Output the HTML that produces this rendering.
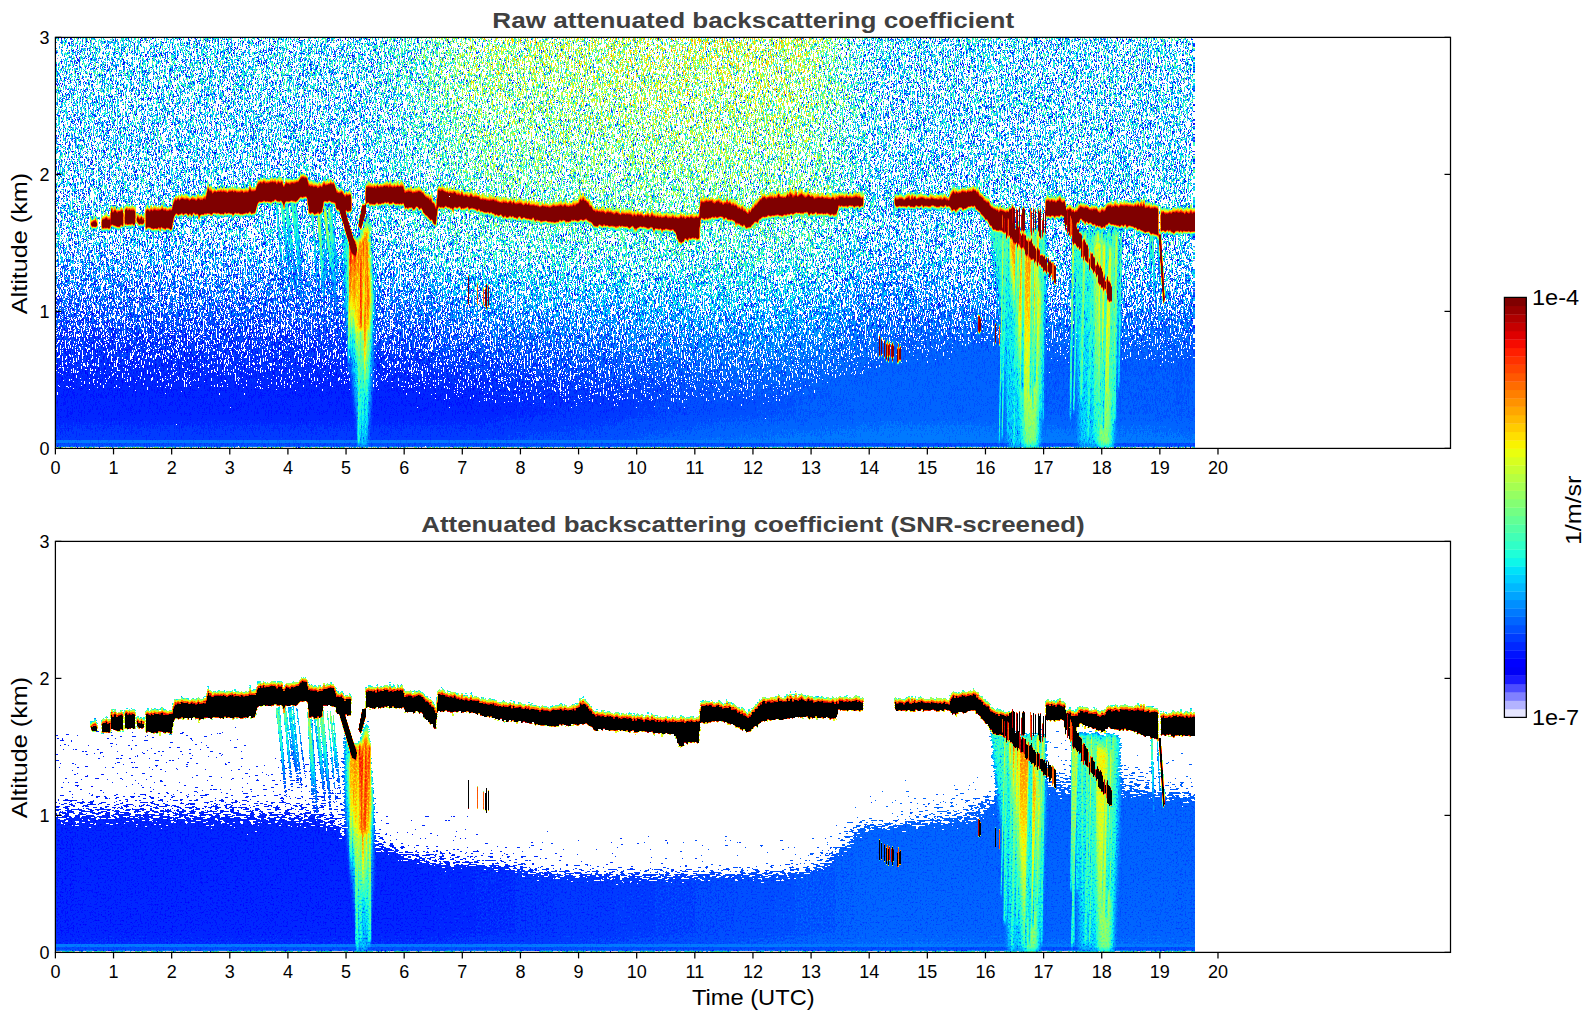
<!DOCTYPE html><html><head><meta charset="utf-8"><style>html,body{margin:0;padding:0;background:#fff;width:1595px;height:1020px;overflow:hidden}svg{display:block}text{font-family:"Liberation Sans",sans-serif}</style></head><body>
<svg width="1595" height="1020" viewBox="0 0 1595 1020">
<rect width="1595" height="1020" fill="#fff"/>
<defs><filter id="hbl" x="-5%" y="-5%" width="110%" height="110%" color-interpolation-filters="sRGB"><feGaussianBlur stdDeviation="9 0"/></filter><filter id="vbl" x="-20%" y="-20%" width="140%" height="140%" color-interpolation-filters="sRGB"><feGaussianBlur stdDeviation="0.5 2.5"/></filter><filter id="ebl" x="-20%" y="-20%" width="140%" height="140%" color-interpolation-filters="sRGB"><feGaussianBlur stdDeviation="2.2 3"/></filter><filter id="bbl2" x="-5%" y="-20%" width="110%" height="140%" color-interpolation-filters="sRGB"><feGaussianBlur stdDeviation="0.3 0.4"/></filter><filter id="bbl" x="-5%" y="-20%" width="110%" height="140%" color-interpolation-filters="sRGB"><feGaussianBlur stdDeviation="0.6 1.2"/></filter><linearGradient id="st0" gradientUnits="userSpaceOnUse" x1="0" y1="37.4" x2="0" y2="448.4"><stop offset="-0.000" stop-color="#3cd47d"/><stop offset="0.100" stop-color="#3bd47d"/><stop offset="0.200" stop-color="#39d47d"/><stop offset="0.300" stop-color="#38d47d"/><stop offset="0.400" stop-color="#37d47d"/><stop offset="0.467" stop-color="#36d47d"/><stop offset="0.533" stop-color="#32ae79"/><stop offset="0.600" stop-color="#2e7f74"/><stop offset="0.667" stop-color="#2b556e"/><stop offset="0.733" stop-color="#273266"/><stop offset="0.783" stop-color="#261d5f"/><stop offset="0.817" stop-color="#251257"/><stop offset="0.850" stop-color="#240b49"/><stop offset="0.883" stop-color="#240900"/><stop offset="0.917" stop-color="#240900"/><stop offset="0.950" stop-color="#270900"/><stop offset="0.980" stop-color="#290900"/><stop offset="0.990" stop-color="#290900"/><stop offset="1.000" stop-color="#290900"/></linearGradient><linearGradient id="st1" gradientUnits="userSpaceOnUse" x1="0" y1="37.4" x2="0" y2="448.4"><stop offset="-0.000" stop-color="#3cd47d"/><stop offset="0.100" stop-color="#3bd47d"/><stop offset="0.200" stop-color="#39d47d"/><stop offset="0.300" stop-color="#38d47d"/><stop offset="0.400" stop-color="#37d47d"/><stop offset="0.467" stop-color="#36d47d"/><stop offset="0.533" stop-color="#32ae79"/><stop offset="0.600" stop-color="#2e7f74"/><stop offset="0.667" stop-color="#2b556e"/><stop offset="0.733" stop-color="#273266"/><stop offset="0.783" stop-color="#261d5f"/><stop offset="0.817" stop-color="#251257"/><stop offset="0.850" stop-color="#240b49"/><stop offset="0.883" stop-color="#240900"/><stop offset="0.917" stop-color="#240900"/><stop offset="0.950" stop-color="#270900"/><stop offset="0.980" stop-color="#290900"/><stop offset="0.990" stop-color="#290900"/><stop offset="1.000" stop-color="#290900"/></linearGradient><linearGradient id="st2" gradientUnits="userSpaceOnUse" x1="0" y1="37.4" x2="0" y2="448.4"><stop offset="-0.000" stop-color="#3cd47d"/><stop offset="0.100" stop-color="#3bd47d"/><stop offset="0.200" stop-color="#39d47d"/><stop offset="0.300" stop-color="#38d47d"/><stop offset="0.400" stop-color="#37d47d"/><stop offset="0.467" stop-color="#36d47d"/><stop offset="0.533" stop-color="#32ae79"/><stop offset="0.600" stop-color="#2e7f74"/><stop offset="0.667" stop-color="#2b556e"/><stop offset="0.733" stop-color="#273266"/><stop offset="0.783" stop-color="#261d5f"/><stop offset="0.817" stop-color="#251257"/><stop offset="0.850" stop-color="#240b49"/><stop offset="0.883" stop-color="#240900"/><stop offset="0.917" stop-color="#240900"/><stop offset="0.950" stop-color="#270900"/><stop offset="0.980" stop-color="#290900"/><stop offset="0.990" stop-color="#290900"/><stop offset="1.000" stop-color="#290900"/></linearGradient><linearGradient id="st3" gradientUnits="userSpaceOnUse" x1="0" y1="37.4" x2="0" y2="448.4"><stop offset="-0.000" stop-color="#3cd47d"/><stop offset="0.100" stop-color="#3bd47d"/><stop offset="0.200" stop-color="#39d47d"/><stop offset="0.300" stop-color="#38d47d"/><stop offset="0.400" stop-color="#37d47d"/><stop offset="0.467" stop-color="#36d47d"/><stop offset="0.533" stop-color="#32ae79"/><stop offset="0.600" stop-color="#2e7f74"/><stop offset="0.667" stop-color="#2b556e"/><stop offset="0.733" stop-color="#273266"/><stop offset="0.783" stop-color="#261d5f"/><stop offset="0.817" stop-color="#251257"/><stop offset="0.850" stop-color="#240b49"/><stop offset="0.883" stop-color="#240900"/><stop offset="0.917" stop-color="#240900"/><stop offset="0.950" stop-color="#270900"/><stop offset="0.980" stop-color="#290900"/><stop offset="0.990" stop-color="#290900"/><stop offset="1.000" stop-color="#290900"/></linearGradient><linearGradient id="st4" gradientUnits="userSpaceOnUse" x1="0" y1="37.4" x2="0" y2="448.4"><stop offset="-0.000" stop-color="#3cd47d"/><stop offset="0.100" stop-color="#3bd47d"/><stop offset="0.200" stop-color="#39d47d"/><stop offset="0.300" stop-color="#38d47d"/><stop offset="0.400" stop-color="#37d47d"/><stop offset="0.467" stop-color="#36d47d"/><stop offset="0.533" stop-color="#32ae79"/><stop offset="0.600" stop-color="#2e7f74"/><stop offset="0.667" stop-color="#2b556e"/><stop offset="0.733" stop-color="#273266"/><stop offset="0.783" stop-color="#261d5f"/><stop offset="0.817" stop-color="#251257"/><stop offset="0.850" stop-color="#240b49"/><stop offset="0.883" stop-color="#240900"/><stop offset="0.917" stop-color="#240900"/><stop offset="0.950" stop-color="#270900"/><stop offset="0.980" stop-color="#290900"/><stop offset="0.990" stop-color="#290900"/><stop offset="1.000" stop-color="#290900"/></linearGradient><linearGradient id="st5" gradientUnits="userSpaceOnUse" x1="0" y1="37.4" x2="0" y2="448.4"><stop offset="-0.000" stop-color="#3cd47d"/><stop offset="0.100" stop-color="#3bd47d"/><stop offset="0.200" stop-color="#39d47d"/><stop offset="0.300" stop-color="#38d47d"/><stop offset="0.400" stop-color="#37d47d"/><stop offset="0.467" stop-color="#36d47d"/><stop offset="0.533" stop-color="#32ae79"/><stop offset="0.600" stop-color="#2e7f74"/><stop offset="0.667" stop-color="#2b556e"/><stop offset="0.733" stop-color="#273266"/><stop offset="0.783" stop-color="#261d5f"/><stop offset="0.817" stop-color="#251257"/><stop offset="0.850" stop-color="#240b49"/><stop offset="0.883" stop-color="#240900"/><stop offset="0.917" stop-color="#240900"/><stop offset="0.950" stop-color="#270900"/><stop offset="0.980" stop-color="#290900"/><stop offset="0.990" stop-color="#290900"/><stop offset="1.000" stop-color="#290900"/></linearGradient><linearGradient id="st6" gradientUnits="userSpaceOnUse" x1="0" y1="37.4" x2="0" y2="448.4"><stop offset="-0.000" stop-color="#3cd47d"/><stop offset="0.100" stop-color="#3bd47d"/><stop offset="0.200" stop-color="#39d47d"/><stop offset="0.300" stop-color="#38d47d"/><stop offset="0.400" stop-color="#37d47d"/><stop offset="0.467" stop-color="#36d47d"/><stop offset="0.533" stop-color="#32ae79"/><stop offset="0.600" stop-color="#2e7f74"/><stop offset="0.667" stop-color="#2b556e"/><stop offset="0.733" stop-color="#273266"/><stop offset="0.783" stop-color="#261d5f"/><stop offset="0.817" stop-color="#251257"/><stop offset="0.850" stop-color="#240b49"/><stop offset="0.883" stop-color="#240900"/><stop offset="0.917" stop-color="#240900"/><stop offset="0.950" stop-color="#270900"/><stop offset="0.980" stop-color="#290900"/><stop offset="0.990" stop-color="#290900"/><stop offset="1.000" stop-color="#290900"/></linearGradient><linearGradient id="st7" gradientUnits="userSpaceOnUse" x1="0" y1="37.4" x2="0" y2="448.4"><stop offset="-0.000" stop-color="#3cd47d"/><stop offset="0.100" stop-color="#3bd47d"/><stop offset="0.200" stop-color="#39d47d"/><stop offset="0.300" stop-color="#38d47d"/><stop offset="0.400" stop-color="#37d47d"/><stop offset="0.467" stop-color="#36d47d"/><stop offset="0.533" stop-color="#32ae79"/><stop offset="0.600" stop-color="#2e7f74"/><stop offset="0.667" stop-color="#2b556e"/><stop offset="0.733" stop-color="#273266"/><stop offset="0.783" stop-color="#261d5f"/><stop offset="0.817" stop-color="#251257"/><stop offset="0.850" stop-color="#240b49"/><stop offset="0.883" stop-color="#240900"/><stop offset="0.917" stop-color="#240900"/><stop offset="0.950" stop-color="#270900"/><stop offset="0.980" stop-color="#290900"/><stop offset="0.990" stop-color="#290900"/><stop offset="1.000" stop-color="#290900"/></linearGradient><linearGradient id="st8" gradientUnits="userSpaceOnUse" x1="0" y1="37.4" x2="0" y2="448.4"><stop offset="-0.000" stop-color="#3cd47d"/><stop offset="0.100" stop-color="#3bd47d"/><stop offset="0.200" stop-color="#39d47d"/><stop offset="0.300" stop-color="#38d47d"/><stop offset="0.400" stop-color="#37d47d"/><stop offset="0.467" stop-color="#36d47d"/><stop offset="0.533" stop-color="#32ae79"/><stop offset="0.600" stop-color="#2e7f74"/><stop offset="0.667" stop-color="#2b556e"/><stop offset="0.733" stop-color="#273266"/><stop offset="0.783" stop-color="#261d5f"/><stop offset="0.817" stop-color="#251257"/><stop offset="0.850" stop-color="#240b49"/><stop offset="0.883" stop-color="#240900"/><stop offset="0.917" stop-color="#240900"/><stop offset="0.950" stop-color="#270900"/><stop offset="0.980" stop-color="#290900"/><stop offset="0.990" stop-color="#290900"/><stop offset="1.000" stop-color="#290900"/></linearGradient><linearGradient id="st9" gradientUnits="userSpaceOnUse" x1="0" y1="37.4" x2="0" y2="448.4"><stop offset="-0.000" stop-color="#3cd47d"/><stop offset="0.100" stop-color="#3bd47d"/><stop offset="0.200" stop-color="#39d47d"/><stop offset="0.300" stop-color="#38d47d"/><stop offset="0.400" stop-color="#37d47d"/><stop offset="0.467" stop-color="#36d47d"/><stop offset="0.533" stop-color="#32ae79"/><stop offset="0.600" stop-color="#2e7f74"/><stop offset="0.667" stop-color="#2b556e"/><stop offset="0.733" stop-color="#273266"/><stop offset="0.783" stop-color="#261d5f"/><stop offset="0.817" stop-color="#251257"/><stop offset="0.850" stop-color="#240b49"/><stop offset="0.883" stop-color="#240900"/><stop offset="0.917" stop-color="#240900"/><stop offset="0.950" stop-color="#270900"/><stop offset="0.980" stop-color="#290900"/><stop offset="0.990" stop-color="#290900"/><stop offset="1.000" stop-color="#290900"/></linearGradient><linearGradient id="st10" gradientUnits="userSpaceOnUse" x1="0" y1="37.4" x2="0" y2="448.4"><stop offset="-0.000" stop-color="#3cd47d"/><stop offset="0.100" stop-color="#3bd47d"/><stop offset="0.200" stop-color="#39d47d"/><stop offset="0.300" stop-color="#38d47d"/><stop offset="0.400" stop-color="#37d47d"/><stop offset="0.467" stop-color="#36d47d"/><stop offset="0.533" stop-color="#32ae79"/><stop offset="0.600" stop-color="#2e7f74"/><stop offset="0.667" stop-color="#2b556e"/><stop offset="0.733" stop-color="#273266"/><stop offset="0.783" stop-color="#261d5f"/><stop offset="0.817" stop-color="#251257"/><stop offset="0.850" stop-color="#240b49"/><stop offset="0.883" stop-color="#240900"/><stop offset="0.917" stop-color="#240900"/><stop offset="0.950" stop-color="#270900"/><stop offset="0.980" stop-color="#290900"/><stop offset="0.990" stop-color="#290900"/><stop offset="1.000" stop-color="#290900"/></linearGradient><linearGradient id="st11" gradientUnits="userSpaceOnUse" x1="0" y1="37.4" x2="0" y2="448.4"><stop offset="-0.000" stop-color="#3cd47d"/><stop offset="0.100" stop-color="#3bd47d"/><stop offset="0.200" stop-color="#39d47d"/><stop offset="0.300" stop-color="#38d47d"/><stop offset="0.400" stop-color="#37d47d"/><stop offset="0.467" stop-color="#36d47d"/><stop offset="0.533" stop-color="#32ae79"/><stop offset="0.600" stop-color="#2e7f74"/><stop offset="0.667" stop-color="#2b556e"/><stop offset="0.733" stop-color="#273266"/><stop offset="0.783" stop-color="#261d5f"/><stop offset="0.817" stop-color="#251257"/><stop offset="0.850" stop-color="#240b49"/><stop offset="0.883" stop-color="#240900"/><stop offset="0.917" stop-color="#240900"/><stop offset="0.950" stop-color="#270900"/><stop offset="0.980" stop-color="#290900"/><stop offset="0.990" stop-color="#290900"/><stop offset="1.000" stop-color="#290900"/></linearGradient><linearGradient id="st12" gradientUnits="userSpaceOnUse" x1="0" y1="37.4" x2="0" y2="448.4"><stop offset="-0.000" stop-color="#3cd47d"/><stop offset="0.100" stop-color="#3bd47d"/><stop offset="0.200" stop-color="#39d47d"/><stop offset="0.300" stop-color="#38d47d"/><stop offset="0.400" stop-color="#37d47d"/><stop offset="0.467" stop-color="#36d47d"/><stop offset="0.533" stop-color="#32ae79"/><stop offset="0.600" stop-color="#2e7f74"/><stop offset="0.667" stop-color="#2b566e"/><stop offset="0.733" stop-color="#283366"/><stop offset="0.783" stop-color="#261e5f"/><stop offset="0.817" stop-color="#251358"/><stop offset="0.850" stop-color="#240b4a"/><stop offset="0.883" stop-color="#240900"/><stop offset="0.917" stop-color="#240900"/><stop offset="0.950" stop-color="#270900"/><stop offset="0.980" stop-color="#290900"/><stop offset="0.990" stop-color="#290900"/><stop offset="1.000" stop-color="#290900"/></linearGradient><linearGradient id="st13" gradientUnits="userSpaceOnUse" x1="0" y1="37.4" x2="0" y2="448.4"><stop offset="-0.000" stop-color="#3cd47d"/><stop offset="0.100" stop-color="#3bd47d"/><stop offset="0.200" stop-color="#39d47d"/><stop offset="0.300" stop-color="#38d47d"/><stop offset="0.400" stop-color="#37d47d"/><stop offset="0.467" stop-color="#36d47d"/><stop offset="0.533" stop-color="#32ae79"/><stop offset="0.600" stop-color="#2e7f74"/><stop offset="0.667" stop-color="#2b566e"/><stop offset="0.733" stop-color="#283367"/><stop offset="0.783" stop-color="#261e5f"/><stop offset="0.817" stop-color="#251358"/><stop offset="0.850" stop-color="#240b4c"/><stop offset="0.883" stop-color="#240900"/><stop offset="0.917" stop-color="#240900"/><stop offset="0.950" stop-color="#270900"/><stop offset="0.980" stop-color="#290900"/><stop offset="0.990" stop-color="#290900"/><stop offset="1.000" stop-color="#290900"/></linearGradient><linearGradient id="st14" gradientUnits="userSpaceOnUse" x1="0" y1="37.4" x2="0" y2="448.4"><stop offset="-0.000" stop-color="#3cd47d"/><stop offset="0.100" stop-color="#3bd47d"/><stop offset="0.200" stop-color="#39d47d"/><stop offset="0.300" stop-color="#38d47d"/><stop offset="0.400" stop-color="#37d47d"/><stop offset="0.467" stop-color="#36d47d"/><stop offset="0.533" stop-color="#32ae79"/><stop offset="0.600" stop-color="#2e8074"/><stop offset="0.667" stop-color="#2b576e"/><stop offset="0.733" stop-color="#283467"/><stop offset="0.783" stop-color="#261f60"/><stop offset="0.817" stop-color="#251459"/><stop offset="0.850" stop-color="#240c4d"/><stop offset="0.883" stop-color="#240900"/><stop offset="0.917" stop-color="#240900"/><stop offset="0.950" stop-color="#270900"/><stop offset="0.980" stop-color="#290900"/><stop offset="0.990" stop-color="#290900"/><stop offset="1.000" stop-color="#290900"/></linearGradient><linearGradient id="st15" gradientUnits="userSpaceOnUse" x1="0" y1="37.4" x2="0" y2="448.4"><stop offset="-0.000" stop-color="#3ed47d"/><stop offset="0.100" stop-color="#3dd47d"/><stop offset="0.200" stop-color="#3cd47d"/><stop offset="0.300" stop-color="#3ad47d"/><stop offset="0.400" stop-color="#38d47d"/><stop offset="0.467" stop-color="#37d47d"/><stop offset="0.533" stop-color="#34b179"/><stop offset="0.600" stop-color="#2f8274"/><stop offset="0.667" stop-color="#2b596e"/><stop offset="0.733" stop-color="#283567"/><stop offset="0.783" stop-color="#262060"/><stop offset="0.817" stop-color="#25145a"/><stop offset="0.850" stop-color="#240c4e"/><stop offset="0.883" stop-color="#240900"/><stop offset="0.917" stop-color="#240900"/><stop offset="0.950" stop-color="#270900"/><stop offset="0.980" stop-color="#290900"/><stop offset="0.990" stop-color="#290900"/><stop offset="1.000" stop-color="#290900"/></linearGradient><linearGradient id="st16" gradientUnits="userSpaceOnUse" x1="0" y1="37.4" x2="0" y2="448.4"><stop offset="-0.000" stop-color="#44d47d"/><stop offset="0.100" stop-color="#42d47d"/><stop offset="0.200" stop-color="#40d47d"/><stop offset="0.300" stop-color="#3ed47d"/><stop offset="0.400" stop-color="#3bd47d"/><stop offset="0.467" stop-color="#3ad47d"/><stop offset="0.533" stop-color="#36b479"/><stop offset="0.600" stop-color="#318574"/><stop offset="0.667" stop-color="#2d5b6f"/><stop offset="0.733" stop-color="#293768"/><stop offset="0.783" stop-color="#272161"/><stop offset="0.817" stop-color="#25165a"/><stop offset="0.850" stop-color="#240d50"/><stop offset="0.883" stop-color="#240900"/><stop offset="0.917" stop-color="#240900"/><stop offset="0.950" stop-color="#270900"/><stop offset="0.980" stop-color="#290900"/><stop offset="0.990" stop-color="#290900"/><stop offset="1.000" stop-color="#290900"/></linearGradient><linearGradient id="st17" gradientUnits="userSpaceOnUse" x1="0" y1="37.4" x2="0" y2="448.4"><stop offset="-0.000" stop-color="#4ad47d"/><stop offset="0.100" stop-color="#48d47d"/><stop offset="0.200" stop-color="#46d47d"/><stop offset="0.300" stop-color="#43d47d"/><stop offset="0.400" stop-color="#3fd47d"/><stop offset="0.467" stop-color="#3dd47d"/><stop offset="0.533" stop-color="#38b77a"/><stop offset="0.600" stop-color="#338775"/><stop offset="0.667" stop-color="#2e5d6f"/><stop offset="0.733" stop-color="#2a3968"/><stop offset="0.783" stop-color="#272361"/><stop offset="0.817" stop-color="#26175b"/><stop offset="0.850" stop-color="#240e52"/><stop offset="0.883" stop-color="#240900"/><stop offset="0.917" stop-color="#240900"/><stop offset="0.950" stop-color="#270900"/><stop offset="0.980" stop-color="#290900"/><stop offset="0.990" stop-color="#290900"/><stop offset="1.000" stop-color="#290900"/></linearGradient><linearGradient id="st18" gradientUnits="userSpaceOnUse" x1="0" y1="37.4" x2="0" y2="448.4"><stop offset="-0.000" stop-color="#52d47d"/><stop offset="0.100" stop-color="#50d47d"/><stop offset="0.200" stop-color="#4cd47d"/><stop offset="0.300" stop-color="#49d47d"/><stop offset="0.400" stop-color="#44d47d"/><stop offset="0.467" stop-color="#40d47d"/><stop offset="0.533" stop-color="#3bba7a"/><stop offset="0.600" stop-color="#358a75"/><stop offset="0.667" stop-color="#30606f"/><stop offset="0.733" stop-color="#2b3b69"/><stop offset="0.783" stop-color="#282562"/><stop offset="0.817" stop-color="#26185c"/><stop offset="0.850" stop-color="#250f54"/><stop offset="0.883" stop-color="#240935"/><stop offset="0.917" stop-color="#240900"/><stop offset="0.950" stop-color="#270900"/><stop offset="0.980" stop-color="#290900"/><stop offset="0.990" stop-color="#290900"/><stop offset="1.000" stop-color="#290900"/></linearGradient><linearGradient id="st19" gradientUnits="userSpaceOnUse" x1="0" y1="37.4" x2="0" y2="448.4"><stop offset="-0.000" stop-color="#5ad47d"/><stop offset="0.100" stop-color="#57d47d"/><stop offset="0.200" stop-color="#53d47d"/><stop offset="0.300" stop-color="#4ed47d"/><stop offset="0.400" stop-color="#48d47d"/><stop offset="0.467" stop-color="#44d47d"/><stop offset="0.533" stop-color="#3ebd7a"/><stop offset="0.600" stop-color="#388d75"/><stop offset="0.667" stop-color="#316270"/><stop offset="0.733" stop-color="#2c3d69"/><stop offset="0.783" stop-color="#292663"/><stop offset="0.817" stop-color="#271a5d"/><stop offset="0.850" stop-color="#251055"/><stop offset="0.883" stop-color="#240a41"/><stop offset="0.917" stop-color="#240900"/><stop offset="0.950" stop-color="#270900"/><stop offset="0.980" stop-color="#290900"/><stop offset="0.990" stop-color="#290900"/><stop offset="1.000" stop-color="#290900"/></linearGradient><linearGradient id="st20" gradientUnits="userSpaceOnUse" x1="0" y1="37.4" x2="0" y2="448.4"><stop offset="-0.000" stop-color="#61d47d"/><stop offset="0.100" stop-color="#5dd47d"/><stop offset="0.200" stop-color="#59d47d"/><stop offset="0.300" stop-color="#53d47d"/><stop offset="0.400" stop-color="#4cd47d"/><stop offset="0.467" stop-color="#47d47d"/><stop offset="0.533" stop-color="#41c07b"/><stop offset="0.600" stop-color="#3a8f76"/><stop offset="0.667" stop-color="#336470"/><stop offset="0.733" stop-color="#2d3f6a"/><stop offset="0.783" stop-color="#2a2863"/><stop offset="0.817" stop-color="#271b5e"/><stop offset="0.850" stop-color="#251156"/><stop offset="0.883" stop-color="#240a46"/><stop offset="0.917" stop-color="#240900"/><stop offset="0.950" stop-color="#270900"/><stop offset="0.980" stop-color="#290900"/><stop offset="0.990" stop-color="#2a0900"/><stop offset="1.000" stop-color="#2a0900"/></linearGradient><linearGradient id="st21" gradientUnits="userSpaceOnUse" x1="0" y1="37.4" x2="0" y2="448.4"><stop offset="-0.000" stop-color="#65d47d"/><stop offset="0.100" stop-color="#62d47d"/><stop offset="0.200" stop-color="#5dd47d"/><stop offset="0.300" stop-color="#57d47d"/><stop offset="0.400" stop-color="#4fd47d"/><stop offset="0.467" stop-color="#49d47d"/><stop offset="0.533" stop-color="#43c27b"/><stop offset="0.600" stop-color="#3b9276"/><stop offset="0.667" stop-color="#346770"/><stop offset="0.733" stop-color="#2f416a"/><stop offset="0.783" stop-color="#2b2a64"/><stop offset="0.817" stop-color="#281d5f"/><stop offset="0.850" stop-color="#261257"/><stop offset="0.883" stop-color="#250b49"/><stop offset="0.917" stop-color="#250900"/><stop offset="0.950" stop-color="#270900"/><stop offset="0.980" stop-color="#2a0900"/><stop offset="0.990" stop-color="#2a0900"/><stop offset="1.000" stop-color="#2a0900"/></linearGradient><linearGradient id="st22" gradientUnits="userSpaceOnUse" x1="0" y1="37.4" x2="0" y2="448.4"><stop offset="-0.000" stop-color="#68d47d"/><stop offset="0.100" stop-color="#64d47d"/><stop offset="0.200" stop-color="#5fd47d"/><stop offset="0.300" stop-color="#58d47d"/><stop offset="0.400" stop-color="#50d47d"/><stop offset="0.467" stop-color="#4ad47d"/><stop offset="0.533" stop-color="#44c57b"/><stop offset="0.600" stop-color="#3c9576"/><stop offset="0.667" stop-color="#356971"/><stop offset="0.733" stop-color="#30436a"/><stop offset="0.783" stop-color="#2b2b64"/><stop offset="0.817" stop-color="#291e5f"/><stop offset="0.850" stop-color="#271358"/><stop offset="0.883" stop-color="#250b4c"/><stop offset="0.917" stop-color="#250900"/><stop offset="0.950" stop-color="#280900"/><stop offset="0.980" stop-color="#2a0900"/><stop offset="0.990" stop-color="#2b0900"/><stop offset="1.000" stop-color="#2b0900"/></linearGradient><linearGradient id="st23" gradientUnits="userSpaceOnUse" x1="0" y1="37.4" x2="0" y2="448.4"><stop offset="-0.000" stop-color="#68d47d"/><stop offset="0.100" stop-color="#64d47d"/><stop offset="0.200" stop-color="#5fd47d"/><stop offset="0.300" stop-color="#58d47d"/><stop offset="0.400" stop-color="#50d47d"/><stop offset="0.467" stop-color="#4ad47d"/><stop offset="0.533" stop-color="#44c87b"/><stop offset="0.600" stop-color="#3d9676"/><stop offset="0.667" stop-color="#366b71"/><stop offset="0.733" stop-color="#30456b"/><stop offset="0.783" stop-color="#2c2c65"/><stop offset="0.817" stop-color="#2a1f60"/><stop offset="0.850" stop-color="#271459"/><stop offset="0.883" stop-color="#260c4d"/><stop offset="0.917" stop-color="#260900"/><stop offset="0.950" stop-color="#290900"/><stop offset="0.980" stop-color="#2b0900"/><stop offset="0.990" stop-color="#2b0900"/><stop offset="1.000" stop-color="#2b0900"/></linearGradient><linearGradient id="st24" gradientUnits="userSpaceOnUse" x1="0" y1="37.4" x2="0" y2="448.4"><stop offset="-0.000" stop-color="#68d47d"/><stop offset="0.100" stop-color="#65d47d"/><stop offset="0.200" stop-color="#5fd47d"/><stop offset="0.300" stop-color="#59d47d"/><stop offset="0.400" stop-color="#50d47d"/><stop offset="0.467" stop-color="#4ad47d"/><stop offset="0.533" stop-color="#44c87b"/><stop offset="0.600" stop-color="#3d9676"/><stop offset="0.667" stop-color="#366b71"/><stop offset="0.733" stop-color="#31456b"/><stop offset="0.783" stop-color="#2d2c65"/><stop offset="0.817" stop-color="#2a1f60"/><stop offset="0.850" stop-color="#281459"/><stop offset="0.883" stop-color="#270c4d"/><stop offset="0.917" stop-color="#260900"/><stop offset="0.950" stop-color="#290900"/><stop offset="0.980" stop-color="#2c0900"/><stop offset="0.990" stop-color="#2c0900"/><stop offset="1.000" stop-color="#2c0900"/></linearGradient><linearGradient id="st25" gradientUnits="userSpaceOnUse" x1="0" y1="37.4" x2="0" y2="448.4"><stop offset="-0.000" stop-color="#69d47d"/><stop offset="0.100" stop-color="#65d47d"/><stop offset="0.200" stop-color="#60d47d"/><stop offset="0.300" stop-color="#59d47d"/><stop offset="0.400" stop-color="#51d47d"/><stop offset="0.467" stop-color="#4bd47d"/><stop offset="0.533" stop-color="#45c87b"/><stop offset="0.600" stop-color="#3d9676"/><stop offset="0.667" stop-color="#376b71"/><stop offset="0.733" stop-color="#31456b"/><stop offset="0.783" stop-color="#2d2c65"/><stop offset="0.817" stop-color="#2b1f60"/><stop offset="0.850" stop-color="#281459"/><stop offset="0.883" stop-color="#270c4d"/><stop offset="0.917" stop-color="#270900"/><stop offset="0.950" stop-color="#2a0900"/><stop offset="0.980" stop-color="#2c0900"/><stop offset="0.990" stop-color="#2d0900"/><stop offset="1.000" stop-color="#2d0900"/></linearGradient><linearGradient id="st26" gradientUnits="userSpaceOnUse" x1="0" y1="37.4" x2="0" y2="448.4"><stop offset="-0.000" stop-color="#6ad47d"/><stop offset="0.100" stop-color="#66d47d"/><stop offset="0.200" stop-color="#61d47d"/><stop offset="0.300" stop-color="#5ad47d"/><stop offset="0.400" stop-color="#52d47d"/><stop offset="0.467" stop-color="#4bd47d"/><stop offset="0.533" stop-color="#45c87b"/><stop offset="0.600" stop-color="#3e9676"/><stop offset="0.667" stop-color="#376b71"/><stop offset="0.733" stop-color="#32456b"/><stop offset="0.783" stop-color="#2e2c65"/><stop offset="0.817" stop-color="#2b1f60"/><stop offset="0.850" stop-color="#291459"/><stop offset="0.883" stop-color="#280c4d"/><stop offset="0.917" stop-color="#280900"/><stop offset="0.950" stop-color="#2a0900"/><stop offset="0.980" stop-color="#2d0900"/><stop offset="0.990" stop-color="#2d0900"/><stop offset="1.000" stop-color="#2d0900"/></linearGradient><linearGradient id="st27" gradientUnits="userSpaceOnUse" x1="0" y1="37.4" x2="0" y2="448.4"><stop offset="-0.000" stop-color="#6cd47d"/><stop offset="0.100" stop-color="#68d47d"/><stop offset="0.200" stop-color="#62d47d"/><stop offset="0.300" stop-color="#5bd47d"/><stop offset="0.400" stop-color="#52d47d"/><stop offset="0.467" stop-color="#4cd47d"/><stop offset="0.533" stop-color="#45c87b"/><stop offset="0.600" stop-color="#3e9676"/><stop offset="0.667" stop-color="#386b71"/><stop offset="0.733" stop-color="#32456b"/><stop offset="0.783" stop-color="#2e2c65"/><stop offset="0.817" stop-color="#2c1f60"/><stop offset="0.850" stop-color="#2a1459"/><stop offset="0.883" stop-color="#280c4d"/><stop offset="0.917" stop-color="#280900"/><stop offset="0.950" stop-color="#2b0900"/><stop offset="0.980" stop-color="#2d0900"/><stop offset="0.990" stop-color="#2e0900"/><stop offset="1.000" stop-color="#2e0900"/></linearGradient><linearGradient id="st28" gradientUnits="userSpaceOnUse" x1="0" y1="37.4" x2="0" y2="448.4"><stop offset="-0.000" stop-color="#6dd47d"/><stop offset="0.100" stop-color="#69d47d"/><stop offset="0.200" stop-color="#63d47d"/><stop offset="0.300" stop-color="#5cd47d"/><stop offset="0.400" stop-color="#53d47d"/><stop offset="0.467" stop-color="#4cd47d"/><stop offset="0.533" stop-color="#46c87b"/><stop offset="0.600" stop-color="#3f9676"/><stop offset="0.667" stop-color="#396b71"/><stop offset="0.733" stop-color="#33456b"/><stop offset="0.783" stop-color="#2f2c65"/><stop offset="0.817" stop-color="#2d1f60"/><stop offset="0.850" stop-color="#2a1459"/><stop offset="0.883" stop-color="#290c4d"/><stop offset="0.917" stop-color="#290900"/><stop offset="0.950" stop-color="#2c0900"/><stop offset="0.980" stop-color="#2e0900"/><stop offset="0.990" stop-color="#2f0900"/><stop offset="1.000" stop-color="#2f0900"/></linearGradient><linearGradient id="st29" gradientUnits="userSpaceOnUse" x1="0" y1="37.4" x2="0" y2="448.4"><stop offset="-0.000" stop-color="#6ed47d"/><stop offset="0.100" stop-color="#6ad47d"/><stop offset="0.200" stop-color="#64d47d"/><stop offset="0.300" stop-color="#5dd47d"/><stop offset="0.400" stop-color="#54d47d"/><stop offset="0.467" stop-color="#4dd47d"/><stop offset="0.533" stop-color="#46c87b"/><stop offset="0.600" stop-color="#409676"/><stop offset="0.667" stop-color="#396b71"/><stop offset="0.733" stop-color="#34456b"/><stop offset="0.783" stop-color="#302c65"/><stop offset="0.817" stop-color="#2d1f60"/><stop offset="0.850" stop-color="#2b1459"/><stop offset="0.883" stop-color="#2a0c4d"/><stop offset="0.917" stop-color="#2a0900"/><stop offset="0.950" stop-color="#2d0900"/><stop offset="0.980" stop-color="#2f0900"/><stop offset="0.990" stop-color="#2f0900"/><stop offset="1.000" stop-color="#2f0900"/></linearGradient><linearGradient id="st30" gradientUnits="userSpaceOnUse" x1="0" y1="37.4" x2="0" y2="448.4"><stop offset="-0.000" stop-color="#6fd47d"/><stop offset="0.100" stop-color="#6bd47d"/><stop offset="0.200" stop-color="#65d47d"/><stop offset="0.300" stop-color="#5ed47d"/><stop offset="0.400" stop-color="#54d47d"/><stop offset="0.467" stop-color="#4dd47d"/><stop offset="0.533" stop-color="#47c87b"/><stop offset="0.600" stop-color="#409676"/><stop offset="0.667" stop-color="#3a6b71"/><stop offset="0.733" stop-color="#34456b"/><stop offset="0.783" stop-color="#312c65"/><stop offset="0.817" stop-color="#2e1f60"/><stop offset="0.850" stop-color="#2c1459"/><stop offset="0.883" stop-color="#2b0c4d"/><stop offset="0.917" stop-color="#2b0900"/><stop offset="0.950" stop-color="#2d0900"/><stop offset="0.980" stop-color="#300900"/><stop offset="0.990" stop-color="#300900"/><stop offset="1.000" stop-color="#300900"/></linearGradient><linearGradient id="st31" gradientUnits="userSpaceOnUse" x1="0" y1="37.4" x2="0" y2="448.4"><stop offset="-0.000" stop-color="#6fd47d"/><stop offset="0.100" stop-color="#6bd47d"/><stop offset="0.200" stop-color="#65d47d"/><stop offset="0.300" stop-color="#5ed47d"/><stop offset="0.400" stop-color="#55d47d"/><stop offset="0.467" stop-color="#4dd47d"/><stop offset="0.533" stop-color="#47c87b"/><stop offset="0.600" stop-color="#419676"/><stop offset="0.667" stop-color="#3a6b71"/><stop offset="0.733" stop-color="#35456b"/><stop offset="0.783" stop-color="#312c65"/><stop offset="0.817" stop-color="#2f1f60"/><stop offset="0.850" stop-color="#2d1459"/><stop offset="0.883" stop-color="#2c0c4d"/><stop offset="0.917" stop-color="#2b0900"/><stop offset="0.950" stop-color="#2e0900"/><stop offset="0.980" stop-color="#310900"/><stop offset="0.990" stop-color="#310900"/><stop offset="1.000" stop-color="#310900"/></linearGradient><linearGradient id="st32" gradientUnits="userSpaceOnUse" x1="0" y1="37.4" x2="0" y2="448.4"><stop offset="-0.000" stop-color="#70d47d"/><stop offset="0.100" stop-color="#6bd47d"/><stop offset="0.200" stop-color="#65d47d"/><stop offset="0.300" stop-color="#5ed47d"/><stop offset="0.400" stop-color="#55d47d"/><stop offset="0.467" stop-color="#4dd47d"/><stop offset="0.533" stop-color="#47c77b"/><stop offset="0.600" stop-color="#419676"/><stop offset="0.667" stop-color="#3b6a71"/><stop offset="0.733" stop-color="#36446b"/><stop offset="0.783" stop-color="#322c65"/><stop offset="0.817" stop-color="#301e5f"/><stop offset="0.850" stop-color="#2e1359"/><stop offset="0.883" stop-color="#2c0b4c"/><stop offset="0.917" stop-color="#2c0900"/><stop offset="0.950" stop-color="#2f0900"/><stop offset="0.980" stop-color="#320900"/><stop offset="0.990" stop-color="#320900"/><stop offset="1.000" stop-color="#320900"/></linearGradient><linearGradient id="st33" gradientUnits="userSpaceOnUse" x1="0" y1="37.4" x2="0" y2="448.4"><stop offset="-0.000" stop-color="#70d47d"/><stop offset="0.100" stop-color="#6bd47d"/><stop offset="0.200" stop-color="#65d47d"/><stop offset="0.300" stop-color="#5ed47d"/><stop offset="0.400" stop-color="#55d47d"/><stop offset="0.467" stop-color="#4dd47d"/><stop offset="0.533" stop-color="#47c77b"/><stop offset="0.600" stop-color="#419676"/><stop offset="0.667" stop-color="#3b6971"/><stop offset="0.733" stop-color="#36436a"/><stop offset="0.783" stop-color="#332b64"/><stop offset="0.817" stop-color="#301e5f"/><stop offset="0.850" stop-color="#2e1358"/><stop offset="0.883" stop-color="#2d0b4a"/><stop offset="0.917" stop-color="#2d0900"/><stop offset="0.950" stop-color="#300900"/><stop offset="0.980" stop-color="#320900"/><stop offset="0.990" stop-color="#330900"/><stop offset="1.000" stop-color="#330900"/></linearGradient><linearGradient id="st34" gradientUnits="userSpaceOnUse" x1="0" y1="37.4" x2="0" y2="448.4"><stop offset="-0.000" stop-color="#70d47d"/><stop offset="0.100" stop-color="#6bd47d"/><stop offset="0.200" stop-color="#65d47d"/><stop offset="0.300" stop-color="#5ed47d"/><stop offset="0.400" stop-color="#55d47d"/><stop offset="0.467" stop-color="#4dd47d"/><stop offset="0.533" stop-color="#47c77b"/><stop offset="0.600" stop-color="#419576"/><stop offset="0.667" stop-color="#3b6971"/><stop offset="0.733" stop-color="#36426a"/><stop offset="0.783" stop-color="#332a64"/><stop offset="0.817" stop-color="#311d5f"/><stop offset="0.850" stop-color="#2f1257"/><stop offset="0.883" stop-color="#2d0a48"/><stop offset="0.917" stop-color="#2d0900"/><stop offset="0.950" stop-color="#300900"/><stop offset="0.980" stop-color="#330900"/><stop offset="0.990" stop-color="#330900"/><stop offset="1.000" stop-color="#330900"/></linearGradient><linearGradient id="st35" gradientUnits="userSpaceOnUse" x1="0" y1="37.4" x2="0" y2="448.4"><stop offset="-0.000" stop-color="#70d47d"/><stop offset="0.100" stop-color="#6bd47d"/><stop offset="0.200" stop-color="#65d47d"/><stop offset="0.300" stop-color="#5ed47d"/><stop offset="0.400" stop-color="#55d47d"/><stop offset="0.467" stop-color="#4dd47d"/><stop offset="0.533" stop-color="#47c67b"/><stop offset="0.600" stop-color="#419476"/><stop offset="0.667" stop-color="#3b6771"/><stop offset="0.733" stop-color="#37416a"/><stop offset="0.783" stop-color="#332964"/><stop offset="0.817" stop-color="#311c5e"/><stop offset="0.850" stop-color="#2f1156"/><stop offset="0.883" stop-color="#2e0a45"/><stop offset="0.917" stop-color="#2e0900"/><stop offset="0.950" stop-color="#310900"/><stop offset="0.980" stop-color="#330900"/><stop offset="0.990" stop-color="#330900"/><stop offset="1.000" stop-color="#330900"/></linearGradient><linearGradient id="st36" gradientUnits="userSpaceOnUse" x1="0" y1="37.4" x2="0" y2="448.4"><stop offset="-0.000" stop-color="#70d47d"/><stop offset="0.100" stop-color="#6bd47d"/><stop offset="0.200" stop-color="#65d47d"/><stop offset="0.300" stop-color="#5ed47d"/><stop offset="0.400" stop-color="#55d47d"/><stop offset="0.467" stop-color="#4dd47d"/><stop offset="0.533" stop-color="#47c37b"/><stop offset="0.600" stop-color="#419176"/><stop offset="0.667" stop-color="#3c6570"/><stop offset="0.733" stop-color="#373f69"/><stop offset="0.783" stop-color="#332763"/><stop offset="0.817" stop-color="#311a5d"/><stop offset="0.850" stop-color="#2f1055"/><stop offset="0.883" stop-color="#2e0a3e"/><stop offset="0.917" stop-color="#2e0900"/><stop offset="0.950" stop-color="#310900"/><stop offset="0.980" stop-color="#340900"/><stop offset="0.990" stop-color="#340900"/><stop offset="1.000" stop-color="#340900"/></linearGradient><linearGradient id="st37" gradientUnits="userSpaceOnUse" x1="0" y1="37.4" x2="0" y2="448.4"><stop offset="-0.000" stop-color="#6cd47d"/><stop offset="0.100" stop-color="#68d47d"/><stop offset="0.200" stop-color="#62d47d"/><stop offset="0.300" stop-color="#5bd47d"/><stop offset="0.400" stop-color="#52d47d"/><stop offset="0.467" stop-color="#4cd47d"/><stop offset="0.533" stop-color="#46c17b"/><stop offset="0.600" stop-color="#408e75"/><stop offset="0.667" stop-color="#3b606f"/><stop offset="0.733" stop-color="#363a68"/><stop offset="0.783" stop-color="#332261"/><stop offset="0.817" stop-color="#31165b"/><stop offset="0.850" stop-color="#2f0d50"/><stop offset="0.883" stop-color="#2f0900"/><stop offset="0.917" stop-color="#2f0900"/><stop offset="0.950" stop-color="#310900"/><stop offset="0.980" stop-color="#340900"/><stop offset="0.990" stop-color="#340900"/><stop offset="1.000" stop-color="#340900"/></linearGradient><linearGradient id="st38" gradientUnits="userSpaceOnUse" x1="0" y1="37.4" x2="0" y2="448.4"><stop offset="-0.000" stop-color="#60d47d"/><stop offset="0.100" stop-color="#5dd47d"/><stop offset="0.200" stop-color="#58d47d"/><stop offset="0.300" stop-color="#53d47d"/><stop offset="0.400" stop-color="#4cd47d"/><stop offset="0.467" stop-color="#47d47d"/><stop offset="0.533" stop-color="#42be7a"/><stop offset="0.600" stop-color="#3d8975"/><stop offset="0.667" stop-color="#395b6f"/><stop offset="0.733" stop-color="#353567"/><stop offset="0.783" stop-color="#331e5f"/><stop offset="0.817" stop-color="#311257"/><stop offset="0.850" stop-color="#300a47"/><stop offset="0.883" stop-color="#2f0900"/><stop offset="0.917" stop-color="#2f0900"/><stop offset="0.950" stop-color="#320900"/><stop offset="0.980" stop-color="#340900"/><stop offset="0.990" stop-color="#350900"/><stop offset="1.000" stop-color="#350900"/></linearGradient><linearGradient id="st39" gradientUnits="userSpaceOnUse" x1="0" y1="37.4" x2="0" y2="448.4"><stop offset="-0.000" stop-color="#52d47d"/><stop offset="0.100" stop-color="#4fd47d"/><stop offset="0.200" stop-color="#4cd47d"/><stop offset="0.300" stop-color="#48d47d"/><stop offset="0.400" stop-color="#44d47d"/><stop offset="0.467" stop-color="#40d47d"/><stop offset="0.533" stop-color="#3dba7a"/><stop offset="0.600" stop-color="#398574"/><stop offset="0.667" stop-color="#36566e"/><stop offset="0.733" stop-color="#332f66"/><stop offset="0.783" stop-color="#32195d"/><stop offset="0.817" stop-color="#310e53"/><stop offset="0.850" stop-color="#300900"/><stop offset="0.883" stop-color="#2f0900"/><stop offset="0.917" stop-color="#2f0900"/><stop offset="0.950" stop-color="#320900"/><stop offset="0.980" stop-color="#350900"/><stop offset="0.990" stop-color="#350900"/><stop offset="1.000" stop-color="#350900"/></linearGradient><linearGradient id="st40" gradientUnits="userSpaceOnUse" x1="0" y1="37.4" x2="0" y2="448.4"><stop offset="-0.000" stop-color="#44d47d"/><stop offset="0.100" stop-color="#43d47d"/><stop offset="0.200" stop-color="#41d47d"/><stop offset="0.300" stop-color="#3ed47d"/><stop offset="0.400" stop-color="#3cd47d"/><stop offset="0.467" stop-color="#3ad47d"/><stop offset="0.533" stop-color="#38b77a"/><stop offset="0.600" stop-color="#367f74"/><stop offset="0.667" stop-color="#33506d"/><stop offset="0.733" stop-color="#322964"/><stop offset="0.783" stop-color="#311459"/><stop offset="0.817" stop-color="#300b49"/><stop offset="0.850" stop-color="#300900"/><stop offset="0.883" stop-color="#300900"/><stop offset="0.917" stop-color="#300900"/><stop offset="0.950" stop-color="#330900"/><stop offset="0.980" stop-color="#350900"/><stop offset="0.990" stop-color="#350900"/><stop offset="1.000" stop-color="#350900"/></linearGradient><linearGradient id="st41" gradientUnits="userSpaceOnUse" x1="0" y1="37.4" x2="0" y2="448.4"><stop offset="-0.000" stop-color="#3cd47d"/><stop offset="0.100" stop-color="#3bd47d"/><stop offset="0.200" stop-color="#3ad47d"/><stop offset="0.300" stop-color="#39d47d"/><stop offset="0.400" stop-color="#37d47d"/><stop offset="0.467" stop-color="#37d47d"/><stop offset="0.533" stop-color="#35bb7a"/><stop offset="0.600" stop-color="#337f74"/><stop offset="0.667" stop-color="#324c6c"/><stop offset="0.733" stop-color="#312462"/><stop offset="0.783" stop-color="#300f54"/><stop offset="0.817" stop-color="#300900"/><stop offset="0.850" stop-color="#300900"/><stop offset="0.883" stop-color="#300900"/><stop offset="0.917" stop-color="#300900"/><stop offset="0.950" stop-color="#330900"/><stop offset="0.980" stop-color="#350900"/><stop offset="0.990" stop-color="#350900"/><stop offset="1.000" stop-color="#350900"/></linearGradient><linearGradient id="st42" gradientUnits="userSpaceOnUse" x1="0" y1="37.4" x2="0" y2="448.4"><stop offset="-0.000" stop-color="#3cd47d"/><stop offset="0.100" stop-color="#3bd47d"/><stop offset="0.200" stop-color="#39d47d"/><stop offset="0.300" stop-color="#38d47d"/><stop offset="0.400" stop-color="#37d47d"/><stop offset="0.467" stop-color="#36d47d"/><stop offset="0.533" stop-color="#35c27b"/><stop offset="0.600" stop-color="#338174"/><stop offset="0.667" stop-color="#324a6c"/><stop offset="0.733" stop-color="#302060"/><stop offset="0.783" stop-color="#300c4d"/><stop offset="0.817" stop-color="#300900"/><stop offset="0.850" stop-color="#300900"/><stop offset="0.883" stop-color="#300900"/><stop offset="0.917" stop-color="#300900"/><stop offset="0.950" stop-color="#330900"/><stop offset="0.980" stop-color="#350900"/><stop offset="0.990" stop-color="#350900"/><stop offset="1.000" stop-color="#350900"/></linearGradient><linearGradient id="st43" gradientUnits="userSpaceOnUse" x1="0" y1="37.4" x2="0" y2="448.4"><stop offset="-0.000" stop-color="#3cd47d"/><stop offset="0.100" stop-color="#3bd47d"/><stop offset="0.200" stop-color="#39d47d"/><stop offset="0.300" stop-color="#38d47d"/><stop offset="0.400" stop-color="#37d47d"/><stop offset="0.467" stop-color="#36d47d"/><stop offset="0.533" stop-color="#35ca7c"/><stop offset="0.600" stop-color="#338574"/><stop offset="0.667" stop-color="#324a6c"/><stop offset="0.733" stop-color="#301e5f"/><stop offset="0.783" stop-color="#300b48"/><stop offset="0.817" stop-color="#300900"/><stop offset="0.850" stop-color="#300900"/><stop offset="0.883" stop-color="#300900"/><stop offset="0.917" stop-color="#300900"/><stop offset="0.950" stop-color="#330900"/><stop offset="0.980" stop-color="#350900"/><stop offset="0.990" stop-color="#350900"/><stop offset="1.000" stop-color="#350900"/></linearGradient><linearGradient id="st44" gradientUnits="userSpaceOnUse" x1="0" y1="37.4" x2="0" y2="448.4"><stop offset="-0.000" stop-color="#3cd47d"/><stop offset="0.100" stop-color="#3bd47d"/><stop offset="0.200" stop-color="#3ad47d"/><stop offset="0.300" stop-color="#38d47d"/><stop offset="0.400" stop-color="#37d47d"/><stop offset="0.467" stop-color="#37d47d"/><stop offset="0.533" stop-color="#36d47c"/><stop offset="0.600" stop-color="#348975"/><stop offset="0.667" stop-color="#324b6c"/><stop offset="0.733" stop-color="#301d5f"/><stop offset="0.783" stop-color="#300a3f"/><stop offset="0.817" stop-color="#300900"/><stop offset="0.850" stop-color="#300900"/><stop offset="0.883" stop-color="#300900"/><stop offset="0.917" stop-color="#300900"/><stop offset="0.950" stop-color="#330900"/><stop offset="0.980" stop-color="#350900"/><stop offset="0.990" stop-color="#350900"/><stop offset="1.000" stop-color="#350900"/></linearGradient><linearGradient id="st45" gradientUnits="userSpaceOnUse" x1="0" y1="37.4" x2="0" y2="448.4"><stop offset="-0.000" stop-color="#3cd47d"/><stop offset="0.100" stop-color="#3bd47d"/><stop offset="0.200" stop-color="#3ad47d"/><stop offset="0.300" stop-color="#38d47d"/><stop offset="0.400" stop-color="#37d47d"/><stop offset="0.467" stop-color="#37d47d"/><stop offset="0.533" stop-color="#36d47d"/><stop offset="0.600" stop-color="#348f76"/><stop offset="0.667" stop-color="#324d6c"/><stop offset="0.733" stop-color="#301c5f"/><stop offset="0.783" stop-color="#300900"/><stop offset="0.817" stop-color="#300900"/><stop offset="0.850" stop-color="#300900"/><stop offset="0.883" stop-color="#300900"/><stop offset="0.917" stop-color="#300900"/><stop offset="0.950" stop-color="#330900"/><stop offset="0.980" stop-color="#350900"/><stop offset="0.990" stop-color="#350900"/><stop offset="1.000" stop-color="#350900"/></linearGradient><linearGradient id="st46" gradientUnits="userSpaceOnUse" x1="0" y1="37.4" x2="0" y2="448.4"><stop offset="-0.000" stop-color="#3cd47d"/><stop offset="0.100" stop-color="#3bd47d"/><stop offset="0.200" stop-color="#3ad47d"/><stop offset="0.300" stop-color="#39d47d"/><stop offset="0.400" stop-color="#37d47d"/><stop offset="0.467" stop-color="#37d47d"/><stop offset="0.533" stop-color="#36d47d"/><stop offset="0.600" stop-color="#349776"/><stop offset="0.667" stop-color="#32516d"/><stop offset="0.733" stop-color="#301d5f"/><stop offset="0.783" stop-color="#300900"/><stop offset="0.817" stop-color="#300900"/><stop offset="0.850" stop-color="#300900"/><stop offset="0.883" stop-color="#300900"/><stop offset="0.917" stop-color="#300900"/><stop offset="0.950" stop-color="#330900"/><stop offset="0.980" stop-color="#350900"/><stop offset="0.990" stop-color="#350900"/><stop offset="1.000" stop-color="#350900"/></linearGradient><linearGradient id="st47" gradientUnits="userSpaceOnUse" x1="0" y1="37.4" x2="0" y2="448.4"><stop offset="-0.000" stop-color="#3cd47d"/><stop offset="0.100" stop-color="#3bd47d"/><stop offset="0.200" stop-color="#3ad47d"/><stop offset="0.300" stop-color="#39d47d"/><stop offset="0.400" stop-color="#37d47d"/><stop offset="0.467" stop-color="#37d47d"/><stop offset="0.533" stop-color="#36d47d"/><stop offset="0.600" stop-color="#349776"/><stop offset="0.667" stop-color="#32516d"/><stop offset="0.733" stop-color="#301d5f"/><stop offset="0.783" stop-color="#300900"/><stop offset="0.817" stop-color="#300900"/><stop offset="0.850" stop-color="#300900"/><stop offset="0.883" stop-color="#300900"/><stop offset="0.917" stop-color="#300900"/><stop offset="0.950" stop-color="#320900"/><stop offset="0.980" stop-color="#350900"/><stop offset="0.990" stop-color="#350900"/><stop offset="1.000" stop-color="#350900"/></linearGradient><linearGradient id="st48" gradientUnits="userSpaceOnUse" x1="0" y1="37.4" x2="0" y2="448.4"><stop offset="-0.000" stop-color="#3cd47d"/><stop offset="0.100" stop-color="#3bd47d"/><stop offset="0.200" stop-color="#3ad47d"/><stop offset="0.300" stop-color="#39d47d"/><stop offset="0.400" stop-color="#37d47d"/><stop offset="0.467" stop-color="#37d47d"/><stop offset="0.533" stop-color="#36d47d"/><stop offset="0.600" stop-color="#349777"/><stop offset="0.667" stop-color="#32526d"/><stop offset="0.733" stop-color="#301e5f"/><stop offset="0.783" stop-color="#300937"/><stop offset="0.817" stop-color="#300900"/><stop offset="0.850" stop-color="#300900"/><stop offset="0.883" stop-color="#300900"/><stop offset="0.917" stop-color="#300900"/><stop offset="0.950" stop-color="#320900"/><stop offset="0.980" stop-color="#350900"/><stop offset="0.990" stop-color="#350900"/><stop offset="1.000" stop-color="#350900"/></linearGradient><linearGradient id="st49" gradientUnits="userSpaceOnUse" x1="0" y1="37.4" x2="0" y2="448.4"><stop offset="-0.000" stop-color="#3cd47d"/><stop offset="0.100" stop-color="#3bd47d"/><stop offset="0.200" stop-color="#3ad47d"/><stop offset="0.300" stop-color="#39d47d"/><stop offset="0.400" stop-color="#37d47d"/><stop offset="0.467" stop-color="#37d47d"/><stop offset="0.533" stop-color="#36d47d"/><stop offset="0.600" stop-color="#349877"/><stop offset="0.667" stop-color="#32536d"/><stop offset="0.733" stop-color="#301f60"/><stop offset="0.783" stop-color="#2f0a41"/><stop offset="0.817" stop-color="#2f0900"/><stop offset="0.850" stop-color="#2f0900"/><stop offset="0.883" stop-color="#2f0900"/><stop offset="0.917" stop-color="#2f0900"/><stop offset="0.950" stop-color="#320900"/><stop offset="0.980" stop-color="#350900"/><stop offset="0.990" stop-color="#350900"/><stop offset="1.000" stop-color="#350900"/></linearGradient><linearGradient id="st50" gradientUnits="userSpaceOnUse" x1="0" y1="37.4" x2="0" y2="448.4"><stop offset="-0.000" stop-color="#3cd47d"/><stop offset="0.100" stop-color="#3bd47d"/><stop offset="0.200" stop-color="#3ad47d"/><stop offset="0.300" stop-color="#39d47d"/><stop offset="0.400" stop-color="#37d47d"/><stop offset="0.467" stop-color="#37d47d"/><stop offset="0.533" stop-color="#36d47d"/><stop offset="0.600" stop-color="#349877"/><stop offset="0.667" stop-color="#32546d"/><stop offset="0.733" stop-color="#302060"/><stop offset="0.783" stop-color="#2f0a45"/><stop offset="0.817" stop-color="#2f0900"/><stop offset="0.850" stop-color="#2f0900"/><stop offset="0.883" stop-color="#2f0900"/><stop offset="0.917" stop-color="#2f0900"/><stop offset="0.950" stop-color="#320900"/><stop offset="0.980" stop-color="#350900"/><stop offset="0.990" stop-color="#350900"/><stop offset="1.000" stop-color="#350900"/></linearGradient><linearGradient id="st51" gradientUnits="userSpaceOnUse" x1="0" y1="37.4" x2="0" y2="448.4"><stop offset="-0.000" stop-color="#3cd47d"/><stop offset="0.100" stop-color="#3bd47d"/><stop offset="0.200" stop-color="#3ad47d"/><stop offset="0.300" stop-color="#39d47d"/><stop offset="0.400" stop-color="#37d47d"/><stop offset="0.467" stop-color="#37d47d"/><stop offset="0.533" stop-color="#36d47d"/><stop offset="0.600" stop-color="#349977"/><stop offset="0.667" stop-color="#32556e"/><stop offset="0.733" stop-color="#302161"/><stop offset="0.783" stop-color="#2f0b49"/><stop offset="0.817" stop-color="#2f0900"/><stop offset="0.850" stop-color="#2f0900"/><stop offset="0.883" stop-color="#2f0900"/><stop offset="0.917" stop-color="#2f0900"/><stop offset="0.950" stop-color="#320900"/><stop offset="0.980" stop-color="#350900"/><stop offset="0.990" stop-color="#350900"/><stop offset="1.000" stop-color="#350900"/></linearGradient><linearGradient id="st52" gradientUnits="userSpaceOnUse" x1="0" y1="37.4" x2="0" y2="448.4"><stop offset="-0.000" stop-color="#3cd47d"/><stop offset="0.100" stop-color="#3bd47d"/><stop offset="0.200" stop-color="#3ad47d"/><stop offset="0.300" stop-color="#39d47d"/><stop offset="0.400" stop-color="#37d47d"/><stop offset="0.467" stop-color="#37d47d"/><stop offset="0.533" stop-color="#36d47d"/><stop offset="0.600" stop-color="#349977"/><stop offset="0.667" stop-color="#32566e"/><stop offset="0.733" stop-color="#302261"/><stop offset="0.783" stop-color="#2f0b4b"/><stop offset="0.817" stop-color="#2f0900"/><stop offset="0.850" stop-color="#2f0900"/><stop offset="0.883" stop-color="#2f0900"/><stop offset="0.917" stop-color="#2f0900"/><stop offset="0.950" stop-color="#320900"/><stop offset="0.980" stop-color="#340900"/><stop offset="0.990" stop-color="#350900"/><stop offset="1.000" stop-color="#350900"/></linearGradient><linearGradient id="st53" gradientUnits="userSpaceOnUse" x1="0" y1="37.4" x2="0" y2="448.4"><stop offset="-0.000" stop-color="#3cd47d"/><stop offset="0.100" stop-color="#3bd47d"/><stop offset="0.200" stop-color="#3ad47d"/><stop offset="0.300" stop-color="#39d47d"/><stop offset="0.400" stop-color="#37d47d"/><stop offset="0.467" stop-color="#37d47d"/><stop offset="0.533" stop-color="#36d47d"/><stop offset="0.600" stop-color="#349a77"/><stop offset="0.667" stop-color="#32566e"/><stop offset="0.733" stop-color="#302361"/><stop offset="0.783" stop-color="#2f0b4c"/><stop offset="0.817" stop-color="#2f0900"/><stop offset="0.850" stop-color="#2f0900"/><stop offset="0.883" stop-color="#2f0900"/><stop offset="0.917" stop-color="#2f0900"/><stop offset="0.950" stop-color="#320900"/><stop offset="0.980" stop-color="#340900"/><stop offset="0.990" stop-color="#350900"/><stop offset="1.000" stop-color="#350900"/></linearGradient><linearGradient id="st54" gradientUnits="userSpaceOnUse" x1="0" y1="37.4" x2="0" y2="448.4"><stop offset="-0.000" stop-color="#3cd47d"/><stop offset="0.100" stop-color="#3bd47d"/><stop offset="0.200" stop-color="#3ad47d"/><stop offset="0.300" stop-color="#39d47d"/><stop offset="0.400" stop-color="#37d47d"/><stop offset="0.467" stop-color="#37d47d"/><stop offset="0.533" stop-color="#36d47d"/><stop offset="0.600" stop-color="#349a77"/><stop offset="0.667" stop-color="#32576e"/><stop offset="0.733" stop-color="#302462"/><stop offset="0.783" stop-color="#2f0c4d"/><stop offset="0.817" stop-color="#2f0900"/><stop offset="0.850" stop-color="#2f0900"/><stop offset="0.883" stop-color="#2f0900"/><stop offset="0.917" stop-color="#2f0900"/><stop offset="0.950" stop-color="#320900"/><stop offset="0.980" stop-color="#340900"/><stop offset="0.990" stop-color="#350900"/><stop offset="1.000" stop-color="#350900"/></linearGradient><linearGradient id="st55" gradientUnits="userSpaceOnUse" x1="0" y1="37.4" x2="0" y2="448.4"><stop offset="-0.000" stop-color="#3cd47d"/><stop offset="0.100" stop-color="#3bd47d"/><stop offset="0.200" stop-color="#3ad47d"/><stop offset="0.300" stop-color="#39d47d"/><stop offset="0.400" stop-color="#37d47d"/><stop offset="0.467" stop-color="#37d47d"/><stop offset="0.533" stop-color="#36d47d"/><stop offset="0.600" stop-color="#349a77"/><stop offset="0.667" stop-color="#31576e"/><stop offset="0.733" stop-color="#302462"/><stop offset="0.783" stop-color="#2f0c4e"/><stop offset="0.817" stop-color="#2f0900"/><stop offset="0.850" stop-color="#2f0900"/><stop offset="0.883" stop-color="#2f0900"/><stop offset="0.917" stop-color="#2f0900"/><stop offset="0.950" stop-color="#320900"/><stop offset="0.980" stop-color="#340900"/><stop offset="0.990" stop-color="#340900"/><stop offset="1.000" stop-color="#340900"/></linearGradient><linearGradient id="st56" gradientUnits="userSpaceOnUse" x1="0" y1="37.4" x2="0" y2="448.4"><stop offset="-0.000" stop-color="#3cd47d"/><stop offset="0.100" stop-color="#3bd47d"/><stop offset="0.200" stop-color="#3ad47d"/><stop offset="0.300" stop-color="#39d47d"/><stop offset="0.400" stop-color="#37d47d"/><stop offset="0.467" stop-color="#37d47d"/><stop offset="0.533" stop-color="#36d47d"/><stop offset="0.600" stop-color="#349a77"/><stop offset="0.667" stop-color="#31586e"/><stop offset="0.733" stop-color="#302562"/><stop offset="0.783" stop-color="#2f0c4f"/><stop offset="0.817" stop-color="#2f0900"/><stop offset="0.850" stop-color="#2f0900"/><stop offset="0.883" stop-color="#2f0900"/><stop offset="0.917" stop-color="#2f0900"/><stop offset="0.950" stop-color="#310900"/><stop offset="0.980" stop-color="#340900"/><stop offset="0.990" stop-color="#340900"/><stop offset="1.000" stop-color="#340900"/></linearGradient><filter id="pipeT" filterUnits="userSpaceOnUse" x="55.4" y="37.4" width="1139.1999999999998" height="411.0" color-interpolation-filters="sRGB"><feTurbulence type="fractalNoise" baseFrequency="1.37 1.13" numOctaves="1" seed="7" result="nzr"/><feColorMatrix in="nzr" type="matrix" values="1 0 0 0 0 0 1 0 0 0 0 0 1 0 0 0 0 0 0 1" result="nzr2"/><feConvolveMatrix in="nzr2" order="1 3" kernelMatrix="1 1 1" divisor="3" preserveAlpha="true" edgeMode="duplicate" result="nzr3"/><feComponentTransfer in="nzr3" result="nz"><feFuncR type="linear" slope="2.286" intercept="-0.643"/><feFuncG type="linear" slope="2.286" intercept="-0.643"/></feComponentTransfer><feColorMatrix in="nz" type="matrix" values="1 0 0 0 0 1 0 0 0 0 1 0 0 0 0 0 0 0 0 1" result="n0"/><feComponentTransfer in="n0" result="n1"><feFuncR type="table" tableValues="0.000 0.000 0.000 0.000 0.000 0.000 0.000 0.000 0.000 0.000 0.048 0.119 0.185 0.245 0.300 0.350 0.395 0.435 0.471 0.504 0.533 0.559 0.582 0.603 0.622 0.639 0.655 0.669 0.682 0.695 0.706 0.717 0.727 0.736 0.745 0.753 0.761 0.768 0.776 0.782 0.789"/><feFuncG type="table" tableValues="0.000 0.000 0.000 0.000 0.000 0.000 0.000 0.000 0.000 0.000 0.048 0.119 0.185 0.245 0.300 0.350 0.395 0.435 0.471 0.504 0.533 0.559 0.582 0.603 0.622 0.639 0.655 0.669 0.682 0.695 0.706 0.717 0.727 0.736 0.745 0.753 0.761 0.768 0.776 0.782 0.789"/><feFuncB type="table" tableValues="0.000 0.000 0.000 0.000 0.000 0.000 0.000 0.000 0.000 0.000 0.048 0.119 0.185 0.245 0.300 0.350 0.395 0.435 0.471 0.504 0.533 0.559 0.582 0.603 0.622 0.639 0.655 0.669 0.682 0.695 0.706 0.717 0.727 0.736 0.745 0.753 0.761 0.768 0.776 0.782 0.789"/></feComponentTransfer><feColorMatrix in="nz" type="matrix" values="0 -1 0 0 1 0 -1 0 0 1 0 -1 0 0 1 0 0 0 0 1" result="m2"/><feColorMatrix in="SourceGraphic" type="matrix" values="0 1 0 0 0 0 1 0 0 0 0 1 0 0 0 0 0 0 0 1" result="A"/><feColorMatrix in="SourceGraphic" type="matrix" values="0.5 -0.25 0 0 0.5 0.5 -0.25 0 0 0.5 0.5 -0.25 0 0 0.5 0 0 0 0 1" result="Q"/><feColorMatrix in="SourceGraphic" type="matrix" values="0 0 1 0 0 0 0 1 0 0 0 0 1 0 0 0 0 0 0 1" result="P"/><feComposite in="n1" in2="A" operator="arithmetic" k1="1" k2="0" k3="0" k4="0" result="nA"/><feComposite in="nA" in2="Q" operator="arithmetic" k1="0" k2="1" k3="2" k4="-1" result="val"/><feComposite in="P" in2="m2" operator="arithmetic" k1="0" k2="1" k3="1" k4="-0.5" result="d"/><feComponentTransfer in="d" result="keep"><feFuncR type="discrete" tableValues="1 0"/><feFuncG type="discrete" tableValues="1 0"/><feFuncB type="discrete" tableValues="1 0"/></feComponentTransfer><feComposite in="val" in2="keep" operator="arithmetic" k1="1" k2="0" k3="0" k4="0" result="v2"/><feComponentTransfer in="v2"><feFuncR type="discrete" tableValues="1 0.902 0.702 0.502 0.302 0.102 0 0 0 0 0 0 0 0 0 0 0 0 0 0.056 0.1218 0.1876 0.2535 0.3193 0.3851 0.451 0.5168 0.5826 0.6485 0.7143 0.7801 0.846 0.9118 0.9776 1 1 1 1 1 1 1 1 1 1 1 0.9638 0.8711 0.7783 0.6855 0.5928 0.5 0.502 0.502 0.502 0.502 0.502 0.502 0.502 0.502 0.502 0.502 0.502 0.502 0.502"/><feFuncG type="discrete" tableValues="1 0.902 0.702 0.502 0.302 0.102 0 0 0.0714 0.1531 0.2347 0.3163 0.398 0.4796 0.5612 0.6429 0.7245 0.8061 0.8878 0.9694 1 1 1 1 1 1 1 1 1 1 1 1 1 0.9516 0.876 0.8005 0.7249 0.6493 0.5737 0.4981 0.4225 0.3469 0.2714 0.1958 0.1202 0.0446 0 0 0 0 0 0 0 0 0 0 0 0 0 0 0 0 0 0"/><feFuncB type="discrete" tableValues="1 1 1 1 1 1 0.9638 1 1 1 1 1 1 1 1 1 1 1 0.9776 0.9118 0.846 0.7801 0.7143 0.6485 0.5826 0.5168 0.451 0.3851 0.3193 0.2535 0.1876 0.1218 0.056 0 0 0 0 0 0 0 0 0 0 0 0 0 0 0 0 0 0 0 0 0 0 0 0 0 0 0 0 0 0 0"/><feFuncA type="linear" slope="0" intercept="1"/></feComponentTransfer></filter><linearGradient id="vg0" gradientUnits="userSpaceOnUse" x1="0" y1="210" x2="0" y2="447"><stop offset="0.000" stop-color="#563500" stop-opacity="1"/><stop offset="0.506" stop-color="#4a3500" stop-opacity="1"/><stop offset="1.000" stop-color="#422800" stop-opacity="1"/></linearGradient><linearGradient id="vg1" gradientUnits="userSpaceOnUse" x1="0" y1="220" x2="0" y2="400"><stop offset="0.000" stop-color="#b52000" stop-opacity="1"/><stop offset="0.556" stop-color="#a92000" stop-opacity="1"/><stop offset="1.000" stop-color="#762000" stop-opacity="0.6"/></linearGradient><linearGradient id="vg2" gradientUnits="userSpaceOnUse" x1="0" y1="226" x2="0" y2="447"><stop offset="0.000" stop-color="#563500" stop-opacity="1"/><stop offset="0.471" stop-color="#4a3500" stop-opacity="1"/><stop offset="1.000" stop-color="#422800" stop-opacity="1"/></linearGradient><linearGradient id="vg3" gradientUnits="userSpaceOnUse" x1="0" y1="238" x2="0" y2="447"><stop offset="0.000" stop-color="#9d2000" stop-opacity="1"/><stop offset="0.392" stop-color="#892000" stop-opacity="1"/><stop offset="1.000" stop-color="#662000" stop-opacity="1"/></linearGradient><linearGradient id="vg4" gradientUnits="userSpaceOnUse" x1="0" y1="228" x2="0" y2="447"><stop offset="0.000" stop-color="#563500" stop-opacity="1"/><stop offset="0.466" stop-color="#4a3500" stop-opacity="1"/><stop offset="1.000" stop-color="#422800" stop-opacity="1"/></linearGradient><linearGradient id="vg5" gradientUnits="userSpaceOnUse" x1="0" y1="238" x2="0" y2="447"><stop offset="0.000" stop-color="#852000" stop-opacity="1"/><stop offset="0.440" stop-color="#7e2000" stop-opacity="1"/><stop offset="1.000" stop-color="#662000" stop-opacity="1"/></linearGradient><linearGradient id="vg6" x1="0" y1="0" x2="0" y2="1"><stop offset="0" stop-color="#4c2800"/><stop offset="0.5" stop-color="#412800" stop-opacity="0.8"/><stop offset="1" stop-color="#362800" stop-opacity="0"/></linearGradient><linearGradient id="vg7" x1="0" y1="0" x2="0" y2="1"><stop offset="0" stop-color="#642800"/><stop offset="0.5" stop-color="#492800" stop-opacity="0.8"/><stop offset="1" stop-color="#2e2800" stop-opacity="0"/></linearGradient><linearGradient id="vg8" x1="0" y1="0" x2="0" y2="1"><stop offset="0" stop-color="#592800"/><stop offset="0.5" stop-color="#442800" stop-opacity="0.8"/><stop offset="1" stop-color="#2f2800" stop-opacity="0"/></linearGradient><linearGradient id="vg9" x1="0" y1="0" x2="0" y2="1"><stop offset="0" stop-color="#6d2800"/><stop offset="0.5" stop-color="#502800" stop-opacity="0.8"/><stop offset="1" stop-color="#322800" stop-opacity="0"/></linearGradient><linearGradient id="vg10" x1="0" y1="0" x2="0" y2="1"><stop offset="0" stop-color="#6c2800"/><stop offset="0.5" stop-color="#512800" stop-opacity="0.8"/><stop offset="1" stop-color="#352800" stop-opacity="0"/></linearGradient><linearGradient id="vg11" x1="0" y1="0" x2="0" y2="1"><stop offset="0" stop-color="#522800"/><stop offset="0.5" stop-color="#432800" stop-opacity="0.8"/><stop offset="1" stop-color="#332800" stop-opacity="0"/></linearGradient><linearGradient id="vg12" x1="0" y1="0" x2="0" y2="1"><stop offset="0" stop-color="#5c2800"/><stop offset="0.5" stop-color="#4b2800" stop-opacity="0.8"/><stop offset="1" stop-color="#3a2800" stop-opacity="0"/></linearGradient><linearGradient id="vg13" x1="0" y1="0" x2="0" y2="1"><stop offset="0" stop-color="#5e2800"/><stop offset="0.5" stop-color="#442800" stop-opacity="0.8"/><stop offset="1" stop-color="#2a2800" stop-opacity="0"/></linearGradient><linearGradient id="vg14" x1="0" y1="0" x2="0" y2="1"><stop offset="0" stop-color="#582800"/><stop offset="0.5" stop-color="#442800" stop-opacity="0.8"/><stop offset="1" stop-color="#2f2800" stop-opacity="0"/></linearGradient><linearGradient id="vg15" x1="0" y1="0" x2="0" y2="1"><stop offset="0" stop-color="#772800"/><stop offset="0.5" stop-color="#582800" stop-opacity="0.8"/><stop offset="1" stop-color="#3a2800" stop-opacity="0"/></linearGradient><linearGradient id="vg16" x1="0" y1="0" x2="0" y2="1"><stop offset="0" stop-color="#542800"/><stop offset="0.5" stop-color="#442800" stop-opacity="0.8"/><stop offset="1" stop-color="#332800" stop-opacity="0"/></linearGradient><linearGradient id="vg17" x1="0" y1="0" x2="0" y2="1"><stop offset="0" stop-color="#632800"/><stop offset="0.5" stop-color="#4d2800" stop-opacity="0.8"/><stop offset="1" stop-color="#372800" stop-opacity="0"/></linearGradient><linearGradient id="vg18" x1="0" y1="0" x2="0" y2="1"><stop offset="0" stop-color="#852800"/><stop offset="0.5" stop-color="#5a2800" stop-opacity="0.8"/><stop offset="1" stop-color="#2e2800" stop-opacity="0"/></linearGradient><linearGradient id="vg19" x1="0" y1="0" x2="0" y2="1"><stop offset="0" stop-color="#642800"/><stop offset="0.5" stop-color="#4a2800" stop-opacity="0.8"/><stop offset="1" stop-color="#2f2800" stop-opacity="0"/></linearGradient><linearGradient id="vg20" x1="0" y1="0" x2="0" y2="1"><stop offset="0" stop-color="#4e2800"/><stop offset="0.5" stop-color="#402800" stop-opacity="0.8"/><stop offset="1" stop-color="#332800" stop-opacity="0"/></linearGradient><linearGradient id="vg21" x1="0" y1="0" x2="0" y2="1"><stop offset="0" stop-color="#852800"/><stop offset="0.5" stop-color="#5d2800" stop-opacity="0.8"/><stop offset="1" stop-color="#352800" stop-opacity="0"/></linearGradient><linearGradient id="vg22" x1="0" y1="0" x2="0" y2="1"><stop offset="0" stop-color="#7e2800"/><stop offset="0.5" stop-color="#582800" stop-opacity="0.8"/><stop offset="1" stop-color="#332800" stop-opacity="0"/></linearGradient><linearGradient id="vg23" x1="0" y1="0" x2="0" y2="1"><stop offset="0" stop-color="#6d2800"/><stop offset="0.5" stop-color="#4c2800" stop-opacity="0.8"/><stop offset="1" stop-color="#2c2800" stop-opacity="0"/></linearGradient><linearGradient id="vg24" x1="0" y1="0" x2="0" y2="1"><stop offset="0" stop-color="#4e2800"/><stop offset="0.5" stop-color="#402800" stop-opacity="0.8"/><stop offset="1" stop-color="#322800" stop-opacity="0"/></linearGradient><linearGradient id="vg25" x1="0" y1="0" x2="0" y2="1"><stop offset="0" stop-color="#682800"/><stop offset="0.5" stop-color="#5a2800" stop-opacity="1"/><stop offset="1" stop-color="#4c2800" stop-opacity="1"/></linearGradient><linearGradient id="vg26" x1="0" y1="0" x2="0" y2="1"><stop offset="0" stop-color="#6d2800"/><stop offset="0.5" stop-color="#582800" stop-opacity="1"/><stop offset="1" stop-color="#442800" stop-opacity="1"/></linearGradient><linearGradient id="vg27" x1="0" y1="0" x2="0" y2="1"><stop offset="0" stop-color="#572800"/><stop offset="0.5" stop-color="#512800" stop-opacity="1"/><stop offset="1" stop-color="#4b2800" stop-opacity="1"/></linearGradient><linearGradient id="vg28" x1="0" y1="0" x2="0" y2="1"><stop offset="0" stop-color="#6e2800"/><stop offset="0.5" stop-color="#5c2800" stop-opacity="1"/><stop offset="1" stop-color="#4a2800" stop-opacity="1"/></linearGradient><linearGradient id="vg29" x1="0" y1="0" x2="0" y2="1"><stop offset="0" stop-color="#752800"/><stop offset="0.5" stop-color="#642800" stop-opacity="1"/><stop offset="1" stop-color="#532800" stop-opacity="1"/></linearGradient><linearGradient id="vg30" x1="0" y1="0" x2="0" y2="1"><stop offset="0" stop-color="#5f2800"/><stop offset="0.5" stop-color="#582800" stop-opacity="1"/><stop offset="1" stop-color="#522800" stop-opacity="1"/></linearGradient><linearGradient id="vg31" x1="0" y1="0" x2="0" y2="1"><stop offset="0" stop-color="#692800"/><stop offset="0.5" stop-color="#572800" stop-opacity="1"/><stop offset="1" stop-color="#452800" stop-opacity="1"/></linearGradient><linearGradient id="vg32" x1="0" y1="0" x2="0" y2="1"><stop offset="0" stop-color="#8e2800"/><stop offset="0.5" stop-color="#812800" stop-opacity="0.8"/><stop offset="1" stop-color="#742800" stop-opacity="0"/></linearGradient><linearGradient id="vg33" x1="0" y1="0" x2="0" y2="1"><stop offset="0" stop-color="#a82800"/><stop offset="0.5" stop-color="#892800" stop-opacity="0.8"/><stop offset="1" stop-color="#6a2800" stop-opacity="0"/></linearGradient><linearGradient id="vg34" x1="0" y1="0" x2="0" y2="1"><stop offset="0" stop-color="#972800"/><stop offset="0.5" stop-color="#862800" stop-opacity="0.8"/><stop offset="1" stop-color="#762800" stop-opacity="0"/></linearGradient><linearGradient id="vg35" x1="0" y1="0" x2="0" y2="1"><stop offset="0" stop-color="#9a2800"/><stop offset="0.5" stop-color="#832800" stop-opacity="0.8"/><stop offset="1" stop-color="#6c2800" stop-opacity="0"/></linearGradient><linearGradient id="vg36" x1="0" y1="0" x2="0" y2="1"><stop offset="0" stop-color="#ae2800"/><stop offset="0.5" stop-color="#962800" stop-opacity="0.8"/><stop offset="1" stop-color="#7e2800" stop-opacity="0"/></linearGradient><linearGradient id="vg37" x1="0" y1="0" x2="0" y2="1"><stop offset="0" stop-color="#a32800"/><stop offset="0.5" stop-color="#8a2800" stop-opacity="0.8"/><stop offset="1" stop-color="#702800" stop-opacity="0"/></linearGradient><linearGradient id="vg38" x1="0" y1="0" x2="0" y2="1"><stop offset="0" stop-color="#992800"/><stop offset="0.5" stop-color="#802800" stop-opacity="0.8"/><stop offset="1" stop-color="#662800" stop-opacity="0"/></linearGradient><linearGradient id="vg39" x1="0" y1="0" x2="0" y2="1"><stop offset="0" stop-color="#962800"/><stop offset="0.5" stop-color="#822800" stop-opacity="0.8"/><stop offset="1" stop-color="#6e2800" stop-opacity="0"/></linearGradient><linearGradient id="vg40" x1="0" y1="0" x2="0" y2="1"><stop offset="0" stop-color="#bc2800"/><stop offset="0.5" stop-color="#942800" stop-opacity="0.8"/><stop offset="1" stop-color="#6c2800" stop-opacity="0"/></linearGradient><linearGradient id="vg41" x1="0" y1="0" x2="0" y2="1"><stop offset="0" stop-color="#b62800"/><stop offset="0.5" stop-color="#922800" stop-opacity="0.8"/><stop offset="1" stop-color="#6d2800" stop-opacity="0"/></linearGradient><linearGradient id="vg42" x1="0" y1="0" x2="0" y2="1"><stop offset="0" stop-color="#922800"/><stop offset="0.5" stop-color="#7f2800" stop-opacity="0.8"/><stop offset="1" stop-color="#6c2800" stop-opacity="0"/></linearGradient><linearGradient id="vg43" x1="0" y1="0" x2="0" y2="1"><stop offset="0" stop-color="#9f2800"/><stop offset="0.5" stop-color="#872800" stop-opacity="0.8"/><stop offset="1" stop-color="#6e2800" stop-opacity="0"/></linearGradient><linearGradient id="vg44" x1="0" y1="0" x2="0" y2="1"><stop offset="0" stop-color="#5f2800"/><stop offset="0.5" stop-color="#532800" stop-opacity="1"/><stop offset="1" stop-color="#472800" stop-opacity="1"/></linearGradient><linearGradient id="vg45" x1="0" y1="0" x2="0" y2="1"><stop offset="0" stop-color="#582800"/><stop offset="0.5" stop-color="#512800" stop-opacity="1"/><stop offset="1" stop-color="#4a2800" stop-opacity="1"/></linearGradient><linearGradient id="vg46" x1="0" y1="0" x2="0" y2="1"><stop offset="0" stop-color="#4f2800"/><stop offset="0.5" stop-color="#4a2800" stop-opacity="1"/><stop offset="1" stop-color="#462800" stop-opacity="1"/></linearGradient><linearGradient id="vg47" x1="0" y1="0" x2="0" y2="1"><stop offset="0" stop-color="#5e2800"/><stop offset="0.5" stop-color="#562800" stop-opacity="1"/><stop offset="1" stop-color="#4e2800" stop-opacity="1"/></linearGradient><linearGradient id="vg48" x1="0" y1="0" x2="0" y2="1"><stop offset="0" stop-color="#672800"/><stop offset="0.5" stop-color="#5d2800" stop-opacity="1"/><stop offset="1" stop-color="#532800" stop-opacity="1"/></linearGradient><linearGradient id="vg49" x1="0" y1="0" x2="0" y2="1"><stop offset="0" stop-color="#662800"/><stop offset="0.5" stop-color="#5b2800" stop-opacity="1"/><stop offset="1" stop-color="#512800" stop-opacity="1"/></linearGradient><linearGradient id="vg50" x1="0" y1="0" x2="0" y2="1"><stop offset="0" stop-color="#652800"/><stop offset="0.5" stop-color="#5d2800" stop-opacity="1"/><stop offset="1" stop-color="#552800" stop-opacity="1"/></linearGradient><linearGradient id="vg51" x1="0" y1="0" x2="0" y2="1"><stop offset="0" stop-color="#812800"/><stop offset="0.5" stop-color="#672800" stop-opacity="1"/><stop offset="1" stop-color="#4d2800" stop-opacity="1"/></linearGradient><linearGradient id="vg52" x1="0" y1="0" x2="0" y2="1"><stop offset="0" stop-color="#572800"/><stop offset="0.5" stop-color="#512800" stop-opacity="1"/><stop offset="1" stop-color="#4c2800" stop-opacity="1"/></linearGradient><linearGradient id="vg53" x1="0" y1="0" x2="0" y2="1"><stop offset="0" stop-color="#6e2800"/><stop offset="0.5" stop-color="#572800" stop-opacity="1"/><stop offset="1" stop-color="#402800" stop-opacity="1"/></linearGradient><linearGradient id="vg54" x1="0" y1="0" x2="0" y2="1"><stop offset="0" stop-color="#8d2800"/><stop offset="0.5" stop-color="#6a2800" stop-opacity="1"/><stop offset="1" stop-color="#472800" stop-opacity="1"/></linearGradient><linearGradient id="vg55" x1="0" y1="0" x2="0" y2="1"><stop offset="0" stop-color="#662800"/><stop offset="0.5" stop-color="#5a2800" stop-opacity="1"/><stop offset="1" stop-color="#4f2800" stop-opacity="1"/></linearGradient><linearGradient id="vg56" x1="0" y1="0" x2="0" y2="1"><stop offset="0" stop-color="#5d2800"/><stop offset="0.5" stop-color="#592800" stop-opacity="1"/><stop offset="1" stop-color="#552800" stop-opacity="1"/></linearGradient><linearGradient id="vg57" x1="0" y1="0" x2="0" y2="1"><stop offset="0" stop-color="#822800"/><stop offset="0.5" stop-color="#672800" stop-opacity="1"/><stop offset="1" stop-color="#4d2800" stop-opacity="1"/></linearGradient><linearGradient id="vg58" x1="0" y1="0" x2="0" y2="1"><stop offset="0" stop-color="#5b2800"/><stop offset="0.5" stop-color="#502800" stop-opacity="1"/><stop offset="1" stop-color="#452800" stop-opacity="1"/></linearGradient><linearGradient id="vg59" x1="0" y1="0" x2="0" y2="1"><stop offset="0" stop-color="#7d2800"/><stop offset="0.5" stop-color="#612800" stop-opacity="1"/><stop offset="1" stop-color="#462800" stop-opacity="1"/></linearGradient><linearGradient id="vg60" x1="0" y1="0" x2="0" y2="1"><stop offset="0" stop-color="#692800"/><stop offset="0.5" stop-color="#5d2800" stop-opacity="1"/><stop offset="1" stop-color="#512800" stop-opacity="1"/></linearGradient><linearGradient id="vg61" x1="0" y1="0" x2="0" y2="1"><stop offset="0" stop-color="#6e2800"/><stop offset="0.5" stop-color="#5c2800" stop-opacity="1"/><stop offset="1" stop-color="#492800" stop-opacity="1"/></linearGradient><linearGradient id="vg62" x1="0" y1="0" x2="0" y2="1"><stop offset="0" stop-color="#752800"/><stop offset="0.5" stop-color="#672800" stop-opacity="1"/><stop offset="1" stop-color="#592800" stop-opacity="1"/></linearGradient><linearGradient id="vg63" x1="0" y1="0" x2="0" y2="1"><stop offset="0" stop-color="#6e2800"/><stop offset="0.5" stop-color="#602800" stop-opacity="1"/><stop offset="1" stop-color="#522800" stop-opacity="1"/></linearGradient><linearGradient id="vg64" x1="0" y1="0" x2="0" y2="1"><stop offset="0" stop-color="#522800"/><stop offset="0.5" stop-color="#4c2800" stop-opacity="1"/><stop offset="1" stop-color="#462800" stop-opacity="1"/></linearGradient><linearGradient id="vg65" x1="0" y1="0" x2="0" y2="1"><stop offset="0" stop-color="#5f2800"/><stop offset="0.5" stop-color="#552800" stop-opacity="1"/><stop offset="1" stop-color="#4a2800" stop-opacity="1"/></linearGradient><linearGradient id="vg66" x1="0" y1="0" x2="0" y2="1"><stop offset="0" stop-color="#7a2800"/><stop offset="0.5" stop-color="#652800" stop-opacity="1"/><stop offset="1" stop-color="#512800" stop-opacity="1"/></linearGradient><linearGradient id="vg67" x1="0" y1="0" x2="0" y2="1"><stop offset="0" stop-color="#6b2800"/><stop offset="0.5" stop-color="#5c2800" stop-opacity="1"/><stop offset="1" stop-color="#4d2800" stop-opacity="1"/></linearGradient><linearGradient id="vg68" x1="0" y1="0" x2="0" y2="1"><stop offset="0" stop-color="#5b2800"/><stop offset="0.5" stop-color="#572800" stop-opacity="1"/><stop offset="1" stop-color="#522800" stop-opacity="1"/></linearGradient><linearGradient id="vg69" x1="0" y1="0" x2="0" y2="1"><stop offset="0" stop-color="#7b2800"/><stop offset="0.5" stop-color="#662800" stop-opacity="1"/><stop offset="1" stop-color="#512800" stop-opacity="1"/></linearGradient><linearGradient id="vg70" x1="0" y1="0" x2="0" y2="1"><stop offset="0" stop-color="#792800"/><stop offset="0.5" stop-color="#612800" stop-opacity="1"/><stop offset="1" stop-color="#492800" stop-opacity="1"/></linearGradient><linearGradient id="vg71" x1="0" y1="0" x2="0" y2="1"><stop offset="0" stop-color="#822800"/><stop offset="0.5" stop-color="#6a2800" stop-opacity="1"/><stop offset="1" stop-color="#522800" stop-opacity="1"/></linearGradient><linearGradient id="vg72" x1="0" y1="0" x2="0" y2="1"><stop offset="0" stop-color="#572800"/><stop offset="0.5" stop-color="#572800" stop-opacity="1"/><stop offset="1" stop-color="#572800" stop-opacity="1"/></linearGradient><linearGradient id="vg73" x1="0" y1="0" x2="0" y2="1"><stop offset="0" stop-color="#5f2800"/><stop offset="0.5" stop-color="#5b2800" stop-opacity="1"/><stop offset="1" stop-color="#572800" stop-opacity="1"/></linearGradient><linearGradient id="vg74" x1="0" y1="0" x2="0" y2="1"><stop offset="0" stop-color="#5a2800"/><stop offset="0.5" stop-color="#562800" stop-opacity="1"/><stop offset="1" stop-color="#512800" stop-opacity="1"/></linearGradient><linearGradient id="vg75" x1="0" y1="0" x2="0" y2="1"><stop offset="0" stop-color="#7c2800"/><stop offset="0.5" stop-color="#662800" stop-opacity="1"/><stop offset="1" stop-color="#4f2800" stop-opacity="1"/></linearGradient><linearGradient id="vg76" x1="0" y1="0" x2="0" y2="1"><stop offset="0" stop-color="#4f2800"/><stop offset="0.5" stop-color="#412800" stop-opacity="0.8"/><stop offset="1" stop-color="#332800" stop-opacity="0"/></linearGradient><linearGradient id="vg77" x1="0" y1="0" x2="0" y2="1"><stop offset="0" stop-color="#6a2800"/><stop offset="0.5" stop-color="#4e2800" stop-opacity="0.8"/><stop offset="1" stop-color="#332800" stop-opacity="0"/></linearGradient><linearGradient id="vg78" x1="0" y1="0" x2="0" y2="1"><stop offset="0" stop-color="#572800"/><stop offset="0.5" stop-color="#432800" stop-opacity="0.8"/><stop offset="1" stop-color="#2f2800" stop-opacity="0"/></linearGradient><linearGradient id="sb0" gradientUnits="userSpaceOnUse" x1="0" y1="541.4" x2="0" y2="952.4"><stop offset="0.000" stop-color="#240bff"/><stop offset="0.100" stop-color="#240bff"/><stop offset="0.200" stop-color="#240bff"/><stop offset="0.300" stop-color="#240bff"/><stop offset="0.400" stop-color="#240bff"/><stop offset="0.467" stop-color="#240bb9"/><stop offset="0.533" stop-color="#240bb9"/><stop offset="0.600" stop-color="#240bb9"/><stop offset="0.667" stop-color="#240b76"/><stop offset="0.733" stop-color="#240b00"/><stop offset="0.783" stop-color="#240b00"/><stop offset="0.817" stop-color="#240b00"/><stop offset="0.850" stop-color="#240b00"/><stop offset="0.883" stop-color="#240b00"/><stop offset="0.917" stop-color="#240b00"/><stop offset="0.950" stop-color="#240b00"/><stop offset="0.980" stop-color="#260b00"/><stop offset="0.990" stop-color="#270b00"/><stop offset="1.000" stop-color="#280b00"/></linearGradient><linearGradient id="sb1" gradientUnits="userSpaceOnUse" x1="0" y1="541.4" x2="0" y2="952.4"><stop offset="0.000" stop-color="#240bff"/><stop offset="0.100" stop-color="#240bff"/><stop offset="0.200" stop-color="#240bff"/><stop offset="0.300" stop-color="#240bff"/><stop offset="0.400" stop-color="#240bff"/><stop offset="0.467" stop-color="#240bb9"/><stop offset="0.533" stop-color="#240bb9"/><stop offset="0.600" stop-color="#240bb9"/><stop offset="0.667" stop-color="#240b76"/><stop offset="0.733" stop-color="#240b00"/><stop offset="0.783" stop-color="#240b00"/><stop offset="0.817" stop-color="#240b00"/><stop offset="0.850" stop-color="#240b00"/><stop offset="0.883" stop-color="#240b00"/><stop offset="0.917" stop-color="#240b00"/><stop offset="0.950" stop-color="#240b00"/><stop offset="0.980" stop-color="#260b00"/><stop offset="0.990" stop-color="#270b00"/><stop offset="1.000" stop-color="#280b00"/></linearGradient><linearGradient id="sb2" gradientUnits="userSpaceOnUse" x1="0" y1="541.4" x2="0" y2="952.4"><stop offset="0.000" stop-color="#240bff"/><stop offset="0.100" stop-color="#240bff"/><stop offset="0.200" stop-color="#240bff"/><stop offset="0.300" stop-color="#240bff"/><stop offset="0.400" stop-color="#240bff"/><stop offset="0.467" stop-color="#240bb9"/><stop offset="0.533" stop-color="#240bb9"/><stop offset="0.600" stop-color="#240bb9"/><stop offset="0.667" stop-color="#240b77"/><stop offset="0.733" stop-color="#240b00"/><stop offset="0.783" stop-color="#240b00"/><stop offset="0.817" stop-color="#240b00"/><stop offset="0.850" stop-color="#240b00"/><stop offset="0.883" stop-color="#240b00"/><stop offset="0.917" stop-color="#240b00"/><stop offset="0.950" stop-color="#240b00"/><stop offset="0.980" stop-color="#260b00"/><stop offset="0.990" stop-color="#270b00"/><stop offset="1.000" stop-color="#280b00"/></linearGradient><linearGradient id="sb3" gradientUnits="userSpaceOnUse" x1="0" y1="541.4" x2="0" y2="952.4"><stop offset="0.000" stop-color="#240bff"/><stop offset="0.100" stop-color="#240bff"/><stop offset="0.200" stop-color="#240bff"/><stop offset="0.300" stop-color="#240bff"/><stop offset="0.400" stop-color="#240bff"/><stop offset="0.467" stop-color="#240bb9"/><stop offset="0.533" stop-color="#240bb9"/><stop offset="0.600" stop-color="#240bb9"/><stop offset="0.667" stop-color="#240b77"/><stop offset="0.733" stop-color="#240b00"/><stop offset="0.783" stop-color="#240b00"/><stop offset="0.817" stop-color="#240b00"/><stop offset="0.850" stop-color="#240b00"/><stop offset="0.883" stop-color="#240b00"/><stop offset="0.917" stop-color="#240b00"/><stop offset="0.950" stop-color="#240b00"/><stop offset="0.980" stop-color="#260b00"/><stop offset="0.990" stop-color="#270b00"/><stop offset="1.000" stop-color="#280b00"/></linearGradient><linearGradient id="sb4" gradientUnits="userSpaceOnUse" x1="0" y1="541.4" x2="0" y2="952.4"><stop offset="0.000" stop-color="#240bff"/><stop offset="0.100" stop-color="#240bff"/><stop offset="0.200" stop-color="#240bff"/><stop offset="0.300" stop-color="#240bff"/><stop offset="0.400" stop-color="#240bff"/><stop offset="0.467" stop-color="#240bb9"/><stop offset="0.533" stop-color="#240bb9"/><stop offset="0.600" stop-color="#240bb9"/><stop offset="0.667" stop-color="#240b77"/><stop offset="0.733" stop-color="#240b00"/><stop offset="0.783" stop-color="#240b00"/><stop offset="0.817" stop-color="#240b00"/><stop offset="0.850" stop-color="#240b00"/><stop offset="0.883" stop-color="#240b00"/><stop offset="0.917" stop-color="#240b00"/><stop offset="0.950" stop-color="#240b00"/><stop offset="0.980" stop-color="#260b00"/><stop offset="0.990" stop-color="#270b00"/><stop offset="1.000" stop-color="#280b00"/></linearGradient><linearGradient id="sb5" gradientUnits="userSpaceOnUse" x1="0" y1="541.4" x2="0" y2="952.4"><stop offset="0.000" stop-color="#240bff"/><stop offset="0.100" stop-color="#240bff"/><stop offset="0.200" stop-color="#240bff"/><stop offset="0.300" stop-color="#240bff"/><stop offset="0.400" stop-color="#240bff"/><stop offset="0.467" stop-color="#240bb9"/><stop offset="0.533" stop-color="#240bb9"/><stop offset="0.600" stop-color="#240bb9"/><stop offset="0.667" stop-color="#240b78"/><stop offset="0.733" stop-color="#240b00"/><stop offset="0.783" stop-color="#240b00"/><stop offset="0.817" stop-color="#240b00"/><stop offset="0.850" stop-color="#240b00"/><stop offset="0.883" stop-color="#240b00"/><stop offset="0.917" stop-color="#240b00"/><stop offset="0.950" stop-color="#240b00"/><stop offset="0.980" stop-color="#260b00"/><stop offset="0.990" stop-color="#270b00"/><stop offset="1.000" stop-color="#280b00"/></linearGradient><linearGradient id="sb6" gradientUnits="userSpaceOnUse" x1="0" y1="541.4" x2="0" y2="952.4"><stop offset="0.000" stop-color="#240bff"/><stop offset="0.100" stop-color="#240bff"/><stop offset="0.200" stop-color="#240bff"/><stop offset="0.300" stop-color="#240bff"/><stop offset="0.400" stop-color="#240bff"/><stop offset="0.467" stop-color="#240bb9"/><stop offset="0.533" stop-color="#240bb9"/><stop offset="0.600" stop-color="#240bb9"/><stop offset="0.667" stop-color="#240b78"/><stop offset="0.733" stop-color="#240b00"/><stop offset="0.783" stop-color="#240b00"/><stop offset="0.817" stop-color="#240b00"/><stop offset="0.850" stop-color="#240b00"/><stop offset="0.883" stop-color="#240b00"/><stop offset="0.917" stop-color="#240b00"/><stop offset="0.950" stop-color="#240b00"/><stop offset="0.980" stop-color="#260b00"/><stop offset="0.990" stop-color="#270b00"/><stop offset="1.000" stop-color="#280b00"/></linearGradient><linearGradient id="sb7" gradientUnits="userSpaceOnUse" x1="0" y1="541.4" x2="0" y2="952.4"><stop offset="0.000" stop-color="#240bff"/><stop offset="0.100" stop-color="#240bff"/><stop offset="0.200" stop-color="#240bff"/><stop offset="0.300" stop-color="#240bff"/><stop offset="0.400" stop-color="#240bff"/><stop offset="0.467" stop-color="#240bb9"/><stop offset="0.533" stop-color="#240bb9"/><stop offset="0.600" stop-color="#240bb9"/><stop offset="0.667" stop-color="#240b79"/><stop offset="0.733" stop-color="#240b00"/><stop offset="0.783" stop-color="#240b00"/><stop offset="0.817" stop-color="#240b00"/><stop offset="0.850" stop-color="#240b00"/><stop offset="0.883" stop-color="#240b00"/><stop offset="0.917" stop-color="#240b00"/><stop offset="0.950" stop-color="#240b00"/><stop offset="0.980" stop-color="#260b00"/><stop offset="0.990" stop-color="#270b00"/><stop offset="1.000" stop-color="#280b00"/></linearGradient><linearGradient id="sb8" gradientUnits="userSpaceOnUse" x1="0" y1="541.4" x2="0" y2="952.4"><stop offset="0.000" stop-color="#240bff"/><stop offset="0.100" stop-color="#240bff"/><stop offset="0.200" stop-color="#240bff"/><stop offset="0.300" stop-color="#240bff"/><stop offset="0.400" stop-color="#240bff"/><stop offset="0.467" stop-color="#240bb9"/><stop offset="0.533" stop-color="#240bb9"/><stop offset="0.600" stop-color="#240bb9"/><stop offset="0.667" stop-color="#240b79"/><stop offset="0.733" stop-color="#240b00"/><stop offset="0.783" stop-color="#240b00"/><stop offset="0.817" stop-color="#240b00"/><stop offset="0.850" stop-color="#240b00"/><stop offset="0.883" stop-color="#240b00"/><stop offset="0.917" stop-color="#240b00"/><stop offset="0.950" stop-color="#240b00"/><stop offset="0.980" stop-color="#260b00"/><stop offset="0.990" stop-color="#270b00"/><stop offset="1.000" stop-color="#280b00"/></linearGradient><linearGradient id="sb9" gradientUnits="userSpaceOnUse" x1="0" y1="541.4" x2="0" y2="952.4"><stop offset="0.000" stop-color="#240bff"/><stop offset="0.100" stop-color="#240bff"/><stop offset="0.200" stop-color="#240bff"/><stop offset="0.300" stop-color="#240bff"/><stop offset="0.400" stop-color="#240bff"/><stop offset="0.467" stop-color="#240bb9"/><stop offset="0.533" stop-color="#240bb9"/><stop offset="0.600" stop-color="#240bb9"/><stop offset="0.667" stop-color="#240b7a"/><stop offset="0.733" stop-color="#240b00"/><stop offset="0.783" stop-color="#240b00"/><stop offset="0.817" stop-color="#240b00"/><stop offset="0.850" stop-color="#240b00"/><stop offset="0.883" stop-color="#240b00"/><stop offset="0.917" stop-color="#240b00"/><stop offset="0.950" stop-color="#240b00"/><stop offset="0.980" stop-color="#260b00"/><stop offset="0.990" stop-color="#270b00"/><stop offset="1.000" stop-color="#280b00"/></linearGradient><linearGradient id="sb10" gradientUnits="userSpaceOnUse" x1="0" y1="541.4" x2="0" y2="952.4"><stop offset="0.000" stop-color="#240bff"/><stop offset="0.100" stop-color="#240bff"/><stop offset="0.200" stop-color="#240bff"/><stop offset="0.300" stop-color="#240bff"/><stop offset="0.400" stop-color="#240bff"/><stop offset="0.467" stop-color="#240bff"/><stop offset="0.533" stop-color="#240bb9"/><stop offset="0.600" stop-color="#240bb9"/><stop offset="0.667" stop-color="#240b7c"/><stop offset="0.733" stop-color="#240b00"/><stop offset="0.783" stop-color="#240b00"/><stop offset="0.817" stop-color="#240b00"/><stop offset="0.850" stop-color="#240b00"/><stop offset="0.883" stop-color="#240b00"/><stop offset="0.917" stop-color="#240b00"/><stop offset="0.950" stop-color="#240b00"/><stop offset="0.980" stop-color="#260b00"/><stop offset="0.990" stop-color="#270b00"/><stop offset="1.000" stop-color="#280b00"/></linearGradient><linearGradient id="sb11" gradientUnits="userSpaceOnUse" x1="0" y1="541.4" x2="0" y2="952.4"><stop offset="0.000" stop-color="#240bff"/><stop offset="0.100" stop-color="#240bff"/><stop offset="0.200" stop-color="#240bff"/><stop offset="0.300" stop-color="#240bff"/><stop offset="0.400" stop-color="#240bff"/><stop offset="0.467" stop-color="#240bff"/><stop offset="0.533" stop-color="#240bb9"/><stop offset="0.600" stop-color="#240bb9"/><stop offset="0.667" stop-color="#240b81"/><stop offset="0.733" stop-color="#240b00"/><stop offset="0.783" stop-color="#240b00"/><stop offset="0.817" stop-color="#240b00"/><stop offset="0.850" stop-color="#240b00"/><stop offset="0.883" stop-color="#240b00"/><stop offset="0.917" stop-color="#240b00"/><stop offset="0.950" stop-color="#240b00"/><stop offset="0.980" stop-color="#260b00"/><stop offset="0.990" stop-color="#270b00"/><stop offset="1.000" stop-color="#280b00"/></linearGradient><linearGradient id="sb12" gradientUnits="userSpaceOnUse" x1="0" y1="541.4" x2="0" y2="952.4"><stop offset="0.000" stop-color="#240bff"/><stop offset="0.100" stop-color="#240bff"/><stop offset="0.200" stop-color="#240bff"/><stop offset="0.300" stop-color="#240bff"/><stop offset="0.400" stop-color="#240bff"/><stop offset="0.467" stop-color="#240bff"/><stop offset="0.533" stop-color="#240bb9"/><stop offset="0.600" stop-color="#240bb9"/><stop offset="0.667" stop-color="#240b86"/><stop offset="0.733" stop-color="#240b00"/><stop offset="0.783" stop-color="#240b00"/><stop offset="0.817" stop-color="#240b00"/><stop offset="0.850" stop-color="#240b00"/><stop offset="0.883" stop-color="#240b00"/><stop offset="0.917" stop-color="#240b00"/><stop offset="0.950" stop-color="#240b00"/><stop offset="0.980" stop-color="#260b00"/><stop offset="0.990" stop-color="#270b00"/><stop offset="1.000" stop-color="#280b00"/></linearGradient><linearGradient id="sb13" gradientUnits="userSpaceOnUse" x1="0" y1="541.4" x2="0" y2="952.4"><stop offset="0.000" stop-color="#240bff"/><stop offset="0.100" stop-color="#240bff"/><stop offset="0.200" stop-color="#240bff"/><stop offset="0.300" stop-color="#240bff"/><stop offset="0.400" stop-color="#240bff"/><stop offset="0.467" stop-color="#240bff"/><stop offset="0.533" stop-color="#240bb9"/><stop offset="0.600" stop-color="#240bb9"/><stop offset="0.667" stop-color="#240b8c"/><stop offset="0.733" stop-color="#240b00"/><stop offset="0.783" stop-color="#240b00"/><stop offset="0.817" stop-color="#240b00"/><stop offset="0.850" stop-color="#240b00"/><stop offset="0.883" stop-color="#240b00"/><stop offset="0.917" stop-color="#240b00"/><stop offset="0.950" stop-color="#240b00"/><stop offset="0.980" stop-color="#260b00"/><stop offset="0.990" stop-color="#270b00"/><stop offset="1.000" stop-color="#280b00"/></linearGradient><linearGradient id="sb14" gradientUnits="userSpaceOnUse" x1="0" y1="541.4" x2="0" y2="952.4"><stop offset="0.000" stop-color="#240bff"/><stop offset="0.100" stop-color="#240bff"/><stop offset="0.200" stop-color="#240bff"/><stop offset="0.300" stop-color="#240bff"/><stop offset="0.400" stop-color="#240bff"/><stop offset="0.467" stop-color="#240bff"/><stop offset="0.533" stop-color="#240bb9"/><stop offset="0.600" stop-color="#240bb9"/><stop offset="0.667" stop-color="#240ba8"/><stop offset="0.733" stop-color="#240b5c"/><stop offset="0.783" stop-color="#240b00"/><stop offset="0.817" stop-color="#240b00"/><stop offset="0.850" stop-color="#240b00"/><stop offset="0.883" stop-color="#240b00"/><stop offset="0.917" stop-color="#240b00"/><stop offset="0.950" stop-color="#240b00"/><stop offset="0.980" stop-color="#260b00"/><stop offset="0.990" stop-color="#270b00"/><stop offset="1.000" stop-color="#280b00"/></linearGradient><linearGradient id="sb15" gradientUnits="userSpaceOnUse" x1="0" y1="541.4" x2="0" y2="952.4"><stop offset="0.000" stop-color="#240bff"/><stop offset="0.100" stop-color="#240bff"/><stop offset="0.200" stop-color="#240bff"/><stop offset="0.300" stop-color="#240bff"/><stop offset="0.400" stop-color="#240bff"/><stop offset="0.467" stop-color="#240bff"/><stop offset="0.533" stop-color="#240bff"/><stop offset="0.600" stop-color="#240bc2"/><stop offset="0.667" stop-color="#240bc2"/><stop offset="0.733" stop-color="#240b80"/><stop offset="0.783" stop-color="#240b00"/><stop offset="0.817" stop-color="#240b00"/><stop offset="0.850" stop-color="#240b00"/><stop offset="0.883" stop-color="#240b00"/><stop offset="0.917" stop-color="#240b00"/><stop offset="0.950" stop-color="#240b00"/><stop offset="0.980" stop-color="#260b00"/><stop offset="0.990" stop-color="#270b00"/><stop offset="1.000" stop-color="#280b00"/></linearGradient><linearGradient id="sb16" gradientUnits="userSpaceOnUse" x1="0" y1="541.4" x2="0" y2="952.4"><stop offset="0.000" stop-color="#240bff"/><stop offset="0.100" stop-color="#240bff"/><stop offset="0.200" stop-color="#240bff"/><stop offset="0.300" stop-color="#240bff"/><stop offset="0.400" stop-color="#240bff"/><stop offset="0.467" stop-color="#240bff"/><stop offset="0.533" stop-color="#240bff"/><stop offset="0.600" stop-color="#240bff"/><stop offset="0.667" stop-color="#240bc2"/><stop offset="0.733" stop-color="#240b93"/><stop offset="0.783" stop-color="#240b00"/><stop offset="0.817" stop-color="#240b00"/><stop offset="0.850" stop-color="#240b00"/><stop offset="0.883" stop-color="#240b00"/><stop offset="0.917" stop-color="#240b00"/><stop offset="0.950" stop-color="#240b00"/><stop offset="0.980" stop-color="#260b00"/><stop offset="0.990" stop-color="#270b00"/><stop offset="1.000" stop-color="#280b00"/></linearGradient><linearGradient id="sb17" gradientUnits="userSpaceOnUse" x1="0" y1="541.4" x2="0" y2="952.4"><stop offset="0.000" stop-color="#240bff"/><stop offset="0.100" stop-color="#240bff"/><stop offset="0.200" stop-color="#240bff"/><stop offset="0.300" stop-color="#240bff"/><stop offset="0.400" stop-color="#240bff"/><stop offset="0.467" stop-color="#240bff"/><stop offset="0.533" stop-color="#240bff"/><stop offset="0.600" stop-color="#240bff"/><stop offset="0.667" stop-color="#240bc2"/><stop offset="0.733" stop-color="#240bc6"/><stop offset="0.783" stop-color="#240b59"/><stop offset="0.817" stop-color="#240b00"/><stop offset="0.850" stop-color="#240b00"/><stop offset="0.883" stop-color="#240b00"/><stop offset="0.917" stop-color="#240b00"/><stop offset="0.950" stop-color="#240b00"/><stop offset="0.980" stop-color="#260b00"/><stop offset="0.990" stop-color="#270b00"/><stop offset="1.000" stop-color="#280b00"/></linearGradient><linearGradient id="sb18" gradientUnits="userSpaceOnUse" x1="0" y1="541.4" x2="0" y2="952.4"><stop offset="0.000" stop-color="#240bff"/><stop offset="0.100" stop-color="#240bff"/><stop offset="0.200" stop-color="#240bff"/><stop offset="0.300" stop-color="#240bff"/><stop offset="0.400" stop-color="#240bff"/><stop offset="0.467" stop-color="#240bff"/><stop offset="0.533" stop-color="#240bff"/><stop offset="0.600" stop-color="#240bff"/><stop offset="0.667" stop-color="#240bc2"/><stop offset="0.733" stop-color="#240bc2"/><stop offset="0.783" stop-color="#240b6d"/><stop offset="0.817" stop-color="#240b00"/><stop offset="0.850" stop-color="#240b00"/><stop offset="0.883" stop-color="#240b00"/><stop offset="0.917" stop-color="#240b00"/><stop offset="0.950" stop-color="#240b00"/><stop offset="0.980" stop-color="#270b00"/><stop offset="0.990" stop-color="#280b00"/><stop offset="1.000" stop-color="#280b00"/></linearGradient><linearGradient id="sb19" gradientUnits="userSpaceOnUse" x1="0" y1="541.4" x2="0" y2="952.4"><stop offset="0.000" stop-color="#250bff"/><stop offset="0.100" stop-color="#250bff"/><stop offset="0.200" stop-color="#250bff"/><stop offset="0.300" stop-color="#250bff"/><stop offset="0.400" stop-color="#250bff"/><stop offset="0.467" stop-color="#250bff"/><stop offset="0.533" stop-color="#250bff"/><stop offset="0.600" stop-color="#250bff"/><stop offset="0.667" stop-color="#250bc2"/><stop offset="0.733" stop-color="#250bc2"/><stop offset="0.783" stop-color="#250b7c"/><stop offset="0.817" stop-color="#250b00"/><stop offset="0.850" stop-color="#250b00"/><stop offset="0.883" stop-color="#250b00"/><stop offset="0.917" stop-color="#250b00"/><stop offset="0.950" stop-color="#250b00"/><stop offset="0.980" stop-color="#270b00"/><stop offset="0.990" stop-color="#280b00"/><stop offset="1.000" stop-color="#290b00"/></linearGradient><linearGradient id="sb20" gradientUnits="userSpaceOnUse" x1="0" y1="541.4" x2="0" y2="952.4"><stop offset="0.000" stop-color="#250bff"/><stop offset="0.100" stop-color="#250bff"/><stop offset="0.200" stop-color="#250bff"/><stop offset="0.300" stop-color="#250bff"/><stop offset="0.400" stop-color="#250bff"/><stop offset="0.467" stop-color="#250bff"/><stop offset="0.533" stop-color="#250bff"/><stop offset="0.600" stop-color="#250bff"/><stop offset="0.667" stop-color="#250bc2"/><stop offset="0.733" stop-color="#250bc2"/><stop offset="0.783" stop-color="#250b85"/><stop offset="0.817" stop-color="#250b00"/><stop offset="0.850" stop-color="#250b00"/><stop offset="0.883" stop-color="#250b00"/><stop offset="0.917" stop-color="#250b00"/><stop offset="0.950" stop-color="#250b00"/><stop offset="0.980" stop-color="#280b00"/><stop offset="0.990" stop-color="#280b00"/><stop offset="1.000" stop-color="#290b00"/></linearGradient><linearGradient id="sb21" gradientUnits="userSpaceOnUse" x1="0" y1="541.4" x2="0" y2="952.4"><stop offset="0.000" stop-color="#260bff"/><stop offset="0.100" stop-color="#260bff"/><stop offset="0.200" stop-color="#260bff"/><stop offset="0.300" stop-color="#260bff"/><stop offset="0.400" stop-color="#260bff"/><stop offset="0.467" stop-color="#260bff"/><stop offset="0.533" stop-color="#260bff"/><stop offset="0.600" stop-color="#260bff"/><stop offset="0.667" stop-color="#260bff"/><stop offset="0.733" stop-color="#260bc2"/><stop offset="0.783" stop-color="#260b8f"/><stop offset="0.817" stop-color="#260b00"/><stop offset="0.850" stop-color="#260b00"/><stop offset="0.883" stop-color="#260b00"/><stop offset="0.917" stop-color="#260b00"/><stop offset="0.950" stop-color="#260b00"/><stop offset="0.980" stop-color="#280b00"/><stop offset="0.990" stop-color="#290b00"/><stop offset="1.000" stop-color="#2a0b00"/></linearGradient><linearGradient id="sb22" gradientUnits="userSpaceOnUse" x1="0" y1="541.4" x2="0" y2="952.4"><stop offset="0.000" stop-color="#260bff"/><stop offset="0.100" stop-color="#260bff"/><stop offset="0.200" stop-color="#260bff"/><stop offset="0.300" stop-color="#260bff"/><stop offset="0.400" stop-color="#260bff"/><stop offset="0.467" stop-color="#260bff"/><stop offset="0.533" stop-color="#260bff"/><stop offset="0.600" stop-color="#260bff"/><stop offset="0.667" stop-color="#260bff"/><stop offset="0.733" stop-color="#260bc2"/><stop offset="0.783" stop-color="#260b9b"/><stop offset="0.817" stop-color="#260b00"/><stop offset="0.850" stop-color="#260b00"/><stop offset="0.883" stop-color="#260b00"/><stop offset="0.917" stop-color="#260b00"/><stop offset="0.950" stop-color="#260b00"/><stop offset="0.980" stop-color="#290b00"/><stop offset="0.990" stop-color="#290b00"/><stop offset="1.000" stop-color="#2a0b00"/></linearGradient><linearGradient id="sb23" gradientUnits="userSpaceOnUse" x1="0" y1="541.4" x2="0" y2="952.4"><stop offset="0.000" stop-color="#270bff"/><stop offset="0.100" stop-color="#270bff"/><stop offset="0.200" stop-color="#270bff"/><stop offset="0.300" stop-color="#270bff"/><stop offset="0.400" stop-color="#270bff"/><stop offset="0.467" stop-color="#270bff"/><stop offset="0.533" stop-color="#270bff"/><stop offset="0.600" stop-color="#270bff"/><stop offset="0.667" stop-color="#270bff"/><stop offset="0.733" stop-color="#270bc2"/><stop offset="0.783" stop-color="#270baa"/><stop offset="0.817" stop-color="#270b59"/><stop offset="0.850" stop-color="#270b00"/><stop offset="0.883" stop-color="#270b00"/><stop offset="0.917" stop-color="#270b00"/><stop offset="0.950" stop-color="#270b00"/><stop offset="0.980" stop-color="#290b00"/><stop offset="0.990" stop-color="#2a0b00"/><stop offset="1.000" stop-color="#2b0b00"/></linearGradient><linearGradient id="sb24" gradientUnits="userSpaceOnUse" x1="0" y1="541.4" x2="0" y2="952.4"><stop offset="0.000" stop-color="#270bff"/><stop offset="0.100" stop-color="#270bff"/><stop offset="0.200" stop-color="#270bff"/><stop offset="0.300" stop-color="#270bff"/><stop offset="0.400" stop-color="#270bff"/><stop offset="0.467" stop-color="#270bff"/><stop offset="0.533" stop-color="#270bff"/><stop offset="0.600" stop-color="#270bff"/><stop offset="0.667" stop-color="#270bff"/><stop offset="0.733" stop-color="#270bc2"/><stop offset="0.783" stop-color="#270bb4"/><stop offset="0.817" stop-color="#270b5e"/><stop offset="0.850" stop-color="#270b00"/><stop offset="0.883" stop-color="#270b00"/><stop offset="0.917" stop-color="#270b00"/><stop offset="0.950" stop-color="#270b00"/><stop offset="0.980" stop-color="#290b00"/><stop offset="0.990" stop-color="#2a0b00"/><stop offset="1.000" stop-color="#2b0b00"/></linearGradient><linearGradient id="sb25" gradientUnits="userSpaceOnUse" x1="0" y1="541.4" x2="0" y2="952.4"><stop offset="0.000" stop-color="#280bff"/><stop offset="0.100" stop-color="#280bff"/><stop offset="0.200" stop-color="#280bff"/><stop offset="0.300" stop-color="#280bff"/><stop offset="0.400" stop-color="#280bff"/><stop offset="0.467" stop-color="#280bff"/><stop offset="0.533" stop-color="#280bff"/><stop offset="0.600" stop-color="#280bff"/><stop offset="0.667" stop-color="#280bff"/><stop offset="0.733" stop-color="#280bc2"/><stop offset="0.783" stop-color="#280bc2"/><stop offset="0.817" stop-color="#280b63"/><stop offset="0.850" stop-color="#280b00"/><stop offset="0.883" stop-color="#280b00"/><stop offset="0.917" stop-color="#280b00"/><stop offset="0.950" stop-color="#280b00"/><stop offset="0.980" stop-color="#2a0b00"/><stop offset="0.990" stop-color="#2b0b00"/><stop offset="1.000" stop-color="#2c0b00"/></linearGradient><linearGradient id="sb26" gradientUnits="userSpaceOnUse" x1="0" y1="541.4" x2="0" y2="952.4"><stop offset="0.000" stop-color="#280bff"/><stop offset="0.100" stop-color="#280bff"/><stop offset="0.200" stop-color="#280bff"/><stop offset="0.300" stop-color="#280bff"/><stop offset="0.400" stop-color="#280bff"/><stop offset="0.467" stop-color="#280bff"/><stop offset="0.533" stop-color="#280bff"/><stop offset="0.600" stop-color="#280bff"/><stop offset="0.667" stop-color="#280bff"/><stop offset="0.733" stop-color="#280bc2"/><stop offset="0.783" stop-color="#280bc2"/><stop offset="0.817" stop-color="#280b67"/><stop offset="0.850" stop-color="#280b00"/><stop offset="0.883" stop-color="#280b00"/><stop offset="0.917" stop-color="#280b00"/><stop offset="0.950" stop-color="#280b00"/><stop offset="0.980" stop-color="#2a0b00"/><stop offset="0.990" stop-color="#2b0b00"/><stop offset="1.000" stop-color="#2c0b00"/></linearGradient><linearGradient id="sb27" gradientUnits="userSpaceOnUse" x1="0" y1="541.4" x2="0" y2="952.4"><stop offset="0.000" stop-color="#280bff"/><stop offset="0.100" stop-color="#280bff"/><stop offset="0.200" stop-color="#280bff"/><stop offset="0.300" stop-color="#280bff"/><stop offset="0.400" stop-color="#280bff"/><stop offset="0.467" stop-color="#280bff"/><stop offset="0.533" stop-color="#280bff"/><stop offset="0.600" stop-color="#280bff"/><stop offset="0.667" stop-color="#280bff"/><stop offset="0.733" stop-color="#280bc2"/><stop offset="0.783" stop-color="#280bc2"/><stop offset="0.817" stop-color="#280b6b"/><stop offset="0.850" stop-color="#280b00"/><stop offset="0.883" stop-color="#280b00"/><stop offset="0.917" stop-color="#280b00"/><stop offset="0.950" stop-color="#280b00"/><stop offset="0.980" stop-color="#2b0b00"/><stop offset="0.990" stop-color="#2c0b00"/><stop offset="1.000" stop-color="#2c0b00"/></linearGradient><linearGradient id="sb28" gradientUnits="userSpaceOnUse" x1="0" y1="541.4" x2="0" y2="952.4"><stop offset="0.000" stop-color="#290bff"/><stop offset="0.100" stop-color="#290bff"/><stop offset="0.200" stop-color="#290bff"/><stop offset="0.300" stop-color="#290bff"/><stop offset="0.400" stop-color="#290bff"/><stop offset="0.467" stop-color="#290bff"/><stop offset="0.533" stop-color="#290bff"/><stop offset="0.600" stop-color="#290bff"/><stop offset="0.667" stop-color="#290bff"/><stop offset="0.733" stop-color="#290bc2"/><stop offset="0.783" stop-color="#290bc2"/><stop offset="0.817" stop-color="#290b6e"/><stop offset="0.850" stop-color="#290b00"/><stop offset="0.883" stop-color="#290b00"/><stop offset="0.917" stop-color="#290b00"/><stop offset="0.950" stop-color="#290b00"/><stop offset="0.980" stop-color="#2b0b00"/><stop offset="0.990" stop-color="#2c0b00"/><stop offset="1.000" stop-color="#2d0b00"/></linearGradient><linearGradient id="sb29" gradientUnits="userSpaceOnUse" x1="0" y1="541.4" x2="0" y2="952.4"><stop offset="0.000" stop-color="#290bff"/><stop offset="0.100" stop-color="#290bff"/><stop offset="0.200" stop-color="#290bff"/><stop offset="0.300" stop-color="#290bff"/><stop offset="0.400" stop-color="#290bff"/><stop offset="0.467" stop-color="#290bff"/><stop offset="0.533" stop-color="#290bff"/><stop offset="0.600" stop-color="#290bff"/><stop offset="0.667" stop-color="#290bff"/><stop offset="0.733" stop-color="#290bc2"/><stop offset="0.783" stop-color="#290bc2"/><stop offset="0.817" stop-color="#290b72"/><stop offset="0.850" stop-color="#290b00"/><stop offset="0.883" stop-color="#290b00"/><stop offset="0.917" stop-color="#290b00"/><stop offset="0.950" stop-color="#290b00"/><stop offset="0.980" stop-color="#2c0b00"/><stop offset="0.990" stop-color="#2d0b00"/><stop offset="1.000" stop-color="#2d0b00"/></linearGradient><linearGradient id="sb30" gradientUnits="userSpaceOnUse" x1="0" y1="541.4" x2="0" y2="952.4"><stop offset="0.000" stop-color="#2a0bff"/><stop offset="0.100" stop-color="#2a0bff"/><stop offset="0.200" stop-color="#2a0bff"/><stop offset="0.300" stop-color="#2a0bff"/><stop offset="0.400" stop-color="#2a0bff"/><stop offset="0.467" stop-color="#2a0bff"/><stop offset="0.533" stop-color="#2a0bff"/><stop offset="0.600" stop-color="#2a0bff"/><stop offset="0.667" stop-color="#2a0bff"/><stop offset="0.733" stop-color="#2a0bc2"/><stop offset="0.783" stop-color="#2a0bc2"/><stop offset="0.817" stop-color="#2a0b72"/><stop offset="0.850" stop-color="#2a0b00"/><stop offset="0.883" stop-color="#2a0b00"/><stop offset="0.917" stop-color="#2a0b00"/><stop offset="0.950" stop-color="#2a0b00"/><stop offset="0.980" stop-color="#2c0b00"/><stop offset="0.990" stop-color="#2d0b00"/><stop offset="1.000" stop-color="#2e0b00"/></linearGradient><linearGradient id="sb31" gradientUnits="userSpaceOnUse" x1="0" y1="541.4" x2="0" y2="952.4"><stop offset="0.000" stop-color="#2a0bff"/><stop offset="0.100" stop-color="#2a0bff"/><stop offset="0.200" stop-color="#2a0bff"/><stop offset="0.300" stop-color="#2a0bff"/><stop offset="0.400" stop-color="#2a0bff"/><stop offset="0.467" stop-color="#2a0bff"/><stop offset="0.533" stop-color="#2a0bff"/><stop offset="0.600" stop-color="#2a0bff"/><stop offset="0.667" stop-color="#2a0bff"/><stop offset="0.733" stop-color="#2a0bc2"/><stop offset="0.783" stop-color="#2a0bc2"/><stop offset="0.817" stop-color="#2a0b6f"/><stop offset="0.850" stop-color="#2a0b00"/><stop offset="0.883" stop-color="#2a0b00"/><stop offset="0.917" stop-color="#2a0b00"/><stop offset="0.950" stop-color="#2a0b00"/><stop offset="0.980" stop-color="#2d0b00"/><stop offset="0.990" stop-color="#2d0b00"/><stop offset="1.000" stop-color="#2e0b00"/></linearGradient><linearGradient id="sb32" gradientUnits="userSpaceOnUse" x1="0" y1="541.4" x2="0" y2="952.4"><stop offset="0.000" stop-color="#2b0bff"/><stop offset="0.100" stop-color="#2b0bff"/><stop offset="0.200" stop-color="#2b0bff"/><stop offset="0.300" stop-color="#2b0bff"/><stop offset="0.400" stop-color="#2b0bff"/><stop offset="0.467" stop-color="#2b0bff"/><stop offset="0.533" stop-color="#2b0bff"/><stop offset="0.600" stop-color="#2b0bff"/><stop offset="0.667" stop-color="#2b0bff"/><stop offset="0.733" stop-color="#2b0bc2"/><stop offset="0.783" stop-color="#2b0bc2"/><stop offset="0.817" stop-color="#2b0b6c"/><stop offset="0.850" stop-color="#2b0b00"/><stop offset="0.883" stop-color="#2b0b00"/><stop offset="0.917" stop-color="#2b0b00"/><stop offset="0.950" stop-color="#2b0b00"/><stop offset="0.980" stop-color="#2d0b00"/><stop offset="0.990" stop-color="#2e0b00"/><stop offset="1.000" stop-color="#2f0b00"/></linearGradient><linearGradient id="sb33" gradientUnits="userSpaceOnUse" x1="0" y1="541.4" x2="0" y2="952.4"><stop offset="0.000" stop-color="#2b0bff"/><stop offset="0.100" stop-color="#2b0bff"/><stop offset="0.200" stop-color="#2b0bff"/><stop offset="0.300" stop-color="#2b0bff"/><stop offset="0.400" stop-color="#2b0bff"/><stop offset="0.467" stop-color="#2b0bff"/><stop offset="0.533" stop-color="#2b0bff"/><stop offset="0.600" stop-color="#2b0bff"/><stop offset="0.667" stop-color="#2b0bff"/><stop offset="0.733" stop-color="#2b0bc2"/><stop offset="0.783" stop-color="#2b0bc2"/><stop offset="0.817" stop-color="#2b0b6a"/><stop offset="0.850" stop-color="#2b0b00"/><stop offset="0.883" stop-color="#2b0b00"/><stop offset="0.917" stop-color="#2b0b00"/><stop offset="0.950" stop-color="#2b0b00"/><stop offset="0.980" stop-color="#2e0b00"/><stop offset="0.990" stop-color="#2e0b00"/><stop offset="1.000" stop-color="#2f0b00"/></linearGradient><linearGradient id="sb34" gradientUnits="userSpaceOnUse" x1="0" y1="541.4" x2="0" y2="952.4"><stop offset="0.000" stop-color="#2c0bff"/><stop offset="0.100" stop-color="#2c0bff"/><stop offset="0.200" stop-color="#2c0bff"/><stop offset="0.300" stop-color="#2c0bff"/><stop offset="0.400" stop-color="#2c0bff"/><stop offset="0.467" stop-color="#2c0bff"/><stop offset="0.533" stop-color="#2c0bff"/><stop offset="0.600" stop-color="#2c0bff"/><stop offset="0.667" stop-color="#2c0bff"/><stop offset="0.733" stop-color="#2c0bc2"/><stop offset="0.783" stop-color="#2c0bc2"/><stop offset="0.817" stop-color="#2c0b67"/><stop offset="0.850" stop-color="#2c0b00"/><stop offset="0.883" stop-color="#2c0b00"/><stop offset="0.917" stop-color="#2c0b00"/><stop offset="0.950" stop-color="#2c0b00"/><stop offset="0.980" stop-color="#2e0b00"/><stop offset="0.990" stop-color="#2f0b00"/><stop offset="1.000" stop-color="#300b00"/></linearGradient><linearGradient id="sb35" gradientUnits="userSpaceOnUse" x1="0" y1="541.4" x2="0" y2="952.4"><stop offset="0.000" stop-color="#2c0bff"/><stop offset="0.100" stop-color="#2c0bff"/><stop offset="0.200" stop-color="#2c0bff"/><stop offset="0.300" stop-color="#2c0bff"/><stop offset="0.400" stop-color="#2c0bff"/><stop offset="0.467" stop-color="#2c0bff"/><stop offset="0.533" stop-color="#2c0bff"/><stop offset="0.600" stop-color="#2c0bff"/><stop offset="0.667" stop-color="#2c0bff"/><stop offset="0.733" stop-color="#2c0bc2"/><stop offset="0.783" stop-color="#2c0bc2"/><stop offset="0.817" stop-color="#2c0b63"/><stop offset="0.850" stop-color="#2c0b00"/><stop offset="0.883" stop-color="#2c0b00"/><stop offset="0.917" stop-color="#2c0b00"/><stop offset="0.950" stop-color="#2c0b00"/><stop offset="0.980" stop-color="#2f0b00"/><stop offset="0.990" stop-color="#2f0b00"/><stop offset="1.000" stop-color="#300b00"/></linearGradient><linearGradient id="sb36" gradientUnits="userSpaceOnUse" x1="0" y1="541.4" x2="0" y2="952.4"><stop offset="0.000" stop-color="#2d0bff"/><stop offset="0.100" stop-color="#2d0bff"/><stop offset="0.200" stop-color="#2d0bff"/><stop offset="0.300" stop-color="#2d0bff"/><stop offset="0.400" stop-color="#2d0bff"/><stop offset="0.467" stop-color="#2d0bff"/><stop offset="0.533" stop-color="#2d0bff"/><stop offset="0.600" stop-color="#2d0bff"/><stop offset="0.667" stop-color="#2d0bff"/><stop offset="0.733" stop-color="#2d0bc2"/><stop offset="0.783" stop-color="#2d0bb8"/><stop offset="0.817" stop-color="#2d0b60"/><stop offset="0.850" stop-color="#2d0b00"/><stop offset="0.883" stop-color="#2d0b00"/><stop offset="0.917" stop-color="#2d0b00"/><stop offset="0.950" stop-color="#2d0b00"/><stop offset="0.980" stop-color="#2f0b00"/><stop offset="0.990" stop-color="#300b00"/><stop offset="1.000" stop-color="#310b00"/></linearGradient><linearGradient id="sb37" gradientUnits="userSpaceOnUse" x1="0" y1="541.4" x2="0" y2="952.4"><stop offset="0.000" stop-color="#2e0bff"/><stop offset="0.100" stop-color="#2e0bff"/><stop offset="0.200" stop-color="#2e0bff"/><stop offset="0.300" stop-color="#2e0bff"/><stop offset="0.400" stop-color="#2e0bff"/><stop offset="0.467" stop-color="#2e0bff"/><stop offset="0.533" stop-color="#2e0bff"/><stop offset="0.600" stop-color="#2e0bff"/><stop offset="0.667" stop-color="#2e0bff"/><stop offset="0.733" stop-color="#2e0bc2"/><stop offset="0.783" stop-color="#2e0bae"/><stop offset="0.817" stop-color="#2e0b5b"/><stop offset="0.850" stop-color="#2e0b00"/><stop offset="0.883" stop-color="#2e0b00"/><stop offset="0.917" stop-color="#2e0b00"/><stop offset="0.950" stop-color="#2e0b00"/><stop offset="0.980" stop-color="#300b00"/><stop offset="0.990" stop-color="#310b00"/><stop offset="1.000" stop-color="#320b00"/></linearGradient><linearGradient id="sb38" gradientUnits="userSpaceOnUse" x1="0" y1="541.4" x2="0" y2="952.4"><stop offset="0.000" stop-color="#2e0bff"/><stop offset="0.100" stop-color="#2e0bff"/><stop offset="0.200" stop-color="#2e0bff"/><stop offset="0.300" stop-color="#2e0bff"/><stop offset="0.400" stop-color="#2e0bff"/><stop offset="0.467" stop-color="#2e0bff"/><stop offset="0.533" stop-color="#2e0bff"/><stop offset="0.600" stop-color="#2e0bff"/><stop offset="0.667" stop-color="#2e0bff"/><stop offset="0.733" stop-color="#2e0bc2"/><stop offset="0.783" stop-color="#2e0b94"/><stop offset="0.817" stop-color="#2e0b00"/><stop offset="0.850" stop-color="#2e0b00"/><stop offset="0.883" stop-color="#2e0b00"/><stop offset="0.917" stop-color="#2e0b00"/><stop offset="0.950" stop-color="#2e0b00"/><stop offset="0.980" stop-color="#310b00"/><stop offset="0.990" stop-color="#310b00"/><stop offset="1.000" stop-color="#320b00"/></linearGradient><linearGradient id="sb39" gradientUnits="userSpaceOnUse" x1="0" y1="541.4" x2="0" y2="952.4"><stop offset="0.000" stop-color="#2f0bff"/><stop offset="0.100" stop-color="#2f0bff"/><stop offset="0.200" stop-color="#2f0bff"/><stop offset="0.300" stop-color="#2f0bff"/><stop offset="0.400" stop-color="#2f0bff"/><stop offset="0.467" stop-color="#2f0bff"/><stop offset="0.533" stop-color="#2f0bff"/><stop offset="0.600" stop-color="#2f0bff"/><stop offset="0.667" stop-color="#2f0bc2"/><stop offset="0.733" stop-color="#2f0ba3"/><stop offset="0.783" stop-color="#2f0b00"/><stop offset="0.817" stop-color="#2f0b00"/><stop offset="0.850" stop-color="#2f0b00"/><stop offset="0.883" stop-color="#2f0b00"/><stop offset="0.917" stop-color="#2f0b00"/><stop offset="0.950" stop-color="#2f0b00"/><stop offset="0.980" stop-color="#310b00"/><stop offset="0.990" stop-color="#320b00"/><stop offset="1.000" stop-color="#330b00"/></linearGradient><linearGradient id="sb40" gradientUnits="userSpaceOnUse" x1="0" y1="541.4" x2="0" y2="952.4"><stop offset="0.000" stop-color="#300bff"/><stop offset="0.100" stop-color="#300bff"/><stop offset="0.200" stop-color="#300bff"/><stop offset="0.300" stop-color="#300bff"/><stop offset="0.400" stop-color="#300bff"/><stop offset="0.467" stop-color="#300bff"/><stop offset="0.533" stop-color="#300bff"/><stop offset="0.600" stop-color="#300bc2"/><stop offset="0.667" stop-color="#300bc2"/><stop offset="0.733" stop-color="#300b00"/><stop offset="0.783" stop-color="#300b00"/><stop offset="0.817" stop-color="#300b00"/><stop offset="0.850" stop-color="#300b00"/><stop offset="0.883" stop-color="#300b00"/><stop offset="0.917" stop-color="#300b00"/><stop offset="0.950" stop-color="#300b00"/><stop offset="0.980" stop-color="#320b00"/><stop offset="0.990" stop-color="#330b00"/><stop offset="1.000" stop-color="#340b00"/></linearGradient><linearGradient id="sb41" gradientUnits="userSpaceOnUse" x1="0" y1="541.4" x2="0" y2="952.4"><stop offset="0.000" stop-color="#300bff"/><stop offset="0.100" stop-color="#300bff"/><stop offset="0.200" stop-color="#300bff"/><stop offset="0.300" stop-color="#300bff"/><stop offset="0.400" stop-color="#300bff"/><stop offset="0.467" stop-color="#300bff"/><stop offset="0.533" stop-color="#300bff"/><stop offset="0.600" stop-color="#300bc2"/><stop offset="0.667" stop-color="#300bc2"/><stop offset="0.733" stop-color="#300b00"/><stop offset="0.783" stop-color="#300b00"/><stop offset="0.817" stop-color="#300b00"/><stop offset="0.850" stop-color="#300b00"/><stop offset="0.883" stop-color="#300b00"/><stop offset="0.917" stop-color="#300b00"/><stop offset="0.950" stop-color="#300b00"/><stop offset="0.980" stop-color="#320b00"/><stop offset="0.990" stop-color="#330b00"/><stop offset="1.000" stop-color="#340b00"/></linearGradient><linearGradient id="sb42" gradientUnits="userSpaceOnUse" x1="0" y1="541.4" x2="0" y2="952.4"><stop offset="0.000" stop-color="#300bff"/><stop offset="0.100" stop-color="#300bff"/><stop offset="0.200" stop-color="#300bff"/><stop offset="0.300" stop-color="#300bff"/><stop offset="0.400" stop-color="#300bff"/><stop offset="0.467" stop-color="#300bff"/><stop offset="0.533" stop-color="#300bff"/><stop offset="0.600" stop-color="#300bc2"/><stop offset="0.667" stop-color="#300bae"/><stop offset="0.733" stop-color="#300b00"/><stop offset="0.783" stop-color="#300b00"/><stop offset="0.817" stop-color="#300b00"/><stop offset="0.850" stop-color="#300b00"/><stop offset="0.883" stop-color="#300b00"/><stop offset="0.917" stop-color="#300b00"/><stop offset="0.950" stop-color="#300b00"/><stop offset="0.980" stop-color="#320b00"/><stop offset="0.990" stop-color="#330b00"/><stop offset="1.000" stop-color="#340b00"/></linearGradient><linearGradient id="sb43" gradientUnits="userSpaceOnUse" x1="0" y1="541.4" x2="0" y2="952.4"><stop offset="0.000" stop-color="#300bff"/><stop offset="0.100" stop-color="#300bff"/><stop offset="0.200" stop-color="#300bff"/><stop offset="0.300" stop-color="#300bff"/><stop offset="0.400" stop-color="#300bff"/><stop offset="0.467" stop-color="#300bff"/><stop offset="0.533" stop-color="#300bff"/><stop offset="0.600" stop-color="#300bc2"/><stop offset="0.667" stop-color="#300b9b"/><stop offset="0.733" stop-color="#300b00"/><stop offset="0.783" stop-color="#300b00"/><stop offset="0.817" stop-color="#300b00"/><stop offset="0.850" stop-color="#300b00"/><stop offset="0.883" stop-color="#300b00"/><stop offset="0.917" stop-color="#300b00"/><stop offset="0.950" stop-color="#300b00"/><stop offset="0.980" stop-color="#320b00"/><stop offset="0.990" stop-color="#330b00"/><stop offset="1.000" stop-color="#340b00"/></linearGradient><linearGradient id="sb44" gradientUnits="userSpaceOnUse" x1="0" y1="541.4" x2="0" y2="952.4"><stop offset="0.000" stop-color="#300bff"/><stop offset="0.100" stop-color="#300bff"/><stop offset="0.200" stop-color="#300bff"/><stop offset="0.300" stop-color="#300bff"/><stop offset="0.400" stop-color="#300bff"/><stop offset="0.467" stop-color="#300bff"/><stop offset="0.533" stop-color="#300bff"/><stop offset="0.600" stop-color="#300bc2"/><stop offset="0.667" stop-color="#300b90"/><stop offset="0.733" stop-color="#300b00"/><stop offset="0.783" stop-color="#300b00"/><stop offset="0.817" stop-color="#300b00"/><stop offset="0.850" stop-color="#300b00"/><stop offset="0.883" stop-color="#300b00"/><stop offset="0.917" stop-color="#300b00"/><stop offset="0.950" stop-color="#300b00"/><stop offset="0.980" stop-color="#320b00"/><stop offset="0.990" stop-color="#330b00"/><stop offset="1.000" stop-color="#340b00"/></linearGradient><linearGradient id="sb45" gradientUnits="userSpaceOnUse" x1="0" y1="541.4" x2="0" y2="952.4"><stop offset="0.000" stop-color="#300bff"/><stop offset="0.100" stop-color="#300bff"/><stop offset="0.200" stop-color="#300bff"/><stop offset="0.300" stop-color="#300bff"/><stop offset="0.400" stop-color="#300bff"/><stop offset="0.467" stop-color="#300bff"/><stop offset="0.533" stop-color="#300bff"/><stop offset="0.600" stop-color="#300bc2"/><stop offset="0.667" stop-color="#300b83"/><stop offset="0.733" stop-color="#300b00"/><stop offset="0.783" stop-color="#300b00"/><stop offset="0.817" stop-color="#300b00"/><stop offset="0.850" stop-color="#300b00"/><stop offset="0.883" stop-color="#300b00"/><stop offset="0.917" stop-color="#300b00"/><stop offset="0.950" stop-color="#300b00"/><stop offset="0.980" stop-color="#320b00"/><stop offset="0.990" stop-color="#330b00"/><stop offset="1.000" stop-color="#340b00"/></linearGradient><linearGradient id="sb46" gradientUnits="userSpaceOnUse" x1="0" y1="541.4" x2="0" y2="952.4"><stop offset="0.000" stop-color="#300bff"/><stop offset="0.100" stop-color="#300bff"/><stop offset="0.200" stop-color="#300bff"/><stop offset="0.300" stop-color="#300bff"/><stop offset="0.400" stop-color="#300bff"/><stop offset="0.467" stop-color="#300bff"/><stop offset="0.533" stop-color="#300bc2"/><stop offset="0.600" stop-color="#300bc2"/><stop offset="0.667" stop-color="#300b59"/><stop offset="0.733" stop-color="#300b00"/><stop offset="0.783" stop-color="#300b00"/><stop offset="0.817" stop-color="#300b00"/><stop offset="0.850" stop-color="#300b00"/><stop offset="0.883" stop-color="#300b00"/><stop offset="0.917" stop-color="#300b00"/><stop offset="0.950" stop-color="#300b00"/><stop offset="0.980" stop-color="#320b00"/><stop offset="0.990" stop-color="#330b00"/><stop offset="1.000" stop-color="#340b00"/></linearGradient><linearGradient id="sb47" gradientUnits="userSpaceOnUse" x1="0" y1="541.4" x2="0" y2="952.4"><stop offset="0.000" stop-color="#300bff"/><stop offset="0.100" stop-color="#300bff"/><stop offset="0.200" stop-color="#300bff"/><stop offset="0.300" stop-color="#300bff"/><stop offset="0.400" stop-color="#300bff"/><stop offset="0.467" stop-color="#300bff"/><stop offset="0.533" stop-color="#300bc2"/><stop offset="0.600" stop-color="#300ba4"/><stop offset="0.667" stop-color="#300b00"/><stop offset="0.733" stop-color="#300b00"/><stop offset="0.783" stop-color="#300b00"/><stop offset="0.817" stop-color="#300b00"/><stop offset="0.850" stop-color="#300b00"/><stop offset="0.883" stop-color="#300b00"/><stop offset="0.917" stop-color="#300b00"/><stop offset="0.950" stop-color="#300b00"/><stop offset="0.980" stop-color="#320b00"/><stop offset="0.990" stop-color="#330b00"/><stop offset="1.000" stop-color="#340b00"/></linearGradient><linearGradient id="sb48" gradientUnits="userSpaceOnUse" x1="0" y1="541.4" x2="0" y2="952.4"><stop offset="0.000" stop-color="#300bff"/><stop offset="0.100" stop-color="#300bff"/><stop offset="0.200" stop-color="#300bff"/><stop offset="0.300" stop-color="#300bff"/><stop offset="0.400" stop-color="#300bff"/><stop offset="0.467" stop-color="#300bff"/><stop offset="0.533" stop-color="#300bc2"/><stop offset="0.600" stop-color="#300b82"/><stop offset="0.667" stop-color="#300b00"/><stop offset="0.733" stop-color="#300b00"/><stop offset="0.783" stop-color="#300b00"/><stop offset="0.817" stop-color="#300b00"/><stop offset="0.850" stop-color="#300b00"/><stop offset="0.883" stop-color="#300b00"/><stop offset="0.917" stop-color="#300b00"/><stop offset="0.950" stop-color="#300b00"/><stop offset="0.980" stop-color="#320b00"/><stop offset="0.990" stop-color="#330b00"/><stop offset="1.000" stop-color="#340b00"/></linearGradient><linearGradient id="sb49" gradientUnits="userSpaceOnUse" x1="0" y1="541.4" x2="0" y2="952.4"><stop offset="0.000" stop-color="#300bff"/><stop offset="0.100" stop-color="#300bff"/><stop offset="0.200" stop-color="#300bff"/><stop offset="0.300" stop-color="#300bff"/><stop offset="0.400" stop-color="#300bff"/><stop offset="0.467" stop-color="#300bc2"/><stop offset="0.533" stop-color="#300bc2"/><stop offset="0.600" stop-color="#300b69"/><stop offset="0.667" stop-color="#300b00"/><stop offset="0.733" stop-color="#300b00"/><stop offset="0.783" stop-color="#300b00"/><stop offset="0.817" stop-color="#300b00"/><stop offset="0.850" stop-color="#300b00"/><stop offset="0.883" stop-color="#300b00"/><stop offset="0.917" stop-color="#300b00"/><stop offset="0.950" stop-color="#300b00"/><stop offset="0.980" stop-color="#320b00"/><stop offset="0.990" stop-color="#330b00"/><stop offset="1.000" stop-color="#340b00"/></linearGradient><linearGradient id="sb50" gradientUnits="userSpaceOnUse" x1="0" y1="541.4" x2="0" y2="952.4"><stop offset="0.000" stop-color="#300bff"/><stop offset="0.100" stop-color="#300bff"/><stop offset="0.200" stop-color="#300bff"/><stop offset="0.300" stop-color="#300bff"/><stop offset="0.400" stop-color="#300bff"/><stop offset="0.467" stop-color="#300bc2"/><stop offset="0.533" stop-color="#300bc2"/><stop offset="0.600" stop-color="#300b6f"/><stop offset="0.667" stop-color="#300b00"/><stop offset="0.733" stop-color="#300b00"/><stop offset="0.783" stop-color="#300b00"/><stop offset="0.817" stop-color="#300b00"/><stop offset="0.850" stop-color="#300b00"/><stop offset="0.883" stop-color="#300b00"/><stop offset="0.917" stop-color="#300b00"/><stop offset="0.950" stop-color="#300b00"/><stop offset="0.980" stop-color="#320b00"/><stop offset="0.990" stop-color="#330b00"/><stop offset="1.000" stop-color="#340b00"/></linearGradient><linearGradient id="sb51" gradientUnits="userSpaceOnUse" x1="0" y1="541.4" x2="0" y2="952.4"><stop offset="0.000" stop-color="#300bff"/><stop offset="0.100" stop-color="#300bff"/><stop offset="0.200" stop-color="#300bff"/><stop offset="0.300" stop-color="#300bff"/><stop offset="0.400" stop-color="#300bff"/><stop offset="0.467" stop-color="#300bc2"/><stop offset="0.533" stop-color="#300bc2"/><stop offset="0.600" stop-color="#300b75"/><stop offset="0.667" stop-color="#300b00"/><stop offset="0.733" stop-color="#300b00"/><stop offset="0.783" stop-color="#300b00"/><stop offset="0.817" stop-color="#300b00"/><stop offset="0.850" stop-color="#300b00"/><stop offset="0.883" stop-color="#300b00"/><stop offset="0.917" stop-color="#300b00"/><stop offset="0.950" stop-color="#300b00"/><stop offset="0.980" stop-color="#320b00"/><stop offset="0.990" stop-color="#330b00"/><stop offset="1.000" stop-color="#340b00"/></linearGradient><linearGradient id="sb52" gradientUnits="userSpaceOnUse" x1="0" y1="541.4" x2="0" y2="952.4"><stop offset="0.000" stop-color="#300bff"/><stop offset="0.100" stop-color="#300bff"/><stop offset="0.200" stop-color="#300bff"/><stop offset="0.300" stop-color="#300bff"/><stop offset="0.400" stop-color="#300bff"/><stop offset="0.467" stop-color="#300bc2"/><stop offset="0.533" stop-color="#300bc2"/><stop offset="0.600" stop-color="#300b7a"/><stop offset="0.667" stop-color="#300b00"/><stop offset="0.733" stop-color="#300b00"/><stop offset="0.783" stop-color="#300b00"/><stop offset="0.817" stop-color="#300b00"/><stop offset="0.850" stop-color="#300b00"/><stop offset="0.883" stop-color="#300b00"/><stop offset="0.917" stop-color="#300b00"/><stop offset="0.950" stop-color="#300b00"/><stop offset="0.980" stop-color="#320b00"/><stop offset="0.990" stop-color="#330b00"/><stop offset="1.000" stop-color="#340b00"/></linearGradient><linearGradient id="sb53" gradientUnits="userSpaceOnUse" x1="0" y1="541.4" x2="0" y2="952.4"><stop offset="0.000" stop-color="#300bff"/><stop offset="0.100" stop-color="#300bff"/><stop offset="0.200" stop-color="#300bff"/><stop offset="0.300" stop-color="#300bff"/><stop offset="0.400" stop-color="#300bff"/><stop offset="0.467" stop-color="#300bff"/><stop offset="0.533" stop-color="#300bc2"/><stop offset="0.600" stop-color="#300b7e"/><stop offset="0.667" stop-color="#300b00"/><stop offset="0.733" stop-color="#300b00"/><stop offset="0.783" stop-color="#300b00"/><stop offset="0.817" stop-color="#300b00"/><stop offset="0.850" stop-color="#300b00"/><stop offset="0.883" stop-color="#300b00"/><stop offset="0.917" stop-color="#300b00"/><stop offset="0.950" stop-color="#300b00"/><stop offset="0.980" stop-color="#320b00"/><stop offset="0.990" stop-color="#330b00"/><stop offset="1.000" stop-color="#340b00"/></linearGradient><linearGradient id="sb54" gradientUnits="userSpaceOnUse" x1="0" y1="541.4" x2="0" y2="952.4"><stop offset="0.000" stop-color="#300bff"/><stop offset="0.100" stop-color="#300bff"/><stop offset="0.200" stop-color="#300bff"/><stop offset="0.300" stop-color="#300bff"/><stop offset="0.400" stop-color="#300bff"/><stop offset="0.467" stop-color="#300bff"/><stop offset="0.533" stop-color="#300bc2"/><stop offset="0.600" stop-color="#300b88"/><stop offset="0.667" stop-color="#300b00"/><stop offset="0.733" stop-color="#300b00"/><stop offset="0.783" stop-color="#300b00"/><stop offset="0.817" stop-color="#300b00"/><stop offset="0.850" stop-color="#300b00"/><stop offset="0.883" stop-color="#300b00"/><stop offset="0.917" stop-color="#300b00"/><stop offset="0.950" stop-color="#300b00"/><stop offset="0.980" stop-color="#320b00"/><stop offset="0.990" stop-color="#330b00"/><stop offset="1.000" stop-color="#340b00"/></linearGradient><linearGradient id="sb55" gradientUnits="userSpaceOnUse" x1="0" y1="541.4" x2="0" y2="952.4"><stop offset="0.000" stop-color="#300bff"/><stop offset="0.100" stop-color="#300bff"/><stop offset="0.200" stop-color="#300bff"/><stop offset="0.300" stop-color="#300bff"/><stop offset="0.400" stop-color="#300bff"/><stop offset="0.467" stop-color="#300bff"/><stop offset="0.533" stop-color="#300bc2"/><stop offset="0.600" stop-color="#300b96"/><stop offset="0.667" stop-color="#300b00"/><stop offset="0.733" stop-color="#300b00"/><stop offset="0.783" stop-color="#300b00"/><stop offset="0.817" stop-color="#300b00"/><stop offset="0.850" stop-color="#300b00"/><stop offset="0.883" stop-color="#300b00"/><stop offset="0.917" stop-color="#300b00"/><stop offset="0.950" stop-color="#300b00"/><stop offset="0.980" stop-color="#320b00"/><stop offset="0.990" stop-color="#330b00"/><stop offset="1.000" stop-color="#340b00"/></linearGradient><linearGradient id="sb56" gradientUnits="userSpaceOnUse" x1="0" y1="541.4" x2="0" y2="952.4"><stop offset="0.000" stop-color="#300bff"/><stop offset="0.100" stop-color="#300bff"/><stop offset="0.200" stop-color="#300bff"/><stop offset="0.300" stop-color="#300bff"/><stop offset="0.400" stop-color="#300bff"/><stop offset="0.467" stop-color="#300bff"/><stop offset="0.533" stop-color="#300bc2"/><stop offset="0.600" stop-color="#300bab"/><stop offset="0.667" stop-color="#300b00"/><stop offset="0.733" stop-color="#300b00"/><stop offset="0.783" stop-color="#300b00"/><stop offset="0.817" stop-color="#300b00"/><stop offset="0.850" stop-color="#300b00"/><stop offset="0.883" stop-color="#300b00"/><stop offset="0.917" stop-color="#300b00"/><stop offset="0.950" stop-color="#300b00"/><stop offset="0.980" stop-color="#320b00"/><stop offset="0.990" stop-color="#330b00"/><stop offset="1.000" stop-color="#340b00"/></linearGradient><filter id="pipeB" filterUnits="userSpaceOnUse" x="55.4" y="541.4" width="1139.1999999999998" height="411.0" color-interpolation-filters="sRGB"><feTurbulence type="fractalNoise" baseFrequency="0.6 0.5" numOctaves="2" seed="11" result="nz"/><feTurbulence type="fractalNoise" baseFrequency="0.2 0.55" numOctaves="2" seed="4" result="nz2"/><feColorMatrix in="nz" type="matrix" values="1 0 0 0 0 1 0 0 0 0 1 0 0 0 0 0 0 0 0 1" result="n0"/><feComponentTransfer in="n0" result="n1"><feFuncR type="table" tableValues="0.000 0.000 0.000 0.000 0.000 0.000 0.000 0.000 0.000 0.000 0.048 0.119 0.185 0.245 0.300 0.350 0.395 0.435 0.471 0.504 0.533 0.559 0.582 0.603 0.622 0.639 0.655 0.669 0.682 0.695 0.706 0.717 0.727 0.736 0.745 0.753 0.761 0.768 0.776 0.782 0.789"/><feFuncG type="table" tableValues="0.000 0.000 0.000 0.000 0.000 0.000 0.000 0.000 0.000 0.000 0.048 0.119 0.185 0.245 0.300 0.350 0.395 0.435 0.471 0.504 0.533 0.559 0.582 0.603 0.622 0.639 0.655 0.669 0.682 0.695 0.706 0.717 0.727 0.736 0.745 0.753 0.761 0.768 0.776 0.782 0.789"/><feFuncB type="table" tableValues="0.000 0.000 0.000 0.000 0.000 0.000 0.000 0.000 0.000 0.000 0.048 0.119 0.185 0.245 0.300 0.350 0.395 0.435 0.471 0.504 0.533 0.559 0.582 0.603 0.622 0.639 0.655 0.669 0.682 0.695 0.706 0.717 0.727 0.736 0.745 0.753 0.761 0.768 0.776 0.782 0.789"/></feComponentTransfer><feColorMatrix in="nz2" type="matrix" values="0 -1 0 0 1 0 -1 0 0 1 0 -1 0 0 1 0 0 0 0 1" result="m2"/><feColorMatrix in="SourceGraphic" type="matrix" values="0 1 0 0 0 0 1 0 0 0 0 1 0 0 0 0 0 0 0 1" result="A"/><feColorMatrix in="SourceGraphic" type="matrix" values="0.5 -0.25 0 0 0.5 0.5 -0.25 0 0 0.5 0.5 -0.25 0 0 0.5 0 0 0 0 1" result="Q"/><feColorMatrix in="SourceGraphic" type="matrix" values="0 0 1 0 0 0 0 1 0 0 0 0 1 0 0 0 0 0 0 1" result="P"/><feComposite in="n1" in2="A" operator="arithmetic" k1="1" k2="0" k3="0" k4="0" result="nA"/><feComposite in="nA" in2="Q" operator="arithmetic" k1="0" k2="1" k3="2" k4="-1" result="val"/><feComposite in="P" in2="m2" operator="arithmetic" k1="0" k2="1" k3="1" k4="-0.5" result="d"/><feComponentTransfer in="d" result="keep"><feFuncR type="discrete" tableValues="1 0"/><feFuncG type="discrete" tableValues="1 0"/><feFuncB type="discrete" tableValues="1 0"/></feComponentTransfer><feComposite in="val" in2="keep" operator="arithmetic" k1="1" k2="0" k3="0" k4="0" result="v2"/><feComponentTransfer in="v2"><feFuncR type="discrete" tableValues="1 0.902 0.702 0.502 0.302 0.102 0 0 0 0 0 0 0 0 0 0 0 0 0 0.056 0.1218 0.1876 0.2535 0.3193 0.3851 0.451 0.5168 0.5826 0.6485 0.7143 0.7801 0.846 0.9118 0.9776 1 1 1 1 1 1 1 1 1 1 1 0.9638 0.8711 0.7783 0.6855 0.5928 0.5 0 0 0 0 0 0 0 0 0 0 0 0 0"/><feFuncG type="discrete" tableValues="1 0.902 0.702 0.502 0.302 0.102 0 0 0.0714 0.1531 0.2347 0.3163 0.398 0.4796 0.5612 0.6429 0.7245 0.8061 0.8878 0.9694 1 1 1 1 1 1 1 1 1 1 1 1 1 0.9516 0.876 0.8005 0.7249 0.6493 0.5737 0.4981 0.4225 0.3469 0.2714 0.1958 0.1202 0.0446 0 0 0 0 0 0 0 0 0 0 0 0 0 0 0 0 0 0"/><feFuncB type="discrete" tableValues="1 1 1 1 1 1 0.9638 1 1 1 1 1 1 1 1 1 1 1 0.9776 0.9118 0.846 0.7801 0.7143 0.6485 0.5826 0.5168 0.451 0.3851 0.3193 0.2535 0.1876 0.1218 0.056 0 0 0 0 0 0 0 0 0 0 0 0 0 0 0 0 0 0 0 0 0 0 0 0 0 0 0 0 0 0 0"/><feFuncA type="linear" slope="0" intercept="1"/></feComponentTransfer></filter><linearGradient id="vg79" gradientUnits="userSpaceOnUse" x1="0" y1="714.0" x2="0" y2="951.0"><stop offset="0.000" stop-color="#563500" stop-opacity="1"/><stop offset="0.506" stop-color="#4a3500" stop-opacity="1"/><stop offset="1.000" stop-color="#422800" stop-opacity="1"/></linearGradient><linearGradient id="vg80" gradientUnits="userSpaceOnUse" x1="0" y1="724.0" x2="0" y2="904.0"><stop offset="0.000" stop-color="#b52000" stop-opacity="1"/><stop offset="0.556" stop-color="#a92000" stop-opacity="1"/><stop offset="1.000" stop-color="#762000" stop-opacity="0.6"/></linearGradient><linearGradient id="vg81" gradientUnits="userSpaceOnUse" x1="0" y1="730.0" x2="0" y2="951.0"><stop offset="0.000" stop-color="#563500" stop-opacity="1"/><stop offset="0.471" stop-color="#4a3500" stop-opacity="1"/><stop offset="1.000" stop-color="#422800" stop-opacity="1"/></linearGradient><linearGradient id="vg82" gradientUnits="userSpaceOnUse" x1="0" y1="742.0" x2="0" y2="951.0"><stop offset="0.000" stop-color="#9d2000" stop-opacity="1"/><stop offset="0.392" stop-color="#892000" stop-opacity="1"/><stop offset="1.000" stop-color="#662000" stop-opacity="1"/></linearGradient><linearGradient id="vg83" gradientUnits="userSpaceOnUse" x1="0" y1="732.0" x2="0" y2="951.0"><stop offset="0.000" stop-color="#563500" stop-opacity="1"/><stop offset="0.466" stop-color="#4a3500" stop-opacity="1"/><stop offset="1.000" stop-color="#422800" stop-opacity="1"/></linearGradient><linearGradient id="vg84" gradientUnits="userSpaceOnUse" x1="0" y1="742.0" x2="0" y2="951.0"><stop offset="0.000" stop-color="#852000" stop-opacity="1"/><stop offset="0.440" stop-color="#7e2000" stop-opacity="1"/><stop offset="1.000" stop-color="#662000" stop-opacity="1"/></linearGradient><linearGradient id="vg85" x1="0" y1="0" x2="0" y2="1"><stop offset="0" stop-color="#532800"/><stop offset="0.5" stop-color="#462800" stop-opacity="0.8"/><stop offset="1" stop-color="#382800" stop-opacity="0"/></linearGradient><linearGradient id="vg86" x1="0" y1="0" x2="0" y2="1"><stop offset="0" stop-color="#5e2800"/><stop offset="0.5" stop-color="#4a2800" stop-opacity="0.8"/><stop offset="1" stop-color="#362800" stop-opacity="0"/></linearGradient><linearGradient id="vg87" x1="0" y1="0" x2="0" y2="1"><stop offset="0" stop-color="#542800"/><stop offset="0.5" stop-color="#422800" stop-opacity="0.8"/><stop offset="1" stop-color="#2f2800" stop-opacity="0"/></linearGradient><linearGradient id="vg88" x1="0" y1="0" x2="0" y2="1"><stop offset="0" stop-color="#692800"/><stop offset="0.5" stop-color="#4f2800" stop-opacity="0.8"/><stop offset="1" stop-color="#342800" stop-opacity="0"/></linearGradient><linearGradient id="vg89" x1="0" y1="0" x2="0" y2="1"><stop offset="0" stop-color="#592800"/><stop offset="0.5" stop-color="#472800" stop-opacity="0.8"/><stop offset="1" stop-color="#362800" stop-opacity="0"/></linearGradient><linearGradient id="vg90" x1="0" y1="0" x2="0" y2="1"><stop offset="0" stop-color="#6a2800"/><stop offset="0.5" stop-color="#512800" stop-opacity="0.8"/><stop offset="1" stop-color="#392800" stop-opacity="0"/></linearGradient><linearGradient id="vg91" x1="0" y1="0" x2="0" y2="1"><stop offset="0" stop-color="#6a2800"/><stop offset="0.5" stop-color="#532800" stop-opacity="0.8"/><stop offset="1" stop-color="#3d2800" stop-opacity="0"/></linearGradient><linearGradient id="vg92" x1="0" y1="0" x2="0" y2="1"><stop offset="0" stop-color="#4e2800"/><stop offset="0.5" stop-color="#422800" stop-opacity="0.8"/><stop offset="1" stop-color="#372800" stop-opacity="0"/></linearGradient><linearGradient id="vg93" x1="0" y1="0" x2="0" y2="1"><stop offset="0" stop-color="#6d2800"/><stop offset="0.5" stop-color="#4e2800" stop-opacity="0.8"/><stop offset="1" stop-color="#2f2800" stop-opacity="0"/></linearGradient><linearGradient id="vg94" x1="0" y1="0" x2="0" y2="1"><stop offset="0" stop-color="#732800"/><stop offset="0.5" stop-color="#552800" stop-opacity="0.8"/><stop offset="1" stop-color="#372800" stop-opacity="0"/></linearGradient><linearGradient id="vg95" x1="0" y1="0" x2="0" y2="1"><stop offset="0" stop-color="#542800"/><stop offset="0.5" stop-color="#452800" stop-opacity="0.8"/><stop offset="1" stop-color="#372800" stop-opacity="0"/></linearGradient><linearGradient id="vg96" x1="0" y1="0" x2="0" y2="1"><stop offset="0" stop-color="#762800"/><stop offset="0.5" stop-color="#542800" stop-opacity="0.8"/><stop offset="1" stop-color="#322800" stop-opacity="0"/></linearGradient><linearGradient id="vg97" x1="0" y1="0" x2="0" y2="1"><stop offset="0" stop-color="#762800"/><stop offset="0.5" stop-color="#532800" stop-opacity="0.8"/><stop offset="1" stop-color="#302800" stop-opacity="0"/></linearGradient><linearGradient id="vg98" x1="0" y1="0" x2="0" y2="1"><stop offset="0" stop-color="#7e2800"/><stop offset="0.5" stop-color="#5b2800" stop-opacity="0.8"/><stop offset="1" stop-color="#372800" stop-opacity="0"/></linearGradient><linearGradient id="vg99" x1="0" y1="0" x2="0" y2="1"><stop offset="0" stop-color="#782800"/><stop offset="0.5" stop-color="#572800" stop-opacity="0.8"/><stop offset="1" stop-color="#352800" stop-opacity="0"/></linearGradient><linearGradient id="vg100" x1="0" y1="0" x2="0" y2="1"><stop offset="0" stop-color="#512800"/><stop offset="0.5" stop-color="#3e2800" stop-opacity="0.8"/><stop offset="1" stop-color="#2a2800" stop-opacity="0"/></linearGradient><linearGradient id="vg101" x1="0" y1="0" x2="0" y2="1"><stop offset="0" stop-color="#712800"/><stop offset="0.5" stop-color="#4b2800" stop-opacity="0.8"/><stop offset="1" stop-color="#262800" stop-opacity="0"/></linearGradient><linearGradient id="vg102" x1="0" y1="0" x2="0" y2="1"><stop offset="0" stop-color="#782800"/><stop offset="0.5" stop-color="#592800" stop-opacity="0.8"/><stop offset="1" stop-color="#392800" stop-opacity="0"/></linearGradient><linearGradient id="vg103" x1="0" y1="0" x2="0" y2="1"><stop offset="0" stop-color="#782800"/><stop offset="0.5" stop-color="#572800" stop-opacity="0.8"/><stop offset="1" stop-color="#362800" stop-opacity="0"/></linearGradient><linearGradient id="vg104" x1="0" y1="0" x2="0" y2="1"><stop offset="0" stop-color="#662800"/><stop offset="0.5" stop-color="#5a2800" stop-opacity="1"/><stop offset="1" stop-color="#4e2800" stop-opacity="1"/></linearGradient><linearGradient id="vg105" x1="0" y1="0" x2="0" y2="1"><stop offset="0" stop-color="#5e2800"/><stop offset="0.5" stop-color="#562800" stop-opacity="1"/><stop offset="1" stop-color="#4e2800" stop-opacity="1"/></linearGradient><linearGradient id="vg106" x1="0" y1="0" x2="0" y2="1"><stop offset="0" stop-color="#752800"/><stop offset="0.5" stop-color="#5b2800" stop-opacity="1"/><stop offset="1" stop-color="#402800" stop-opacity="1"/></linearGradient><linearGradient id="vg107" x1="0" y1="0" x2="0" y2="1"><stop offset="0" stop-color="#792800"/><stop offset="0.5" stop-color="#632800" stop-opacity="1"/><stop offset="1" stop-color="#4c2800" stop-opacity="1"/></linearGradient><linearGradient id="vg108" x1="0" y1="0" x2="0" y2="1"><stop offset="0" stop-color="#752800"/><stop offset="0.5" stop-color="#622800" stop-opacity="1"/><stop offset="1" stop-color="#4f2800" stop-opacity="1"/></linearGradient><linearGradient id="vg109" x1="0" y1="0" x2="0" y2="1"><stop offset="0" stop-color="#722800"/><stop offset="0.5" stop-color="#592800" stop-opacity="1"/><stop offset="1" stop-color="#402800" stop-opacity="1"/></linearGradient><linearGradient id="vg110" x1="0" y1="0" x2="0" y2="1"><stop offset="0" stop-color="#702800"/><stop offset="0.5" stop-color="#5f2800" stop-opacity="1"/><stop offset="1" stop-color="#4e2800" stop-opacity="1"/></linearGradient><linearGradient id="vg111" x1="0" y1="0" x2="0" y2="1"><stop offset="0" stop-color="#922800"/><stop offset="0.5" stop-color="#852800" stop-opacity="0.8"/><stop offset="1" stop-color="#792800" stop-opacity="0"/></linearGradient><linearGradient id="vg112" x1="0" y1="0" x2="0" y2="1"><stop offset="0" stop-color="#962800"/><stop offset="0.5" stop-color="#812800" stop-opacity="0.8"/><stop offset="1" stop-color="#6c2800" stop-opacity="0"/></linearGradient><linearGradient id="vg113" x1="0" y1="0" x2="0" y2="1"><stop offset="0" stop-color="#a82800"/><stop offset="0.5" stop-color="#8d2800" stop-opacity="0.8"/><stop offset="1" stop-color="#722800" stop-opacity="0"/></linearGradient><linearGradient id="vg114" x1="0" y1="0" x2="0" y2="1"><stop offset="0" stop-color="#9f2800"/><stop offset="0.5" stop-color="#882800" stop-opacity="0.8"/><stop offset="1" stop-color="#702800" stop-opacity="0"/></linearGradient><linearGradient id="vg115" x1="0" y1="0" x2="0" y2="1"><stop offset="0" stop-color="#922800"/><stop offset="0.5" stop-color="#832800" stop-opacity="0.8"/><stop offset="1" stop-color="#732800" stop-opacity="0"/></linearGradient><linearGradient id="vg116" x1="0" y1="0" x2="0" y2="1"><stop offset="0" stop-color="#b02800"/><stop offset="0.5" stop-color="#8c2800" stop-opacity="0.8"/><stop offset="1" stop-color="#692800" stop-opacity="0"/></linearGradient><linearGradient id="vg117" x1="0" y1="0" x2="0" y2="1"><stop offset="0" stop-color="#b12800"/><stop offset="0.5" stop-color="#8e2800" stop-opacity="0.8"/><stop offset="1" stop-color="#6b2800" stop-opacity="0"/></linearGradient><linearGradient id="vg118" x1="0" y1="0" x2="0" y2="1"><stop offset="0" stop-color="#9f2800"/><stop offset="0.5" stop-color="#872800" stop-opacity="0.8"/><stop offset="1" stop-color="#702800" stop-opacity="0"/></linearGradient><linearGradient id="vg119" x1="0" y1="0" x2="0" y2="1"><stop offset="0" stop-color="#af2800"/><stop offset="0.5" stop-color="#8f2800" stop-opacity="0.8"/><stop offset="1" stop-color="#6e2800" stop-opacity="0"/></linearGradient><linearGradient id="vg120" x1="0" y1="0" x2="0" y2="1"><stop offset="0" stop-color="#bc2800"/><stop offset="0.5" stop-color="#932800" stop-opacity="0.8"/><stop offset="1" stop-color="#692800" stop-opacity="0"/></linearGradient><linearGradient id="vg121" x1="0" y1="0" x2="0" y2="1"><stop offset="0" stop-color="#982800"/><stop offset="0.5" stop-color="#822800" stop-opacity="0.8"/><stop offset="1" stop-color="#6d2800" stop-opacity="0"/></linearGradient><linearGradient id="vg122" x1="0" y1="0" x2="0" y2="1"><stop offset="0" stop-color="#942800"/><stop offset="0.5" stop-color="#7e2800" stop-opacity="0.8"/><stop offset="1" stop-color="#682800" stop-opacity="0"/></linearGradient><linearGradient id="vg123" x1="0" y1="0" x2="0" y2="1"><stop offset="0" stop-color="#572800"/><stop offset="0.5" stop-color="#512800" stop-opacity="1"/><stop offset="1" stop-color="#4b2800" stop-opacity="1"/></linearGradient><linearGradient id="vg124" x1="0" y1="0" x2="0" y2="1"><stop offset="0" stop-color="#642800"/><stop offset="0.5" stop-color="#542800" stop-opacity="1"/><stop offset="1" stop-color="#452800" stop-opacity="1"/></linearGradient><linearGradient id="vg125" x1="0" y1="0" x2="0" y2="1"><stop offset="0" stop-color="#6c2800"/><stop offset="0.5" stop-color="#5a2800" stop-opacity="1"/><stop offset="1" stop-color="#482800" stop-opacity="1"/></linearGradient><linearGradient id="vg126" x1="0" y1="0" x2="0" y2="1"><stop offset="0" stop-color="#512800"/><stop offset="0.5" stop-color="#4d2800" stop-opacity="1"/><stop offset="1" stop-color="#492800" stop-opacity="1"/></linearGradient><linearGradient id="vg127" x1="0" y1="0" x2="0" y2="1"><stop offset="0" stop-color="#522800"/><stop offset="0.5" stop-color="#4e2800" stop-opacity="1"/><stop offset="1" stop-color="#492800" stop-opacity="1"/></linearGradient><linearGradient id="vg128" x1="0" y1="0" x2="0" y2="1"><stop offset="0" stop-color="#522800"/><stop offset="0.5" stop-color="#512800" stop-opacity="1"/><stop offset="1" stop-color="#4f2800" stop-opacity="1"/></linearGradient><linearGradient id="vg129" x1="0" y1="0" x2="0" y2="1"><stop offset="0" stop-color="#752800"/><stop offset="0.5" stop-color="#5a2800" stop-opacity="1"/><stop offset="1" stop-color="#3f2800" stop-opacity="1"/></linearGradient><linearGradient id="vg130" x1="0" y1="0" x2="0" y2="1"><stop offset="0" stop-color="#812800"/><stop offset="0.5" stop-color="#6a2800" stop-opacity="1"/><stop offset="1" stop-color="#532800" stop-opacity="1"/></linearGradient><linearGradient id="vg131" x1="0" y1="0" x2="0" y2="1"><stop offset="0" stop-color="#4f2800"/><stop offset="0.5" stop-color="#4e2800" stop-opacity="1"/><stop offset="1" stop-color="#4e2800" stop-opacity="1"/></linearGradient><linearGradient id="vg132" x1="0" y1="0" x2="0" y2="1"><stop offset="0" stop-color="#6f2800"/><stop offset="0.5" stop-color="#592800" stop-opacity="1"/><stop offset="1" stop-color="#432800" stop-opacity="1"/></linearGradient><linearGradient id="vg133" x1="0" y1="0" x2="0" y2="1"><stop offset="0" stop-color="#752800"/><stop offset="0.5" stop-color="#622800" stop-opacity="1"/><stop offset="1" stop-color="#4e2800" stop-opacity="1"/></linearGradient><linearGradient id="vg134" x1="0" y1="0" x2="0" y2="1"><stop offset="0" stop-color="#872800"/><stop offset="0.5" stop-color="#6a2800" stop-opacity="1"/><stop offset="1" stop-color="#4d2800" stop-opacity="1"/></linearGradient><linearGradient id="vg135" x1="0" y1="0" x2="0" y2="1"><stop offset="0" stop-color="#662800"/><stop offset="0.5" stop-color="#592800" stop-opacity="1"/><stop offset="1" stop-color="#4b2800" stop-opacity="1"/></linearGradient><linearGradient id="vg136" x1="0" y1="0" x2="0" y2="1"><stop offset="0" stop-color="#7e2800"/><stop offset="0.5" stop-color="#652800" stop-opacity="1"/><stop offset="1" stop-color="#4c2800" stop-opacity="1"/></linearGradient><linearGradient id="vg137" x1="0" y1="0" x2="0" y2="1"><stop offset="0" stop-color="#7e2800"/><stop offset="0.5" stop-color="#652800" stop-opacity="1"/><stop offset="1" stop-color="#4c2800" stop-opacity="1"/></linearGradient><linearGradient id="vg138" x1="0" y1="0" x2="0" y2="1"><stop offset="0" stop-color="#5f2800"/><stop offset="0.5" stop-color="#592800" stop-opacity="1"/><stop offset="1" stop-color="#532800" stop-opacity="1"/></linearGradient><linearGradient id="vg139" x1="0" y1="0" x2="0" y2="1"><stop offset="0" stop-color="#812800"/><stop offset="0.5" stop-color="#642800" stop-opacity="1"/><stop offset="1" stop-color="#482800" stop-opacity="1"/></linearGradient><linearGradient id="vg140" x1="0" y1="0" x2="0" y2="1"><stop offset="0" stop-color="#542800"/><stop offset="0.5" stop-color="#582800" stop-opacity="1"/><stop offset="1" stop-color="#5b2800" stop-opacity="1"/></linearGradient><linearGradient id="vg141" x1="0" y1="0" x2="0" y2="1"><stop offset="0" stop-color="#712800"/><stop offset="0.5" stop-color="#5c2800" stop-opacity="1"/><stop offset="1" stop-color="#472800" stop-opacity="1"/></linearGradient><linearGradient id="vg142" x1="0" y1="0" x2="0" y2="1"><stop offset="0" stop-color="#7d2800"/><stop offset="0.5" stop-color="#682800" stop-opacity="1"/><stop offset="1" stop-color="#532800" stop-opacity="1"/></linearGradient><linearGradient id="vg143" x1="0" y1="0" x2="0" y2="1"><stop offset="0" stop-color="#792800"/><stop offset="0.5" stop-color="#682800" stop-opacity="1"/><stop offset="1" stop-color="#572800" stop-opacity="1"/></linearGradient><linearGradient id="vg144" x1="0" y1="0" x2="0" y2="1"><stop offset="0" stop-color="#772800"/><stop offset="0.5" stop-color="#672800" stop-opacity="1"/><stop offset="1" stop-color="#562800" stop-opacity="1"/></linearGradient><linearGradient id="vg145" x1="0" y1="0" x2="0" y2="1"><stop offset="0" stop-color="#612800"/><stop offset="0.5" stop-color="#5a2800" stop-opacity="1"/><stop offset="1" stop-color="#532800" stop-opacity="1"/></linearGradient><linearGradient id="vg146" x1="0" y1="0" x2="0" y2="1"><stop offset="0" stop-color="#642800"/><stop offset="0.5" stop-color="#562800" stop-opacity="1"/><stop offset="1" stop-color="#482800" stop-opacity="1"/></linearGradient><linearGradient id="vg147" x1="0" y1="0" x2="0" y2="1"><stop offset="0" stop-color="#802800"/><stop offset="0.5" stop-color="#682800" stop-opacity="1"/><stop offset="1" stop-color="#512800" stop-opacity="1"/></linearGradient><linearGradient id="vg148" x1="0" y1="0" x2="0" y2="1"><stop offset="0" stop-color="#5f2800"/><stop offset="0.5" stop-color="#542800" stop-opacity="1"/><stop offset="1" stop-color="#482800" stop-opacity="1"/></linearGradient><linearGradient id="vg149" x1="0" y1="0" x2="0" y2="1"><stop offset="0" stop-color="#5f2800"/><stop offset="0.5" stop-color="#572800" stop-opacity="1"/><stop offset="1" stop-color="#502800" stop-opacity="1"/></linearGradient><linearGradient id="vg150" x1="0" y1="0" x2="0" y2="1"><stop offset="0" stop-color="#7b2800"/><stop offset="0.5" stop-color="#642800" stop-opacity="1"/><stop offset="1" stop-color="#4e2800" stop-opacity="1"/></linearGradient><linearGradient id="vg151" x1="0" y1="0" x2="0" y2="1"><stop offset="0" stop-color="#502800"/><stop offset="0.5" stop-color="#4d2800" stop-opacity="1"/><stop offset="1" stop-color="#4b2800" stop-opacity="1"/></linearGradient><linearGradient id="vg152" x1="0" y1="0" x2="0" y2="1"><stop offset="0" stop-color="#5c2800"/><stop offset="0.5" stop-color="#532800" stop-opacity="1"/><stop offset="1" stop-color="#4a2800" stop-opacity="1"/></linearGradient><linearGradient id="vg153" x1="0" y1="0" x2="0" y2="1"><stop offset="0" stop-color="#712800"/><stop offset="0.5" stop-color="#5e2800" stop-opacity="1"/><stop offset="1" stop-color="#4c2800" stop-opacity="1"/></linearGradient><linearGradient id="vg154" x1="0" y1="0" x2="0" y2="1"><stop offset="0" stop-color="#6a2800"/><stop offset="0.5" stop-color="#592800" stop-opacity="1"/><stop offset="1" stop-color="#482800" stop-opacity="1"/></linearGradient><linearGradient id="vg155" x1="0" y1="0" x2="0" y2="1"><stop offset="0" stop-color="#502800"/><stop offset="0.5" stop-color="#442800" stop-opacity="0.8"/><stop offset="1" stop-color="#382800" stop-opacity="0"/></linearGradient><linearGradient id="vg156" x1="0" y1="0" x2="0" y2="1"><stop offset="0" stop-color="#622800"/><stop offset="0.5" stop-color="#4f2800" stop-opacity="0.8"/><stop offset="1" stop-color="#3d2800" stop-opacity="0"/></linearGradient><linearGradient id="vg157" x1="0" y1="0" x2="0" y2="1"><stop offset="0" stop-color="#6a2800"/><stop offset="0.5" stop-color="#4b2800" stop-opacity="0.8"/><stop offset="1" stop-color="#2c2800" stop-opacity="0"/></linearGradient></defs><g filter="url(#pipeT)"><g filter="url(#hbl)"><rect x="54.9" y="37.4" width="21.0" height="411.0" fill="url(#st0)"/><rect x="74.9" y="37.4" width="21.0" height="411.0" fill="url(#st1)"/><rect x="94.9" y="37.4" width="21.0" height="411.0" fill="url(#st2)"/><rect x="114.9" y="37.4" width="21.0" height="411.0" fill="url(#st3)"/><rect x="134.9" y="37.4" width="21.0" height="411.0" fill="url(#st4)"/><rect x="154.9" y="37.4" width="21.0" height="411.0" fill="url(#st5)"/><rect x="174.9" y="37.4" width="21.0" height="411.0" fill="url(#st6)"/><rect x="194.9" y="37.4" width="21.0" height="411.0" fill="url(#st7)"/><rect x="214.9" y="37.4" width="21.0" height="411.0" fill="url(#st8)"/><rect x="234.9" y="37.4" width="21.0" height="411.0" fill="url(#st9)"/><rect x="254.9" y="37.4" width="21.0" height="411.0" fill="url(#st10)"/><rect x="274.9" y="37.4" width="21.0" height="411.0" fill="url(#st11)"/><rect x="294.9" y="37.4" width="21.0" height="411.0" fill="url(#st12)"/><rect x="314.9" y="37.4" width="21.0" height="411.0" fill="url(#st13)"/><rect x="334.9" y="37.4" width="21.0" height="411.0" fill="url(#st14)"/><rect x="354.9" y="37.4" width="21.0" height="411.0" fill="url(#st15)"/><rect x="374.9" y="37.4" width="21.0" height="411.0" fill="url(#st16)"/><rect x="394.9" y="37.4" width="21.0" height="411.0" fill="url(#st17)"/><rect x="414.9" y="37.4" width="21.0" height="411.0" fill="url(#st18)"/><rect x="434.9" y="37.4" width="21.0" height="411.0" fill="url(#st19)"/><rect x="454.9" y="37.4" width="21.0" height="411.0" fill="url(#st20)"/><rect x="474.9" y="37.4" width="21.0" height="411.0" fill="url(#st21)"/><rect x="494.9" y="37.4" width="21.0" height="411.0" fill="url(#st22)"/><rect x="514.9" y="37.4" width="21.0" height="411.0" fill="url(#st23)"/><rect x="534.9" y="37.4" width="21.0" height="411.0" fill="url(#st24)"/><rect x="554.9" y="37.4" width="21.0" height="411.0" fill="url(#st25)"/><rect x="574.9" y="37.4" width="21.0" height="411.0" fill="url(#st26)"/><rect x="594.9" y="37.4" width="21.0" height="411.0" fill="url(#st27)"/><rect x="614.9" y="37.4" width="21.0" height="411.0" fill="url(#st28)"/><rect x="634.9" y="37.4" width="21.0" height="411.0" fill="url(#st29)"/><rect x="654.9" y="37.4" width="21.0" height="411.0" fill="url(#st30)"/><rect x="674.9" y="37.4" width="21.0" height="411.0" fill="url(#st31)"/><rect x="694.9" y="37.4" width="21.0" height="411.0" fill="url(#st32)"/><rect x="714.9" y="37.4" width="21.0" height="411.0" fill="url(#st33)"/><rect x="734.9" y="37.4" width="21.0" height="411.0" fill="url(#st34)"/><rect x="754.9" y="37.4" width="21.0" height="411.0" fill="url(#st35)"/><rect x="774.9" y="37.4" width="21.0" height="411.0" fill="url(#st36)"/><rect x="794.9" y="37.4" width="21.0" height="411.0" fill="url(#st37)"/><rect x="814.9" y="37.4" width="21.0" height="411.0" fill="url(#st38)"/><rect x="834.9" y="37.4" width="21.0" height="411.0" fill="url(#st39)"/><rect x="854.9" y="37.4" width="21.0" height="411.0" fill="url(#st40)"/><rect x="874.9" y="37.4" width="21.0" height="411.0" fill="url(#st41)"/><rect x="894.9" y="37.4" width="21.0" height="411.0" fill="url(#st42)"/><rect x="914.9" y="37.4" width="21.0" height="411.0" fill="url(#st43)"/><rect x="934.9" y="37.4" width="21.0" height="411.0" fill="url(#st44)"/><rect x="954.9" y="37.4" width="21.0" height="411.0" fill="url(#st45)"/><rect x="974.9" y="37.4" width="21.0" height="411.0" fill="url(#st46)"/><rect x="994.9" y="37.4" width="21.0" height="411.0" fill="url(#st47)"/><rect x="1014.9" y="37.4" width="21.0" height="411.0" fill="url(#st48)"/><rect x="1034.9" y="37.4" width="21.0" height="411.0" fill="url(#st49)"/><rect x="1054.9" y="37.4" width="21.0" height="411.0" fill="url(#st50)"/><rect x="1074.9" y="37.4" width="21.0" height="411.0" fill="url(#st51)"/><rect x="1094.9" y="37.4" width="21.0" height="411.0" fill="url(#st52)"/><rect x="1114.9" y="37.4" width="21.0" height="411.0" fill="url(#st53)"/><rect x="1134.9" y="37.4" width="21.0" height="411.0" fill="url(#st54)"/><rect x="1154.9" y="37.4" width="21.0" height="411.0" fill="url(#st55)"/><rect x="1174.9" y="37.4" width="20.2" height="411.0" fill="url(#st56)"/></g><rect x="55.4" y="440.0" width="1139.2" height="3.0" fill="#350800"/><rect x="55.4" y="443.0" width="1139.2" height="3.8" fill="#2c0800"/><rect x="55.4" y="446.8" width="1139.2" height="1.6" fill="#529f78"/><g filter="url(#ebl)"><polygon points="344,226 356,246 368,212 374,300 372,380 367,447 360,447 353,380 345,300" fill="url(#vg0)"/><polygon points="350,256 357,256 368,220 371,300 368,360 364,400 358,350 351,290" fill="url(#vg1)"/><polygon points="990,226 1046,232 1044,330 1040,447 1008,447 1003,330" fill="url(#vg2)"/><polygon points="1008,238 1032,240 1041,300 1037,447 1024,447 1018,330" fill="url(#vg3)"/><polygon points="1072,230 1120,232 1118,330 1114,447 1079,447 1076,330" fill="url(#vg4)"/><polygon points="1094,238 1113,250 1111,447 1098,447" fill="url(#vg5)"/></g><g filter="url(#vbl)"><polygon points="294.4,203 296.2,203 303.2,277.3 301.4,277.3" fill="url(#vg6)"/><polygon points="285.3,203 286.3,203 294.2,313.0 293.1,313.0" fill="url(#vg7)"/><polygon points="285.2,203 287.7,203 299.1,305.2 296.6,305.2" fill="url(#vg8)"/><polygon points="291.3,203 293.2,203 301.5,276.6 299.6,276.6" fill="url(#vg9)"/><polygon points="291.6,203 293.0,203 303.2,307.8 301.9,307.8" fill="url(#vg10)"/><polygon points="292.1,203 293.9,203 302.9,284.8 301.1,284.8" fill="url(#vg11)"/><polygon points="294.7,203 296.0,203 302.9,297.9 301.7,297.9" fill="url(#vg12)"/><polygon points="280.5,203 282.8,203 292.2,288.4 289.9,288.4" fill="url(#vg13)"/><polygon points="275.8,203 276.9,203 285.5,305.2 284.4,305.2" fill="url(#vg14)"/><polygon points="317.4,207 319.3,207 327.1,297.8 325.2,297.8" fill="url(#vg15)"/><polygon points="325.1,207 326.5,207 336.7,315.8 335.4,315.8" fill="url(#vg16)"/><polygon points="323.4,207 325.7,207 334.6,295.7 332.3,295.7" fill="url(#vg17)"/><polygon points="316.9,207 318.9,207 326.6,329.3 324.6,329.3" fill="url(#vg18)"/><polygon points="328.0,207 330.1,207 338.6,325.1 336.4,325.1" fill="url(#vg19)"/><polygon points="319.7,207 321.2,207 331.1,305.1 329.6,305.1" fill="url(#vg20)"/><polygon points="323.2,207 325.7,207 336.7,301.7 334.2,301.7" fill="url(#vg21)"/><polygon points="328.6,207 330.2,207 339.6,290.3 338.0,290.3" fill="url(#vg22)"/><polygon points="310.9,207 312.3,207 320.8,309.1 319.4,309.1" fill="url(#vg23)"/><polygon points="329.6,207 331.3,207 340.9,289.6 339.1,289.6" fill="url(#vg24)"/><polygon points="358.9,330 361.3,330 359.8,438.2 357.4,438.2" fill="url(#vg25)"/><polygon points="366.7,330 369.0,330 367.2,436.8 364.9,436.8" fill="url(#vg26)"/><polygon points="361.5,330 363.6,330 364.2,430.1 362.1,430.1" fill="url(#vg27)"/><polygon points="357.7,330 358.7,330 359.4,433.7 358.4,433.7" fill="url(#vg28)"/><polygon points="359.4,330 361.1,330 359.7,441.6 358.0,441.6" fill="url(#vg29)"/><polygon points="359.9,330 361.4,330 359.2,444.0 357.7,444.0" fill="url(#vg30)"/><polygon points="361.6,330 363.5,330 360.8,435.4 358.9,435.4" fill="url(#vg31)"/><polygon points="350.0,240 351.7,240 349.3,380.0 347.6,380.0" fill="url(#vg32)"/><polygon points="358.7,240 360.9,240 357.5,361.5 355.3,361.5" fill="url(#vg33)"/><polygon points="361.4,240 363.2,240 364.2,370.3 362.3,370.3" fill="url(#vg34)"/><polygon points="364.2,240 365.7,240 362.8,356.6 361.4,356.6" fill="url(#vg35)"/><polygon points="349.1,240 351.5,240 352.3,339.8 349.9,339.8" fill="url(#vg36)"/><polygon points="352.9,240 354.8,240 351.9,362.9 350.1,362.9" fill="url(#vg37)"/><polygon points="359.1,240 360.4,240 359.2,374.0 357.9,374.0" fill="url(#vg38)"/><polygon points="355.2,240 357.7,240 357.9,351.9 355.4,351.9" fill="url(#vg39)"/><polygon points="350.4,240 352.0,240 348.5,366.1 346.9,366.1" fill="url(#vg40)"/><polygon points="353.6,240 356.1,240 356.7,336.1 354.2,336.1" fill="url(#vg41)"/><polygon points="364.6,240 366.6,240 363.3,360.4 361.3,360.4" fill="url(#vg42)"/><polygon points="365.6,240 367.3,240 367.3,386.8 365.6,386.8" fill="url(#vg43)"/><polygon points="1020.2,232 1021.8,232 1015.2,385.9 1013.6,385.9" fill="url(#vg44)"/><polygon points="1004.8,232 1006.5,232 1002.7,383.6 1001.0,383.6" fill="url(#vg45)"/><polygon points="1007.9,232 1009.6,232 1008.6,434.1 1006.9,434.1" fill="url(#vg46)"/><polygon points="1042.3,232 1043.7,232 1041.7,413.2 1040.3,413.2" fill="url(#vg47)"/><polygon points="1042.9,232 1044.8,232 1041.2,394.0 1039.4,394.0" fill="url(#vg48)"/><polygon points="1032.9,232 1034.4,232 1033.4,409.6 1031.9,409.6" fill="url(#vg49)"/><polygon points="1036.0,232 1037.8,232 1035.6,386.4 1033.9,386.4" fill="url(#vg50)"/><polygon points="1023.6,232 1025.6,232 1023.6,418.9 1021.7,418.9" fill="url(#vg51)"/><polygon points="1015.7,232 1017.5,232 1014.7,444.4 1012.9,444.4" fill="url(#vg52)"/><polygon points="1022.1,232 1024.5,232 1023.4,390.5 1021.0,390.5" fill="url(#vg53)"/><polygon points="1037.0,232 1039.3,232 1035.8,382.9 1033.5,382.9" fill="url(#vg54)"/><polygon points="1031.2,232 1033.2,232 1031.5,394.4 1029.4,394.4" fill="url(#vg55)"/><polygon points="1005.4,232 1006.7,232 1002.8,436.5 1001.5,436.5" fill="url(#vg56)"/><polygon points="1002.7,232 1003.8,232 999.8,442.6 998.7,442.6" fill="url(#vg57)"/><polygon points="1042.3,232 1043.8,232 1043.9,420.0 1042.5,420.0" fill="url(#vg58)"/><polygon points="1017.8,232 1019.7,232 1015.6,400.3 1013.7,400.3" fill="url(#vg59)"/><polygon points="1100.6,232 1102.9,232 1101.5,425.3 1099.2,425.3" fill="url(#vg60)"/><polygon points="1084.2,232 1086.0,232 1081.1,386.4 1079.3,386.4" fill="url(#vg61)"/><polygon points="1083.7,232 1085.7,232 1082.2,397.9 1080.2,397.9" fill="url(#vg62)"/><polygon points="1116.1,232 1117.6,232 1115.6,419.9 1114.1,419.9" fill="url(#vg63)"/><polygon points="1105.7,232 1107.6,232 1104.2,429.9 1102.3,429.9" fill="url(#vg64)"/><polygon points="1120.7,232 1122.1,232 1119.4,386.7 1118.0,386.7" fill="url(#vg65)"/><polygon points="1073.3,232 1074.7,232 1071.0,392.0 1069.6,392.0" fill="url(#vg66)"/><polygon points="1117.2,232 1118.3,232 1114.3,404.7 1113.2,404.7" fill="url(#vg67)"/><polygon points="1107.3,232 1109.8,232 1102.7,412.5 1100.3,412.5" fill="url(#vg68)"/><polygon points="1115.5,232 1116.9,232 1113.9,424.9 1112.6,424.9" fill="url(#vg69)"/><polygon points="1072.2,232 1073.9,232 1071.3,417.8 1069.6,417.8" fill="url(#vg70)"/><polygon points="1096.9,232 1099.0,232 1098.5,419.9 1096.4,419.9" fill="url(#vg71)"/><polygon points="1077.5,232 1079.0,232 1074.4,411.4 1072.9,411.4" fill="url(#vg72)"/><polygon points="1111.9,232 1114.4,232 1111.3,387.9 1108.8,387.9" fill="url(#vg73)"/><polygon points="1092.1,232 1094.3,232 1089.0,436.5 1086.8,436.5" fill="url(#vg74)"/><polygon points="1096.7,232 1099.2,232 1095.9,437.3 1093.4,437.3" fill="url(#vg75)"/><polygon points="1157.0,234 1158.7,234 1161.4,297.2 1159.7,297.2" fill="url(#vg76)"/><polygon points="1151.0,234 1152.9,234 1157.0,311.3 1155.1,311.3" fill="url(#vg77)"/><polygon points="1149.2,234 1151.0,234 1151.4,298.6 1149.7,298.6" fill="url(#vg78)"/></g><g filter="url(#bbl)"><path d="M90.5 224.0V224.0h1V225.1h1V222.2h1V224.0h1V221.6h1V223.7h1V224.7h1V229.2h-1V229.1h-1V230.3h-1V229.1h-1V229.6h-1V229.7h-1V227.9h-1Z" fill="#4a1b00"/><path d="M101.5 221.9V221.9h1V221.0h1V220.9h1V220.7h1V219.3h1V219.8h1V221.7h1V221.2h1V220.9h1V230.9h-1V231.6h-1V231.0h-1V230.6h-1V231.5h-1V230.5h-1V231.5h-1V230.8h-1V231.7h-1Z" fill="#4a1b00"/><path d="M110.5 212.7V212.7h1V210.0h1V214.7h1V212.3h1V212.2h1V212.2h1V215.1h1V213.3h1V213.5h1V212.9h1V212.7h1V211.9h1V213.6h1V229.6h-1V228.3h-1V227.8h-1V229.8h-1V229.6h-1V229.8h-1V229.6h-1V228.9h-1V228.7h-1V228.1h-1V227.9h-1V227.1h-1V228.9h-1Z" fill="#4a1b00"/><path d="M124.5 211.6V211.6h1V211.2h1V210.2h1V212.6h1V211.3h1V211.5h1V212.5h1V211.2h1V212.1h1V212.0h1V212.7h1V227.0h-1V228.1h-1V227.4h-1V226.2h-1V227.8h-1V227.0h-1V227.3h-1V227.1h-1V227.9h-1V226.5h-1V228.0h-1Z" fill="#4a1b00"/><path d="M136.5 218.9V218.9h1V218.5h1V220.8h1V221.2h1V218.9h1V219.0h1V222.0h1V219.6h1V225.9h-1V226.7h-1V227.2h-1V226.8h-1V226.7h-1V227.8h-1V225.7h-1V224.6h-1Z" fill="#4a1b00"/><path d="M145.5 212.0V212.0h1V211.8h1V211.5h1V212.6h1V213.3h1V211.6h1V211.7h1V213.1h1V210.9h1V211.6h1V211.8h1V212.2h1V211.9h1V211.4h1V212.3h1V211.1h1V210.7h1V210.5h1V212.7h1V210.7h1V212.5h1V212.6h1V212.7h1V212.0h1V211.7h1V212.2h1V211.6h1V206.6h1V204.2h1V200.3h1V202.4h1V201.4h1V200.6h1V201.4h1V202.0h1V199.9h1V200.3h1V200.2h1V201.1h1V201.3h1V201.0h1V200.4h1V200.6h1V201.9h1V201.9h1V201.1h1V200.0h1V201.5h1V201.2h1V201.2h1V202.4h1V201.7h1V200.2h1V200.2h1V202.1h1V201.2h1V201.7h1V200.9h1V198.8h1V201.3h1V198.5h1V193.8h1V189.3h1V191.0h1V193.2h1V191.4h1V194.4h1V195.1h1V193.8h1V193.2h1V193.6h1V193.6h1V193.2h1V193.6h1V193.6h1V192.6h1V194.0h1V193.3h1V192.8h1V194.0h1V193.2h1V195.0h1V194.0h1V193.6h1V193.0h1V193.2h1V192.2h1V193.0h1V194.2h1V191.9h1V193.7h1V194.2h1V193.8h1V193.6h1V194.4h1V192.9h1V192.8h1V193.6h1V194.5h1V193.9h1V193.4h1V193.8h1V193.9h1V192.6h1V188.5h1V192.7h1V192.4h1V193.1h1V192.6h1V192.9h1V190.9h1V187.6h1V184.5h1V185.9h1V184.1h1V184.1h1V185.4h1V183.5h1V183.0h1V185.3h1V184.5h1V184.7h1V184.7h1V184.8h1V183.7h1V184.0h1V183.1h1V184.1h1V184.1h1V183.5h1V184.4h1V186.2h1V182.8h1V184.4h1V184.4h1V184.5h1V183.0h1V187.1h1V189.1h1V186.5h1V184.3h1V184.8h1V185.4h1V185.3h1V186.4h1V184.3h1V185.1h1V184.3h1V185.2h1V184.7h1V184.1h1V183.6h1V184.0h1V182.3h1V180.8h1V180.2h1V178.7h1V179.2h1V179.6h1V179.5h1V179.7h1V180.2h1V184.3h1V188.0h1V187.0h1V188.3h1V187.2h1V188.4h1V188.8h1V187.5h1V188.4h1V188.2h1V190.0h1V188.9h1V187.0h1V188.8h1V188.8h1V187.3h1V183.3h1V186.9h1V187.0h1V186.8h1V185.7h1V186.2h1V185.2h1V185.2h1V186.0h1V185.6h1V186.1h1V188.4h1V191.3h1V194.7h1V193.8h1V195.0h1V194.7h1V194.2h1V193.3h1V195.9h1V196.8h1V199.0h1V196.9h1V196.9h1V197.3h1V196.9h1V196.6h1V197.2h1V213.6h-1V213.9h-1V213.8h-1V214.4h-1V214.3h-1V212.7h-1V213.9h-1V213.1h-1V212.4h-1V212.6h-1V214.8h-1V212.8h-1V212.4h-1V212.4h-1V212.2h-1V210.6h-1V205.3h-1V205.9h-1V204.6h-1V205.6h-1V204.3h-1V204.2h-1V203.3h-1V204.8h-1V204.7h-1V204.0h-1V204.1h-1V203.9h-1V209.5h-1V214.8h-1V215.3h-1V216.5h-1V216.9h-1V214.7h-1V217.0h-1V216.1h-1V217.4h-1V217.0h-1V215.7h-1V215.0h-1V216.9h-1V215.6h-1V216.0h-1V207.8h-1V200.7h-1V199.8h-1V199.4h-1V200.0h-1V199.9h-1V200.8h-1V199.7h-1V200.5h-1V201.5h-1V202.9h-1V203.8h-1V204.7h-1V204.4h-1V203.7h-1V204.4h-1V203.2h-1V203.7h-1V204.4h-1V204.5h-1V204.1h-1V204.2h-1V204.0h-1V205.9h-1V211.1h-1V206.9h-1V204.4h-1V203.5h-1V203.7h-1V204.9h-1V203.6h-1V204.3h-1V202.7h-1V202.4h-1V203.9h-1V203.9h-1V203.9h-1V205.6h-1V204.3h-1V204.7h-1V204.3h-1V203.9h-1V204.9h-1V204.2h-1V203.1h-1V204.8h-1V204.1h-1V205.2h-1V204.1h-1V204.9h-1V205.8h-1V208.6h-1V212.8h-1V216.0h-1V215.7h-1V216.3h-1V216.5h-1V217.0h-1V214.1h-1V215.5h-1V216.3h-1V216.4h-1V215.7h-1V216.8h-1V215.9h-1V217.4h-1V216.6h-1V217.1h-1V216.6h-1V216.4h-1V215.7h-1V216.9h-1V215.6h-1V215.8h-1V217.0h-1V218.9h-1V216.4h-1V216.5h-1V216.3h-1V215.7h-1V216.0h-1V216.4h-1V216.5h-1V214.9h-1V217.2h-1V217.3h-1V216.4h-1V217.0h-1V217.0h-1V216.3h-1V215.6h-1V216.9h-1V215.7h-1V216.3h-1V215.5h-1V215.9h-1V218.0h-1V217.1h-1V216.9h-1V216.3h-1V216.4h-1V215.9h-1V217.7h-1V215.9h-1V217.7h-1V217.4h-1V217.1h-1V217.8h-1V218.4h-1V221.6h-1V216.8h-1V217.1h-1V216.7h-1V218.0h-1V215.1h-1V216.4h-1V218.3h-1V218.7h-1V216.1h-1V217.7h-1V218.6h-1V216.5h-1V216.3h-1V216.1h-1V217.1h-1V218.1h-1V215.6h-1V217.0h-1V217.0h-1V217.8h-1V217.9h-1V216.6h-1V216.5h-1V218.0h-1V220.1h-1V225.3h-1V231.8h-1V232.5h-1V232.4h-1V230.9h-1V231.3h-1V230.4h-1V231.3h-1V232.6h-1V230.9h-1V231.8h-1V230.3h-1V229.9h-1V234.2h-1V229.7h-1V231.7h-1V231.4h-1V231.8h-1V231.0h-1V232.1h-1V231.5h-1V231.5h-1V231.1h-1V230.3h-1V230.1h-1V230.0h-1V230.9h-1V232.0h-1Z" fill="#4a1b00"/><path d="M365.5 188.7V188.7h1V189.5h1V188.0h1V188.7h1V188.7h1V188.9h1V188.7h1V189.4h1V189.1h1V188.0h1V190.5h1V187.4h1V187.5h1V189.4h1V188.7h1V188.3h1V188.7h1V189.1h1V186.9h1V188.0h1V187.7h1V187.8h1V187.9h1V189.4h1V185.6h1V189.0h1V188.1h1V189.4h1V187.3h1V188.9h1V189.1h1V188.1h1V187.7h1V188.9h1V188.0h1V187.8h1V188.5h1V187.6h1V190.9h1V195.1h1V193.2h1V194.2h1V192.7h1V193.6h1V193.3h1V193.4h1V194.1h1V195.2h1V193.4h1V194.6h1V193.8h1V194.1h1V193.1h1V193.0h1V193.4h1V193.6h1V195.0h1V194.9h1V196.5h1V197.4h1V199.5h1V198.9h1V199.9h1V200.4h1V202.5h1V200.1h1V204.4h1V205.1h1V205.6h1V208.2h1V211.1h1V200.4h1V191.8h1V192.0h1V192.3h1V192.8h1V190.8h1V192.5h1V193.1h1V193.0h1V194.2h1V193.2h1V194.4h1V195.3h1V193.9h1V194.4h1V194.4h1V195.4h1V193.3h1V194.1h1V195.2h1V196.4h1V196.4h1V195.5h1V197.6h1V196.7h1V193.6h1V197.4h1V198.3h1V197.4h1V196.4h1V197.4h1V198.2h1V199.1h1V197.7h1V195.5h1V197.9h1V199.1h1V198.1h1V199.0h1V198.3h1V198.9h1V198.6h1V198.4h1V201.1h1V201.3h1V200.9h1V200.4h1V202.0h1V200.7h1V201.5h1V202.2h1V201.6h1V202.8h1V201.7h1V201.8h1V202.2h1V201.3h1V201.6h1V203.2h1V201.4h1V203.8h1V203.3h1V204.2h1V204.0h1V204.0h1V205.1h1V203.7h1V203.8h1V204.9h1V203.6h1V205.1h1V204.9h1V204.0h1V203.5h1V203.0h1V206.2h1V203.6h1V204.0h1V205.7h1V205.5h1V205.4h1V205.4h1V205.1h1V204.8h1V205.1h1V206.3h1V206.7h1V206.9h1V206.1h1V204.4h1V206.7h1V206.3h1V204.4h1V207.7h1V206.9h1V206.8h1V207.1h1V207.1h1V207.4h1V207.4h1V207.4h1V207.9h1V207.9h1V209.6h1V207.9h1V207.5h1V207.5h1V208.4h1V208.3h1V208.5h1V208.3h1V208.4h1V209.1h1V209.6h1V208.7h1V208.3h1V207.4h1V207.4h1V208.3h1V208.1h1V208.1h1V207.3h1V208.0h1V206.5h1V207.1h1V207.4h1V208.5h1V207.5h1V205.9h1V208.1h1V207.7h1V208.5h1V208.0h1V207.9h1V207.5h1V208.2h1V207.0h1V206.3h1V208.2h1V206.3h1V205.8h1V205.4h1V204.8h1V200.8h1V201.4h1V202.4h1V199.1h1V201.9h1V202.2h1V202.8h1V204.4h1V204.1h1V206.8h1V208.4h1V207.5h1V209.2h1V211.8h1V212.3h1V212.8h1V214.3h1V211.9h1V213.2h1V213.6h1V213.3h1V214.3h1V212.4h1V213.9h1V213.3h1V215.0h1V215.0h1V213.7h1V213.5h1V214.4h1V213.9h1V214.2h1V215.1h1V214.5h1V216.4h1V215.1h1V214.7h1V214.3h1V214.9h1V216.3h1V216.0h1V216.8h1V214.7h1V216.3h1V215.3h1V215.9h1V216.2h1V214.9h1V216.5h1V215.5h1V216.3h1V216.1h1V217.0h1V218.7h1V215.7h1V216.7h1V218.4h1V216.1h1V216.8h1V216.9h1V217.3h1V215.8h1V217.5h1V217.8h1V219.4h1V217.4h1V217.0h1V217.7h1V215.5h1V218.0h1V219.0h1V217.8h1V214.8h1V217.8h1V218.2h1V217.1h1V219.4h1V217.9h1V218.0h1V219.7h1V218.5h1V218.2h1V219.9h1V218.8h1V219.5h1V218.3h1V217.5h1V219.1h1V220.2h1V218.7h1V219.4h1V219.8h1V219.5h1V217.6h1V220.0h1V219.6h1V219.0h1V220.3h1V220.1h1V219.7h1V220.0h1V217.3h1V219.6h1V219.5h1V217.8h1V221.1h1V219.7h1V219.1h1V219.1h1V219.6h1V219.4h1V218.1h1V219.1h1V219.8h1V219.9h1V220.1h1V218.6h1V218.9h1V219.7h1V218.9h1V209.1h1V203.1h1V204.2h1V203.8h1V204.2h1V203.8h1V203.1h1V202.8h1V203.8h1V203.3h1V202.6h1V203.3h1V201.7h1V204.8h1V204.4h1V204.9h1V203.5h1V203.6h1V203.0h1V203.1h1V205.1h1V204.3h1V204.7h1V206.4h1V206.1h1V204.0h1V205.7h1V201.0h1V206.1h1V204.0h1V205.0h1V205.2h1V207.7h1V204.9h1V207.4h1V207.5h1V207.0h1V208.3h1V210.5h1V209.4h1V209.8h1V211.9h1V208.8h1V211.4h1V213.3h1V211.5h1V213.8h1V214.7h1V215.7h1V211.8h1V214.4h1V213.1h1V210.0h1V210.3h1V209.7h1V207.3h1V207.1h1V206.4h1V203.7h1V203.7h1V200.9h1V202.3h1V200.0h1V199.3h1V198.9h1V199.0h1V201.2h1V199.4h1V199.6h1V199.6h1V198.6h1V200.4h1V197.7h1V200.3h1V198.9h1V199.5h1V199.6h1V199.9h1V196.4h1V196.0h1V199.0h1V198.8h1V198.6h1V199.7h1V199.1h1V199.6h1V199.2h1V196.8h1V196.2h1V199.1h1V194.1h1V196.7h1V196.1h1V199.5h1V197.1h1V197.9h1V193.2h1V197.9h1V198.8h1V196.4h1V197.6h1V195.2h1V196.3h1V197.2h1V198.0h1V199.1h1V199.2h1V198.2h1V196.9h1V196.7h1V198.4h1V198.5h1V197.7h1V198.6h1V200.4h1V200.1h1V200.0h1V199.5h1V198.8h1V199.2h1V199.4h1V199.6h1V199.1h1V198.8h1V200.5h1V199.3h1V200.4h1V199.6h1V200.4h1V200.4h1V200.6h1V200.7h1V199.4h1V199.2h1V200.3h1V201.8h1V199.8h1V199.2h1V201.4h1V197.7h1V198.5h1V198.7h1V198.4h1V198.5h1V199.9h1V199.2h1V199.2h1V197.6h1V199.7h1V199.1h1V199.1h1V199.7h1V199.3h1V199.0h1V199.3h1V198.4h1V198.3h1V197.9h1V199.8h1V198.5h1V199.1h1V199.9h1V200.5h1V198.7h1V208.9h-1V208.6h-1V208.6h-1V210.4h-1V209.4h-1V208.5h-1V208.9h-1V208.9h-1V209.5h-1V210.7h-1V208.7h-1V208.8h-1V208.7h-1V208.4h-1V208.5h-1V209.6h-1V209.7h-1V208.5h-1V209.7h-1V208.6h-1V209.7h-1V208.5h-1V208.8h-1V209.9h-1V207.7h-1V212.5h-1V215.3h-1V218.8h-1V216.4h-1V219.5h-1V216.9h-1V216.9h-1V217.6h-1V218.1h-1V216.6h-1V217.0h-1V215.4h-1V217.1h-1V216.5h-1V216.8h-1V217.3h-1V215.7h-1V216.9h-1V216.1h-1V217.0h-1V216.3h-1V218.0h-1V214.4h-1V216.2h-1V216.1h-1V217.3h-1V216.8h-1V215.6h-1V217.2h-1V218.9h-1V216.5h-1V214.8h-1V215.3h-1V215.3h-1V215.3h-1V217.0h-1V215.5h-1V216.6h-1V215.7h-1V215.5h-1V216.3h-1V215.3h-1V215.1h-1V216.2h-1V216.2h-1V217.7h-1V216.6h-1V216.2h-1V216.9h-1V217.7h-1V216.6h-1V217.1h-1V218.8h-1V217.1h-1V217.7h-1V218.4h-1V219.3h-1V218.3h-1V218.1h-1V218.5h-1V217.3h-1V217.9h-1V217.8h-1V218.3h-1V218.8h-1V218.3h-1V218.1h-1V219.4h-1V218.7h-1V218.6h-1V217.8h-1V220.1h-1V219.3h-1V220.3h-1V219.6h-1V219.7h-1V220.0h-1V221.4h-1V221.7h-1V222.3h-1V226.0h-1V225.2h-1V224.4h-1V224.7h-1V225.7h-1V227.3h-1V227.5h-1V229.8h-1V229.9h-1V229.9h-1V230.1h-1V230.7h-1V230.9h-1V229.3h-1V227.2h-1V229.0h-1V229.1h-1V227.8h-1V228.0h-1V225.6h-1V228.0h-1V225.3h-1V228.6h-1V224.7h-1V223.5h-1V223.5h-1V222.3h-1V222.6h-1V223.1h-1V221.9h-1V223.1h-1V221.4h-1V220.1h-1V220.9h-1V222.4h-1V220.0h-1V219.7h-1V219.5h-1V219.1h-1V220.0h-1V219.9h-1V221.1h-1V219.8h-1V219.8h-1V221.3h-1V219.7h-1V220.0h-1V221.0h-1V220.9h-1V220.8h-1V221.8h-1V221.9h-1V220.5h-1V222.7h-1V221.8h-1V221.8h-1V220.7h-1V221.1h-1V229.2h-1V241.8h-1V241.4h-1V242.8h-1V240.6h-1V240.6h-1V241.6h-1V240.1h-1V241.5h-1V241.0h-1V242.1h-1V240.2h-1V244.0h-1V242.4h-1V241.9h-1V241.0h-1V244.2h-1V244.5h-1V245.0h-1V246.6h-1V244.2h-1V245.4h-1V241.9h-1V241.1h-1V236.6h-1V234.2h-1V234.2h-1V232.1h-1V232.4h-1V233.5h-1V232.4h-1V232.9h-1V232.1h-1V231.9h-1V231.5h-1V232.2h-1V232.9h-1V232.3h-1V235.1h-1V231.2h-1V231.8h-1V232.5h-1V231.6h-1V231.8h-1V231.2h-1V231.6h-1V233.9h-1V231.6h-1V230.0h-1V230.3h-1V230.1h-1V231.7h-1V230.9h-1V231.5h-1V230.0h-1V230.5h-1V229.5h-1V229.9h-1V230.0h-1V229.4h-1V229.3h-1V230.1h-1V230.9h-1V230.6h-1V233.8h-1V230.8h-1V232.7h-1V228.7h-1V229.3h-1V229.8h-1V231.1h-1V230.8h-1V230.4h-1V228.6h-1V230.2h-1V229.2h-1V229.5h-1V229.1h-1V228.5h-1V230.0h-1V229.1h-1V228.3h-1V230.7h-1V228.7h-1V231.5h-1V228.9h-1V229.7h-1V228.8h-1V229.0h-1V228.7h-1V229.1h-1V229.5h-1V228.5h-1V228.1h-1V228.8h-1V228.6h-1V227.0h-1V229.5h-1V228.7h-1V228.5h-1V227.8h-1V227.2h-1V229.6h-1V229.1h-1V229.3h-1V229.0h-1V228.7h-1V227.7h-1V225.8h-1V224.9h-1V224.7h-1V224.4h-1V223.4h-1V222.6h-1V221.8h-1V222.5h-1V222.6h-1V223.7h-1V222.6h-1V222.1h-1V222.7h-1V224.0h-1V223.6h-1V224.1h-1V222.9h-1V223.5h-1V222.4h-1V224.3h-1V222.2h-1V224.1h-1V224.4h-1V224.3h-1V225.1h-1V223.9h-1V225.6h-1V223.3h-1V223.1h-1V222.8h-1V223.9h-1V224.0h-1V222.8h-1V224.3h-1V225.2h-1V224.3h-1V225.5h-1V224.9h-1V225.6h-1V224.4h-1V225.2h-1V224.8h-1V224.8h-1V224.6h-1V224.5h-1V224.2h-1V223.3h-1V223.9h-1V223.6h-1V224.4h-1V223.7h-1V225.1h-1V223.5h-1V223.2h-1V223.4h-1V222.5h-1V223.4h-1V224.1h-1V222.0h-1V220.1h-1V223.0h-1V222.0h-1V222.4h-1V221.6h-1V221.5h-1V222.0h-1V221.0h-1V221.1h-1V220.0h-1V220.9h-1V221.2h-1V221.7h-1V219.3h-1V219.3h-1V220.4h-1V222.3h-1V220.4h-1V220.4h-1V220.8h-1V218.8h-1V219.6h-1V220.1h-1V218.5h-1V219.7h-1V220.1h-1V220.5h-1V220.1h-1V218.3h-1V220.6h-1V219.7h-1V219.2h-1V217.0h-1V218.2h-1V218.1h-1V219.3h-1V217.3h-1V217.5h-1V218.7h-1V216.3h-1V216.4h-1V216.3h-1V214.8h-1V216.0h-1V215.9h-1V214.4h-1V215.8h-1V215.3h-1V215.1h-1V215.1h-1V214.3h-1V214.1h-1V213.7h-1V214.4h-1V211.5h-1V213.7h-1V213.2h-1V212.1h-1V211.8h-1V211.7h-1V211.1h-1V210.6h-1V211.5h-1V211.2h-1V212.6h-1V209.9h-1V209.6h-1V211.2h-1V210.3h-1V212.3h-1V210.6h-1V211.7h-1V211.6h-1V209.1h-1V209.8h-1V210.2h-1V211.4h-1V210.2h-1V209.9h-1V210.2h-1V215.5h-1V210.7h-1V211.6h-1V210.7h-1V210.0h-1V210.2h-1V210.0h-1V208.8h-1V209.2h-1V210.4h-1V210.6h-1V209.8h-1V210.5h-1V210.3h-1V209.4h-1V210.6h-1V217.7h-1V226.9h-1V227.1h-1V226.9h-1V225.6h-1V222.1h-1V222.6h-1V222.9h-1V220.8h-1V220.3h-1V218.2h-1V218.5h-1V217.2h-1V215.9h-1V215.1h-1V212.0h-1V210.7h-1V212.1h-1V212.0h-1V210.3h-1V209.2h-1V209.6h-1V212.0h-1V211.6h-1V212.7h-1V210.3h-1V210.2h-1V210.4h-1V210.3h-1V212.0h-1V210.7h-1V210.2h-1V211.8h-1V207.8h-1V205.6h-1V207.1h-1V206.8h-1V206.5h-1V207.8h-1V206.1h-1V206.9h-1V206.6h-1V206.8h-1V206.3h-1V204.7h-1V206.4h-1V206.1h-1V206.8h-1V206.8h-1V204.4h-1V206.1h-1V205.2h-1V205.0h-1V206.2h-1V206.3h-1V205.6h-1V206.9h-1V206.6h-1V206.8h-1V207.4h-1V205.2h-1V206.4h-1V207.3h-1V207.6h-1V206.8h-1V207.6h-1V206.2h-1V208.5h-1V205.8h-1V205.1h-1V206.3h-1V206.3h-1Z" fill="#4a1b00"/><path d="M894.5 199.9V199.9h1V200.2h1V201.4h1V201.2h1V200.0h1V200.6h1V200.1h1V200.9h1V200.3h1V202.2h1V200.9h1V200.3h1V199.6h1V199.4h1V197.4h1V201.2h1V201.8h1V197.3h1V201.1h1V199.5h1V198.1h1V201.0h1V200.7h1V200.3h1V200.1h1V200.2h1V198.9h1V199.3h1V199.6h1V200.6h1V200.5h1V201.1h1V200.6h1V200.5h1V200.7h1V201.3h1V200.2h1V199.8h1V200.5h1V200.4h1V201.1h1V200.8h1V200.7h1V201.4h1V200.8h1V201.0h1V200.2h1V201.8h1V201.1h1V199.8h1V199.8h1V202.0h1V200.7h1V201.9h1V202.5h1V198.7h1V196.8h1V195.2h1V193.8h1V193.0h1V195.9h1V193.7h1V194.1h1V195.4h1V194.2h1V194.8h1V194.2h1V192.9h1V193.2h1V193.9h1V192.9h1V194.4h1V193.9h1V192.2h1V193.8h1V193.0h1V193.0h1V193.6h1V191.4h1V192.0h1V192.8h1V192.3h1V195.5h1V192.8h1V197.3h1V198.0h1V197.9h1V199.4h1V199.7h1V202.8h1V202.2h1V203.6h1V204.4h1V204.1h1V204.6h1V207.3h1V209.2h1V209.6h1V209.9h1V211.0h1V210.7h1V212.3h1V212.1h1V212.2h1V213.9h1V212.1h1V212.0h1V212.8h1V212.8h1V212.9h1V214.1h1V214.3h1V212.7h1V213.7h1V214.1h1V235.3h-1V234.9h-1V233.7h-1V233.6h-1V236.1h-1V235.0h-1V235.2h-1V233.1h-1V233.9h-1V232.8h-1V233.4h-1V233.5h-1V233.3h-1V233.4h-1V231.9h-1V232.8h-1V232.1h-1V230.2h-1V228.0h-1V229.0h-1V226.1h-1V224.3h-1V222.1h-1V222.8h-1V221.7h-1V219.7h-1V218.8h-1V217.4h-1V217.0h-1V214.6h-1V213.9h-1V213.3h-1V212.0h-1V212.1h-1V208.9h-1V208.6h-1V209.9h-1V208.6h-1V208.9h-1V209.8h-1V209.2h-1V209.6h-1V210.5h-1V211.4h-1V211.4h-1V211.8h-1V213.3h-1V210.6h-1V210.2h-1V210.4h-1V210.2h-1V212.9h-1V211.7h-1V215.4h-1V213.3h-1V211.9h-1V212.9h-1V213.9h-1V211.1h-1V209.8h-1V209.0h-1V208.6h-1V210.2h-1V208.3h-1V207.8h-1V210.5h-1V209.1h-1V209.4h-1V208.5h-1V208.9h-1V210.4h-1V209.4h-1V210.1h-1V209.6h-1V208.7h-1V209.5h-1V207.9h-1V208.4h-1V208.8h-1V210.1h-1V209.0h-1V210.0h-1V208.7h-1V209.2h-1V208.8h-1V209.8h-1V210.1h-1V207.4h-1V208.9h-1V209.1h-1V209.4h-1V209.3h-1V208.7h-1V208.0h-1V210.2h-1V209.8h-1V210.3h-1V209.2h-1V210.1h-1V209.4h-1V208.2h-1V208.7h-1V209.5h-1V209.9h-1V208.6h-1V209.6h-1V208.8h-1V209.2h-1V209.4h-1V208.7h-1V208.7h-1V209.6h-1V209.3h-1V209.7h-1V207.7h-1Z" fill="#4a1b00"/><path d="M1045.5 202.7V202.7h1V202.5h1V202.5h1V201.7h1V204.1h1V202.0h1V201.9h1V203.5h1V202.9h1V203.0h1V204.6h1V202.6h1V202.2h1V202.6h1V198.9h1V203.6h1V203.8h1V204.4h1V203.1h1V203.9h1V220.4h-1V218.9h-1V219.0h-1V218.3h-1V217.4h-1V218.8h-1V219.9h-1V218.5h-1V219.3h-1V218.1h-1V220.6h-1V219.4h-1V218.5h-1V218.5h-1V218.9h-1V220.6h-1V218.3h-1V219.3h-1V218.8h-1V218.4h-1Z" fill="#4a1b00"/><path d="M1066.5 211.2V211.2h1V211.0h1V211.5h1V210.1h1V211.0h1V214.1h1V211.5h1V213.9h1V213.8h1V212.2h1V213.5h1V210.3h1V210.7h1V207.9h1V208.9h1V209.1h1V209.3h1V210.2h1V209.7h1V208.6h1V210.0h1V208.7h1V211.4h1V211.3h1V211.6h1V211.1h1V212.1h1V210.3h1V212.0h1V210.2h1V211.4h1V213.8h1V213.7h1V214.7h1V213.4h1V211.0h1V212.7h1V213.2h1V212.3h1V210.0h1V208.8h1V207.2h1V207.7h1V207.8h1V207.1h1V209.3h1V207.4h1V208.7h1V206.1h1V207.9h1V207.4h1V208.4h1V209.5h1V206.9h1V207.0h1V207.4h1V207.2h1V207.5h1V207.5h1V207.0h1V207.5h1V207.3h1V208.6h1V207.0h1V208.2h1V208.1h1V207.8h1V208.7h1V206.3h1V208.3h1V207.4h1V206.2h1V207.8h1V208.5h1V203.8h1V208.6h1V207.6h1V204.3h1V209.8h1V209.6h1V209.2h1V209.1h1V208.1h1V210.4h1V209.9h1V209.6h1V210.3h1V209.4h1V209.3h1V210.0h1V210.1h1V210.8h1V239.6h-1V237.4h-1V237.6h-1V236.9h-1V237.2h-1V236.1h-1V236.8h-1V237.3h-1V235.8h-1V234.1h-1V234.7h-1V234.5h-1V235.2h-1V235.3h-1V234.6h-1V233.9h-1V233.1h-1V233.1h-1V232.2h-1V231.6h-1V232.7h-1V232.5h-1V230.0h-1V230.8h-1V230.6h-1V229.1h-1V229.4h-1V229.0h-1V228.6h-1V228.5h-1V228.9h-1V230.9h-1V228.6h-1V226.9h-1V229.8h-1V228.9h-1V227.8h-1V228.5h-1V229.5h-1V229.3h-1V228.0h-1V229.0h-1V227.7h-1V228.0h-1V227.7h-1V227.3h-1V227.4h-1V227.3h-1V226.7h-1V225.4h-1V226.9h-1V228.3h-1V227.3h-1V231.4h-1V229.2h-1V230.2h-1V230.4h-1V231.0h-1V228.5h-1V229.3h-1V228.9h-1V228.1h-1V230.0h-1V226.6h-1V227.2h-1V228.3h-1V226.6h-1V225.8h-1V225.1h-1V226.2h-1V226.1h-1V224.1h-1V224.8h-1V227.5h-1V223.2h-1V224.7h-1V222.2h-1V221.5h-1V221.9h-1V225.8h-1V225.1h-1V225.5h-1V229.1h-1V227.9h-1V227.6h-1V227.1h-1V225.2h-1V226.5h-1V226.6h-1V225.3h-1V226.2h-1V223.9h-1Z" fill="#4a1b00"/><path d="M1160.5 214.0V214.0h1V215.3h1V213.7h1V213.4h1V215.9h1V214.2h1V215.8h1V215.3h1V214.8h1V213.9h1V215.4h1V214.9h1V212.9h1V213.9h1V214.2h1V213.6h1V213.0h1V214.9h1V213.8h1V214.2h1V211.8h1V214.4h1V214.0h1V214.8h1V215.5h1V213.5h1V214.1h1V214.4h1V215.4h1V214.4h1V212.2h1V215.2h1V214.4h1V213.6h1V214.7h1V234.1h-1V234.2h-1V234.5h-1V234.2h-1V234.8h-1V235.0h-1V233.8h-1V234.3h-1V234.5h-1V234.3h-1V234.4h-1V233.8h-1V234.5h-1V235.8h-1V233.3h-1V234.6h-1V234.9h-1V233.4h-1V234.2h-1V233.7h-1V234.9h-1V236.5h-1V235.8h-1V234.7h-1V234.9h-1V232.7h-1V234.9h-1V233.3h-1V233.0h-1V234.5h-1V234.5h-1V233.8h-1V232.9h-1V233.7h-1V234.3h-1Z" fill="#4a1b00"/><path d="M90.5 217.1V217.1h1V220.4h1V217.6h1V219.2h1V215.4h1V217.0h1V219.8h1V225.0h-1V224.9h-1V226.1h-1V224.9h-1V225.4h-1V225.5h-1V223.7h-1Z" fill="#8d2800"/><path d="M101.5 215.9V215.9h1V215.5h1V214.7h1V216.1h1V212.4h1V214.1h1V216.1h1V215.5h1V215.7h1V226.7h-1V227.4h-1V226.8h-1V226.4h-1V227.3h-1V226.3h-1V227.3h-1V226.6h-1V227.5h-1Z" fill="#8d2800"/><path d="M110.5 206.1V206.1h1V205.4h1V209.9h1V205.5h1V205.7h1V207.0h1V209.7h1V208.7h1V208.6h1V208.3h1V206.8h1V205.9h1V208.8h1V225.4h-1V224.1h-1V223.6h-1V225.6h-1V225.4h-1V225.6h-1V225.4h-1V224.7h-1V224.5h-1V223.9h-1V223.7h-1V222.9h-1V224.7h-1Z" fill="#8d2800"/><path d="M124.5 206.3V206.3h1V206.4h1V204.2h1V207.3h1V205.4h1V206.4h1V207.0h1V204.5h1V206.1h1V206.3h1V206.4h1V222.8h-1V223.9h-1V223.2h-1V222.0h-1V223.6h-1V222.8h-1V223.1h-1V222.9h-1V223.7h-1V222.3h-1V223.8h-1Z" fill="#8d2800"/><path d="M136.5 213.5V213.5h1V212.5h1V214.2h1V215.3h1V214.1h1V214.4h1V217.4h1V213.2h1V221.7h-1V222.5h-1V223.0h-1V222.6h-1V222.5h-1V223.6h-1V221.5h-1V220.4h-1Z" fill="#8d2800"/><path d="M145.5 207.4V207.4h1V206.6h1V204.5h1V207.8h1V207.2h1V204.8h1V204.9h1V206.9h1V205.3h1V205.3h1V205.1h1V206.8h1V206.0h1V205.6h1V207.8h1V204.5h1V204.1h1V203.8h1V207.8h1V205.6h1V206.7h1V207.4h1V207.8h1V207.4h1V206.7h1V207.2h1V205.9h1V199.9h1V199.6h1V195.7h1V195.5h1V196.9h1V195.6h1V195.0h1V196.0h1V194.4h1V193.4h1V195.4h1V195.2h1V194.7h1V194.3h1V195.7h1V194.6h1V196.8h1V196.5h1V196.3h1V195.2h1V194.5h1V195.9h1V195.5h1V196.2h1V194.9h1V193.6h1V194.2h1V195.2h1V196.0h1V195.2h1V196.2h1V192.4h1V194.9h1V192.3h1V187.7h1V182.4h1V186.0h1V187.4h1V186.1h1V188.7h1V188.7h1V187.3h1V187.6h1V188.9h1V188.6h1V187.2h1V187.4h1V187.1h1V187.2h1V188.0h1V188.1h1V186.4h1V189.2h1V187.7h1V188.3h1V187.8h1V187.9h1V187.2h1V188.5h1V187.5h1V186.3h1V189.1h1V185.9h1V188.7h1V187.3h1V187.9h1V188.4h1V188.3h1V187.5h1V187.8h1V188.8h1V189.2h1V187.0h1V187.7h1V188.3h1V188.3h1V187.9h1V181.8h1V186.6h1V187.0h1V187.6h1V185.9h1V186.9h1V185.6h1V182.8h1V177.6h1V180.0h1V177.9h1V178.6h1V180.0h1V178.4h1V177.3h1V178.7h1V179.9h1V178.8h1V178.8h1V179.9h1V179.1h1V178.1h1V177.5h1V177.7h1V178.2h1V178.1h1V178.3h1V180.1h1V177.6h1V179.3h1V177.7h1V178.6h1V177.7h1V180.4h1V183.7h1V181.6h1V179.3h1V179.6h1V179.0h1V180.1h1V179.6h1V179.5h1V179.6h1V178.0h1V178.3h1V178.2h1V178.7h1V178.3h1V179.4h1V177.4h1V176.0h1V174.1h1V174.0h1V174.6h1V173.2h1V174.9h1V173.7h1V175.6h1V178.7h1V181.0h1V181.8h1V181.3h1V181.2h1V182.0h1V183.6h1V181.6h1V183.0h1V183.3h1V183.3h1V181.9h1V181.5h1V183.6h1V182.5h1V182.6h1V178.4h1V182.3h1V180.9h1V180.0h1V179.8h1V181.6h1V179.4h1V178.7h1V181.1h1V180.2h1V180.5h1V183.0h1V184.4h1V188.4h1V187.8h1V190.3h1V189.5h1V188.8h1V187.5h1V190.1h1V191.1h1V192.8h1V191.3h1V191.4h1V192.5h1V190.1h1V190.6h1V192.5h1V209.4h-1V209.7h-1V209.6h-1V210.2h-1V210.1h-1V208.5h-1V209.7h-1V208.9h-1V208.2h-1V208.4h-1V210.6h-1V208.6h-1V208.2h-1V208.2h-1V208.0h-1V206.4h-1V201.1h-1V201.7h-1V200.4h-1V201.4h-1V200.1h-1V200.0h-1V199.1h-1V200.6h-1V200.5h-1V199.8h-1V199.9h-1V199.7h-1V205.3h-1V210.6h-1V211.1h-1V212.3h-1V212.7h-1V210.5h-1V212.8h-1V211.9h-1V213.2h-1V212.8h-1V211.5h-1V210.8h-1V212.7h-1V211.4h-1V211.8h-1V203.6h-1V196.5h-1V195.6h-1V195.2h-1V195.8h-1V195.7h-1V196.6h-1V195.5h-1V196.3h-1V197.3h-1V198.7h-1V199.6h-1V200.5h-1V200.2h-1V199.5h-1V200.2h-1V199.0h-1V199.5h-1V200.2h-1V200.3h-1V199.9h-1V200.0h-1V199.8h-1V201.7h-1V206.9h-1V202.7h-1V200.2h-1V199.3h-1V199.5h-1V200.7h-1V199.4h-1V200.1h-1V198.5h-1V198.2h-1V199.7h-1V199.7h-1V199.7h-1V201.4h-1V200.1h-1V200.5h-1V200.1h-1V199.7h-1V200.7h-1V200.0h-1V198.9h-1V200.6h-1V199.9h-1V201.0h-1V199.9h-1V200.7h-1V201.6h-1V204.4h-1V208.6h-1V211.8h-1V211.5h-1V212.1h-1V212.3h-1V212.8h-1V209.9h-1V211.3h-1V212.1h-1V212.2h-1V211.5h-1V212.6h-1V211.7h-1V213.2h-1V212.4h-1V212.9h-1V212.4h-1V212.2h-1V211.5h-1V212.7h-1V211.4h-1V211.6h-1V212.8h-1V214.7h-1V212.2h-1V212.3h-1V212.1h-1V211.5h-1V211.8h-1V212.2h-1V212.3h-1V210.7h-1V213.0h-1V213.1h-1V212.2h-1V212.8h-1V212.8h-1V212.1h-1V211.4h-1V212.7h-1V211.5h-1V212.1h-1V211.3h-1V211.7h-1V213.8h-1V212.9h-1V212.7h-1V212.1h-1V212.2h-1V211.7h-1V213.5h-1V211.7h-1V213.5h-1V213.2h-1V212.9h-1V213.6h-1V214.2h-1V217.4h-1V212.6h-1V212.9h-1V212.5h-1V213.8h-1V210.9h-1V212.2h-1V214.1h-1V214.5h-1V211.9h-1V213.5h-1V214.4h-1V212.3h-1V212.1h-1V211.9h-1V212.9h-1V213.9h-1V211.4h-1V212.8h-1V212.8h-1V213.6h-1V213.7h-1V212.4h-1V212.3h-1V213.8h-1V215.9h-1V221.1h-1V227.6h-1V228.3h-1V228.2h-1V226.7h-1V227.1h-1V226.2h-1V227.1h-1V228.4h-1V226.7h-1V227.6h-1V226.1h-1V225.7h-1V230.0h-1V225.5h-1V227.5h-1V227.2h-1V227.6h-1V226.8h-1V227.9h-1V227.3h-1V227.3h-1V226.9h-1V226.1h-1V225.9h-1V225.8h-1V226.7h-1V227.8h-1Z" fill="#8d2800"/><path d="M365.5 182.9V182.9h1V184.8h1V181.3h1V183.3h1V181.9h1V183.8h1V182.8h1V183.4h1V183.6h1V182.4h1V185.1h1V181.1h1V182.6h1V184.3h1V183.1h1V183.1h1V183.6h1V184.0h1V182.4h1V181.9h1V181.5h1V182.0h1V181.7h1V183.2h1V178.8h1V184.2h1V182.3h1V184.5h1V180.9h1V183.1h1V184.5h1V181.4h1V180.8h1V184.2h1V183.4h1V181.1h1V181.8h1V182.1h1V185.6h1V188.3h1V186.9h1V187.6h1V187.8h1V188.1h1V187.1h1V186.4h1V187.7h1V190.2h1V186.4h1V187.8h1V188.1h1V188.9h1V187.3h1V186.2h1V187.5h1V189.1h1V188.9h1V190.0h1V190.4h1V192.7h1V193.5h1V192.3h1V194.4h1V194.6h1V196.0h1V193.8h1V197.5h1V198.3h1V200.9h1V202.0h1V204.4h1V193.7h1V187.1h1V186.1h1V185.4h1V187.1h1V184.0h1V185.6h1V186.7h1V187.2h1V189.5h1V186.3h1V187.5h1V190.1h1V187.1h1V188.0h1V188.9h1V188.9h1V188.2h1V188.9h1V189.4h1V191.2h1V189.7h1V189.6h1V191.7h1V190.5h1V188.8h1V190.9h1V192.6h1V192.3h1V189.9h1V192.6h1V192.1h1V194.4h1V192.2h1V189.1h1V191.9h1V193.9h1V193.0h1V192.0h1V192.8h1V193.8h1V193.7h1V193.4h1V195.8h1V195.6h1V194.1h1V193.5h1V195.7h1V195.6h1V194.8h1V197.1h1V195.5h1V195.8h1V194.8h1V195.2h1V196.4h1V196.6h1V194.8h1V197.2h1V196.5h1V197.1h1V198.8h1V198.4h1V199.5h1V198.8h1V198.4h1V197.2h1V197.5h1V198.9h1V198.7h1V198.5h1V200.0h1V199.3h1V198.8h1V196.9h1V201.1h1V198.9h1V197.9h1V200.6h1V200.7h1V200.5h1V200.7h1V199.0h1V198.4h1V198.5h1V200.2h1V200.8h1V201.2h1V201.1h1V199.8h1V202.0h1V201.5h1V198.1h1V202.1h1V200.4h1V199.8h1V202.4h1V200.2h1V202.7h1V201.9h1V201.6h1V202.9h1V201.0h1V204.3h1V203.4h1V200.7h1V201.9h1V203.0h1V203.3h1V202.0h1V203.6h1V203.7h1V204.5h1V204.4h1V202.5h1V203.8h1V201.8h1V202.8h1V202.3h1V202.4h1V202.1h1V202.0h1V202.3h1V200.4h1V200.3h1V200.5h1V202.5h1V202.6h1V200.3h1V202.1h1V202.1h1V203.7h1V201.6h1V202.7h1V201.4h1V201.9h1V200.6h1V200.5h1V201.7h1V199.6h1V201.0h1V199.6h1V198.1h1V194.1h1V194.8h1V196.7h1V193.1h1V195.6h1V195.3h1V197.6h1V198.2h1V199.3h1V200.1h1V202.3h1V202.2h1V204.3h1V206.6h1V207.6h1V207.8h1V208.5h1V205.7h1V207.7h1V208.6h1V208.0h1V208.9h1V206.6h1V207.0h1V206.7h1V209.4h1V208.8h1V208.3h1V208.1h1V208.0h1V208.5h1V209.0h1V209.9h1V209.2h1V210.2h1V208.3h1V208.7h1V209.3h1V208.2h1V209.6h1V211.0h1V212.1h1V209.9h1V209.9h1V209.3h1V210.8h1V209.5h1V209.9h1V211.5h1V208.9h1V210.9h1V209.4h1V210.7h1V212.7h1V209.2h1V211.2h1V212.6h1V210.3h1V209.9h1V212.2h1V212.0h1V211.2h1V210.8h1V211.2h1V214.5h1V212.6h1V211.3h1V211.6h1V208.7h1V213.3h1V212.8h1V212.5h1V208.0h1V212.1h1V211.7h1V211.4h1V214.5h1V211.7h1V212.2h1V214.3h1V212.9h1V213.3h1V213.8h1V213.4h1V214.0h1V213.1h1V212.0h1V212.9h1V215.0h1V213.5h1V214.8h1V214.2h1V213.5h1V211.2h1V213.9h1V212.8h1V213.4h1V215.1h1V214.1h1V214.5h1V213.2h1V211.0h1V212.7h1V214.4h1V212.8h1V215.0h1V214.1h1V214.0h1V214.1h1V214.4h1V214.0h1V212.3h1V213.1h1V212.9h1V214.2h1V215.0h1V214.1h1V213.3h1V213.3h1V212.9h1V204.4h1V197.0h1V199.0h1V197.0h1V197.9h1V197.4h1V196.9h1V198.2h1V197.3h1V198.5h1V198.0h1V198.7h1V196.5h1V197.9h1V198.9h1V199.5h1V198.2h1V199.0h1V197.3h1V196.2h1V198.6h1V197.4h1V199.9h1V201.2h1V200.3h1V199.5h1V201.0h1V195.4h1V200.6h1V199.3h1V198.9h1V198.7h1V202.6h1V198.4h1V200.5h1V201.0h1V202.2h1V203.3h1V204.1h1V203.0h1V205.1h1V206.7h1V203.6h1V204.7h1V206.4h1V206.4h1V208.4h1V209.9h1V211.2h1V204.9h1V208.4h1V208.2h1V204.2h1V205.0h1V202.7h1V201.1h1V201.4h1V200.7h1V199.1h1V198.9h1V195.4h1V197.5h1V193.8h1V193.1h1V193.9h1V193.5h1V194.8h1V194.9h1V194.6h1V195.0h1V193.0h1V193.7h1V192.5h1V193.9h1V193.2h1V193.6h1V193.1h1V193.4h1V191.3h1V190.1h1V192.8h1V193.9h1V193.0h1V195.1h1V193.5h1V193.1h1V194.4h1V190.5h1V191.3h1V193.5h1V187.8h1V191.3h1V190.3h1V193.7h1V190.5h1V191.9h1V188.3h1V192.9h1V193.7h1V189.9h1V191.4h1V188.5h1V190.1h1V191.4h1V192.3h1V192.1h1V193.4h1V192.3h1V190.5h1V191.9h1V193.2h1V192.0h1V192.7h1V193.6h1V195.3h1V193.2h1V193.0h1V194.7h1V193.3h1V193.8h1V194.1h1V194.5h1V193.1h1V192.5h1V195.7h1V194.8h1V195.5h1V193.7h1V194.1h1V193.7h1V194.9h1V196.1h1V193.5h1V192.5h1V194.6h1V194.8h1V193.1h1V194.1h1V194.6h1V192.9h1V192.2h1V193.7h1V193.7h1V193.4h1V193.9h1V192.3h1V194.1h1V191.2h1V194.2h1V194.3h1V192.6h1V194.3h1V194.6h1V193.3h1V193.3h1V192.0h1V191.7h1V192.5h1V193.0h1V192.1h1V193.8h1V195.2h1V194.4h1V193.6h1V204.7h-1V204.4h-1V204.4h-1V206.2h-1V205.2h-1V204.3h-1V204.7h-1V204.7h-1V205.3h-1V206.5h-1V204.5h-1V204.6h-1V204.5h-1V204.2h-1V204.3h-1V205.4h-1V205.5h-1V204.3h-1V205.5h-1V204.4h-1V205.5h-1V204.3h-1V204.6h-1V205.7h-1V203.5h-1V208.3h-1V211.1h-1V214.6h-1V212.2h-1V215.3h-1V212.7h-1V212.7h-1V213.4h-1V213.9h-1V212.4h-1V212.8h-1V211.2h-1V212.9h-1V212.3h-1V212.6h-1V213.1h-1V211.5h-1V212.7h-1V211.9h-1V212.8h-1V212.1h-1V213.8h-1V210.2h-1V212.0h-1V211.9h-1V213.1h-1V212.6h-1V211.4h-1V213.0h-1V214.7h-1V212.3h-1V210.6h-1V211.1h-1V211.1h-1V211.1h-1V212.8h-1V211.3h-1V212.4h-1V211.5h-1V211.3h-1V212.1h-1V211.1h-1V210.9h-1V212.0h-1V212.0h-1V213.5h-1V212.4h-1V212.0h-1V212.7h-1V213.5h-1V212.4h-1V212.9h-1V214.6h-1V212.9h-1V213.5h-1V214.2h-1V215.1h-1V214.1h-1V213.9h-1V214.3h-1V213.1h-1V213.7h-1V213.6h-1V214.1h-1V214.6h-1V214.1h-1V213.9h-1V215.2h-1V214.5h-1V214.4h-1V213.6h-1V215.9h-1V215.1h-1V216.1h-1V215.4h-1V215.5h-1V215.8h-1V217.2h-1V217.5h-1V218.1h-1V221.8h-1V221.0h-1V220.2h-1V220.5h-1V221.5h-1V223.1h-1V223.3h-1V225.6h-1V225.7h-1V225.7h-1V225.9h-1V226.5h-1V226.7h-1V225.1h-1V223.0h-1V224.8h-1V224.9h-1V223.6h-1V223.8h-1V221.4h-1V223.8h-1V221.1h-1V224.4h-1V220.5h-1V219.3h-1V219.3h-1V218.1h-1V218.4h-1V218.9h-1V217.7h-1V218.9h-1V217.2h-1V215.9h-1V216.7h-1V218.2h-1V215.8h-1V215.5h-1V215.3h-1V214.9h-1V215.8h-1V215.7h-1V216.9h-1V215.6h-1V215.6h-1V217.1h-1V215.5h-1V215.8h-1V216.8h-1V216.7h-1V216.6h-1V217.6h-1V217.7h-1V216.3h-1V218.5h-1V217.6h-1V217.6h-1V216.5h-1V216.9h-1V225.0h-1V237.6h-1V237.2h-1V238.6h-1V236.4h-1V236.4h-1V237.4h-1V235.9h-1V237.3h-1V236.8h-1V237.9h-1V236.0h-1V239.8h-1V238.2h-1V237.7h-1V236.8h-1V240.0h-1V240.3h-1V240.8h-1V242.4h-1V240.0h-1V241.2h-1V237.7h-1V236.9h-1V232.4h-1V230.0h-1V230.0h-1V227.9h-1V228.2h-1V229.3h-1V228.2h-1V228.7h-1V227.9h-1V227.7h-1V227.3h-1V228.0h-1V228.7h-1V228.1h-1V230.9h-1V227.0h-1V227.6h-1V228.3h-1V227.4h-1V227.6h-1V227.0h-1V227.4h-1V229.7h-1V227.4h-1V225.8h-1V226.1h-1V225.9h-1V227.5h-1V226.7h-1V227.3h-1V225.8h-1V226.3h-1V225.3h-1V225.7h-1V225.8h-1V225.2h-1V225.1h-1V225.9h-1V226.7h-1V226.4h-1V229.6h-1V226.6h-1V228.5h-1V224.5h-1V225.1h-1V225.6h-1V226.9h-1V226.6h-1V226.2h-1V224.4h-1V226.0h-1V225.0h-1V225.3h-1V224.9h-1V224.3h-1V225.8h-1V224.9h-1V224.1h-1V226.5h-1V224.5h-1V227.3h-1V224.7h-1V225.5h-1V224.6h-1V224.8h-1V224.5h-1V224.9h-1V225.3h-1V224.3h-1V223.9h-1V224.6h-1V224.4h-1V222.8h-1V225.3h-1V224.5h-1V224.3h-1V223.6h-1V223.0h-1V225.4h-1V224.9h-1V225.1h-1V224.8h-1V224.5h-1V223.5h-1V221.6h-1V220.7h-1V220.5h-1V220.2h-1V219.2h-1V218.4h-1V217.6h-1V218.3h-1V218.4h-1V219.5h-1V218.4h-1V217.9h-1V218.5h-1V219.8h-1V219.4h-1V219.9h-1V218.7h-1V219.3h-1V218.2h-1V220.1h-1V218.0h-1V219.9h-1V220.2h-1V220.1h-1V220.9h-1V219.7h-1V221.4h-1V219.1h-1V218.9h-1V218.6h-1V219.7h-1V219.8h-1V218.6h-1V220.1h-1V221.0h-1V220.1h-1V221.3h-1V220.7h-1V221.4h-1V220.2h-1V221.0h-1V220.6h-1V220.6h-1V220.4h-1V220.3h-1V220.0h-1V219.1h-1V219.7h-1V219.4h-1V220.2h-1V219.5h-1V220.9h-1V219.3h-1V219.0h-1V219.2h-1V218.3h-1V219.2h-1V219.9h-1V217.8h-1V215.9h-1V218.8h-1V217.8h-1V218.2h-1V217.4h-1V217.3h-1V217.8h-1V216.8h-1V216.9h-1V215.8h-1V216.7h-1V217.0h-1V217.5h-1V215.1h-1V215.1h-1V216.2h-1V218.1h-1V216.2h-1V216.2h-1V216.6h-1V214.6h-1V215.4h-1V215.9h-1V214.3h-1V215.5h-1V215.9h-1V216.3h-1V215.9h-1V214.1h-1V216.4h-1V215.5h-1V215.0h-1V212.8h-1V214.0h-1V213.9h-1V215.1h-1V213.1h-1V213.3h-1V214.5h-1V212.1h-1V212.2h-1V212.1h-1V210.6h-1V211.8h-1V211.7h-1V210.2h-1V211.6h-1V211.1h-1V210.9h-1V210.9h-1V210.1h-1V209.9h-1V209.5h-1V210.2h-1V207.3h-1V209.5h-1V209.0h-1V207.9h-1V207.6h-1V207.5h-1V206.9h-1V206.4h-1V207.3h-1V207.0h-1V208.4h-1V205.7h-1V205.4h-1V207.0h-1V206.1h-1V208.1h-1V206.4h-1V207.5h-1V207.4h-1V204.9h-1V205.6h-1V206.0h-1V207.2h-1V206.0h-1V205.7h-1V206.0h-1V211.3h-1V206.5h-1V207.4h-1V206.5h-1V205.8h-1V206.0h-1V205.8h-1V204.6h-1V205.0h-1V206.2h-1V206.4h-1V205.6h-1V206.3h-1V206.1h-1V205.2h-1V206.4h-1V213.5h-1V222.7h-1V222.9h-1V222.7h-1V221.4h-1V217.9h-1V218.4h-1V218.7h-1V216.6h-1V216.1h-1V214.0h-1V214.3h-1V213.0h-1V211.7h-1V210.9h-1V207.8h-1V206.5h-1V207.9h-1V207.8h-1V206.1h-1V205.0h-1V205.4h-1V207.8h-1V207.4h-1V208.5h-1V206.1h-1V206.0h-1V206.2h-1V206.1h-1V207.8h-1V206.5h-1V206.0h-1V207.6h-1V203.6h-1V201.4h-1V202.9h-1V202.6h-1V202.3h-1V203.6h-1V201.9h-1V202.7h-1V202.4h-1V202.6h-1V202.1h-1V200.5h-1V202.2h-1V201.9h-1V202.6h-1V202.6h-1V200.2h-1V201.9h-1V201.0h-1V200.8h-1V202.0h-1V202.1h-1V201.4h-1V202.7h-1V202.4h-1V202.6h-1V203.2h-1V201.0h-1V202.2h-1V203.1h-1V203.4h-1V202.6h-1V203.4h-1V202.0h-1V204.3h-1V201.6h-1V200.9h-1V202.1h-1V202.1h-1Z" fill="#8d2800"/><path d="M894.5 193.9V193.9h1V193.6h1V196.0h1V195.7h1V193.3h1V194.8h1V194.8h1V196.0h1V194.3h1V197.3h1V195.8h1V194.6h1V194.3h1V193.5h1V192.7h1V194.2h1V195.5h1V192.0h1V194.3h1V194.7h1V192.3h1V195.5h1V196.2h1V194.1h1V194.3h1V194.1h1V192.2h1V194.5h1V194.7h1V194.2h1V195.8h1V195.5h1V196.0h1V195.9h1V196.1h1V194.3h1V193.6h1V193.3h1V195.0h1V194.0h1V196.6h1V194.2h1V194.1h1V194.8h1V194.8h1V195.1h1V193.7h1V194.9h1V195.6h1V194.6h1V194.2h1V195.2h1V196.1h1V196.6h1V196.4h1V191.9h1V190.4h1V188.7h1V188.0h1V186.1h1V189.5h1V187.7h1V189.5h1V190.1h1V188.4h1V189.4h1V189.4h1V188.1h1V186.5h1V188.3h1V187.9h1V189.0h1V188.9h1V186.7h1V187.8h1V186.8h1V186.7h1V188.0h1V185.5h1V185.1h1V186.8h1V187.7h1V190.0h1V187.1h1V190.5h1V192.6h1V193.3h1V193.2h1V192.9h1V196.1h1V195.8h1V198.5h1V197.7h1V198.1h1V198.7h1V200.9h1V204.0h1V204.3h1V203.4h1V205.7h1V205.4h1V207.3h1V205.3h1V205.6h1V207.3h1V205.4h1V207.1h1V207.2h1V208.2h1V206.0h1V209.2h1V209.2h1V207.2h1V208.6h1V207.3h1V231.1h-1V230.7h-1V229.5h-1V229.4h-1V231.9h-1V230.8h-1V231.0h-1V228.9h-1V229.7h-1V228.6h-1V229.2h-1V229.3h-1V229.1h-1V229.2h-1V227.7h-1V228.6h-1V227.9h-1V226.0h-1V223.8h-1V224.8h-1V221.9h-1V220.1h-1V217.9h-1V218.6h-1V217.5h-1V215.5h-1V214.6h-1V213.2h-1V212.8h-1V210.4h-1V209.7h-1V209.1h-1V207.8h-1V207.9h-1V204.7h-1V204.4h-1V205.7h-1V204.4h-1V204.7h-1V205.6h-1V205.0h-1V205.4h-1V206.3h-1V207.2h-1V207.2h-1V207.6h-1V209.1h-1V206.4h-1V206.0h-1V206.2h-1V206.0h-1V208.7h-1V207.5h-1V211.2h-1V209.1h-1V207.7h-1V208.7h-1V209.7h-1V206.9h-1V205.6h-1V204.8h-1V204.4h-1V206.0h-1V204.1h-1V203.6h-1V206.3h-1V204.9h-1V205.2h-1V204.3h-1V204.7h-1V206.2h-1V205.2h-1V205.9h-1V205.4h-1V204.5h-1V205.3h-1V203.7h-1V204.2h-1V204.6h-1V205.9h-1V204.8h-1V205.8h-1V204.5h-1V205.0h-1V204.6h-1V205.6h-1V205.9h-1V203.2h-1V204.7h-1V204.9h-1V205.2h-1V205.1h-1V204.5h-1V203.8h-1V206.0h-1V205.6h-1V206.1h-1V205.0h-1V205.9h-1V205.2h-1V204.0h-1V204.5h-1V205.3h-1V205.7h-1V204.4h-1V205.4h-1V204.6h-1V205.0h-1V205.2h-1V204.5h-1V204.5h-1V205.4h-1V205.1h-1V205.5h-1V203.5h-1Z" fill="#8d2800"/><path d="M1045.5 196.9V196.9h1V196.6h1V195.9h1V196.2h1V198.6h1V197.3h1V195.2h1V197.9h1V196.2h1V197.9h1V199.7h1V196.1h1V196.5h1V196.1h1V194.4h1V198.4h1V197.9h1V198.3h1V197.6h1V199.1h1V216.2h-1V214.7h-1V214.8h-1V214.1h-1V213.2h-1V214.6h-1V215.7h-1V214.3h-1V215.1h-1V213.9h-1V216.4h-1V215.2h-1V214.3h-1V214.3h-1V214.7h-1V216.4h-1V214.1h-1V215.1h-1V214.6h-1V214.2h-1Z" fill="#8d2800"/><path d="M1066.5 206.7V206.7h1V204.4h1V206.0h1V204.0h1V206.1h1V208.2h1V206.3h1V207.7h1V208.8h1V205.9h1V208.2h1V203.6h1V203.8h1V202.6h1V203.6h1V203.5h1V203.4h1V203.9h1V203.7h1V204.0h1V204.3h1V203.4h1V206.4h1V206.6h1V205.6h1V205.5h1V206.6h1V203.9h1V206.0h1V205.5h1V204.6h1V207.7h1V206.9h1V208.3h1V207.3h1V206.5h1V207.3h1V206.3h1V205.7h1V203.6h1V203.8h1V201.7h1V202.1h1V202.6h1V201.0h1V203.3h1V201.8h1V203.8h1V200.8h1V201.2h1V201.9h1V203.8h1V203.5h1V202.0h1V201.1h1V201.5h1V202.4h1V201.6h1V200.7h1V201.2h1V202.0h1V201.3h1V203.4h1V201.1h1V203.1h1V202.2h1V203.0h1V204.2h1V201.5h1V201.8h1V201.3h1V199.4h1V202.0h1V203.0h1V198.5h1V201.6h1V201.0h1V198.4h1V203.9h1V203.2h1V202.5h1V203.9h1V202.4h1V203.5h1V202.9h1V204.3h1V203.4h1V204.7h1V203.3h1V205.0h1V205.4h1V204.6h1V235.4h-1V233.2h-1V233.4h-1V232.7h-1V233.0h-1V231.9h-1V232.6h-1V233.1h-1V231.6h-1V229.9h-1V230.5h-1V230.3h-1V231.0h-1V231.1h-1V230.4h-1V229.7h-1V228.9h-1V228.9h-1V228.0h-1V227.4h-1V228.5h-1V228.3h-1V225.8h-1V226.6h-1V226.4h-1V224.9h-1V225.2h-1V224.8h-1V224.4h-1V224.3h-1V224.7h-1V226.7h-1V224.4h-1V222.7h-1V225.6h-1V224.7h-1V223.6h-1V224.3h-1V225.3h-1V225.1h-1V223.8h-1V224.8h-1V223.5h-1V223.8h-1V223.5h-1V223.1h-1V223.2h-1V223.1h-1V222.5h-1V221.2h-1V222.7h-1V224.1h-1V223.1h-1V227.2h-1V225.0h-1V226.0h-1V226.2h-1V226.8h-1V224.3h-1V225.1h-1V224.7h-1V223.9h-1V225.8h-1V222.4h-1V223.0h-1V224.1h-1V222.4h-1V221.6h-1V220.9h-1V222.0h-1V221.9h-1V219.9h-1V220.6h-1V223.3h-1V219.0h-1V220.5h-1V218.0h-1V217.3h-1V217.7h-1V221.6h-1V220.9h-1V221.3h-1V224.9h-1V223.7h-1V223.4h-1V222.9h-1V221.0h-1V222.3h-1V222.4h-1V221.1h-1V222.0h-1V219.7h-1Z" fill="#8d2800"/><path d="M1160.5 207.7V207.7h1V210.1h1V208.5h1V208.0h1V210.9h1V208.2h1V211.1h1V210.0h1V209.7h1V209.0h1V209.6h1V208.5h1V206.5h1V207.6h1V208.0h1V208.7h1V207.4h1V208.1h1V207.0h1V209.2h1V205.4h1V209.5h1V209.2h1V210.0h1V208.8h1V207.8h1V207.4h1V209.5h1V208.7h1V208.9h1V205.3h1V210.1h1V208.0h1V209.0h1V208.3h1V229.9h-1V230.0h-1V230.3h-1V230.0h-1V230.6h-1V230.8h-1V229.6h-1V230.1h-1V230.3h-1V230.1h-1V230.2h-1V229.6h-1V230.3h-1V231.6h-1V229.1h-1V230.4h-1V230.7h-1V229.2h-1V230.0h-1V229.5h-1V230.7h-1V232.3h-1V231.6h-1V230.5h-1V230.7h-1V228.5h-1V230.7h-1V229.1h-1V228.8h-1V230.3h-1V230.3h-1V229.6h-1V228.7h-1V229.5h-1V230.1h-1Z" fill="#8d2800"/><path d="M90.5 222.0V222.0h1V223.1h1V220.2h1V222.0h1V219.6h1V221.7h1V222.7h1V227.0h-1V226.9h-1V228.1h-1V226.9h-1V227.4h-1V227.5h-1V225.7h-1Z" fill="#d50800"/><path d="M101.5 219.9V219.9h1V219.0h1V218.9h1V218.7h1V217.3h1V217.8h1V219.7h1V219.2h1V218.9h1V228.7h-1V229.4h-1V228.8h-1V228.4h-1V229.3h-1V228.3h-1V229.3h-1V228.6h-1V229.5h-1Z" fill="#d50800"/><path d="M110.5 210.7V210.7h1V208.0h1V212.7h1V210.3h1V210.2h1V210.2h1V213.1h1V211.3h1V211.5h1V210.9h1V210.7h1V209.9h1V211.6h1V227.4h-1V226.1h-1V225.6h-1V227.6h-1V227.4h-1V227.6h-1V227.4h-1V226.7h-1V226.5h-1V225.9h-1V225.7h-1V224.9h-1V226.7h-1Z" fill="#d50800"/><path d="M124.5 209.6V209.6h1V209.2h1V208.2h1V210.6h1V209.3h1V209.5h1V210.5h1V209.2h1V210.1h1V210.0h1V210.7h1V224.8h-1V225.9h-1V225.2h-1V224.0h-1V225.6h-1V224.8h-1V225.1h-1V224.9h-1V225.7h-1V224.3h-1V225.8h-1Z" fill="#d50800"/><path d="M136.5 216.9V216.9h1V216.5h1V218.8h1V219.2h1V216.9h1V217.0h1V220.0h1V217.6h1V223.7h-1V224.5h-1V225.0h-1V224.6h-1V224.5h-1V225.6h-1V223.5h-1V222.4h-1Z" fill="#d50800"/><path d="M145.5 210.0V210.0h1V209.8h1V209.5h1V210.6h1V211.3h1V209.6h1V209.7h1V211.1h1V208.9h1V209.6h1V209.8h1V210.2h1V209.9h1V209.4h1V210.3h1V209.1h1V208.7h1V208.5h1V210.7h1V208.7h1V210.5h1V210.6h1V210.7h1V210.0h1V209.7h1V210.2h1V209.6h1V204.6h1V202.2h1V198.3h1V200.4h1V199.4h1V198.6h1V199.4h1V200.0h1V197.9h1V198.3h1V198.2h1V199.1h1V199.3h1V199.0h1V198.4h1V198.6h1V199.9h1V199.9h1V199.1h1V198.0h1V199.5h1V199.2h1V199.2h1V200.4h1V199.7h1V198.2h1V198.2h1V200.1h1V199.2h1V199.7h1V198.9h1V196.8h1V199.3h1V196.5h1V191.8h1V187.3h1V189.0h1V191.2h1V189.4h1V192.4h1V193.1h1V191.8h1V191.2h1V191.6h1V191.6h1V191.2h1V191.6h1V191.6h1V190.6h1V192.0h1V191.3h1V190.8h1V192.0h1V191.2h1V193.0h1V192.0h1V191.6h1V191.0h1V191.2h1V190.2h1V191.0h1V192.2h1V189.9h1V191.7h1V192.2h1V191.8h1V191.6h1V192.4h1V190.9h1V190.8h1V191.6h1V192.5h1V191.9h1V191.4h1V191.8h1V191.9h1V190.6h1V186.5h1V190.7h1V190.4h1V191.1h1V190.6h1V190.9h1V188.9h1V185.6h1V182.5h1V183.9h1V182.1h1V182.1h1V183.4h1V181.5h1V181.0h1V183.3h1V182.5h1V182.7h1V182.7h1V182.8h1V181.7h1V182.0h1V181.1h1V182.1h1V182.1h1V181.5h1V182.4h1V184.2h1V180.8h1V182.4h1V182.4h1V182.5h1V181.0h1V185.1h1V187.1h1V184.5h1V182.3h1V182.8h1V183.4h1V183.3h1V184.4h1V182.3h1V183.1h1V182.3h1V183.2h1V182.7h1V182.1h1V181.6h1V182.0h1V180.3h1V178.8h1V178.2h1V176.7h1V177.2h1V177.6h1V177.5h1V177.7h1V178.2h1V182.3h1V186.0h1V185.0h1V186.3h1V185.2h1V186.4h1V186.8h1V185.5h1V186.4h1V186.2h1V188.0h1V186.9h1V185.0h1V186.8h1V186.8h1V185.3h1V181.3h1V184.9h1V185.0h1V184.8h1V183.7h1V184.2h1V183.2h1V183.2h1V184.0h1V183.6h1V184.1h1V186.4h1V189.3h1V192.7h1V191.8h1V193.0h1V192.7h1V192.2h1V191.3h1V193.9h1V194.8h1V197.0h1V194.9h1V194.9h1V195.3h1V194.9h1V194.6h1V195.2h1V211.4h-1V211.7h-1V211.6h-1V212.2h-1V212.1h-1V210.5h-1V211.7h-1V210.9h-1V210.2h-1V210.4h-1V212.6h-1V210.6h-1V210.2h-1V210.2h-1V210.0h-1V208.4h-1V203.1h-1V203.7h-1V202.4h-1V203.4h-1V202.1h-1V202.0h-1V201.1h-1V202.6h-1V202.5h-1V201.8h-1V201.9h-1V201.7h-1V207.3h-1V212.6h-1V213.1h-1V214.3h-1V214.7h-1V212.5h-1V214.8h-1V213.9h-1V215.2h-1V214.8h-1V213.5h-1V212.8h-1V214.7h-1V213.4h-1V213.8h-1V205.6h-1V198.5h-1V197.6h-1V197.2h-1V197.8h-1V197.7h-1V198.6h-1V197.5h-1V198.3h-1V199.3h-1V200.7h-1V201.6h-1V202.5h-1V202.2h-1V201.5h-1V202.2h-1V201.0h-1V201.5h-1V202.2h-1V202.3h-1V201.9h-1V202.0h-1V201.8h-1V203.7h-1V208.9h-1V204.7h-1V202.2h-1V201.3h-1V201.5h-1V202.7h-1V201.4h-1V202.1h-1V200.5h-1V200.2h-1V201.7h-1V201.7h-1V201.7h-1V203.4h-1V202.1h-1V202.5h-1V202.1h-1V201.7h-1V202.7h-1V202.0h-1V200.9h-1V202.6h-1V201.9h-1V203.0h-1V201.9h-1V202.7h-1V203.6h-1V206.4h-1V210.6h-1V213.8h-1V213.5h-1V214.1h-1V214.3h-1V214.8h-1V211.9h-1V213.3h-1V214.1h-1V214.2h-1V213.5h-1V214.6h-1V213.7h-1V215.2h-1V214.4h-1V214.9h-1V214.4h-1V214.2h-1V213.5h-1V214.7h-1V213.4h-1V213.6h-1V214.8h-1V216.7h-1V214.2h-1V214.3h-1V214.1h-1V213.5h-1V213.8h-1V214.2h-1V214.3h-1V212.7h-1V215.0h-1V215.1h-1V214.2h-1V214.8h-1V214.8h-1V214.1h-1V213.4h-1V214.7h-1V213.5h-1V214.1h-1V213.3h-1V213.7h-1V215.8h-1V214.9h-1V214.7h-1V214.1h-1V214.2h-1V213.7h-1V215.5h-1V213.7h-1V215.5h-1V215.2h-1V214.9h-1V215.6h-1V216.2h-1V219.4h-1V214.6h-1V214.9h-1V214.5h-1V215.8h-1V212.9h-1V214.2h-1V216.1h-1V216.5h-1V213.9h-1V215.5h-1V216.4h-1V214.3h-1V214.1h-1V213.9h-1V214.9h-1V215.9h-1V213.4h-1V214.8h-1V214.8h-1V215.6h-1V215.7h-1V214.4h-1V214.3h-1V215.8h-1V217.9h-1V223.1h-1V229.6h-1V230.3h-1V230.2h-1V228.7h-1V229.1h-1V228.2h-1V229.1h-1V230.4h-1V228.7h-1V229.6h-1V228.1h-1V227.7h-1V232.0h-1V227.5h-1V229.5h-1V229.2h-1V229.6h-1V228.8h-1V229.9h-1V229.3h-1V229.3h-1V228.9h-1V228.1h-1V227.9h-1V227.8h-1V228.7h-1V229.8h-1Z" fill="#d50800"/><path d="M365.5 186.7V186.7h1V187.5h1V186.0h1V186.7h1V186.7h1V186.9h1V186.7h1V187.4h1V187.1h1V186.0h1V188.5h1V185.4h1V185.5h1V187.4h1V186.7h1V186.3h1V186.7h1V187.1h1V184.9h1V186.0h1V185.7h1V185.8h1V185.9h1V187.4h1V183.6h1V187.0h1V186.1h1V187.4h1V185.3h1V186.9h1V187.1h1V186.1h1V185.7h1V186.9h1V186.0h1V185.8h1V186.5h1V185.6h1V188.9h1V193.1h1V191.2h1V192.2h1V190.7h1V191.6h1V191.3h1V191.4h1V192.1h1V193.2h1V191.4h1V192.6h1V191.8h1V192.1h1V191.1h1V191.0h1V191.4h1V191.6h1V193.0h1V192.9h1V194.5h1V195.4h1V197.5h1V196.9h1V197.9h1V198.4h1V200.5h1V198.1h1V202.4h1V203.1h1V203.6h1V206.2h1V209.1h1V198.4h1V189.8h1V190.0h1V190.3h1V190.8h1V188.8h1V190.5h1V191.1h1V191.0h1V192.2h1V191.2h1V192.4h1V193.3h1V191.9h1V192.4h1V192.4h1V193.4h1V191.3h1V192.1h1V193.2h1V194.4h1V194.4h1V193.5h1V195.6h1V194.7h1V191.6h1V195.4h1V196.3h1V195.4h1V194.4h1V195.4h1V196.2h1V197.1h1V195.7h1V193.5h1V195.9h1V197.1h1V196.1h1V197.0h1V196.3h1V196.9h1V196.6h1V196.4h1V199.1h1V199.3h1V198.9h1V198.4h1V200.0h1V198.7h1V199.5h1V200.2h1V199.6h1V200.8h1V199.7h1V199.8h1V200.2h1V199.3h1V199.6h1V201.2h1V199.4h1V201.8h1V201.3h1V202.2h1V202.0h1V202.0h1V203.1h1V201.7h1V201.8h1V202.9h1V201.6h1V203.1h1V202.9h1V202.0h1V201.5h1V201.0h1V204.2h1V201.6h1V202.0h1V203.7h1V203.5h1V203.4h1V203.4h1V203.1h1V202.8h1V203.1h1V204.3h1V204.7h1V204.9h1V204.1h1V202.4h1V204.7h1V204.3h1V202.4h1V205.7h1V204.9h1V204.8h1V205.1h1V205.1h1V205.4h1V205.4h1V205.4h1V205.9h1V205.9h1V207.6h1V205.9h1V205.5h1V205.5h1V206.4h1V206.3h1V206.5h1V206.3h1V206.4h1V207.1h1V207.6h1V206.7h1V206.3h1V205.4h1V205.4h1V206.3h1V206.1h1V206.1h1V205.3h1V206.0h1V204.5h1V205.1h1V205.4h1V206.5h1V205.5h1V203.9h1V206.1h1V205.7h1V206.5h1V206.0h1V205.9h1V205.5h1V206.2h1V205.0h1V204.3h1V206.2h1V204.3h1V203.8h1V203.4h1V202.8h1V198.8h1V199.4h1V200.4h1V197.1h1V199.9h1V200.2h1V200.8h1V202.4h1V202.1h1V204.8h1V206.4h1V205.5h1V207.2h1V209.8h1V210.3h1V210.8h1V212.3h1V209.9h1V211.2h1V211.6h1V211.3h1V212.3h1V210.4h1V211.9h1V211.3h1V213.0h1V213.0h1V211.7h1V211.5h1V212.4h1V211.9h1V212.2h1V213.1h1V212.5h1V214.4h1V213.1h1V212.7h1V212.3h1V212.9h1V214.3h1V214.0h1V214.8h1V212.7h1V214.3h1V213.3h1V213.9h1V214.2h1V212.9h1V214.5h1V213.5h1V214.3h1V214.1h1V215.0h1V216.7h1V213.7h1V214.7h1V216.4h1V214.1h1V214.8h1V214.9h1V215.3h1V213.8h1V215.5h1V215.8h1V217.4h1V215.4h1V215.0h1V215.7h1V213.5h1V216.0h1V217.0h1V215.8h1V212.8h1V215.8h1V216.2h1V215.1h1V217.4h1V215.9h1V216.0h1V217.7h1V216.5h1V216.2h1V217.9h1V216.8h1V217.5h1V216.3h1V215.5h1V217.1h1V218.2h1V216.7h1V217.4h1V217.8h1V217.5h1V215.6h1V218.0h1V217.6h1V217.0h1V218.3h1V218.1h1V217.7h1V218.0h1V215.3h1V217.6h1V217.5h1V215.8h1V219.1h1V217.7h1V217.1h1V217.1h1V217.6h1V217.4h1V216.1h1V217.1h1V217.8h1V217.9h1V218.1h1V216.6h1V216.9h1V217.7h1V216.9h1V207.1h1V201.1h1V202.2h1V201.8h1V202.2h1V201.8h1V201.1h1V200.8h1V201.8h1V201.3h1V200.6h1V201.3h1V199.7h1V202.8h1V202.4h1V202.9h1V201.5h1V201.6h1V201.0h1V201.1h1V203.1h1V202.3h1V202.7h1V204.4h1V204.1h1V202.0h1V203.7h1V199.0h1V204.1h1V202.0h1V203.0h1V203.2h1V205.7h1V202.9h1V205.4h1V205.5h1V205.0h1V206.3h1V208.5h1V207.4h1V207.8h1V209.9h1V206.8h1V209.4h1V211.3h1V209.5h1V211.8h1V212.7h1V213.7h1V209.8h1V212.4h1V211.1h1V208.0h1V208.3h1V207.7h1V205.3h1V205.1h1V204.4h1V201.7h1V201.7h1V198.9h1V200.3h1V198.0h1V197.3h1V196.9h1V197.0h1V199.2h1V197.4h1V197.6h1V197.6h1V196.6h1V198.4h1V195.7h1V198.3h1V196.9h1V197.5h1V197.6h1V197.9h1V194.4h1V194.0h1V197.0h1V196.8h1V196.6h1V197.7h1V197.1h1V197.6h1V197.2h1V194.8h1V194.2h1V197.1h1V192.1h1V194.7h1V194.1h1V197.5h1V195.1h1V195.9h1V191.2h1V195.9h1V196.8h1V194.4h1V195.6h1V193.2h1V194.3h1V195.2h1V196.0h1V197.1h1V197.2h1V196.2h1V194.9h1V194.7h1V196.4h1V196.5h1V195.7h1V196.6h1V198.4h1V198.1h1V198.0h1V197.5h1V196.8h1V197.2h1V197.4h1V197.6h1V197.1h1V196.8h1V198.5h1V197.3h1V198.4h1V197.6h1V198.4h1V198.4h1V198.6h1V198.7h1V197.4h1V197.2h1V198.3h1V199.8h1V197.8h1V197.2h1V199.4h1V195.7h1V196.5h1V196.7h1V196.4h1V196.5h1V197.9h1V197.2h1V197.2h1V195.6h1V197.7h1V197.1h1V197.1h1V197.7h1V197.3h1V197.0h1V197.3h1V196.4h1V196.3h1V195.9h1V197.8h1V196.5h1V197.1h1V197.9h1V198.5h1V196.7h1V206.7h-1V206.4h-1V206.4h-1V208.2h-1V207.2h-1V206.3h-1V206.7h-1V206.7h-1V207.3h-1V208.5h-1V206.5h-1V206.6h-1V206.5h-1V206.2h-1V206.3h-1V207.4h-1V207.5h-1V206.3h-1V207.5h-1V206.4h-1V207.5h-1V206.3h-1V206.6h-1V207.7h-1V205.5h-1V210.3h-1V213.1h-1V216.6h-1V214.2h-1V217.3h-1V214.7h-1V214.7h-1V215.4h-1V215.9h-1V214.4h-1V214.8h-1V213.2h-1V214.9h-1V214.3h-1V214.6h-1V215.1h-1V213.5h-1V214.7h-1V213.9h-1V214.8h-1V214.1h-1V215.8h-1V212.2h-1V214.0h-1V213.9h-1V215.1h-1V214.6h-1V213.4h-1V215.0h-1V216.7h-1V214.3h-1V212.6h-1V213.1h-1V213.1h-1V213.1h-1V214.8h-1V213.3h-1V214.4h-1V213.5h-1V213.3h-1V214.1h-1V213.1h-1V212.9h-1V214.0h-1V214.0h-1V215.5h-1V214.4h-1V214.0h-1V214.7h-1V215.5h-1V214.4h-1V214.9h-1V216.6h-1V214.9h-1V215.5h-1V216.2h-1V217.1h-1V216.1h-1V215.9h-1V216.3h-1V215.1h-1V215.7h-1V215.6h-1V216.1h-1V216.6h-1V216.1h-1V215.9h-1V217.2h-1V216.5h-1V216.4h-1V215.6h-1V217.9h-1V217.1h-1V218.1h-1V217.4h-1V217.5h-1V217.8h-1V219.2h-1V219.5h-1V220.1h-1V223.8h-1V223.0h-1V222.2h-1V222.5h-1V223.5h-1V225.1h-1V225.3h-1V227.6h-1V227.7h-1V227.7h-1V227.9h-1V228.5h-1V228.7h-1V227.1h-1V225.0h-1V226.8h-1V226.9h-1V225.6h-1V225.8h-1V223.4h-1V225.8h-1V223.1h-1V226.4h-1V222.5h-1V221.3h-1V221.3h-1V220.1h-1V220.4h-1V220.9h-1V219.7h-1V220.9h-1V219.2h-1V217.9h-1V218.7h-1V220.2h-1V217.8h-1V217.5h-1V217.3h-1V216.9h-1V217.8h-1V217.7h-1V218.9h-1V217.6h-1V217.6h-1V219.1h-1V217.5h-1V217.8h-1V218.8h-1V218.7h-1V218.6h-1V219.6h-1V219.7h-1V218.3h-1V220.5h-1V219.6h-1V219.6h-1V218.5h-1V218.9h-1V227.0h-1V239.6h-1V239.2h-1V240.6h-1V238.4h-1V238.4h-1V239.4h-1V237.9h-1V239.3h-1V238.8h-1V239.9h-1V238.0h-1V241.8h-1V240.2h-1V239.7h-1V238.8h-1V242.0h-1V242.3h-1V242.8h-1V244.4h-1V242.0h-1V243.2h-1V239.7h-1V238.9h-1V234.4h-1V232.0h-1V232.0h-1V229.9h-1V230.2h-1V231.3h-1V230.2h-1V230.7h-1V229.9h-1V229.7h-1V229.3h-1V230.0h-1V230.7h-1V230.1h-1V232.9h-1V229.0h-1V229.6h-1V230.3h-1V229.4h-1V229.6h-1V229.0h-1V229.4h-1V231.7h-1V229.4h-1V227.8h-1V228.1h-1V227.9h-1V229.5h-1V228.7h-1V229.3h-1V227.8h-1V228.3h-1V227.3h-1V227.7h-1V227.8h-1V227.2h-1V227.1h-1V227.9h-1V228.7h-1V228.4h-1V231.6h-1V228.6h-1V230.5h-1V226.5h-1V227.1h-1V227.6h-1V228.9h-1V228.6h-1V228.2h-1V226.4h-1V228.0h-1V227.0h-1V227.3h-1V226.9h-1V226.3h-1V227.8h-1V226.9h-1V226.1h-1V228.5h-1V226.5h-1V229.3h-1V226.7h-1V227.5h-1V226.6h-1V226.8h-1V226.5h-1V226.9h-1V227.3h-1V226.3h-1V225.9h-1V226.6h-1V226.4h-1V224.8h-1V227.3h-1V226.5h-1V226.3h-1V225.6h-1V225.0h-1V227.4h-1V226.9h-1V227.1h-1V226.8h-1V226.5h-1V225.5h-1V223.6h-1V222.7h-1V222.5h-1V222.2h-1V221.2h-1V220.4h-1V219.6h-1V220.3h-1V220.4h-1V221.5h-1V220.4h-1V219.9h-1V220.5h-1V221.8h-1V221.4h-1V221.9h-1V220.7h-1V221.3h-1V220.2h-1V222.1h-1V220.0h-1V221.9h-1V222.2h-1V222.1h-1V222.9h-1V221.7h-1V223.4h-1V221.1h-1V220.9h-1V220.6h-1V221.7h-1V221.8h-1V220.6h-1V222.1h-1V223.0h-1V222.1h-1V223.3h-1V222.7h-1V223.4h-1V222.2h-1V223.0h-1V222.6h-1V222.6h-1V222.4h-1V222.3h-1V222.0h-1V221.1h-1V221.7h-1V221.4h-1V222.2h-1V221.5h-1V222.9h-1V221.3h-1V221.0h-1V221.2h-1V220.3h-1V221.2h-1V221.9h-1V219.8h-1V217.9h-1V220.8h-1V219.8h-1V220.2h-1V219.4h-1V219.3h-1V219.8h-1V218.8h-1V218.9h-1V217.8h-1V218.7h-1V219.0h-1V219.5h-1V217.1h-1V217.1h-1V218.2h-1V220.1h-1V218.2h-1V218.2h-1V218.6h-1V216.6h-1V217.4h-1V217.9h-1V216.3h-1V217.5h-1V217.9h-1V218.3h-1V217.9h-1V216.1h-1V218.4h-1V217.5h-1V217.0h-1V214.8h-1V216.0h-1V215.9h-1V217.1h-1V215.1h-1V215.3h-1V216.5h-1V214.1h-1V214.2h-1V214.1h-1V212.6h-1V213.8h-1V213.7h-1V212.2h-1V213.6h-1V213.1h-1V212.9h-1V212.9h-1V212.1h-1V211.9h-1V211.5h-1V212.2h-1V209.3h-1V211.5h-1V211.0h-1V209.9h-1V209.6h-1V209.5h-1V208.9h-1V208.4h-1V209.3h-1V209.0h-1V210.4h-1V207.7h-1V207.4h-1V209.0h-1V208.1h-1V210.1h-1V208.4h-1V209.5h-1V209.4h-1V206.9h-1V207.6h-1V208.0h-1V209.2h-1V208.0h-1V207.7h-1V208.0h-1V213.3h-1V208.5h-1V209.4h-1V208.5h-1V207.8h-1V208.0h-1V207.8h-1V206.6h-1V207.0h-1V208.2h-1V208.4h-1V207.6h-1V208.3h-1V208.1h-1V207.2h-1V208.4h-1V215.5h-1V224.7h-1V224.9h-1V224.7h-1V223.4h-1V219.9h-1V220.4h-1V220.7h-1V218.6h-1V218.1h-1V216.0h-1V216.3h-1V215.0h-1V213.7h-1V212.9h-1V209.8h-1V208.5h-1V209.9h-1V209.8h-1V208.1h-1V207.0h-1V207.4h-1V209.8h-1V209.4h-1V210.5h-1V208.1h-1V208.0h-1V208.2h-1V208.1h-1V209.8h-1V208.5h-1V208.0h-1V209.6h-1V205.6h-1V203.4h-1V204.9h-1V204.6h-1V204.3h-1V205.6h-1V203.9h-1V204.7h-1V204.4h-1V204.6h-1V204.1h-1V202.5h-1V204.2h-1V203.9h-1V204.6h-1V204.6h-1V202.2h-1V203.9h-1V203.0h-1V202.8h-1V204.0h-1V204.1h-1V203.4h-1V204.7h-1V204.4h-1V204.6h-1V205.2h-1V203.0h-1V204.2h-1V205.1h-1V205.4h-1V204.6h-1V205.4h-1V204.0h-1V206.3h-1V203.6h-1V202.9h-1V204.1h-1V204.1h-1Z" fill="#d50800"/><path d="M894.5 197.9V197.9h1V198.2h1V199.4h1V199.2h1V198.0h1V198.6h1V198.1h1V198.9h1V198.3h1V200.2h1V198.9h1V198.3h1V197.6h1V197.4h1V195.4h1V199.2h1V199.8h1V195.3h1V199.1h1V197.5h1V196.1h1V199.0h1V198.7h1V198.3h1V198.1h1V198.2h1V196.9h1V197.3h1V197.6h1V198.6h1V198.5h1V199.1h1V198.6h1V198.5h1V198.7h1V199.3h1V198.2h1V197.8h1V198.5h1V198.4h1V199.1h1V198.8h1V198.7h1V199.4h1V198.8h1V199.0h1V198.2h1V199.8h1V199.1h1V197.8h1V197.8h1V200.0h1V198.7h1V199.9h1V200.5h1V196.7h1V194.8h1V193.2h1V191.8h1V191.0h1V193.9h1V191.7h1V192.1h1V193.4h1V192.2h1V192.8h1V192.2h1V190.9h1V191.2h1V191.9h1V190.9h1V192.4h1V191.9h1V190.2h1V191.8h1V191.0h1V191.0h1V191.6h1V189.4h1V190.0h1V190.8h1V190.3h1V193.5h1V190.8h1V195.3h1V196.0h1V195.9h1V197.4h1V197.7h1V200.8h1V200.2h1V201.6h1V202.4h1V202.1h1V202.6h1V205.3h1V207.2h1V207.6h1V207.9h1V209.0h1V208.7h1V210.3h1V210.1h1V210.2h1V211.9h1V210.1h1V210.0h1V210.8h1V210.8h1V210.9h1V212.1h1V212.3h1V210.7h1V211.7h1V212.1h1V233.1h-1V232.7h-1V231.5h-1V231.4h-1V233.9h-1V232.8h-1V233.0h-1V230.9h-1V231.7h-1V230.6h-1V231.2h-1V231.3h-1V231.1h-1V231.2h-1V229.7h-1V230.6h-1V229.9h-1V228.0h-1V225.8h-1V226.8h-1V223.9h-1V222.1h-1V219.9h-1V220.6h-1V219.5h-1V217.5h-1V216.6h-1V215.2h-1V214.8h-1V212.4h-1V211.7h-1V211.1h-1V209.8h-1V209.9h-1V206.7h-1V206.4h-1V207.7h-1V206.4h-1V206.7h-1V207.6h-1V207.0h-1V207.4h-1V208.3h-1V209.2h-1V209.2h-1V209.6h-1V211.1h-1V208.4h-1V208.0h-1V208.2h-1V208.0h-1V210.7h-1V209.5h-1V213.2h-1V211.1h-1V209.7h-1V210.7h-1V211.7h-1V208.9h-1V207.6h-1V206.8h-1V206.4h-1V208.0h-1V206.1h-1V205.6h-1V208.3h-1V206.9h-1V207.2h-1V206.3h-1V206.7h-1V208.2h-1V207.2h-1V207.9h-1V207.4h-1V206.5h-1V207.3h-1V205.7h-1V206.2h-1V206.6h-1V207.9h-1V206.8h-1V207.8h-1V206.5h-1V207.0h-1V206.6h-1V207.6h-1V207.9h-1V205.2h-1V206.7h-1V206.9h-1V207.2h-1V207.1h-1V206.5h-1V205.8h-1V208.0h-1V207.6h-1V208.1h-1V207.0h-1V207.9h-1V207.2h-1V206.0h-1V206.5h-1V207.3h-1V207.7h-1V206.4h-1V207.4h-1V206.6h-1V207.0h-1V207.2h-1V206.5h-1V206.5h-1V207.4h-1V207.1h-1V207.5h-1V205.5h-1Z" fill="#d50800"/><path d="M1045.5 200.7V200.7h1V200.5h1V200.5h1V199.7h1V202.1h1V200.0h1V199.9h1V201.5h1V200.9h1V201.0h1V202.6h1V200.6h1V200.2h1V200.6h1V196.9h1V201.6h1V201.8h1V202.4h1V201.1h1V201.9h1V218.2h-1V216.7h-1V216.8h-1V216.1h-1V215.2h-1V216.6h-1V217.7h-1V216.3h-1V217.1h-1V215.9h-1V218.4h-1V217.2h-1V216.3h-1V216.3h-1V216.7h-1V218.4h-1V216.1h-1V217.1h-1V216.6h-1V216.2h-1Z" fill="#d50800"/><path d="M1066.5 209.2V209.2h1V209.0h1V209.5h1V208.1h1V209.0h1V212.1h1V209.5h1V211.9h1V211.8h1V210.2h1V211.5h1V208.3h1V208.7h1V205.9h1V206.9h1V207.1h1V207.3h1V208.2h1V207.7h1V206.6h1V208.0h1V206.7h1V209.4h1V209.3h1V209.6h1V209.1h1V210.1h1V208.3h1V210.0h1V208.2h1V209.4h1V211.8h1V211.7h1V212.7h1V211.4h1V209.0h1V210.7h1V211.2h1V210.3h1V208.0h1V206.8h1V205.2h1V205.7h1V205.8h1V205.1h1V207.3h1V205.4h1V206.7h1V204.1h1V205.9h1V205.4h1V206.4h1V207.5h1V204.9h1V205.0h1V205.4h1V205.2h1V205.5h1V205.5h1V205.0h1V205.5h1V205.3h1V206.6h1V205.0h1V206.2h1V206.1h1V205.8h1V206.7h1V204.3h1V206.3h1V205.4h1V204.2h1V205.8h1V206.5h1V201.8h1V206.6h1V205.6h1V202.3h1V207.8h1V207.6h1V207.2h1V207.1h1V206.1h1V208.4h1V207.9h1V207.6h1V208.3h1V207.4h1V207.3h1V208.0h1V208.1h1V208.8h1V237.4h-1V235.2h-1V235.4h-1V234.7h-1V235.0h-1V233.9h-1V234.6h-1V235.1h-1V233.6h-1V231.9h-1V232.5h-1V232.3h-1V233.0h-1V233.1h-1V232.4h-1V231.7h-1V230.9h-1V230.9h-1V230.0h-1V229.4h-1V230.5h-1V230.3h-1V227.8h-1V228.6h-1V228.4h-1V226.9h-1V227.2h-1V226.8h-1V226.4h-1V226.3h-1V226.7h-1V228.7h-1V226.4h-1V224.7h-1V227.6h-1V226.7h-1V225.6h-1V226.3h-1V227.3h-1V227.1h-1V225.8h-1V226.8h-1V225.5h-1V225.8h-1V225.5h-1V225.1h-1V225.2h-1V225.1h-1V224.5h-1V223.2h-1V224.7h-1V226.1h-1V225.1h-1V229.2h-1V227.0h-1V228.0h-1V228.2h-1V228.8h-1V226.3h-1V227.1h-1V226.7h-1V225.9h-1V227.8h-1V224.4h-1V225.0h-1V226.1h-1V224.4h-1V223.6h-1V222.9h-1V224.0h-1V223.9h-1V221.9h-1V222.6h-1V225.3h-1V221.0h-1V222.5h-1V220.0h-1V219.3h-1V219.7h-1V223.6h-1V222.9h-1V223.3h-1V226.9h-1V225.7h-1V225.4h-1V224.9h-1V223.0h-1V224.3h-1V224.4h-1V223.1h-1V224.0h-1V221.7h-1Z" fill="#d50800"/><path d="M1160.5 212.0V212.0h1V213.3h1V211.7h1V211.4h1V213.9h1V212.2h1V213.8h1V213.3h1V212.8h1V211.9h1V213.4h1V212.9h1V210.9h1V211.9h1V212.2h1V211.6h1V211.0h1V212.9h1V211.8h1V212.2h1V209.8h1V212.4h1V212.0h1V212.8h1V213.5h1V211.5h1V212.1h1V212.4h1V213.4h1V212.4h1V210.2h1V213.2h1V212.4h1V211.6h1V212.7h1V231.9h-1V232.0h-1V232.3h-1V232.0h-1V232.6h-1V232.8h-1V231.6h-1V232.1h-1V232.3h-1V232.1h-1V232.2h-1V231.6h-1V232.3h-1V233.6h-1V231.1h-1V232.4h-1V232.7h-1V231.2h-1V232.0h-1V231.5h-1V232.7h-1V234.3h-1V233.6h-1V232.5h-1V232.7h-1V230.5h-1V232.7h-1V231.1h-1V230.8h-1V232.3h-1V232.3h-1V231.6h-1V230.7h-1V231.5h-1V232.1h-1Z" fill="#d50800"/><polygon points="336,200 342,200 357,249 356,256 352,254" fill="#d50800"/><polygon points="358,226 362,205 366,204 366,213 361,230" fill="#d50800"/><polygon points="1158.5,234 1161,234 1165,300 1163,304" fill="#d50800"/><rect x="1009" y="208.5" width="1" height="24.3" fill="#d50d00"/><rect x="1010" y="208.5" width="1" height="23.8" fill="#d50d00"/><rect x="1011" y="207.5" width="1" height="24.9" fill="#d50d00"/><rect x="1012" y="204.8" width="1" height="27.5" fill="#bd0d00"/><rect x="1013" y="206.7" width="1" height="24.0" fill="#d50d00"/><rect x="1014" y="207.8" width="1" height="22.2" fill="#d50d00"/><rect x="1016" y="208.2" width="1" height="22.4" fill="#bd0d00"/><rect x="1017" y="209.2" width="1" height="22.4" fill="#d50d00"/><rect x="1019" y="207.3" width="1" height="21.2" fill="#d50d00"/><rect x="1021" y="213.5" width="1" height="18.3" fill="#bd0d00"/><rect x="1022" y="208.3" width="1" height="22.6" fill="#d50d00"/><rect x="1023" y="206.9" width="1" height="24.9" fill="#d50d00"/><rect x="1024" y="208.1" width="1" height="22.5" fill="#d50d00"/><rect x="1030" y="207.9" width="1" height="25.1" fill="#a50d00"/><rect x="1031" y="210.9" width="1" height="25.3" fill="#bd0d00"/><rect x="1033" y="208.7" width="1" height="23.7" fill="#d50d00"/><rect x="1035" y="210.2" width="1" height="19.9" fill="#d50d00"/><rect x="1038" y="209.3" width="1" height="22.2" fill="#d50d00"/><rect x="1039" y="211.4" width="1" height="25.3" fill="#d50d00"/><rect x="1040" y="209.2" width="1" height="29.4" fill="#d50d00"/><rect x="1042" y="219.3" width="1" height="18.4" fill="#bd0d00"/><rect x="1043" y="211.5" width="1" height="21.9" fill="#d50d00"/><rect x="1045" y="211.4" width="1" height="22.3" fill="#d50d00"/><rect x="468" y="275.9" width="1" height="29.0" fill="#d50d00"/><rect x="477" y="282.4" width="1" height="22.4" fill="#a50d00"/><rect x="483" y="287.5" width="1" height="18.2" fill="#a50d00"/><rect x="485" y="288.5" width="1" height="18.0" fill="#d50d00"/><rect x="486" y="283.8" width="1" height="25.3" fill="#d50d00"/><rect x="488" y="286.4" width="1" height="20.2" fill="#d50d00"/><rect x="978" y="315.0" width="1" height="17.4" fill="#bd0d00"/><rect x="979" y="315.5" width="1" height="17.6" fill="#d50d00"/><rect x="980" y="318.4" width="1" height="13.0" fill="#d50d00"/><rect x="995" y="323.8" width="1" height="19.2" fill="#d50d00"/><rect x="999" y="325.4" width="1" height="19.7" fill="#a50d00"/><rect x="879" y="335.5" width="1" height="20.6" fill="#d50d00"/><rect x="881" y="338.8" width="1" height="16.8" fill="#d50d00"/><rect x="884" y="340.3" width="1" height="17.2" fill="#d50d00"/><rect x="886" y="343.5" width="1" height="16.9" fill="#d50d00"/><rect x="887" y="340.8" width="1" height="16.3" fill="#a50d00"/><rect x="888" y="344.3" width="1" height="17.2" fill="#d50d00"/><rect x="889" y="342.3" width="1" height="14.1" fill="#bd0d00"/><rect x="891" y="344.3" width="1" height="13.7" fill="#bd0d00"/><rect x="892" y="342.6" width="1" height="18.8" fill="#d50d00"/><rect x="893" y="345.1" width="1" height="12.3" fill="#d50d00"/><rect x="897" y="348.2" width="1" height="14.6" fill="#d50d00"/><rect x="898" y="343.2" width="1" height="19.6" fill="#a50d00"/><rect x="899" y="348.0" width="1" height="12.5" fill="#d50d00"/><rect x="900" y="346.3" width="1" height="14.3" fill="#d50d00"/><rect x="1002" y="214.9" width="1" height="13.5" fill="#a50d00"/><rect x="1003" y="215.2" width="1" height="15.4" fill="#d50d00"/><rect x="1004" y="217.2" width="1" height="16.4" fill="#bd0d00"/><rect x="1005" y="217.7" width="1" height="14.2" fill="#d50d00"/><rect x="1006" y="222.3" width="1" height="16.2" fill="#d50d00"/><rect x="1007" y="217.5" width="1" height="18.8" fill="#bd0d00"/><rect x="1008" y="218.7" width="1" height="19.0" fill="#a50d00"/><rect x="1009" y="224.0" width="1" height="12.1" fill="#d50d00"/><rect x="1010" y="221.9" width="1" height="16.6" fill="#d50d00"/><rect x="1011" y="220.3" width="1" height="18.1" fill="#d50d00"/><rect x="1012" y="223.9" width="1" height="15.8" fill="#d50d00"/><rect x="1013" y="226.2" width="1" height="16.1" fill="#d50d00"/><rect x="1014" y="225.5" width="1" height="17.9" fill="#d50d00"/><rect x="1015" y="229.0" width="1" height="14.9" fill="#d50d00"/><rect x="1016" y="227.4" width="1" height="16.2" fill="#d50d00"/><rect x="1017" y="227.2" width="1" height="19.5" fill="#d50d00"/><rect x="1018" y="226.5" width="1" height="17.5" fill="#d50d00"/><rect x="1019" y="227.6" width="1" height="17.8" fill="#bd0d00"/><rect x="1020" y="232.6" width="1" height="15.7" fill="#bd0d00"/><rect x="1021" y="235.1" width="1" height="13.2" fill="#d50d00"/><rect x="1022" y="233.1" width="1" height="14.9" fill="#d50d00"/><rect x="1023" y="233.7" width="1" height="14.7" fill="#bd0d00"/><rect x="1024" y="234.5" width="1" height="15.6" fill="#bd0d00"/><rect x="1025" y="235.0" width="1" height="19.0" fill="#d50d00"/><rect x="1026" y="240.2" width="1" height="15.3" fill="#d50d00"/><rect x="1027" y="241.0" width="1" height="13.4" fill="#d50d00"/><rect x="1028" y="238.0" width="1" height="18.8" fill="#a50d00"/><rect x="1029" y="241.4" width="1" height="15.3" fill="#d50d00"/><rect x="1030" y="240.8" width="1" height="17.4" fill="#d50d00"/><rect x="1031" y="238.7" width="1" height="21.4" fill="#d50d00"/><rect x="1032" y="243.3" width="1" height="16.2" fill="#d50d00"/><rect x="1033" y="245.6" width="1" height="13.7" fill="#d50d00"/><rect x="1034" y="245.8" width="1" height="16.8" fill="#d50d00"/><rect x="1035" y="247.9" width="1" height="13.5" fill="#d50d00"/><rect x="1036" y="249.6" width="1" height="13.4" fill="#a50d00"/><rect x="1037" y="248.0" width="1" height="18.0" fill="#d50d00"/><rect x="1038" y="249.5" width="1" height="12.9" fill="#d50d00"/><rect x="1039" y="249.4" width="1" height="16.0" fill="#bd0d00"/><rect x="1040" y="254.9" width="1" height="10.4" fill="#d50d00"/><rect x="1041" y="254.7" width="1" height="12.7" fill="#d50d00"/><rect x="1042" y="254.9" width="1" height="12.8" fill="#d50d00"/><rect x="1043" y="256.1" width="1" height="15.5" fill="#d50d00"/><rect x="1044" y="255.4" width="1" height="15.4" fill="#d50d00"/><rect x="1045" y="258.7" width="1" height="12.8" fill="#d50d00"/><rect x="1046" y="257.1" width="1" height="16.9" fill="#d50d00"/><rect x="1047" y="264.0" width="1" height="9.0" fill="#a50d00"/><rect x="1048" y="257.5" width="1" height="15.3" fill="#d50d00"/><rect x="1049" y="260.9" width="1" height="17.1" fill="#d50d00"/><rect x="1050" y="260.7" width="1" height="15.8" fill="#d50d00"/><rect x="1051" y="262.5" width="1" height="11.9" fill="#d50d00"/><rect x="1052" y="261.4" width="1" height="20.4" fill="#a50d00"/><rect x="1053" y="262.5" width="1" height="17.3" fill="#a50d00"/><rect x="1054" y="264.7" width="1" height="18.9" fill="#d50d00"/><rect x="1055" y="265.5" width="1" height="18.9" fill="#d50d00"/><rect x="1064" y="207.2" width="1" height="16.3" fill="#d50d00"/><rect x="1065" y="206.1" width="1" height="24.4" fill="#d50d00"/><rect x="1066" y="209.3" width="1" height="16.7" fill="#d50d00"/><rect x="1067" y="210.1" width="1" height="24.1" fill="#bd0d00"/><rect x="1068" y="214.6" width="1" height="17.7" fill="#d50d00"/><rect x="1069" y="223.8" width="1" height="11.7" fill="#d50d00"/><rect x="1070" y="215.6" width="1" height="22.6" fill="#a50d00"/><rect x="1071" y="218.4" width="1" height="18.3" fill="#a50d00"/><rect x="1072" y="221.9" width="1" height="20.7" fill="#bd0d00"/><rect x="1073" y="221.2" width="1" height="23.5" fill="#d50d00"/><rect x="1074" y="221.0" width="1" height="22.6" fill="#d50d00"/><rect x="1075" y="224.6" width="1" height="19.7" fill="#d50d00"/><rect x="1076" y="227.0" width="1" height="19.5" fill="#d50d00"/><rect x="1077" y="228.8" width="1" height="19.1" fill="#d50d00"/><rect x="1078" y="228.6" width="1" height="18.7" fill="#d50d00"/><rect x="1079" y="232.5" width="1" height="17.4" fill="#d50d00"/><rect x="1080" y="233.3" width="1" height="15.5" fill="#d50d00"/><rect x="1081" y="234.5" width="1" height="22.9" fill="#d50d00"/><rect x="1082" y="240.4" width="1" height="17.1" fill="#a50d00"/><rect x="1083" y="239.2" width="1" height="21.6" fill="#bd0d00"/><rect x="1084" y="239.6" width="1" height="17.2" fill="#d50d00"/><rect x="1085" y="241.9" width="1" height="18.9" fill="#d50d00"/><rect x="1086" y="244.2" width="1" height="17.7" fill="#d50d00"/><rect x="1087" y="244.7" width="1" height="18.1" fill="#d50d00"/><rect x="1088" y="247.5" width="1" height="16.1" fill="#a50d00"/><rect x="1089" y="258.3" width="1" height="12.4" fill="#d50d00"/><rect x="1090" y="251.8" width="1" height="16.3" fill="#a50d00"/><rect x="1091" y="253.4" width="1" height="15.5" fill="#d50d00"/><rect x="1092" y="253.2" width="1" height="17.1" fill="#d50d00"/><rect x="1093" y="256.6" width="1" height="16.7" fill="#d50d00"/><rect x="1094" y="257.5" width="1" height="14.1" fill="#d50d00"/><rect x="1095" y="265.3" width="1" height="8.3" fill="#bd0d00"/><rect x="1096" y="265.3" width="1" height="11.4" fill="#d50d00"/><rect x="1097" y="262.2" width="1" height="12.7" fill="#d50d00"/><rect x="1098" y="264.8" width="1" height="18.2" fill="#d50d00"/><rect x="1099" y="267.3" width="1" height="17.2" fill="#d50d00"/><rect x="1100" y="266.1" width="1" height="18.8" fill="#d50d00"/><rect x="1101" y="267.9" width="1" height="19.9" fill="#d50d00"/><rect x="1102" y="271.4" width="1" height="16.3" fill="#d50d00"/><rect x="1103" y="277.8" width="1" height="12.7" fill="#d50d00"/><rect x="1104" y="275.3" width="1" height="14.5" fill="#bd0d00"/><rect x="1105" y="281.1" width="1" height="8.5" fill="#d50d00"/><rect x="1106" y="278.5" width="1" height="15.9" fill="#a50d00"/><rect x="1107" y="276.2" width="1" height="23.2" fill="#d50d00"/><rect x="1108" y="281.0" width="1" height="19.1" fill="#d50d00"/><rect x="1109" y="281.8" width="1" height="20.2" fill="#d50d00"/><rect x="1110" y="283.3" width="1" height="18.1" fill="#d50d00"/><rect x="1111" y="286.2" width="1" height="15.4" fill="#d50d00"/></g></g><g filter="url(#pipeB)"><g filter="url(#hbl)"><rect x="54.9" y="541.4" width="21.0" height="411.0" fill="url(#sb0)"/><rect x="74.9" y="541.4" width="21.0" height="411.0" fill="url(#sb1)"/><rect x="94.9" y="541.4" width="21.0" height="411.0" fill="url(#sb2)"/><rect x="114.9" y="541.4" width="21.0" height="411.0" fill="url(#sb3)"/><rect x="134.9" y="541.4" width="21.0" height="411.0" fill="url(#sb4)"/><rect x="154.9" y="541.4" width="21.0" height="411.0" fill="url(#sb5)"/><rect x="174.9" y="541.4" width="21.0" height="411.0" fill="url(#sb6)"/><rect x="194.9" y="541.4" width="21.0" height="411.0" fill="url(#sb7)"/><rect x="214.9" y="541.4" width="21.0" height="411.0" fill="url(#sb8)"/><rect x="234.9" y="541.4" width="21.0" height="411.0" fill="url(#sb9)"/><rect x="254.9" y="541.4" width="21.0" height="411.0" fill="url(#sb10)"/><rect x="274.9" y="541.4" width="21.0" height="411.0" fill="url(#sb11)"/><rect x="294.9" y="541.4" width="21.0" height="411.0" fill="url(#sb12)"/><rect x="314.9" y="541.4" width="21.0" height="411.0" fill="url(#sb13)"/><rect x="334.9" y="541.4" width="21.0" height="411.0" fill="url(#sb14)"/><rect x="354.9" y="541.4" width="21.0" height="411.0" fill="url(#sb15)"/><rect x="374.9" y="541.4" width="21.0" height="411.0" fill="url(#sb16)"/><rect x="394.9" y="541.4" width="21.0" height="411.0" fill="url(#sb17)"/><rect x="414.9" y="541.4" width="21.0" height="411.0" fill="url(#sb18)"/><rect x="434.9" y="541.4" width="21.0" height="411.0" fill="url(#sb19)"/><rect x="454.9" y="541.4" width="21.0" height="411.0" fill="url(#sb20)"/><rect x="474.9" y="541.4" width="21.0" height="411.0" fill="url(#sb21)"/><rect x="494.9" y="541.4" width="21.0" height="411.0" fill="url(#sb22)"/><rect x="514.9" y="541.4" width="21.0" height="411.0" fill="url(#sb23)"/><rect x="534.9" y="541.4" width="21.0" height="411.0" fill="url(#sb24)"/><rect x="554.9" y="541.4" width="21.0" height="411.0" fill="url(#sb25)"/><rect x="574.9" y="541.4" width="21.0" height="411.0" fill="url(#sb26)"/><rect x="594.9" y="541.4" width="21.0" height="411.0" fill="url(#sb27)"/><rect x="614.9" y="541.4" width="21.0" height="411.0" fill="url(#sb28)"/><rect x="634.9" y="541.4" width="21.0" height="411.0" fill="url(#sb29)"/><rect x="654.9" y="541.4" width="21.0" height="411.0" fill="url(#sb30)"/><rect x="674.9" y="541.4" width="21.0" height="411.0" fill="url(#sb31)"/><rect x="694.9" y="541.4" width="21.0" height="411.0" fill="url(#sb32)"/><rect x="714.9" y="541.4" width="21.0" height="411.0" fill="url(#sb33)"/><rect x="734.9" y="541.4" width="21.0" height="411.0" fill="url(#sb34)"/><rect x="754.9" y="541.4" width="21.0" height="411.0" fill="url(#sb35)"/><rect x="774.9" y="541.4" width="21.0" height="411.0" fill="url(#sb36)"/><rect x="794.9" y="541.4" width="21.0" height="411.0" fill="url(#sb37)"/><rect x="814.9" y="541.4" width="21.0" height="411.0" fill="url(#sb38)"/><rect x="834.9" y="541.4" width="21.0" height="411.0" fill="url(#sb39)"/><rect x="854.9" y="541.4" width="21.0" height="411.0" fill="url(#sb40)"/><rect x="874.9" y="541.4" width="21.0" height="411.0" fill="url(#sb41)"/><rect x="894.9" y="541.4" width="21.0" height="411.0" fill="url(#sb42)"/><rect x="914.9" y="541.4" width="21.0" height="411.0" fill="url(#sb43)"/><rect x="934.9" y="541.4" width="21.0" height="411.0" fill="url(#sb44)"/><rect x="954.9" y="541.4" width="21.0" height="411.0" fill="url(#sb45)"/><rect x="974.9" y="541.4" width="21.0" height="411.0" fill="url(#sb46)"/><rect x="994.9" y="541.4" width="21.0" height="411.0" fill="url(#sb47)"/><rect x="1014.9" y="541.4" width="21.0" height="411.0" fill="url(#sb48)"/><rect x="1034.9" y="541.4" width="21.0" height="411.0" fill="url(#sb49)"/><rect x="1054.9" y="541.4" width="21.0" height="411.0" fill="url(#sb50)"/><rect x="1074.9" y="541.4" width="21.0" height="411.0" fill="url(#sb51)"/><rect x="1094.9" y="541.4" width="21.0" height="411.0" fill="url(#sb52)"/><rect x="1114.9" y="541.4" width="21.0" height="411.0" fill="url(#sb53)"/><rect x="1134.9" y="541.4" width="21.0" height="411.0" fill="url(#sb54)"/><rect x="1154.9" y="541.4" width="21.0" height="411.0" fill="url(#sb55)"/><rect x="1174.9" y="541.4" width="20.2" height="411.0" fill="url(#sb56)"/></g><rect x="55.4" y="944.0" width="1139.2" height="3.0" fill="#350800"/><rect x="55.4" y="947.0" width="1139.2" height="3.8" fill="#2c0800"/><rect x="55.4" y="950.8" width="1139.2" height="1.6" fill="#529f78"/><g filter="url(#ebl)"><polygon points="344,730.0 356,750.0 368,716.0 374,804.0 372,884.0 367,951.0 360,951.0 353,884.0 345,804.0" fill="url(#vg79)"/><polygon points="350,760.0 357,760.0 368,724.0 371,804.0 368,864.0 364,904.0 358,854.0 351,794.0" fill="url(#vg80)"/><polygon points="990,730.0 1046,736.0 1044,834.0 1040,951.0 1008,951.0 1003,834.0" fill="url(#vg81)"/><polygon points="1008,742.0 1032,744.0 1041,804.0 1037,951.0 1024,951.0 1018,834.0" fill="url(#vg82)"/><polygon points="1072,734.0 1120,736.0 1118,834.0 1114,951.0 1079,951.0 1076,834.0" fill="url(#vg83)"/><polygon points="1094,742.0 1113,754.0 1111,951.0 1098,951.0" fill="url(#vg84)"/></g><g filter="url(#vbl)"><polygon points="275.4,707.0 277.7,707.0 285.4,769.3 283.1,769.3" fill="url(#vg85)"/><polygon points="277.4,707.0 279.9,707.0 287.9,808.2 285.4,808.2" fill="url(#vg86)"/><polygon points="295.9,707.0 297.2,707.0 308.2,794.6 306.9,794.6" fill="url(#vg87)"/><polygon points="282.7,707.0 285.2,707.0 294.6,800.5 292.2,800.5" fill="url(#vg88)"/><polygon points="292.2,707.0 293.8,707.0 304.1,805.6 302.6,805.6" fill="url(#vg89)"/><polygon points="284.6,707.0 286.0,707.0 296.3,777.0 294.8,777.0" fill="url(#vg90)"/><polygon points="290.3,707.0 291.6,707.0 301.0,793.0 299.7,793.0" fill="url(#vg91)"/><polygon points="287.7,707.0 290.1,707.0 300.3,796.1 298.0,796.1" fill="url(#vg92)"/><polygon points="275.5,707.0 277.2,707.0 287.5,793.9 285.8,793.9" fill="url(#vg93)"/><polygon points="307.1,711.0 309.7,711.0 315.6,822.8 313.0,822.8" fill="url(#vg94)"/><polygon points="312.8,711.0 314.5,711.0 326.7,810.2 324.9,810.2" fill="url(#vg95)"/><polygon points="332.2,711.0 333.4,711.0 343.1,816.1 341.9,816.1" fill="url(#vg96)"/><polygon points="315.5,711.0 318.0,711.0 327.4,808.7 324.9,808.7" fill="url(#vg97)"/><polygon points="319.0,711.0 320.7,711.0 328.5,793.9 326.9,793.9" fill="url(#vg98)"/><polygon points="329.1,711.0 331.2,711.0 340.4,794.4 338.2,794.4" fill="url(#vg99)"/><polygon points="310.3,711.0 311.6,711.0 318.9,821.2 317.5,821.2" fill="url(#vg100)"/><polygon points="320.9,711.0 323.5,711.0 333.9,832.3 331.4,832.3" fill="url(#vg101)"/><polygon points="326.6,711.0 327.8,711.0 338.1,815.6 337.0,815.6" fill="url(#vg102)"/><polygon points="307.5,711.0 309.6,711.0 319.8,830.1 317.7,830.1" fill="url(#vg103)"/><polygon points="359.2,834.0 361.8,834.0 361.6,941.1 359.0,941.1" fill="url(#vg104)"/><polygon points="367.4,834.0 369.9,834.0 370.1,944.1 367.6,944.1" fill="url(#vg105)"/><polygon points="358.8,834.0 360.3,834.0 359.8,945.5 358.3,945.5" fill="url(#vg106)"/><polygon points="356.6,834.0 358.6,834.0 357.2,944.5 355.1,944.5" fill="url(#vg107)"/><polygon points="368.6,834.0 370.8,834.0 371.3,941.9 369.0,941.9" fill="url(#vg108)"/><polygon points="363.5,834.0 366.0,834.0 368.3,936.0 365.8,936.0" fill="url(#vg109)"/><polygon points="354.3,834.0 356.6,834.0 358.7,949.7 356.4,949.7" fill="url(#vg110)"/><polygon points="363.5,744.0 365.3,744.0 363.4,839.3 361.6,839.3" fill="url(#vg111)"/><polygon points="358.6,744.0 360.6,744.0 356.8,865.8 354.8,865.8" fill="url(#vg112)"/><polygon points="369.1,744.0 370.4,744.0 370.3,892.6 368.9,892.6" fill="url(#vg113)"/><polygon points="355.4,744.0 357.1,744.0 354.3,861.2 352.6,861.2" fill="url(#vg114)"/><polygon points="351.9,744.0 354.4,744.0 351.4,858.6 348.9,858.6" fill="url(#vg115)"/><polygon points="355.3,744.0 357.8,744.0 358.7,842.7 356.3,842.7" fill="url(#vg116)"/><polygon points="369.4,744.0 370.5,744.0 370.1,853.4 369.1,853.4" fill="url(#vg117)"/><polygon points="354.1,744.0 356.3,744.0 355.1,865.0 352.8,865.0" fill="url(#vg118)"/><polygon points="368.5,744.0 370.4,744.0 366.0,883.0 364.1,883.0" fill="url(#vg119)"/><polygon points="358.4,744.0 360.6,744.0 361.1,856.1 358.9,856.1" fill="url(#vg120)"/><polygon points="350.0,744.0 352.6,744.0 351.9,880.5 349.3,880.5" fill="url(#vg121)"/><polygon points="356.3,744.0 358.8,744.0 359.8,885.6 357.3,885.6" fill="url(#vg122)"/><polygon points="1030.6,736.0 1033.0,736.0 1031.3,926.2 1028.9,926.2" fill="url(#vg123)"/><polygon points="1029.1,736.0 1031.1,736.0 1030.4,944.3 1028.4,944.3" fill="url(#vg124)"/><polygon points="1028.6,736.0 1030.9,736.0 1026.9,950.4 1024.7,950.4" fill="url(#vg125)"/><polygon points="1041.8,736.0 1043.8,736.0 1039.6,924.6 1037.6,924.6" fill="url(#vg126)"/><polygon points="1029.3,736.0 1031.5,736.0 1029.7,917.3 1027.6,917.3" fill="url(#vg127)"/><polygon points="1043.2,736.0 1044.7,736.0 1041.7,928.6 1040.2,928.6" fill="url(#vg128)"/><polygon points="1037.7,736.0 1039.3,736.0 1033.7,927.0 1032.1,927.0" fill="url(#vg129)"/><polygon points="1036.8,736.0 1039.1,736.0 1036.9,910.6 1034.6,910.6" fill="url(#vg130)"/><polygon points="1007.5,736.0 1008.8,736.0 1006.6,921.1 1005.3,921.1" fill="url(#vg131)"/><polygon points="1011.2,736.0 1013.2,736.0 1010.1,938.0 1008.1,938.0" fill="url(#vg132)"/><polygon points="1014.9,736.0 1017.4,736.0 1013.3,949.2 1010.7,949.2" fill="url(#vg133)"/><polygon points="1017.9,736.0 1020.2,736.0 1018.2,924.4 1015.8,924.4" fill="url(#vg134)"/><polygon points="1043.1,736.0 1045.0,736.0 1042.5,943.1 1040.7,943.1" fill="url(#vg135)"/><polygon points="1041.9,736.0 1043.7,736.0 1038.6,928.1 1036.9,928.1" fill="url(#vg136)"/><polygon points="1004.5,736.0 1005.6,736.0 1001.6,895.4 1000.5,895.4" fill="url(#vg137)"/><polygon points="1005.5,736.0 1007.4,736.0 1005.4,922.3 1003.5,922.3" fill="url(#vg138)"/><polygon points="1074.6,736.0 1076.2,736.0 1073.5,901.2 1071.9,901.2" fill="url(#vg139)"/><polygon points="1094.4,736.0 1095.9,736.0 1090.3,942.7 1088.8,942.7" fill="url(#vg140)"/><polygon points="1086.7,736.0 1088.2,736.0 1087.1,941.4 1085.5,941.4" fill="url(#vg141)"/><polygon points="1076.3,736.0 1078.3,736.0 1072.8,946.0 1070.9,946.0" fill="url(#vg142)"/><polygon points="1106.3,736.0 1107.5,736.0 1102.5,909.4 1101.2,909.4" fill="url(#vg143)"/><polygon points="1071.9,736.0 1073.2,736.0 1071.6,890.1 1070.3,890.1" fill="url(#vg144)"/><polygon points="1087.5,736.0 1089.8,736.0 1086.7,942.9 1084.4,942.9" fill="url(#vg145)"/><polygon points="1094.5,736.0 1096.3,736.0 1095.3,940.3 1093.5,940.3" fill="url(#vg146)"/><polygon points="1090.9,736.0 1092.1,736.0 1089.0,910.5 1087.8,910.5" fill="url(#vg147)"/><polygon points="1095.5,736.0 1097.1,736.0 1092.5,943.4 1090.9,943.4" fill="url(#vg148)"/><polygon points="1108.0,736.0 1110.5,736.0 1107.5,918.4 1105.0,918.4" fill="url(#vg149)"/><polygon points="1071.7,736.0 1073.8,736.0 1074.7,943.6 1072.5,943.6" fill="url(#vg150)"/><polygon points="1078.8,736.0 1081.3,736.0 1078.4,889.4 1075.8,889.4" fill="url(#vg151)"/><polygon points="1114.2,736.0 1116.3,736.0 1112.4,899.1 1110.3,899.1" fill="url(#vg152)"/><polygon points="1081.4,736.0 1082.7,736.0 1083.1,901.2 1081.8,901.2" fill="url(#vg153)"/><polygon points="1112.3,736.0 1114.4,736.0 1109.4,891.4 1107.3,891.4" fill="url(#vg154)"/><polygon points="1156.8,738.0 1157.8,738.0 1161.1,809.4 1160.1,809.4" fill="url(#vg155)"/><polygon points="1150.4,738.0 1151.6,738.0 1155.2,827.9 1153.9,827.9" fill="url(#vg156)"/><polygon points="1151.8,738.0 1152.8,738.0 1154.9,818.1 1153.8,818.1" fill="url(#vg157)"/></g><g filter="url(#bbl2)"><path d="M90.5 720.3V720.3h1V723.6h1V720.8h1V722.4h1V718.6h1V720.2h1V723.0h1V727.7h-1V726.7h-1V724.6h-1V727.0h-1V725.2h-1V728.1h-1V727.0h-1Z" fill="#721500"/><path d="M101.5 719.1V719.1h1V718.7h1V717.9h1V719.3h1V715.6h1V717.3h1V719.3h1V718.7h1V718.9h1V723.9h-1V724.2h-1V724.7h-1V722.8h-1V722.3h-1V723.7h-1V723.9h-1V724.0h-1V724.9h-1Z" fill="#721500"/><path d="M110.5 709.3V709.3h1V708.6h1V713.1h1V708.7h1V708.9h1V710.2h1V712.9h1V711.9h1V711.8h1V711.5h1V710.0h1V709.1h1V712.0h1V716.6h-1V714.9h-1V715.7h-1V715.9h-1V716.5h-1V716.3h-1V718.1h-1V715.2h-1V715.2h-1V715.3h-1V717.7h-1V713.0h-1V715.7h-1Z" fill="#721500"/><path d="M124.5 709.5V709.5h1V709.6h1V707.4h1V710.5h1V708.6h1V709.6h1V710.2h1V707.7h1V709.3h1V709.5h1V709.6h1V715.7h-1V715.0h-1V715.1h-1V714.2h-1V715.5h-1V714.5h-1V714.3h-1V715.6h-1V713.2h-1V714.2h-1V714.6h-1Z" fill="#721500"/><path d="M136.5 716.7V716.7h1V715.7h1V717.4h1V718.5h1V717.3h1V717.6h1V720.6h1V716.4h1V722.6h-1V725.0h-1V722.0h-1V721.9h-1V724.2h-1V723.8h-1V721.5h-1V721.9h-1Z" fill="#721500"/><path d="M145.5 710.6V710.6h1V709.8h1V707.7h1V711.0h1V710.4h1V708.0h1V708.1h1V710.1h1V708.5h1V708.5h1V708.3h1V710.0h1V709.2h1V708.8h1V711.0h1V707.7h1V707.3h1V707.0h1V711.0h1V708.8h1V709.9h1V710.6h1V711.0h1V710.6h1V709.9h1V710.4h1V709.1h1V703.1h1V702.8h1V698.9h1V698.7h1V700.1h1V698.8h1V698.2h1V699.2h1V697.6h1V696.6h1V698.6h1V698.4h1V697.9h1V697.5h1V698.9h1V697.8h1V700.0h1V699.7h1V699.5h1V698.4h1V697.7h1V699.1h1V698.7h1V699.4h1V698.1h1V696.8h1V697.4h1V698.4h1V699.2h1V698.4h1V699.4h1V695.6h1V698.1h1V695.5h1V690.9h1V685.6h1V689.2h1V690.6h1V689.3h1V691.9h1V691.9h1V690.5h1V690.8h1V692.1h1V691.8h1V690.4h1V690.6h1V690.3h1V690.4h1V691.2h1V691.3h1V689.6h1V692.4h1V690.9h1V691.5h1V691.0h1V691.1h1V690.4h1V691.7h1V690.7h1V689.5h1V692.3h1V689.1h1V691.9h1V690.5h1V691.1h1V691.6h1V691.5h1V690.7h1V691.0h1V692.0h1V692.4h1V690.2h1V690.9h1V691.5h1V691.5h1V691.1h1V685.0h1V689.8h1V690.2h1V690.8h1V689.1h1V690.1h1V688.8h1V686.0h1V680.8h1V683.2h1V681.1h1V681.8h1V683.2h1V681.6h1V680.5h1V681.9h1V683.1h1V682.0h1V682.0h1V683.1h1V682.3h1V681.3h1V680.7h1V680.9h1V681.4h1V681.3h1V681.5h1V683.3h1V680.8h1V682.5h1V680.9h1V681.8h1V680.9h1V683.6h1V686.9h1V684.8h1V682.5h1V682.8h1V682.2h1V683.3h1V682.8h1V682.7h1V682.8h1V681.2h1V681.5h1V681.4h1V681.9h1V681.5h1V682.6h1V680.6h1V679.2h1V677.3h1V677.2h1V677.8h1V676.4h1V678.1h1V676.9h1V678.8h1V681.9h1V684.2h1V685.0h1V684.5h1V684.4h1V685.2h1V686.8h1V684.8h1V686.2h1V686.5h1V686.5h1V685.1h1V684.7h1V686.8h1V685.7h1V685.8h1V681.6h1V685.5h1V684.1h1V683.2h1V683.0h1V684.8h1V682.6h1V681.9h1V684.3h1V683.4h1V683.7h1V686.2h1V687.6h1V691.6h1V691.0h1V693.5h1V692.7h1V692.0h1V690.7h1V693.3h1V694.3h1V696.0h1V694.5h1V694.6h1V695.7h1V693.3h1V693.8h1V695.7h1V700.2h-1V699.6h-1V699.9h-1V700.3h-1V699.9h-1V699.9h-1V702.0h-1V699.8h-1V698.9h-1V696.3h-1V697.2h-1V697.7h-1V698.0h-1V696.8h-1V697.7h-1V694.3h-1V691.4h-1V689.1h-1V688.6h-1V689.0h-1V688.2h-1V688.2h-1V689.2h-1V688.7h-1V689.8h-1V690.0h-1V689.9h-1V686.3h-1V690.3h-1V691.8h-1V691.8h-1V690.0h-1V691.9h-1V693.0h-1V691.2h-1V691.4h-1V690.5h-1V691.8h-1V691.4h-1V690.2h-1V691.3h-1V690.0h-1V691.0h-1V687.3h-1V683.2h-1V682.7h-1V682.5h-1V682.6h-1V682.2h-1V681.7h-1V683.2h-1V683.8h-1V685.3h-1V687.0h-1V686.6h-1V687.1h-1V687.7h-1V688.2h-1V687.3h-1V688.1h-1V687.3h-1V689.4h-1V688.3h-1V688.4h-1V687.8h-1V687.3h-1V689.5h-1V692.1h-1V690.1h-1V686.0h-1V687.5h-1V687.4h-1V687.4h-1V685.8h-1V689.2h-1V687.4h-1V686.5h-1V687.1h-1V687.1h-1V686.1h-1V687.0h-1V686.7h-1V687.8h-1V687.7h-1V687.7h-1V687.5h-1V688.3h-1V686.0h-1V686.5h-1V688.4h-1V687.1h-1V687.1h-1V688.9h-1V687.5h-1V690.6h-1V693.9h-1V695.9h-1V695.6h-1V696.1h-1V695.4h-1V695.7h-1V691.5h-1V695.6h-1V696.9h-1V696.8h-1V696.4h-1V696.9h-1V697.5h-1V696.6h-1V695.8h-1V695.9h-1V697.4h-1V696.6h-1V696.8h-1V697.2h-1V696.7h-1V694.9h-1V697.2h-1V696.0h-1V695.2h-1V696.2h-1V696.0h-1V696.6h-1V697.0h-1V698.0h-1V696.2h-1V697.0h-1V695.8h-1V696.3h-1V697.0h-1V695.6h-1V696.6h-1V696.6h-1V696.2h-1V696.6h-1V696.6h-1V696.2h-1V696.8h-1V698.1h-1V697.4h-1V694.4h-1V696.2h-1V694.0h-1V692.3h-1V696.8h-1V701.5h-1V704.3h-1V701.8h-1V703.9h-1V704.7h-1V704.2h-1V705.1h-1V703.2h-1V703.2h-1V704.7h-1V705.4h-1V704.2h-1V704.2h-1V704.5h-1V703.0h-1V704.1h-1V704.9h-1V704.9h-1V703.6h-1V703.4h-1V704.0h-1V704.3h-1V704.1h-1V703.2h-1V703.3h-1V702.9h-1V705.0h-1V704.4h-1V703.6h-1V704.4h-1V705.4h-1V703.3h-1V707.2h-1V709.6h-1V714.6h-1V715.2h-1V714.7h-1V715.0h-1V715.7h-1V715.6h-1V715.5h-1V713.7h-1V715.7h-1V713.5h-1V713.7h-1V714.1h-1V715.3h-1V714.4h-1V714.9h-1V715.2h-1V714.8h-1V714.6h-1V713.9h-1V716.1h-1V714.7h-1V714.6h-1V716.3h-1V715.6h-1V714.5h-1V714.8h-1V715.0h-1Z" fill="#721500"/><path d="M365.5 686.1V686.1h1V688.0h1V684.5h1V686.5h1V685.1h1V687.0h1V686.0h1V686.6h1V686.8h1V685.6h1V688.3h1V684.3h1V685.8h1V687.5h1V686.3h1V686.3h1V686.8h1V687.2h1V685.6h1V685.1h1V684.7h1V685.2h1V684.9h1V686.4h1V682.0h1V687.4h1V685.5h1V687.7h1V684.1h1V686.3h1V687.7h1V684.6h1V684.0h1V687.4h1V686.6h1V684.3h1V685.0h1V685.3h1V688.8h1V691.5h1V690.1h1V690.8h1V691.0h1V691.3h1V690.3h1V689.6h1V690.9h1V693.4h1V689.6h1V691.0h1V691.3h1V692.1h1V690.5h1V689.4h1V690.7h1V692.3h1V692.1h1V693.2h1V693.6h1V695.9h1V696.7h1V695.5h1V697.6h1V697.8h1V699.2h1V697.0h1V700.7h1V701.5h1V704.1h1V705.2h1V707.6h1V696.9h1V690.3h1V689.3h1V688.6h1V690.3h1V687.2h1V688.8h1V689.9h1V690.4h1V692.7h1V689.5h1V690.7h1V693.3h1V690.3h1V691.2h1V692.1h1V692.1h1V691.4h1V692.1h1V692.6h1V694.4h1V692.9h1V692.8h1V694.9h1V693.7h1V692.0h1V694.1h1V695.8h1V695.5h1V693.1h1V695.8h1V695.3h1V697.6h1V695.4h1V692.3h1V695.1h1V697.1h1V696.2h1V695.2h1V696.0h1V697.0h1V696.9h1V696.6h1V699.0h1V698.8h1V697.3h1V696.7h1V698.9h1V698.8h1V698.0h1V700.3h1V698.7h1V699.0h1V698.0h1V698.4h1V699.6h1V699.8h1V698.0h1V700.4h1V699.7h1V700.3h1V702.0h1V701.6h1V702.7h1V702.0h1V701.6h1V700.4h1V700.7h1V702.1h1V701.9h1V701.7h1V703.2h1V702.5h1V702.0h1V700.1h1V704.3h1V702.1h1V701.1h1V703.8h1V703.9h1V703.7h1V703.9h1V702.2h1V701.6h1V701.7h1V703.4h1V704.0h1V704.4h1V704.3h1V703.0h1V705.2h1V704.7h1V701.3h1V705.3h1V703.6h1V703.0h1V705.6h1V703.4h1V705.9h1V705.1h1V704.8h1V706.1h1V704.2h1V707.5h1V706.6h1V703.9h1V705.1h1V706.2h1V706.5h1V705.2h1V706.8h1V706.9h1V707.7h1V707.6h1V705.7h1V707.0h1V705.0h1V706.0h1V705.5h1V705.6h1V705.3h1V705.2h1V705.5h1V703.6h1V703.5h1V703.7h1V705.7h1V705.8h1V703.5h1V705.3h1V705.3h1V706.9h1V704.8h1V705.9h1V704.6h1V705.1h1V703.8h1V703.7h1V704.9h1V702.8h1V704.2h1V702.8h1V701.3h1V697.3h1V698.0h1V699.9h1V696.3h1V698.8h1V698.5h1V700.8h1V701.4h1V702.5h1V703.3h1V705.5h1V705.4h1V707.5h1V709.8h1V710.8h1V711.0h1V711.7h1V708.9h1V710.9h1V711.8h1V711.2h1V712.1h1V709.8h1V710.2h1V709.9h1V712.6h1V712.0h1V711.5h1V711.3h1V711.2h1V711.7h1V712.2h1V713.1h1V712.4h1V713.4h1V711.5h1V711.9h1V712.5h1V711.4h1V712.8h1V714.2h1V715.3h1V713.1h1V713.1h1V712.5h1V714.0h1V712.7h1V713.1h1V714.7h1V712.1h1V714.1h1V712.6h1V713.9h1V715.9h1V712.4h1V714.4h1V715.8h1V713.5h1V713.1h1V715.4h1V715.2h1V714.4h1V714.0h1V714.4h1V717.7h1V715.8h1V714.5h1V714.8h1V711.9h1V716.5h1V716.0h1V715.7h1V711.2h1V715.3h1V714.9h1V714.6h1V717.7h1V714.9h1V715.4h1V717.5h1V716.1h1V716.5h1V717.0h1V716.6h1V717.2h1V716.3h1V715.2h1V716.1h1V718.2h1V716.7h1V718.0h1V717.4h1V716.7h1V714.4h1V717.1h1V716.0h1V716.6h1V718.3h1V717.3h1V717.7h1V716.4h1V714.2h1V715.9h1V717.6h1V716.0h1V718.2h1V717.3h1V717.2h1V717.3h1V717.6h1V717.2h1V715.5h1V716.3h1V716.1h1V717.4h1V718.2h1V717.3h1V716.5h1V716.5h1V716.1h1V707.6h1V700.2h1V702.2h1V700.2h1V701.1h1V700.6h1V700.1h1V701.4h1V700.5h1V701.7h1V701.2h1V701.9h1V699.7h1V701.1h1V702.1h1V702.7h1V701.4h1V702.2h1V700.5h1V699.4h1V701.8h1V700.6h1V703.1h1V704.4h1V703.5h1V702.7h1V704.2h1V698.6h1V703.8h1V702.5h1V702.1h1V701.9h1V705.8h1V701.6h1V703.7h1V704.2h1V705.4h1V706.5h1V707.3h1V706.2h1V708.3h1V709.9h1V706.8h1V707.9h1V709.6h1V709.6h1V711.6h1V713.1h1V714.4h1V708.1h1V711.6h1V711.4h1V707.4h1V708.2h1V705.9h1V704.3h1V704.6h1V703.9h1V702.3h1V702.1h1V698.6h1V700.7h1V697.0h1V696.3h1V697.1h1V696.7h1V698.0h1V698.1h1V697.8h1V698.2h1V696.2h1V696.9h1V695.7h1V697.1h1V696.4h1V696.8h1V696.3h1V696.6h1V694.5h1V693.3h1V696.0h1V697.1h1V696.2h1V698.3h1V696.7h1V696.3h1V697.6h1V693.7h1V694.5h1V696.7h1V691.0h1V694.5h1V693.5h1V696.9h1V693.7h1V695.1h1V691.5h1V696.1h1V696.9h1V693.1h1V694.6h1V691.7h1V693.3h1V694.6h1V695.5h1V695.3h1V696.6h1V695.5h1V693.7h1V695.1h1V696.4h1V695.2h1V695.9h1V696.8h1V698.5h1V696.4h1V696.2h1V697.9h1V696.5h1V697.0h1V697.3h1V697.7h1V696.3h1V695.7h1V698.9h1V698.0h1V698.7h1V696.9h1V697.3h1V696.9h1V698.1h1V699.3h1V696.7h1V695.7h1V697.8h1V698.0h1V696.3h1V697.3h1V697.8h1V696.1h1V695.4h1V696.9h1V696.9h1V696.6h1V697.1h1V695.5h1V697.3h1V694.4h1V697.4h1V697.5h1V695.8h1V697.5h1V697.8h1V696.5h1V696.5h1V695.2h1V694.9h1V695.7h1V696.2h1V695.3h1V697.0h1V698.4h1V697.6h1V696.8h1V701.7h-1V703.5h-1V702.9h-1V702.1h-1V701.5h-1V702.8h-1V700.9h-1V701.3h-1V701.4h-1V702.3h-1V702.0h-1V702.3h-1V702.7h-1V702.1h-1V702.1h-1V702.7h-1V700.6h-1V702.2h-1V702.2h-1V702.9h-1V701.5h-1V701.4h-1V701.7h-1V701.5h-1V700.7h-1V704.4h-1V702.2h-1V702.8h-1V704.8h-1V703.3h-1V702.2h-1V702.4h-1V703.7h-1V703.6h-1V703.4h-1V703.4h-1V702.6h-1V703.4h-1V702.3h-1V703.5h-1V701.8h-1V702.1h-1V702.6h-1V702.4h-1V702.2h-1V701.8h-1V702.5h-1V703.0h-1V703.1h-1V703.4h-1V701.6h-1V700.7h-1V701.5h-1V701.4h-1V699.7h-1V699.9h-1V701.2h-1V702.2h-1V702.1h-1V701.0h-1V700.2h-1V699.3h-1V698.2h-1V700.6h-1V699.4h-1V701.8h-1V700.9h-1V696.2h-1V700.9h-1V700.1h-1V702.5h-1V699.1h-1V699.7h-1V697.1h-1V702.1h-1V699.2h-1V699.8h-1V702.2h-1V702.6h-1V702.1h-1V702.7h-1V701.6h-1V701.8h-1V702.0h-1V699.0h-1V699.4h-1V702.9h-1V702.6h-1V702.5h-1V701.9h-1V703.3h-1V700.7h-1V703.4h-1V701.6h-1V702.6h-1V702.6h-1V702.4h-1V704.2h-1V702.0h-1V701.9h-1V702.3h-1V703.0h-1V705.3h-1V703.9h-1V706.7h-1V706.7h-1V709.4h-1V710.1h-1V710.3h-1V712.7h-1V713.3h-1V713.0h-1V716.1h-1V717.4h-1V714.8h-1V718.7h-1V717.7h-1V716.8h-1V714.5h-1V716.3h-1V714.4h-1V711.8h-1V714.9h-1V712.8h-1V712.4h-1V713.5h-1V711.3h-1V710.0h-1V710.5h-1V710.4h-1V707.9h-1V710.7h-1V708.2h-1V708.0h-1V707.0h-1V709.1h-1V704.0h-1V708.7h-1V707.0h-1V709.1h-1V709.4h-1V707.7h-1V707.3h-1V708.1h-1V706.1h-1V706.0h-1V706.6h-1V706.5h-1V707.9h-1V707.4h-1V707.8h-1V704.7h-1V706.3h-1V705.6h-1V706.3h-1V706.8h-1V705.8h-1V706.1h-1V706.8h-1V707.2h-1V706.8h-1V707.2h-1V706.1h-1V712.1h-1V721.9h-1V722.7h-1V721.9h-1V721.6h-1V723.1h-1V722.9h-1V722.8h-1V722.1h-1V721.1h-1V722.4h-1V722.6h-1V722.1h-1V722.1h-1V722.7h-1V724.1h-1V720.8h-1V722.5h-1V722.6h-1V720.3h-1V723.0h-1V722.7h-1V723.1h-1V723.3h-1V722.0h-1V722.6h-1V723.0h-1V720.6h-1V722.5h-1V722.8h-1V722.4h-1V721.7h-1V723.2h-1V722.1h-1V720.5h-1V721.3h-1V722.5h-1V721.8h-1V722.9h-1V721.2h-1V721.5h-1V722.7h-1V721.0h-1V720.9h-1V722.4h-1V720.1h-1V721.2h-1V720.8h-1V717.8h-1V720.8h-1V722.0h-1V721.0h-1V718.5h-1V720.7h-1V720.0h-1V720.4h-1V722.4h-1V720.8h-1V720.5h-1V718.8h-1V720.3h-1V719.9h-1V719.8h-1V719.1h-1V721.4h-1V719.7h-1V718.7h-1V721.7h-1V720.0h-1V719.1h-1V719.3h-1V718.5h-1V719.5h-1V717.9h-1V719.2h-1V718.9h-1V718.3h-1V719.3h-1V717.7h-1V719.8h-1V719.0h-1V719.3h-1V717.9h-1V717.3h-1V717.7h-1V718.1h-1V719.4h-1V717.5h-1V718.1h-1V717.2h-1V716.9h-1V717.4h-1V716.5h-1V716.7h-1V718.0h-1V718.0h-1V716.3h-1V716.9h-1V715.4h-1V717.3h-1V716.3h-1V716.6h-1V716.2h-1V714.9h-1V717.3h-1V715.8h-1V715.3h-1V714.8h-1V712.2h-1V710.5h-1V711.4h-1V709.8h-1V707.1h-1V707.4h-1V705.8h-1V705.2h-1V704.9h-1V702.1h-1V705.4h-1V704.4h-1V703.8h-1V707.8h-1V708.4h-1V708.8h-1V709.3h-1V711.2h-1V709.3h-1V710.0h-1V711.2h-1V710.5h-1V710.9h-1V711.0h-1V711.5h-1V710.7h-1V711.1h-1V708.9h-1V710.5h-1V711.5h-1V710.4h-1V710.1h-1V709.5h-1V711.0h-1V710.3h-1V711.1h-1V711.1h-1V711.3h-1V710.4h-1V710.4h-1V711.3h-1V711.7h-1V712.6h-1V712.1h-1V711.4h-1V711.3h-1V711.5h-1V711.3h-1V711.4h-1V710.5h-1V710.5h-1V710.9h-1V712.6h-1V710.9h-1V710.9h-1V710.4h-1V710.4h-1V710.4h-1V710.1h-1V710.1h-1V709.8h-1V709.9h-1V710.7h-1V707.4h-1V709.3h-1V709.7h-1V707.4h-1V709.1h-1V709.9h-1V709.7h-1V709.3h-1V708.1h-1V707.8h-1V708.1h-1V708.4h-1V708.4h-1V708.5h-1V708.7h-1V707.0h-1V706.6h-1V709.2h-1V706.0h-1V706.5h-1V707.0h-1V707.9h-1V708.1h-1V706.6h-1V707.9h-1V706.8h-1V706.7h-1V708.1h-1V707.0h-1V707.0h-1V707.2h-1V706.3h-1V706.8h-1V704.4h-1V706.2h-1V704.6h-1V704.3h-1V705.2h-1V704.8h-1V704.7h-1V705.8h-1V704.6h-1V705.2h-1V704.5h-1V703.7h-1V705.0h-1V703.4h-1V703.9h-1V704.3h-1V704.1h-1V701.4h-1V701.6h-1V701.9h-1V701.3h-1V702.0h-1V701.1h-1V702.1h-1V700.9h-1V698.5h-1V700.7h-1V702.1h-1V701.2h-1V700.4h-1V699.4h-1V700.4h-1V701.3h-1V700.4h-1V696.6h-1V699.7h-1V700.6h-1V698.5h-1V699.4h-1V699.4h-1V698.2h-1V697.1h-1V696.3h-1V698.4h-1V697.4h-1V697.4h-1V696.9h-1V698.3h-1V697.4h-1V696.2h-1V697.2h-1V696.0h-1V696.1h-1V695.5h-1V693.8h-1V695.8h-1V695.3h-1V695.0h-1V694.8h-1V703.4h-1V714.1h-1V711.2h-1V708.6h-1V708.1h-1V707.4h-1V703.1h-1V705.5h-1V703.4h-1V702.9h-1V701.9h-1V702.5h-1V700.4h-1V699.5h-1V697.9h-1V698.0h-1V696.6h-1V696.4h-1V696.0h-1V696.1h-1V697.1h-1V696.8h-1V697.6h-1V696.4h-1V698.2h-1V697.1h-1V696.4h-1V696.3h-1V696.6h-1V695.7h-1V697.2h-1V696.2h-1V698.1h-1V693.9h-1V690.6h-1V691.5h-1V690.8h-1V691.0h-1V691.9h-1V690.7h-1V691.1h-1V692.1h-1V691.9h-1V690.3h-1V692.4h-1V691.1h-1V692.0h-1V688.6h-1V692.4h-1V690.9h-1V690.8h-1V690.7h-1V691.0h-1V689.9h-1V692.1h-1V691.7h-1V691.3h-1V691.7h-1V692.4h-1V690.5h-1V690.4h-1V693.5h-1V691.0h-1V692.1h-1V692.4h-1V691.7h-1V691.9h-1V691.7h-1V691.7h-1V691.0h-1V692.5h-1V691.7h-1Z" fill="#721500"/><path d="M894.5 697.1V697.1h1V696.8h1V699.2h1V698.9h1V696.5h1V698.0h1V698.0h1V699.2h1V697.5h1V700.5h1V699.0h1V697.8h1V697.5h1V696.7h1V695.9h1V697.4h1V698.7h1V695.2h1V697.5h1V697.9h1V695.5h1V698.7h1V699.4h1V697.3h1V697.5h1V697.3h1V695.4h1V697.7h1V697.9h1V697.4h1V699.0h1V698.7h1V699.2h1V699.1h1V699.3h1V697.5h1V696.8h1V696.5h1V698.2h1V697.2h1V699.8h1V697.4h1V697.3h1V698.0h1V698.0h1V698.3h1V696.9h1V698.1h1V698.8h1V697.8h1V697.4h1V698.4h1V699.3h1V699.8h1V699.6h1V695.1h1V693.6h1V691.9h1V691.2h1V689.3h1V692.7h1V690.9h1V692.7h1V693.3h1V691.6h1V692.6h1V692.6h1V691.3h1V689.7h1V691.5h1V691.1h1V692.2h1V692.1h1V689.9h1V691.0h1V690.0h1V689.9h1V691.2h1V688.7h1V688.3h1V690.0h1V690.9h1V693.2h1V690.3h1V693.7h1V695.8h1V696.5h1V696.4h1V696.1h1V699.3h1V699.0h1V701.7h1V700.9h1V701.3h1V701.9h1V704.1h1V707.2h1V707.5h1V706.6h1V708.9h1V708.6h1V710.5h1V708.5h1V708.8h1V710.5h1V708.6h1V710.3h1V710.4h1V711.4h1V709.2h1V712.4h1V712.4h1V710.4h1V711.8h1V710.5h1V717.1h-1V716.7h-1V715.7h-1V717.3h-1V717.1h-1V715.9h-1V715.8h-1V715.8h-1V715.0h-1V715.1h-1V716.9h-1V715.2h-1V715.1h-1V715.3h-1V713.7h-1V714.0h-1V712.9h-1V712.6h-1V712.2h-1V710.3h-1V707.6h-1V707.1h-1V707.4h-1V706.6h-1V705.2h-1V705.8h-1V702.7h-1V702.4h-1V700.9h-1V701.0h-1V700.3h-1V695.8h-1V698.5h-1V695.3h-1V695.8h-1V695.0h-1V694.4h-1V696.6h-1V696.0h-1V696.0h-1V696.8h-1V695.2h-1V696.9h-1V697.4h-1V695.9h-1V696.9h-1V696.2h-1V695.9h-1V697.2h-1V697.8h-1V697.2h-1V698.4h-1V697.1h-1V696.7h-1V698.9h-1V696.0h-1V696.8h-1V698.2h-1V699.8h-1V701.7h-1V705.5h-1V704.9h-1V703.7h-1V705.0h-1V702.8h-1V702.8h-1V704.1h-1V704.8h-1V703.2h-1V704.0h-1V703.8h-1V704.4h-1V703.7h-1V703.8h-1V704.1h-1V703.4h-1V703.5h-1V702.8h-1V703.2h-1V704.3h-1V703.7h-1V703.5h-1V703.6h-1V704.1h-1V703.5h-1V703.6h-1V702.6h-1V702.3h-1V701.9h-1V703.2h-1V703.1h-1V703.3h-1V703.7h-1V704.0h-1V701.1h-1V702.5h-1V704.1h-1V700.3h-1V704.8h-1V704.2h-1V700.4h-1V702.4h-1V702.6h-1V703.3h-1V703.9h-1V705.2h-1V703.3h-1V703.9h-1V703.1h-1V703.6h-1V703.0h-1V704.2h-1V704.4h-1V703.2h-1V702.9h-1Z" fill="#721500"/><path d="M1045.5 700.1V700.1h1V699.8h1V699.1h1V699.4h1V701.8h1V700.5h1V698.4h1V701.1h1V699.4h1V701.1h1V702.9h1V699.3h1V699.7h1V699.3h1V697.6h1V701.6h1V701.1h1V701.5h1V700.8h1V702.3h1V706.9h-1V706.1h-1V707.4h-1V706.8h-1V706.6h-1V701.9h-1V705.6h-1V705.2h-1V705.6h-1V707.6h-1V706.0h-1V705.9h-1V706.5h-1V704.9h-1V705.0h-1V707.1h-1V704.7h-1V705.5h-1V705.5h-1V705.7h-1Z" fill="#721500"/><path d="M1066.5 709.9V709.9h1V707.6h1V709.2h1V707.2h1V709.3h1V711.4h1V709.5h1V710.9h1V712.0h1V709.1h1V711.4h1V706.8h1V707.0h1V705.8h1V706.8h1V706.7h1V706.6h1V707.1h1V706.9h1V707.2h1V707.5h1V706.6h1V709.6h1V709.8h1V708.8h1V708.7h1V709.8h1V707.1h1V709.2h1V708.7h1V707.8h1V710.9h1V710.1h1V711.5h1V710.5h1V709.7h1V710.5h1V709.5h1V708.9h1V706.8h1V707.0h1V704.9h1V705.3h1V705.8h1V704.2h1V706.5h1V705.0h1V707.0h1V704.0h1V704.4h1V705.1h1V707.0h1V706.7h1V705.2h1V704.3h1V704.7h1V705.6h1V704.8h1V703.9h1V704.4h1V705.2h1V704.5h1V706.6h1V704.3h1V706.3h1V705.4h1V706.2h1V707.4h1V704.7h1V705.0h1V704.5h1V702.6h1V705.2h1V706.2h1V701.7h1V704.8h1V704.2h1V701.6h1V707.1h1V706.4h1V705.7h1V707.1h1V705.6h1V706.7h1V706.1h1V707.5h1V706.6h1V707.9h1V706.5h1V708.2h1V708.6h1V707.8h1V713.8h-1V713.1h-1V713.0h-1V712.3h-1V712.4h-1V713.3h-1V712.6h-1V712.9h-1V713.4h-1V711.1h-1V712.1h-1V712.2h-1V712.6h-1V712.8h-1V707.3h-1V710.6h-1V711.6h-1V706.8h-1V711.5h-1V710.8h-1V709.2h-1V710.4h-1V711.3h-1V709.3h-1V711.7h-1V710.8h-1V711.1h-1V711.2h-1V710.0h-1V711.6h-1V710.3h-1V710.5h-1V710.0h-1V710.5h-1V710.5h-1V710.2h-1V710.4h-1V710.0h-1V709.9h-1V712.5h-1V711.4h-1V710.4h-1V710.9h-1V709.1h-1V711.7h-1V710.4h-1V712.3h-1V710.1h-1V710.8h-1V710.7h-1V710.2h-1V711.8h-1V713.0h-1V715.3h-1V716.2h-1V715.7h-1V714.0h-1V716.4h-1V717.7h-1V716.7h-1V716.8h-1V714.4h-1V713.2h-1V715.0h-1V713.3h-1V715.1h-1V714.1h-1V714.6h-1V714.3h-1V714.4h-1V711.7h-1V713.0h-1V711.6h-1V712.7h-1V713.2h-1V712.3h-1V712.1h-1V711.9h-1V710.9h-1V713.7h-1V713.3h-1V716.5h-1V715.2h-1V716.8h-1V716.9h-1V714.5h-1V717.1h-1V714.0h-1V713.1h-1V714.5h-1V714.0h-1V714.2h-1Z" fill="#721500"/><path d="M1160.5 710.9V710.9h1V713.3h1V711.7h1V711.2h1V714.1h1V711.4h1V714.3h1V713.2h1V712.9h1V712.2h1V712.8h1V711.7h1V709.7h1V710.8h1V711.2h1V711.9h1V710.6h1V711.3h1V710.2h1V712.4h1V708.6h1V712.7h1V712.4h1V713.2h1V712.0h1V711.0h1V710.6h1V712.7h1V711.9h1V712.1h1V708.5h1V713.3h1V711.2h1V712.2h1V711.5h1V717.7h-1V716.6h-1V717.4h-1V718.2h-1V715.2h-1V717.4h-1V718.4h-1V717.4h-1V717.1h-1V716.5h-1V718.5h-1V717.8h-1V717.0h-1V717.4h-1V714.8h-1V717.2h-1V716.8h-1V717.9h-1V716.0h-1V716.6h-1V717.2h-1V716.9h-1V715.9h-1V717.9h-1V718.4h-1V716.9h-1V717.8h-1V718.3h-1V718.8h-1V717.2h-1V718.9h-1V716.4h-1V716.7h-1V718.3h-1V717.0h-1Z" fill="#721500"/><path d="M90.5 723.8V723.8h1V724.9h1V722.0h1V723.8h1V721.4h1V723.5h1V724.5h1V727.7h-1V726.7h-1V724.6h-1V727.0h-1V725.2h-1V728.1h-1V727.0h-1Z" fill="#a11500"/><path d="M101.5 721.7V721.7h1V720.8h1V720.7h1V720.5h1V719.1h1V719.6h1V721.5h1V721.0h1V720.7h1V723.9h-1V724.2h-1V724.7h-1V722.8h-1V722.3h-1V723.7h-1V723.9h-1V724.0h-1V724.9h-1Z" fill="#a11500"/><path d="M110.5 712.5V712.5h1V709.8h1V714.5h1V712.1h1V712.0h1V712.0h1V714.9h1V713.1h1V713.3h1V712.7h1V712.5h1V711.7h1V713.4h1V716.6h-1V714.9h-1V715.7h-1V715.9h-1V716.5h-1V716.3h-1V718.1h-1V715.2h-1V715.2h-1V715.3h-1V717.7h-1V713.0h-1V715.7h-1Z" fill="#a11500"/><path d="M124.5 711.4V711.4h1V711.0h1V710.0h1V712.4h1V711.1h1V711.3h1V712.3h1V711.0h1V711.9h1V711.8h1V712.5h1V715.7h-1V715.0h-1V715.1h-1V714.2h-1V715.5h-1V714.5h-1V714.3h-1V715.6h-1V713.2h-1V714.2h-1V714.6h-1Z" fill="#a11500"/><path d="M136.5 718.7V718.7h1V718.3h1V720.6h1V721.0h1V718.7h1V718.8h1V721.8h1V719.4h1V722.6h-1V725.0h-1V722.0h-1V721.9h-1V724.2h-1V723.8h-1V721.5h-1V721.9h-1Z" fill="#a11500"/><path d="M145.5 711.8V711.8h1V711.6h1V711.3h1V712.4h1V713.1h1V711.4h1V711.5h1V712.9h1V710.7h1V711.4h1V711.6h1V712.0h1V711.7h1V711.2h1V712.1h1V710.9h1V710.5h1V710.3h1V712.5h1V710.5h1V712.3h1V712.4h1V712.5h1V711.8h1V711.5h1V712.0h1V711.4h1V706.4h1V704.0h1V700.1h1V702.2h1V701.2h1V700.4h1V701.2h1V701.8h1V699.7h1V700.1h1V700.0h1V700.9h1V701.1h1V700.8h1V700.2h1V700.4h1V701.7h1V701.7h1V700.9h1V699.8h1V701.3h1V701.0h1V701.0h1V702.2h1V701.5h1V700.0h1V700.0h1V701.9h1V701.0h1V701.5h1V700.7h1V698.6h1V701.1h1V698.3h1V693.6h1V689.1h1V690.8h1V693.0h1V691.2h1V694.2h1V694.9h1V693.6h1V693.0h1V693.4h1V693.4h1V693.0h1V693.4h1V693.4h1V692.4h1V693.8h1V693.1h1V692.6h1V693.8h1V693.0h1V694.8h1V693.8h1V693.4h1V692.8h1V693.0h1V692.0h1V692.8h1V694.0h1V691.7h1V693.5h1V694.0h1V693.6h1V693.4h1V694.2h1V692.7h1V692.6h1V693.4h1V694.3h1V693.7h1V693.2h1V693.6h1V693.7h1V692.4h1V688.3h1V692.5h1V692.2h1V692.9h1V692.4h1V692.7h1V690.7h1V687.4h1V684.3h1V685.7h1V683.9h1V683.9h1V685.2h1V683.3h1V682.8h1V685.1h1V684.3h1V684.5h1V684.5h1V684.6h1V683.5h1V683.8h1V682.9h1V683.9h1V683.9h1V683.3h1V684.2h1V686.0h1V682.6h1V684.2h1V684.2h1V684.3h1V682.8h1V686.9h1V688.9h1V686.3h1V684.1h1V684.6h1V685.2h1V685.1h1V686.2h1V684.1h1V684.9h1V684.1h1V685.0h1V684.5h1V683.9h1V683.4h1V683.8h1V682.1h1V680.6h1V680.0h1V678.5h1V679.0h1V679.4h1V679.3h1V679.5h1V680.0h1V684.1h1V687.8h1V686.8h1V688.1h1V687.0h1V688.2h1V688.6h1V687.3h1V688.2h1V688.0h1V689.8h1V688.7h1V686.8h1V688.6h1V688.6h1V687.1h1V683.1h1V686.7h1V686.8h1V686.6h1V685.5h1V686.0h1V685.0h1V685.0h1V685.8h1V685.4h1V685.9h1V688.2h1V691.1h1V694.5h1V693.6h1V694.8h1V694.5h1V694.0h1V693.1h1V695.7h1V696.6h1V698.8h1V696.7h1V696.7h1V697.1h1V696.7h1V696.4h1V697.0h1V700.2h-1V699.6h-1V699.9h-1V700.3h-1V699.9h-1V699.9h-1V702.0h-1V699.8h-1V698.9h-1V696.3h-1V697.2h-1V697.7h-1V698.0h-1V696.8h-1V697.7h-1V694.3h-1V691.4h-1V689.1h-1V688.6h-1V689.0h-1V688.2h-1V688.2h-1V689.2h-1V688.7h-1V689.8h-1V690.0h-1V689.9h-1V686.3h-1V690.3h-1V691.8h-1V691.8h-1V690.0h-1V691.9h-1V693.0h-1V691.2h-1V691.4h-1V690.5h-1V691.8h-1V691.4h-1V690.2h-1V691.3h-1V690.0h-1V691.0h-1V687.3h-1V683.2h-1V682.7h-1V682.5h-1V682.6h-1V682.2h-1V681.7h-1V683.2h-1V683.8h-1V685.3h-1V687.0h-1V686.6h-1V687.1h-1V687.7h-1V688.2h-1V687.3h-1V688.1h-1V687.3h-1V689.4h-1V688.3h-1V688.4h-1V687.8h-1V687.3h-1V689.5h-1V692.1h-1V690.1h-1V686.0h-1V687.5h-1V687.4h-1V687.4h-1V685.8h-1V689.2h-1V687.4h-1V686.5h-1V687.1h-1V687.1h-1V686.1h-1V687.0h-1V686.7h-1V687.8h-1V687.7h-1V687.7h-1V687.5h-1V688.3h-1V686.0h-1V686.5h-1V688.4h-1V687.1h-1V687.1h-1V688.9h-1V687.5h-1V690.6h-1V693.9h-1V695.9h-1V695.6h-1V696.1h-1V695.4h-1V695.7h-1V691.5h-1V695.6h-1V696.9h-1V696.8h-1V696.4h-1V696.9h-1V697.5h-1V696.6h-1V695.8h-1V695.9h-1V697.4h-1V696.6h-1V696.8h-1V697.2h-1V696.7h-1V694.9h-1V697.2h-1V696.0h-1V695.2h-1V696.2h-1V696.0h-1V696.6h-1V697.0h-1V698.0h-1V696.2h-1V697.0h-1V695.8h-1V696.3h-1V697.0h-1V695.6h-1V696.6h-1V696.6h-1V696.2h-1V696.6h-1V696.6h-1V696.2h-1V696.8h-1V698.1h-1V697.4h-1V694.4h-1V696.2h-1V694.0h-1V692.3h-1V696.8h-1V701.5h-1V704.3h-1V701.8h-1V703.9h-1V704.7h-1V704.2h-1V705.1h-1V703.2h-1V703.2h-1V704.7h-1V705.4h-1V704.2h-1V704.2h-1V704.5h-1V703.0h-1V704.1h-1V704.9h-1V704.9h-1V703.6h-1V703.4h-1V704.0h-1V704.3h-1V704.1h-1V703.2h-1V703.3h-1V702.9h-1V705.0h-1V704.4h-1V703.6h-1V704.4h-1V705.4h-1V703.3h-1V707.2h-1V709.6h-1V714.6h-1V715.2h-1V714.7h-1V715.0h-1V715.7h-1V715.6h-1V715.5h-1V713.7h-1V715.7h-1V713.5h-1V713.7h-1V714.1h-1V715.3h-1V714.4h-1V714.9h-1V715.2h-1V714.8h-1V714.6h-1V713.9h-1V716.1h-1V714.7h-1V714.6h-1V716.3h-1V715.6h-1V714.5h-1V714.8h-1V715.0h-1Z" fill="#a11500"/><path d="M365.5 688.5V688.5h1V689.3h1V687.8h1V688.5h1V688.5h1V688.7h1V688.5h1V689.2h1V688.9h1V687.8h1V690.3h1V687.2h1V687.3h1V689.2h1V688.5h1V688.1h1V688.5h1V688.9h1V686.7h1V687.8h1V687.5h1V687.6h1V687.7h1V689.2h1V685.4h1V688.8h1V687.9h1V689.2h1V687.1h1V688.7h1V688.9h1V687.9h1V687.5h1V688.7h1V687.8h1V687.6h1V688.3h1V687.4h1V690.7h1V694.9h1V693.0h1V694.0h1V692.5h1V693.4h1V693.1h1V693.2h1V693.9h1V695.0h1V693.2h1V694.4h1V693.6h1V693.9h1V692.9h1V692.8h1V693.2h1V693.4h1V694.8h1V694.7h1V696.3h1V697.2h1V699.3h1V698.7h1V699.7h1V700.2h1V702.3h1V699.9h1V704.2h1V704.9h1V705.4h1V708.0h1V710.9h1V700.2h1V691.6h1V691.8h1V692.1h1V692.6h1V690.6h1V692.3h1V692.9h1V692.8h1V694.0h1V693.0h1V694.2h1V695.1h1V693.7h1V694.2h1V694.2h1V695.2h1V693.1h1V693.9h1V695.0h1V696.2h1V696.2h1V695.3h1V697.4h1V696.5h1V693.4h1V697.2h1V698.1h1V697.2h1V696.2h1V697.2h1V698.0h1V698.9h1V697.5h1V695.3h1V697.7h1V698.9h1V697.9h1V698.8h1V698.1h1V698.7h1V698.4h1V698.2h1V700.9h1V701.1h1V700.7h1V700.2h1V701.8h1V700.5h1V701.3h1V702.0h1V701.4h1V702.6h1V701.5h1V701.6h1V702.0h1V701.1h1V701.4h1V703.0h1V701.2h1V703.6h1V703.1h1V704.0h1V703.8h1V703.8h1V704.9h1V703.5h1V703.6h1V704.7h1V703.4h1V704.9h1V704.7h1V703.8h1V703.3h1V702.8h1V706.0h1V703.4h1V703.8h1V705.5h1V705.3h1V705.2h1V705.2h1V704.9h1V704.6h1V704.9h1V706.1h1V706.5h1V706.7h1V705.9h1V704.2h1V706.5h1V706.1h1V704.2h1V707.5h1V706.7h1V706.6h1V706.9h1V706.9h1V707.2h1V707.2h1V707.2h1V707.7h1V707.7h1V709.4h1V707.7h1V707.3h1V707.3h1V708.2h1V708.1h1V708.3h1V708.1h1V708.2h1V708.9h1V709.4h1V708.5h1V708.1h1V707.2h1V707.2h1V708.1h1V707.9h1V707.9h1V707.1h1V707.8h1V706.3h1V706.9h1V707.2h1V708.3h1V707.3h1V705.7h1V707.9h1V707.5h1V708.3h1V707.8h1V707.7h1V707.3h1V708.0h1V706.8h1V706.1h1V708.0h1V706.1h1V705.6h1V705.2h1V704.6h1V700.6h1V701.2h1V702.2h1V698.9h1V701.7h1V702.0h1V702.6h1V704.2h1V703.9h1V706.6h1V708.2h1V707.3h1V709.0h1V711.6h1V712.1h1V712.6h1V714.1h1V711.7h1V713.0h1V713.4h1V713.1h1V714.1h1V712.2h1V713.7h1V713.1h1V714.8h1V714.8h1V713.5h1V713.3h1V714.2h1V713.7h1V714.0h1V714.9h1V714.3h1V716.2h1V714.9h1V714.5h1V714.1h1V714.7h1V716.1h1V715.8h1V716.6h1V714.5h1V716.1h1V715.1h1V715.7h1V716.0h1V714.7h1V716.3h1V715.3h1V716.1h1V715.9h1V716.8h1V718.5h1V715.5h1V716.5h1V718.2h1V715.9h1V716.6h1V716.7h1V717.1h1V715.6h1V717.3h1V717.6h1V719.2h1V717.2h1V716.8h1V717.5h1V715.3h1V717.8h1V718.8h1V717.6h1V714.6h1V717.6h1V718.0h1V716.9h1V719.2h1V717.7h1V717.8h1V719.5h1V718.3h1V718.0h1V719.7h1V718.6h1V719.3h1V718.1h1V717.3h1V718.9h1V720.0h1V718.5h1V719.2h1V719.6h1V719.3h1V717.4h1V719.8h1V719.4h1V718.8h1V720.1h1V719.9h1V719.5h1V719.8h1V717.1h1V719.4h1V719.3h1V717.6h1V720.9h1V719.5h1V718.9h1V718.9h1V719.4h1V719.2h1V717.9h1V718.9h1V719.6h1V719.7h1V719.9h1V718.4h1V718.7h1V719.5h1V718.7h1V708.9h1V702.9h1V704.0h1V703.6h1V704.0h1V703.6h1V702.9h1V702.6h1V703.6h1V703.1h1V702.4h1V703.1h1V701.5h1V704.6h1V704.2h1V704.7h1V703.3h1V703.4h1V702.8h1V702.9h1V704.9h1V704.1h1V704.5h1V706.2h1V705.9h1V703.8h1V705.5h1V700.8h1V705.9h1V703.8h1V704.8h1V705.0h1V707.5h1V704.7h1V707.2h1V707.3h1V706.8h1V708.1h1V710.3h1V709.2h1V709.6h1V711.7h1V708.6h1V711.2h1V713.1h1V711.3h1V713.6h1V714.5h1V715.5h1V711.6h1V714.2h1V712.9h1V709.8h1V710.1h1V709.5h1V707.1h1V706.9h1V706.2h1V703.5h1V703.5h1V700.7h1V702.1h1V699.8h1V699.1h1V698.7h1V698.8h1V701.0h1V699.2h1V699.4h1V699.4h1V698.4h1V700.2h1V697.5h1V700.1h1V698.7h1V699.3h1V699.4h1V699.7h1V696.2h1V695.8h1V698.8h1V698.6h1V698.4h1V699.5h1V698.9h1V699.4h1V699.0h1V696.6h1V696.0h1V698.9h1V693.9h1V696.5h1V695.9h1V699.3h1V696.9h1V697.7h1V693.0h1V697.7h1V698.6h1V696.2h1V697.4h1V695.0h1V696.1h1V697.0h1V697.8h1V698.9h1V699.0h1V698.0h1V696.7h1V696.5h1V698.2h1V698.3h1V697.5h1V698.4h1V700.2h1V699.9h1V699.8h1V699.3h1V698.6h1V699.0h1V699.2h1V699.4h1V698.9h1V698.6h1V700.3h1V699.1h1V700.2h1V699.4h1V700.2h1V700.2h1V700.4h1V700.5h1V699.2h1V699.0h1V700.1h1V701.6h1V699.6h1V699.0h1V701.2h1V697.5h1V698.3h1V698.5h1V698.2h1V698.3h1V699.7h1V699.0h1V699.0h1V697.4h1V699.5h1V698.9h1V698.9h1V699.5h1V699.1h1V698.8h1V699.1h1V698.2h1V698.1h1V697.7h1V699.6h1V698.3h1V698.9h1V699.7h1V700.3h1V698.5h1V701.7h-1V703.5h-1V702.9h-1V702.1h-1V701.5h-1V702.8h-1V700.9h-1V701.3h-1V701.4h-1V702.3h-1V702.0h-1V702.3h-1V702.7h-1V702.1h-1V702.1h-1V702.7h-1V700.6h-1V702.2h-1V702.2h-1V702.9h-1V701.5h-1V701.4h-1V701.7h-1V701.5h-1V700.7h-1V704.4h-1V702.2h-1V702.8h-1V704.8h-1V703.3h-1V702.2h-1V702.4h-1V703.7h-1V703.6h-1V703.4h-1V703.4h-1V702.6h-1V703.4h-1V702.3h-1V703.5h-1V701.8h-1V702.1h-1V702.6h-1V702.4h-1V702.2h-1V701.8h-1V702.5h-1V703.0h-1V703.1h-1V703.4h-1V701.6h-1V700.7h-1V701.5h-1V701.4h-1V699.7h-1V699.9h-1V701.2h-1V702.2h-1V702.1h-1V701.0h-1V700.2h-1V699.3h-1V698.2h-1V700.6h-1V699.4h-1V701.8h-1V700.9h-1V696.2h-1V700.9h-1V700.1h-1V702.5h-1V699.1h-1V699.7h-1V697.1h-1V702.1h-1V699.2h-1V699.8h-1V702.2h-1V702.6h-1V702.1h-1V702.7h-1V701.6h-1V701.8h-1V702.0h-1V699.0h-1V699.4h-1V702.9h-1V702.6h-1V702.5h-1V701.9h-1V703.3h-1V700.7h-1V703.4h-1V701.6h-1V702.6h-1V702.6h-1V702.4h-1V704.2h-1V702.0h-1V701.9h-1V702.3h-1V703.0h-1V705.3h-1V703.9h-1V706.7h-1V706.7h-1V709.4h-1V710.1h-1V710.3h-1V712.7h-1V713.3h-1V713.0h-1V716.1h-1V717.4h-1V714.8h-1V718.7h-1V717.7h-1V716.8h-1V714.5h-1V716.3h-1V714.4h-1V711.8h-1V714.9h-1V712.8h-1V712.4h-1V713.5h-1V711.3h-1V710.0h-1V710.5h-1V710.4h-1V707.9h-1V710.7h-1V708.2h-1V708.0h-1V707.0h-1V709.1h-1V704.0h-1V708.7h-1V707.0h-1V709.1h-1V709.4h-1V707.7h-1V707.3h-1V708.1h-1V706.1h-1V706.0h-1V706.6h-1V706.5h-1V707.9h-1V707.4h-1V707.8h-1V704.7h-1V706.3h-1V705.6h-1V706.3h-1V706.8h-1V705.8h-1V706.1h-1V706.8h-1V707.2h-1V706.8h-1V707.2h-1V706.1h-1V712.1h-1V721.9h-1V722.7h-1V721.9h-1V721.6h-1V723.1h-1V722.9h-1V722.8h-1V722.1h-1V721.1h-1V722.4h-1V722.6h-1V722.1h-1V722.1h-1V722.7h-1V724.1h-1V720.8h-1V722.5h-1V722.6h-1V720.3h-1V723.0h-1V722.7h-1V723.1h-1V723.3h-1V722.0h-1V722.6h-1V723.0h-1V720.6h-1V722.5h-1V722.8h-1V722.4h-1V721.7h-1V723.2h-1V722.1h-1V720.5h-1V721.3h-1V722.5h-1V721.8h-1V722.9h-1V721.2h-1V721.5h-1V722.7h-1V721.0h-1V720.9h-1V722.4h-1V720.1h-1V721.2h-1V720.8h-1V717.8h-1V720.8h-1V722.0h-1V721.0h-1V718.5h-1V720.7h-1V720.0h-1V720.4h-1V722.4h-1V720.8h-1V720.5h-1V718.8h-1V720.3h-1V719.9h-1V719.8h-1V719.1h-1V721.4h-1V719.7h-1V718.7h-1V721.7h-1V720.0h-1V719.1h-1V719.3h-1V718.5h-1V719.5h-1V717.9h-1V719.2h-1V718.9h-1V718.3h-1V719.3h-1V717.7h-1V719.8h-1V719.0h-1V719.3h-1V717.9h-1V717.3h-1V717.7h-1V718.1h-1V719.4h-1V717.5h-1V718.1h-1V717.2h-1V716.9h-1V717.4h-1V716.5h-1V716.7h-1V718.0h-1V718.0h-1V716.3h-1V716.9h-1V715.4h-1V717.3h-1V716.3h-1V716.6h-1V716.2h-1V714.9h-1V717.3h-1V715.8h-1V715.3h-1V714.8h-1V712.2h-1V710.5h-1V711.4h-1V709.8h-1V707.1h-1V707.4h-1V705.8h-1V705.2h-1V704.9h-1V702.1h-1V705.4h-1V704.4h-1V703.8h-1V707.8h-1V708.4h-1V708.8h-1V709.3h-1V711.2h-1V709.3h-1V710.0h-1V711.2h-1V710.5h-1V710.9h-1V711.0h-1V711.5h-1V710.7h-1V711.1h-1V708.9h-1V710.5h-1V711.5h-1V710.4h-1V710.1h-1V709.5h-1V711.0h-1V710.3h-1V711.1h-1V711.1h-1V711.3h-1V710.4h-1V710.4h-1V711.3h-1V711.7h-1V712.6h-1V712.1h-1V711.4h-1V711.3h-1V711.5h-1V711.3h-1V711.4h-1V710.5h-1V710.5h-1V710.9h-1V712.6h-1V710.9h-1V710.9h-1V710.4h-1V710.4h-1V710.4h-1V710.1h-1V710.1h-1V709.8h-1V709.9h-1V710.7h-1V707.4h-1V709.3h-1V709.7h-1V707.4h-1V709.1h-1V709.9h-1V709.7h-1V709.3h-1V708.1h-1V707.8h-1V708.1h-1V708.4h-1V708.4h-1V708.5h-1V708.7h-1V707.0h-1V706.6h-1V709.2h-1V706.0h-1V706.5h-1V707.0h-1V707.9h-1V708.1h-1V706.6h-1V707.9h-1V706.8h-1V706.7h-1V708.1h-1V707.0h-1V707.0h-1V707.2h-1V706.3h-1V706.8h-1V704.4h-1V706.2h-1V704.6h-1V704.3h-1V705.2h-1V704.8h-1V704.7h-1V705.8h-1V704.6h-1V705.2h-1V704.5h-1V703.7h-1V705.0h-1V703.4h-1V703.9h-1V704.3h-1V704.1h-1V701.4h-1V701.6h-1V701.9h-1V701.3h-1V702.0h-1V701.1h-1V702.1h-1V700.9h-1V698.5h-1V700.7h-1V702.1h-1V701.2h-1V700.4h-1V699.4h-1V700.4h-1V701.3h-1V700.4h-1V696.6h-1V699.7h-1V700.6h-1V698.5h-1V699.4h-1V699.4h-1V698.2h-1V697.1h-1V696.3h-1V698.4h-1V697.4h-1V697.4h-1V696.9h-1V698.3h-1V697.4h-1V696.2h-1V697.2h-1V696.0h-1V696.1h-1V695.5h-1V693.8h-1V695.8h-1V695.3h-1V695.0h-1V694.8h-1V703.4h-1V714.1h-1V711.2h-1V708.6h-1V708.1h-1V707.4h-1V703.1h-1V705.5h-1V703.4h-1V702.9h-1V701.9h-1V702.5h-1V700.4h-1V699.5h-1V697.9h-1V698.0h-1V696.6h-1V696.4h-1V696.0h-1V696.1h-1V697.1h-1V696.8h-1V697.6h-1V696.4h-1V698.2h-1V697.1h-1V696.4h-1V696.3h-1V696.6h-1V695.7h-1V697.2h-1V696.2h-1V698.1h-1V693.9h-1V690.6h-1V691.5h-1V690.8h-1V691.0h-1V691.9h-1V690.7h-1V691.1h-1V692.1h-1V691.9h-1V690.3h-1V692.4h-1V691.1h-1V692.0h-1V688.6h-1V692.4h-1V690.9h-1V690.8h-1V690.7h-1V691.0h-1V689.9h-1V692.1h-1V691.7h-1V691.3h-1V691.7h-1V692.4h-1V690.5h-1V690.4h-1V693.5h-1V691.0h-1V692.1h-1V692.4h-1V691.7h-1V691.9h-1V691.7h-1V691.7h-1V691.0h-1V692.5h-1V691.7h-1Z" fill="#a11500"/><path d="M894.5 699.7V699.7h1V700.0h1V701.2h1V701.0h1V699.8h1V700.4h1V699.9h1V700.7h1V700.1h1V702.0h1V700.7h1V700.1h1V699.4h1V699.2h1V697.2h1V701.0h1V701.6h1V697.1h1V700.9h1V699.3h1V697.9h1V700.8h1V700.5h1V700.1h1V699.9h1V700.0h1V698.7h1V699.1h1V699.4h1V700.4h1V700.3h1V700.9h1V700.4h1V700.3h1V700.5h1V701.1h1V700.0h1V699.6h1V700.3h1V700.2h1V700.9h1V700.6h1V700.5h1V701.2h1V700.6h1V700.8h1V700.0h1V701.6h1V700.9h1V699.6h1V699.6h1V701.8h1V700.5h1V701.7h1V702.3h1V698.5h1V696.6h1V695.0h1V693.6h1V692.8h1V695.7h1V693.5h1V693.9h1V695.2h1V694.0h1V694.6h1V694.0h1V692.7h1V693.0h1V693.7h1V692.7h1V694.2h1V693.7h1V692.0h1V693.6h1V692.8h1V692.8h1V693.4h1V691.2h1V691.8h1V692.6h1V692.1h1V695.3h1V692.6h1V697.1h1V697.8h1V697.7h1V699.2h1V699.5h1V702.6h1V702.0h1V703.4h1V704.2h1V703.9h1V704.4h1V707.1h1V709.0h1V709.4h1V709.7h1V710.8h1V710.5h1V712.1h1V711.9h1V712.0h1V713.7h1V711.9h1V711.8h1V712.6h1V712.6h1V712.7h1V713.9h1V714.1h1V712.5h1V713.5h1V713.9h1V717.1h-1V716.7h-1V715.7h-1V717.3h-1V717.1h-1V715.9h-1V715.8h-1V715.8h-1V715.0h-1V715.1h-1V716.9h-1V715.2h-1V715.1h-1V715.3h-1V713.7h-1V714.0h-1V712.9h-1V712.6h-1V712.2h-1V710.3h-1V707.6h-1V707.1h-1V707.4h-1V706.6h-1V705.2h-1V705.8h-1V702.7h-1V702.4h-1V700.9h-1V701.0h-1V700.3h-1V695.8h-1V698.5h-1V695.3h-1V695.8h-1V695.0h-1V694.4h-1V696.6h-1V696.0h-1V696.0h-1V696.8h-1V695.2h-1V696.9h-1V697.4h-1V695.9h-1V696.9h-1V696.2h-1V695.9h-1V697.2h-1V697.8h-1V697.2h-1V698.4h-1V697.1h-1V696.7h-1V698.9h-1V696.0h-1V696.8h-1V698.2h-1V699.8h-1V701.7h-1V705.5h-1V704.9h-1V703.7h-1V705.0h-1V702.8h-1V702.8h-1V704.1h-1V704.8h-1V703.2h-1V704.0h-1V703.8h-1V704.4h-1V703.7h-1V703.8h-1V704.1h-1V703.4h-1V703.5h-1V702.8h-1V703.2h-1V704.3h-1V703.7h-1V703.5h-1V703.6h-1V704.1h-1V703.5h-1V703.6h-1V702.6h-1V702.3h-1V701.9h-1V703.2h-1V703.1h-1V703.3h-1V703.7h-1V704.0h-1V701.1h-1V702.5h-1V704.1h-1V700.3h-1V704.8h-1V704.2h-1V700.4h-1V702.4h-1V702.6h-1V703.3h-1V703.9h-1V705.2h-1V703.3h-1V703.9h-1V703.1h-1V703.6h-1V703.0h-1V704.2h-1V704.4h-1V703.2h-1V702.9h-1Z" fill="#a11500"/><path d="M1045.5 702.5V702.5h1V702.3h1V702.3h1V701.5h1V703.9h1V701.8h1V701.7h1V703.3h1V702.7h1V702.8h1V704.4h1V702.4h1V702.0h1V702.4h1V698.7h1V703.4h1V703.6h1V704.2h1V702.9h1V703.7h1V706.9h-1V706.1h-1V707.4h-1V706.8h-1V706.6h-1V701.9h-1V705.6h-1V705.2h-1V705.6h-1V707.6h-1V706.0h-1V705.9h-1V706.5h-1V704.9h-1V705.0h-1V707.1h-1V704.7h-1V705.5h-1V705.5h-1V705.7h-1Z" fill="#a11500"/><path d="M1066.5 711.0V711.0h1V710.8h1V711.3h1V709.9h1V710.8h1V713.9h1V711.3h1V713.7h1V713.6h1V712.0h1V713.3h1V710.1h1V710.5h1V707.7h1V708.7h1V708.9h1V709.1h1V710.0h1V709.5h1V708.4h1V709.8h1V708.5h1V711.2h1V711.1h1V711.4h1V710.9h1V711.9h1V710.1h1V711.8h1V710.0h1V711.2h1V713.6h1V713.5h1V714.5h1V713.2h1V710.8h1V712.5h1V713.0h1V712.1h1V709.8h1V708.6h1V707.0h1V707.5h1V707.6h1V706.9h1V709.1h1V707.2h1V708.5h1V705.9h1V707.7h1V707.2h1V708.2h1V709.3h1V706.7h1V706.8h1V707.2h1V707.0h1V707.3h1V707.3h1V706.8h1V707.3h1V707.1h1V708.4h1V706.8h1V708.0h1V707.9h1V707.6h1V708.5h1V706.1h1V708.1h1V707.2h1V706.0h1V707.6h1V708.3h1V703.6h1V708.4h1V707.4h1V704.1h1V709.6h1V709.4h1V709.0h1V708.9h1V707.9h1V710.2h1V709.7h1V709.4h1V710.1h1V709.2h1V709.1h1V709.8h1V709.9h1V710.6h1V713.8h-1V713.1h-1V713.0h-1V712.3h-1V712.4h-1V713.3h-1V712.6h-1V712.9h-1V713.4h-1V711.1h-1V712.1h-1V712.2h-1V712.6h-1V712.8h-1V707.3h-1V710.6h-1V711.6h-1V706.8h-1V711.5h-1V710.8h-1V709.2h-1V710.4h-1V711.3h-1V709.3h-1V711.7h-1V710.8h-1V711.1h-1V711.2h-1V710.0h-1V711.6h-1V710.3h-1V710.5h-1V710.0h-1V710.5h-1V710.5h-1V710.2h-1V710.4h-1V710.0h-1V709.9h-1V712.5h-1V711.4h-1V710.4h-1V710.9h-1V709.1h-1V711.7h-1V710.4h-1V712.3h-1V710.1h-1V710.8h-1V710.7h-1V710.2h-1V711.8h-1V713.0h-1V715.3h-1V716.2h-1V715.7h-1V714.0h-1V716.4h-1V717.7h-1V716.7h-1V716.8h-1V714.4h-1V713.2h-1V715.0h-1V713.3h-1V715.1h-1V714.1h-1V714.6h-1V714.3h-1V714.4h-1V711.7h-1V713.0h-1V711.6h-1V712.7h-1V713.2h-1V712.3h-1V712.1h-1V711.9h-1V710.9h-1V713.7h-1V713.3h-1V716.5h-1V715.2h-1V716.8h-1V716.9h-1V714.5h-1V717.1h-1V714.0h-1V713.1h-1V714.5h-1V714.0h-1V714.2h-1Z" fill="#a11500"/><path d="M1160.5 713.8V713.8h1V715.1h1V713.5h1V713.2h1V715.7h1V714.0h1V715.6h1V715.1h1V714.6h1V713.7h1V715.2h1V714.7h1V712.7h1V713.7h1V714.0h1V713.4h1V712.8h1V714.7h1V713.6h1V714.0h1V711.6h1V714.2h1V713.8h1V714.6h1V715.3h1V713.3h1V713.9h1V714.2h1V715.2h1V714.2h1V712.0h1V715.0h1V714.2h1V713.4h1V714.5h1V717.7h-1V716.6h-1V717.4h-1V718.2h-1V715.2h-1V717.4h-1V718.4h-1V717.4h-1V717.1h-1V716.5h-1V718.5h-1V717.8h-1V717.0h-1V717.4h-1V714.8h-1V717.2h-1V716.8h-1V717.9h-1V716.0h-1V716.6h-1V717.2h-1V716.9h-1V715.9h-1V717.9h-1V718.4h-1V716.9h-1V717.8h-1V718.3h-1V718.8h-1V717.2h-1V718.9h-1V716.4h-1V716.7h-1V718.3h-1V717.0h-1Z" fill="#a11500"/><path d="M90.5 726.0V726.0h1V727.1h1V724.2h1V726.0h1V723.6h1V725.7h1V726.7h1V731.0h-1V730.9h-1V732.1h-1V730.9h-1V731.4h-1V731.5h-1V729.7h-1Z" fill="#d50800"/><path d="M101.5 723.9V723.9h1V723.0h1V722.9h1V722.7h1V721.3h1V721.8h1V723.7h1V723.2h1V722.9h1V732.7h-1V733.4h-1V732.8h-1V732.4h-1V733.3h-1V732.3h-1V733.3h-1V732.6h-1V733.5h-1Z" fill="#d50800"/><path d="M110.5 714.7V714.7h1V712.0h1V716.7h1V714.3h1V714.2h1V714.2h1V717.1h1V715.3h1V715.5h1V714.9h1V714.7h1V713.9h1V715.6h1V731.4h-1V730.1h-1V729.6h-1V731.6h-1V731.4h-1V731.6h-1V731.4h-1V730.7h-1V730.5h-1V729.9h-1V729.7h-1V728.9h-1V730.7h-1Z" fill="#d50800"/><path d="M124.5 713.6V713.6h1V713.2h1V712.2h1V714.6h1V713.3h1V713.5h1V714.5h1V713.2h1V714.1h1V714.0h1V714.7h1V728.8h-1V729.9h-1V729.2h-1V728.0h-1V729.6h-1V728.8h-1V729.1h-1V728.9h-1V729.7h-1V728.3h-1V729.8h-1Z" fill="#d50800"/><path d="M136.5 720.9V720.9h1V720.5h1V722.8h1V723.2h1V720.9h1V721.0h1V724.0h1V721.6h1V727.7h-1V728.5h-1V729.0h-1V728.6h-1V728.5h-1V729.6h-1V727.5h-1V726.4h-1Z" fill="#d50800"/><path d="M145.5 714.0V714.0h1V713.8h1V713.5h1V714.6h1V715.3h1V713.6h1V713.7h1V715.1h1V712.9h1V713.6h1V713.8h1V714.2h1V713.9h1V713.4h1V714.3h1V713.1h1V712.7h1V712.5h1V714.7h1V712.7h1V714.5h1V714.6h1V714.7h1V714.0h1V713.7h1V714.2h1V713.6h1V708.6h1V706.2h1V702.3h1V704.4h1V703.4h1V702.6h1V703.4h1V704.0h1V701.9h1V702.3h1V702.2h1V703.1h1V703.3h1V703.0h1V702.4h1V702.6h1V703.9h1V703.9h1V703.1h1V702.0h1V703.5h1V703.2h1V703.2h1V704.4h1V703.7h1V702.2h1V702.2h1V704.1h1V703.2h1V703.7h1V702.9h1V700.8h1V703.3h1V700.5h1V695.8h1V691.3h1V693.0h1V695.2h1V693.4h1V696.4h1V697.1h1V695.8h1V695.2h1V695.6h1V695.6h1V695.2h1V695.6h1V695.6h1V694.6h1V696.0h1V695.3h1V694.8h1V696.0h1V695.2h1V697.0h1V696.0h1V695.6h1V695.0h1V695.2h1V694.2h1V695.0h1V696.2h1V693.9h1V695.7h1V696.2h1V695.8h1V695.6h1V696.4h1V694.9h1V694.8h1V695.6h1V696.5h1V695.9h1V695.4h1V695.8h1V695.9h1V694.6h1V690.5h1V694.7h1V694.4h1V695.1h1V694.6h1V694.9h1V692.9h1V689.6h1V686.5h1V687.9h1V686.1h1V686.1h1V687.4h1V685.5h1V685.0h1V687.3h1V686.5h1V686.7h1V686.7h1V686.8h1V685.7h1V686.0h1V685.1h1V686.1h1V686.1h1V685.5h1V686.4h1V688.2h1V684.8h1V686.4h1V686.4h1V686.5h1V685.0h1V689.1h1V691.1h1V688.5h1V686.3h1V686.8h1V687.4h1V687.3h1V688.4h1V686.3h1V687.1h1V686.3h1V687.2h1V686.7h1V686.1h1V685.6h1V686.0h1V684.3h1V682.8h1V682.2h1V680.7h1V681.2h1V681.6h1V681.5h1V681.7h1V682.2h1V686.3h1V690.0h1V689.0h1V690.3h1V689.2h1V690.4h1V690.8h1V689.5h1V690.4h1V690.2h1V692.0h1V690.9h1V689.0h1V690.8h1V690.8h1V689.3h1V685.3h1V688.9h1V689.0h1V688.8h1V687.7h1V688.2h1V687.2h1V687.2h1V688.0h1V687.6h1V688.1h1V690.4h1V693.3h1V696.7h1V695.8h1V697.0h1V696.7h1V696.2h1V695.3h1V697.9h1V698.8h1V701.0h1V698.9h1V698.9h1V699.3h1V698.9h1V698.6h1V699.2h1V715.4h-1V715.7h-1V715.6h-1V716.2h-1V716.1h-1V714.5h-1V715.7h-1V714.9h-1V714.2h-1V714.4h-1V716.6h-1V714.6h-1V714.2h-1V714.2h-1V714.0h-1V712.4h-1V707.1h-1V707.7h-1V706.4h-1V707.4h-1V706.1h-1V706.0h-1V705.1h-1V706.6h-1V706.5h-1V705.8h-1V705.9h-1V705.7h-1V711.3h-1V716.6h-1V717.1h-1V718.3h-1V718.7h-1V716.5h-1V718.8h-1V717.9h-1V719.2h-1V718.8h-1V717.5h-1V716.8h-1V718.7h-1V717.4h-1V717.8h-1V709.6h-1V702.5h-1V701.6h-1V701.2h-1V701.8h-1V701.7h-1V702.6h-1V701.5h-1V702.3h-1V703.3h-1V704.7h-1V705.6h-1V706.5h-1V706.2h-1V705.5h-1V706.2h-1V705.0h-1V705.5h-1V706.2h-1V706.3h-1V705.9h-1V706.0h-1V705.8h-1V707.7h-1V712.9h-1V708.7h-1V706.2h-1V705.3h-1V705.5h-1V706.7h-1V705.4h-1V706.1h-1V704.5h-1V704.2h-1V705.7h-1V705.7h-1V705.7h-1V707.4h-1V706.1h-1V706.5h-1V706.1h-1V705.7h-1V706.7h-1V706.0h-1V704.9h-1V706.6h-1V705.9h-1V707.0h-1V705.9h-1V706.7h-1V707.6h-1V710.4h-1V714.6h-1V717.8h-1V717.5h-1V718.1h-1V718.3h-1V718.8h-1V715.9h-1V717.3h-1V718.1h-1V718.2h-1V717.5h-1V718.6h-1V717.7h-1V719.2h-1V718.4h-1V718.9h-1V718.4h-1V718.2h-1V717.5h-1V718.7h-1V717.4h-1V717.6h-1V718.8h-1V720.7h-1V718.2h-1V718.3h-1V718.1h-1V717.5h-1V717.8h-1V718.2h-1V718.3h-1V716.7h-1V719.0h-1V719.1h-1V718.2h-1V718.8h-1V718.8h-1V718.1h-1V717.4h-1V718.7h-1V717.5h-1V718.1h-1V717.3h-1V717.7h-1V719.8h-1V718.9h-1V718.7h-1V718.1h-1V718.2h-1V717.7h-1V719.5h-1V717.7h-1V719.5h-1V719.2h-1V718.9h-1V719.6h-1V720.2h-1V723.4h-1V718.6h-1V718.9h-1V718.5h-1V719.8h-1V716.9h-1V718.2h-1V720.1h-1V720.5h-1V717.9h-1V719.5h-1V720.4h-1V718.3h-1V718.1h-1V717.9h-1V718.9h-1V719.9h-1V717.4h-1V718.8h-1V718.8h-1V719.6h-1V719.7h-1V718.4h-1V718.3h-1V719.8h-1V721.9h-1V727.1h-1V733.6h-1V734.3h-1V734.2h-1V732.7h-1V733.1h-1V732.2h-1V733.1h-1V734.4h-1V732.7h-1V733.6h-1V732.1h-1V731.7h-1V736.0h-1V731.5h-1V733.5h-1V733.2h-1V733.6h-1V732.8h-1V733.9h-1V733.3h-1V733.3h-1V732.9h-1V732.1h-1V731.9h-1V731.8h-1V732.7h-1V733.8h-1Z" fill="#d50800"/><path d="M365.5 690.7V690.7h1V691.5h1V690.0h1V690.7h1V690.7h1V690.9h1V690.7h1V691.4h1V691.1h1V690.0h1V692.5h1V689.4h1V689.5h1V691.4h1V690.7h1V690.3h1V690.7h1V691.1h1V688.9h1V690.0h1V689.7h1V689.8h1V689.9h1V691.4h1V687.6h1V691.0h1V690.1h1V691.4h1V689.3h1V690.9h1V691.1h1V690.1h1V689.7h1V690.9h1V690.0h1V689.8h1V690.5h1V689.6h1V692.9h1V697.1h1V695.2h1V696.2h1V694.7h1V695.6h1V695.3h1V695.4h1V696.1h1V697.2h1V695.4h1V696.6h1V695.8h1V696.1h1V695.1h1V695.0h1V695.4h1V695.6h1V697.0h1V696.9h1V698.5h1V699.4h1V701.5h1V700.9h1V701.9h1V702.4h1V704.5h1V702.1h1V706.4h1V707.1h1V707.6h1V710.2h1V713.1h1V702.4h1V693.8h1V694.0h1V694.3h1V694.8h1V692.8h1V694.5h1V695.1h1V695.0h1V696.2h1V695.2h1V696.4h1V697.3h1V695.9h1V696.4h1V696.4h1V697.4h1V695.3h1V696.1h1V697.2h1V698.4h1V698.4h1V697.5h1V699.6h1V698.7h1V695.6h1V699.4h1V700.3h1V699.4h1V698.4h1V699.4h1V700.2h1V701.1h1V699.7h1V697.5h1V699.9h1V701.1h1V700.1h1V701.0h1V700.3h1V700.9h1V700.6h1V700.4h1V703.1h1V703.3h1V702.9h1V702.4h1V704.0h1V702.7h1V703.5h1V704.2h1V703.6h1V704.8h1V703.7h1V703.8h1V704.2h1V703.3h1V703.6h1V705.2h1V703.4h1V705.8h1V705.3h1V706.2h1V706.0h1V706.0h1V707.1h1V705.7h1V705.8h1V706.9h1V705.6h1V707.1h1V706.9h1V706.0h1V705.5h1V705.0h1V708.2h1V705.6h1V706.0h1V707.7h1V707.5h1V707.4h1V707.4h1V707.1h1V706.8h1V707.1h1V708.3h1V708.7h1V708.9h1V708.1h1V706.4h1V708.7h1V708.3h1V706.4h1V709.7h1V708.9h1V708.8h1V709.1h1V709.1h1V709.4h1V709.4h1V709.4h1V709.9h1V709.9h1V711.6h1V709.9h1V709.5h1V709.5h1V710.4h1V710.3h1V710.5h1V710.3h1V710.4h1V711.1h1V711.6h1V710.7h1V710.3h1V709.4h1V709.4h1V710.3h1V710.1h1V710.1h1V709.3h1V710.0h1V708.5h1V709.1h1V709.4h1V710.5h1V709.5h1V707.9h1V710.1h1V709.7h1V710.5h1V710.0h1V709.9h1V709.5h1V710.2h1V709.0h1V708.3h1V710.2h1V708.3h1V707.8h1V707.4h1V706.8h1V702.8h1V703.4h1V704.4h1V701.1h1V703.9h1V704.2h1V704.8h1V706.4h1V706.1h1V708.8h1V710.4h1V709.5h1V711.2h1V713.8h1V714.3h1V714.8h1V716.3h1V713.9h1V715.2h1V715.6h1V715.3h1V716.3h1V714.4h1V715.9h1V715.3h1V717.0h1V717.0h1V715.7h1V715.5h1V716.4h1V715.9h1V716.2h1V717.1h1V716.5h1V718.4h1V717.1h1V716.7h1V716.3h1V716.9h1V718.3h1V718.0h1V718.8h1V716.7h1V718.3h1V717.3h1V717.9h1V718.2h1V716.9h1V718.5h1V717.5h1V718.3h1V718.1h1V719.0h1V720.7h1V717.7h1V718.7h1V720.4h1V718.1h1V718.8h1V718.9h1V719.3h1V717.8h1V719.5h1V719.8h1V721.4h1V719.4h1V719.0h1V719.7h1V717.5h1V720.0h1V721.0h1V719.8h1V716.8h1V719.8h1V720.2h1V719.1h1V721.4h1V719.9h1V720.0h1V721.7h1V720.5h1V720.2h1V721.9h1V720.8h1V721.5h1V720.3h1V719.5h1V721.1h1V722.2h1V720.7h1V721.4h1V721.8h1V721.5h1V719.6h1V722.0h1V721.6h1V721.0h1V722.3h1V722.1h1V721.7h1V722.0h1V719.3h1V721.6h1V721.5h1V719.8h1V723.1h1V721.7h1V721.1h1V721.1h1V721.6h1V721.4h1V720.1h1V721.1h1V721.8h1V721.9h1V722.1h1V720.6h1V720.9h1V721.7h1V720.9h1V711.1h1V705.1h1V706.2h1V705.8h1V706.2h1V705.8h1V705.1h1V704.8h1V705.8h1V705.3h1V704.6h1V705.3h1V703.7h1V706.8h1V706.4h1V706.9h1V705.5h1V705.6h1V705.0h1V705.1h1V707.1h1V706.3h1V706.7h1V708.4h1V708.1h1V706.0h1V707.7h1V703.0h1V708.1h1V706.0h1V707.0h1V707.2h1V709.7h1V706.9h1V709.4h1V709.5h1V709.0h1V710.3h1V712.5h1V711.4h1V711.8h1V713.9h1V710.8h1V713.4h1V715.3h1V713.5h1V715.8h1V716.7h1V717.7h1V713.8h1V716.4h1V715.1h1V712.0h1V712.3h1V711.7h1V709.3h1V709.1h1V708.4h1V705.7h1V705.7h1V702.9h1V704.3h1V702.0h1V701.3h1V700.9h1V701.0h1V703.2h1V701.4h1V701.6h1V701.6h1V700.6h1V702.4h1V699.7h1V702.3h1V700.9h1V701.5h1V701.6h1V701.9h1V698.4h1V698.0h1V701.0h1V700.8h1V700.6h1V701.7h1V701.1h1V701.6h1V701.2h1V698.8h1V698.2h1V701.1h1V696.1h1V698.7h1V698.1h1V701.5h1V699.1h1V699.9h1V695.2h1V699.9h1V700.8h1V698.4h1V699.6h1V697.2h1V698.3h1V699.2h1V700.0h1V701.1h1V701.2h1V700.2h1V698.9h1V698.7h1V700.4h1V700.5h1V699.7h1V700.6h1V702.4h1V702.1h1V702.0h1V701.5h1V700.8h1V701.2h1V701.4h1V701.6h1V701.1h1V700.8h1V702.5h1V701.3h1V702.4h1V701.6h1V702.4h1V702.4h1V702.6h1V702.7h1V701.4h1V701.2h1V702.3h1V703.8h1V701.8h1V701.2h1V703.4h1V699.7h1V700.5h1V700.7h1V700.4h1V700.5h1V701.9h1V701.2h1V701.2h1V699.6h1V701.7h1V701.1h1V701.1h1V701.7h1V701.3h1V701.0h1V701.3h1V700.4h1V700.3h1V699.9h1V701.8h1V700.5h1V701.1h1V701.9h1V702.5h1V700.7h1V710.7h-1V710.4h-1V710.4h-1V712.2h-1V711.2h-1V710.3h-1V710.7h-1V710.7h-1V711.3h-1V712.5h-1V710.5h-1V710.6h-1V710.5h-1V710.2h-1V710.3h-1V711.4h-1V711.5h-1V710.3h-1V711.5h-1V710.4h-1V711.5h-1V710.3h-1V710.6h-1V711.7h-1V709.5h-1V714.3h-1V717.1h-1V720.6h-1V718.2h-1V721.3h-1V718.7h-1V718.7h-1V719.4h-1V719.9h-1V718.4h-1V718.8h-1V717.2h-1V718.9h-1V718.3h-1V718.6h-1V719.1h-1V717.5h-1V718.7h-1V717.9h-1V718.8h-1V718.1h-1V719.8h-1V716.2h-1V718.0h-1V717.9h-1V719.1h-1V718.6h-1V717.4h-1V719.0h-1V720.7h-1V718.3h-1V716.6h-1V717.1h-1V717.1h-1V717.1h-1V718.8h-1V717.3h-1V718.4h-1V717.5h-1V717.3h-1V718.1h-1V717.1h-1V716.9h-1V718.0h-1V718.0h-1V719.5h-1V718.4h-1V718.0h-1V718.7h-1V719.5h-1V718.4h-1V718.9h-1V720.6h-1V718.9h-1V719.5h-1V720.2h-1V721.1h-1V720.1h-1V719.9h-1V720.3h-1V719.1h-1V719.7h-1V719.6h-1V720.1h-1V720.6h-1V720.1h-1V719.9h-1V721.2h-1V720.5h-1V720.4h-1V719.6h-1V721.9h-1V721.1h-1V722.1h-1V721.4h-1V721.5h-1V721.8h-1V723.2h-1V723.5h-1V724.1h-1V727.8h-1V727.0h-1V726.2h-1V726.5h-1V727.5h-1V729.1h-1V729.3h-1V731.6h-1V731.7h-1V731.7h-1V731.9h-1V732.5h-1V732.7h-1V731.1h-1V729.0h-1V730.8h-1V730.9h-1V729.6h-1V729.8h-1V727.4h-1V729.8h-1V727.1h-1V730.4h-1V726.5h-1V725.3h-1V725.3h-1V724.1h-1V724.4h-1V724.9h-1V723.7h-1V724.9h-1V723.2h-1V721.9h-1V722.7h-1V724.2h-1V721.8h-1V721.5h-1V721.3h-1V720.9h-1V721.8h-1V721.7h-1V722.9h-1V721.6h-1V721.6h-1V723.1h-1V721.5h-1V721.8h-1V722.8h-1V722.7h-1V722.6h-1V723.6h-1V723.7h-1V722.3h-1V724.5h-1V723.6h-1V723.6h-1V722.5h-1V722.9h-1V731.0h-1V743.6h-1V743.2h-1V744.6h-1V742.4h-1V742.4h-1V743.4h-1V741.9h-1V743.3h-1V742.8h-1V743.9h-1V742.0h-1V745.8h-1V744.2h-1V743.7h-1V742.8h-1V746.0h-1V746.3h-1V746.8h-1V748.4h-1V746.0h-1V747.2h-1V743.7h-1V742.9h-1V738.4h-1V736.0h-1V736.0h-1V733.9h-1V734.2h-1V735.3h-1V734.2h-1V734.7h-1V733.9h-1V733.7h-1V733.3h-1V734.0h-1V734.7h-1V734.1h-1V736.9h-1V733.0h-1V733.6h-1V734.3h-1V733.4h-1V733.6h-1V733.0h-1V733.4h-1V735.7h-1V733.4h-1V731.8h-1V732.1h-1V731.9h-1V733.5h-1V732.7h-1V733.3h-1V731.8h-1V732.3h-1V731.3h-1V731.7h-1V731.8h-1V731.2h-1V731.1h-1V731.9h-1V732.7h-1V732.4h-1V735.6h-1V732.6h-1V734.5h-1V730.5h-1V731.1h-1V731.6h-1V732.9h-1V732.6h-1V732.2h-1V730.4h-1V732.0h-1V731.0h-1V731.3h-1V730.9h-1V730.3h-1V731.8h-1V730.9h-1V730.1h-1V732.5h-1V730.5h-1V733.3h-1V730.7h-1V731.5h-1V730.6h-1V730.8h-1V730.5h-1V730.9h-1V731.3h-1V730.3h-1V729.9h-1V730.6h-1V730.4h-1V728.8h-1V731.3h-1V730.5h-1V730.3h-1V729.6h-1V729.0h-1V731.4h-1V730.9h-1V731.1h-1V730.8h-1V730.5h-1V729.5h-1V727.6h-1V726.7h-1V726.5h-1V726.2h-1V725.2h-1V724.4h-1V723.6h-1V724.3h-1V724.4h-1V725.5h-1V724.4h-1V723.9h-1V724.5h-1V725.8h-1V725.4h-1V725.9h-1V724.7h-1V725.3h-1V724.2h-1V726.1h-1V724.0h-1V725.9h-1V726.2h-1V726.1h-1V726.9h-1V725.7h-1V727.4h-1V725.1h-1V724.9h-1V724.6h-1V725.7h-1V725.8h-1V724.6h-1V726.1h-1V727.0h-1V726.1h-1V727.3h-1V726.7h-1V727.4h-1V726.2h-1V727.0h-1V726.6h-1V726.6h-1V726.4h-1V726.3h-1V726.0h-1V725.1h-1V725.7h-1V725.4h-1V726.2h-1V725.5h-1V726.9h-1V725.3h-1V725.0h-1V725.2h-1V724.3h-1V725.2h-1V725.9h-1V723.8h-1V721.9h-1V724.8h-1V723.8h-1V724.2h-1V723.4h-1V723.3h-1V723.8h-1V722.8h-1V722.9h-1V721.8h-1V722.7h-1V723.0h-1V723.5h-1V721.1h-1V721.1h-1V722.2h-1V724.1h-1V722.2h-1V722.2h-1V722.6h-1V720.6h-1V721.4h-1V721.9h-1V720.3h-1V721.5h-1V721.9h-1V722.3h-1V721.9h-1V720.1h-1V722.4h-1V721.5h-1V721.0h-1V718.8h-1V720.0h-1V719.9h-1V721.1h-1V719.1h-1V719.3h-1V720.5h-1V718.1h-1V718.2h-1V718.1h-1V716.6h-1V717.8h-1V717.7h-1V716.2h-1V717.6h-1V717.1h-1V716.9h-1V716.9h-1V716.1h-1V715.9h-1V715.5h-1V716.2h-1V713.3h-1V715.5h-1V715.0h-1V713.9h-1V713.6h-1V713.5h-1V712.9h-1V712.4h-1V713.3h-1V713.0h-1V714.4h-1V711.7h-1V711.4h-1V713.0h-1V712.1h-1V714.1h-1V712.4h-1V713.5h-1V713.4h-1V710.9h-1V711.6h-1V712.0h-1V713.2h-1V712.0h-1V711.7h-1V712.0h-1V717.3h-1V712.5h-1V713.4h-1V712.5h-1V711.8h-1V712.0h-1V711.8h-1V710.6h-1V711.0h-1V712.2h-1V712.4h-1V711.6h-1V712.3h-1V712.1h-1V711.2h-1V712.4h-1V719.5h-1V728.7h-1V728.9h-1V728.7h-1V727.4h-1V723.9h-1V724.4h-1V724.7h-1V722.6h-1V722.1h-1V720.0h-1V720.3h-1V719.0h-1V717.7h-1V716.9h-1V713.8h-1V712.5h-1V713.9h-1V713.8h-1V712.1h-1V711.0h-1V711.4h-1V713.8h-1V713.4h-1V714.5h-1V712.1h-1V712.0h-1V712.2h-1V712.1h-1V713.8h-1V712.5h-1V712.0h-1V713.6h-1V709.6h-1V707.4h-1V708.9h-1V708.6h-1V708.3h-1V709.6h-1V707.9h-1V708.7h-1V708.4h-1V708.6h-1V708.1h-1V706.5h-1V708.2h-1V707.9h-1V708.6h-1V708.6h-1V706.2h-1V707.9h-1V707.0h-1V706.8h-1V708.0h-1V708.1h-1V707.4h-1V708.7h-1V708.4h-1V708.6h-1V709.2h-1V707.0h-1V708.2h-1V709.1h-1V709.4h-1V708.6h-1V709.4h-1V708.0h-1V710.3h-1V707.6h-1V706.9h-1V708.1h-1V708.1h-1Z" fill="#d50800"/><path d="M894.5 701.9V701.9h1V702.2h1V703.4h1V703.2h1V702.0h1V702.6h1V702.1h1V702.9h1V702.3h1V704.2h1V702.9h1V702.3h1V701.6h1V701.4h1V699.4h1V703.2h1V703.8h1V699.3h1V703.1h1V701.5h1V700.1h1V703.0h1V702.7h1V702.3h1V702.1h1V702.2h1V700.9h1V701.3h1V701.6h1V702.6h1V702.5h1V703.1h1V702.6h1V702.5h1V702.7h1V703.3h1V702.2h1V701.8h1V702.5h1V702.4h1V703.1h1V702.8h1V702.7h1V703.4h1V702.8h1V703.0h1V702.2h1V703.8h1V703.1h1V701.8h1V701.8h1V704.0h1V702.7h1V703.9h1V704.5h1V700.7h1V698.8h1V697.2h1V695.8h1V695.0h1V697.9h1V695.7h1V696.1h1V697.4h1V696.2h1V696.8h1V696.2h1V694.9h1V695.2h1V695.9h1V694.9h1V696.4h1V695.9h1V694.2h1V695.8h1V695.0h1V695.0h1V695.6h1V693.4h1V694.0h1V694.8h1V694.3h1V697.5h1V694.8h1V699.3h1V700.0h1V699.9h1V701.4h1V701.7h1V704.8h1V704.2h1V705.6h1V706.4h1V706.1h1V706.6h1V709.3h1V711.2h1V711.6h1V711.9h1V713.0h1V712.7h1V714.3h1V714.1h1V714.2h1V715.9h1V714.1h1V714.0h1V714.8h1V714.8h1V714.9h1V716.1h1V716.3h1V714.7h1V715.7h1V716.1h1V737.1h-1V736.7h-1V735.5h-1V735.4h-1V737.9h-1V736.8h-1V737.0h-1V734.9h-1V735.7h-1V734.6h-1V735.2h-1V735.3h-1V735.1h-1V735.2h-1V733.7h-1V734.6h-1V733.9h-1V732.0h-1V729.8h-1V730.8h-1V727.9h-1V726.1h-1V723.9h-1V724.6h-1V723.5h-1V721.5h-1V720.6h-1V719.2h-1V718.8h-1V716.4h-1V715.7h-1V715.1h-1V713.8h-1V713.9h-1V710.7h-1V710.4h-1V711.7h-1V710.4h-1V710.7h-1V711.6h-1V711.0h-1V711.4h-1V712.3h-1V713.2h-1V713.2h-1V713.6h-1V715.1h-1V712.4h-1V712.0h-1V712.2h-1V712.0h-1V714.7h-1V713.5h-1V717.2h-1V715.1h-1V713.7h-1V714.7h-1V715.7h-1V712.9h-1V711.6h-1V710.8h-1V710.4h-1V712.0h-1V710.1h-1V709.6h-1V712.3h-1V710.9h-1V711.2h-1V710.3h-1V710.7h-1V712.2h-1V711.2h-1V711.9h-1V711.4h-1V710.5h-1V711.3h-1V709.7h-1V710.2h-1V710.6h-1V711.9h-1V710.8h-1V711.8h-1V710.5h-1V711.0h-1V710.6h-1V711.6h-1V711.9h-1V709.2h-1V710.7h-1V710.9h-1V711.2h-1V711.1h-1V710.5h-1V709.8h-1V712.0h-1V711.6h-1V712.1h-1V711.0h-1V711.9h-1V711.2h-1V710.0h-1V710.5h-1V711.3h-1V711.7h-1V710.4h-1V711.4h-1V710.6h-1V711.0h-1V711.2h-1V710.5h-1V710.5h-1V711.4h-1V711.1h-1V711.5h-1V709.5h-1Z" fill="#d50800"/><path d="M1045.5 704.7V704.7h1V704.5h1V704.5h1V703.7h1V706.1h1V704.0h1V703.9h1V705.5h1V704.9h1V705.0h1V706.6h1V704.6h1V704.2h1V704.6h1V700.9h1V705.6h1V705.8h1V706.4h1V705.1h1V705.9h1V722.2h-1V720.7h-1V720.8h-1V720.1h-1V719.2h-1V720.6h-1V721.7h-1V720.3h-1V721.1h-1V719.9h-1V722.4h-1V721.2h-1V720.3h-1V720.3h-1V720.7h-1V722.4h-1V720.1h-1V721.1h-1V720.6h-1V720.2h-1Z" fill="#d50800"/><path d="M1066.5 713.2V713.2h1V713.0h1V713.5h1V712.1h1V713.0h1V716.1h1V713.5h1V715.9h1V715.8h1V714.2h1V715.5h1V712.3h1V712.7h1V709.9h1V710.9h1V711.1h1V711.3h1V712.2h1V711.7h1V710.6h1V712.0h1V710.7h1V713.4h1V713.3h1V713.6h1V713.1h1V714.1h1V712.3h1V714.0h1V712.2h1V713.4h1V715.8h1V715.7h1V716.7h1V715.4h1V713.0h1V714.7h1V715.2h1V714.3h1V712.0h1V710.8h1V709.2h1V709.7h1V709.8h1V709.1h1V711.3h1V709.4h1V710.7h1V708.1h1V709.9h1V709.4h1V710.4h1V711.5h1V708.9h1V709.0h1V709.4h1V709.2h1V709.5h1V709.5h1V709.0h1V709.5h1V709.3h1V710.6h1V709.0h1V710.2h1V710.1h1V709.8h1V710.7h1V708.3h1V710.3h1V709.4h1V708.2h1V709.8h1V710.5h1V705.8h1V710.6h1V709.6h1V706.3h1V711.8h1V711.6h1V711.2h1V711.1h1V710.1h1V712.4h1V711.9h1V711.6h1V712.3h1V711.4h1V711.3h1V712.0h1V712.1h1V712.8h1V741.4h-1V739.2h-1V739.4h-1V738.7h-1V739.0h-1V737.9h-1V738.6h-1V739.1h-1V737.6h-1V735.9h-1V736.5h-1V736.3h-1V737.0h-1V737.1h-1V736.4h-1V735.7h-1V734.9h-1V734.9h-1V734.0h-1V733.4h-1V734.5h-1V734.3h-1V731.8h-1V732.6h-1V732.4h-1V730.9h-1V731.2h-1V730.8h-1V730.4h-1V730.3h-1V730.7h-1V732.7h-1V730.4h-1V728.7h-1V731.6h-1V730.7h-1V729.6h-1V730.3h-1V731.3h-1V731.1h-1V729.8h-1V730.8h-1V729.5h-1V729.8h-1V729.5h-1V729.1h-1V729.2h-1V729.1h-1V728.5h-1V727.2h-1V728.7h-1V730.1h-1V729.1h-1V733.2h-1V731.0h-1V732.0h-1V732.2h-1V732.8h-1V730.3h-1V731.1h-1V730.7h-1V729.9h-1V731.8h-1V728.4h-1V729.0h-1V730.1h-1V728.4h-1V727.6h-1V726.9h-1V728.0h-1V727.9h-1V725.9h-1V726.6h-1V729.3h-1V725.0h-1V726.5h-1V724.0h-1V723.3h-1V723.7h-1V727.6h-1V726.9h-1V727.3h-1V730.9h-1V729.7h-1V729.4h-1V728.9h-1V727.0h-1V728.3h-1V728.4h-1V727.1h-1V728.0h-1V725.7h-1Z" fill="#d50800"/><path d="M1160.5 716.0V716.0h1V717.3h1V715.7h1V715.4h1V717.9h1V716.2h1V717.8h1V717.3h1V716.8h1V715.9h1V717.4h1V716.9h1V714.9h1V715.9h1V716.2h1V715.6h1V715.0h1V716.9h1V715.8h1V716.2h1V713.8h1V716.4h1V716.0h1V716.8h1V717.5h1V715.5h1V716.1h1V716.4h1V717.4h1V716.4h1V714.2h1V717.2h1V716.4h1V715.6h1V716.7h1V735.9h-1V736.0h-1V736.3h-1V736.0h-1V736.6h-1V736.8h-1V735.6h-1V736.1h-1V736.3h-1V736.1h-1V736.2h-1V735.6h-1V736.3h-1V737.6h-1V735.1h-1V736.4h-1V736.7h-1V735.2h-1V736.0h-1V735.5h-1V736.7h-1V738.3h-1V737.6h-1V736.5h-1V736.7h-1V734.5h-1V736.7h-1V735.1h-1V734.8h-1V736.3h-1V736.3h-1V735.6h-1V734.7h-1V735.5h-1V736.1h-1Z" fill="#d50800"/><polygon points="336,704.0 342,704.0 357,753.0 356,760.0 352,758.0" fill="#d50800"/><polygon points="358,730.0 362,709.0 366,708.0 366,717.0 361,734.0" fill="#d50800"/><polygon points="1158.5,738.0 1161,738.0 1165,804.0 1163,808.0" fill="#d50800"/><rect x="1009" y="712.5" width="1" height="24.3" fill="#d50d00"/><rect x="1010" y="712.5" width="1" height="23.8" fill="#d50d00"/><rect x="1011" y="711.5" width="1" height="24.9" fill="#d50d00"/><rect x="1012" y="708.8" width="1" height="27.5" fill="#bd0d00"/><rect x="1013" y="710.7" width="1" height="24.0" fill="#d50d00"/><rect x="1014" y="711.8" width="1" height="22.2" fill="#d50d00"/><rect x="1016" y="712.2" width="1" height="22.4" fill="#bd0d00"/><rect x="1017" y="713.2" width="1" height="22.4" fill="#d50d00"/><rect x="1019" y="711.3" width="1" height="21.2" fill="#d50d00"/><rect x="1021" y="717.5" width="1" height="18.3" fill="#bd0d00"/><rect x="1022" y="712.3" width="1" height="22.6" fill="#d50d00"/><rect x="1023" y="710.9" width="1" height="24.9" fill="#d50d00"/><rect x="1024" y="712.1" width="1" height="22.5" fill="#d50d00"/><rect x="1030" y="711.9" width="1" height="25.1" fill="#a50d00"/><rect x="1031" y="714.9" width="1" height="25.3" fill="#bd0d00"/><rect x="1033" y="712.7" width="1" height="23.7" fill="#d50d00"/><rect x="1035" y="714.2" width="1" height="19.9" fill="#d50d00"/><rect x="1038" y="713.3" width="1" height="22.2" fill="#d50d00"/><rect x="1039" y="715.4" width="1" height="25.3" fill="#d50d00"/><rect x="1040" y="713.2" width="1" height="29.4" fill="#d50d00"/><rect x="1042" y="723.3" width="1" height="18.4" fill="#bd0d00"/><rect x="1043" y="715.5" width="1" height="21.9" fill="#d50d00"/><rect x="1045" y="715.4" width="1" height="22.3" fill="#d50d00"/><rect x="468" y="779.9" width="1" height="29.0" fill="#d50d00"/><rect x="477" y="786.4" width="1" height="22.4" fill="#a50d00"/><rect x="483" y="791.5" width="1" height="18.2" fill="#a50d00"/><rect x="485" y="792.5" width="1" height="18.0" fill="#d50d00"/><rect x="486" y="787.8" width="1" height="25.3" fill="#d50d00"/><rect x="488" y="790.4" width="1" height="20.2" fill="#d50d00"/><rect x="978" y="819.0" width="1" height="17.4" fill="#bd0d00"/><rect x="979" y="819.5" width="1" height="17.6" fill="#d50d00"/><rect x="980" y="822.4" width="1" height="13.0" fill="#d50d00"/><rect x="995" y="827.8" width="1" height="19.2" fill="#d50d00"/><rect x="999" y="829.4" width="1" height="19.7" fill="#a50d00"/><rect x="879" y="839.5" width="1" height="20.6" fill="#d50d00"/><rect x="881" y="842.8" width="1" height="16.8" fill="#d50d00"/><rect x="884" y="844.3" width="1" height="17.2" fill="#d50d00"/><rect x="886" y="847.5" width="1" height="16.9" fill="#d50d00"/><rect x="887" y="844.8" width="1" height="16.3" fill="#a50d00"/><rect x="888" y="848.3" width="1" height="17.2" fill="#d50d00"/><rect x="889" y="846.3" width="1" height="14.1" fill="#bd0d00"/><rect x="891" y="848.3" width="1" height="13.7" fill="#bd0d00"/><rect x="892" y="846.6" width="1" height="18.8" fill="#d50d00"/><rect x="893" y="849.1" width="1" height="12.3" fill="#d50d00"/><rect x="897" y="852.2" width="1" height="14.6" fill="#d50d00"/><rect x="898" y="847.2" width="1" height="19.6" fill="#a50d00"/><rect x="899" y="852.0" width="1" height="12.5" fill="#d50d00"/><rect x="900" y="850.3" width="1" height="14.3" fill="#d50d00"/><rect x="1002" y="718.9" width="1" height="13.5" fill="#a50d00"/><rect x="1003" y="719.2" width="1" height="15.4" fill="#d50d00"/><rect x="1004" y="721.2" width="1" height="16.4" fill="#bd0d00"/><rect x="1005" y="721.7" width="1" height="14.2" fill="#d50d00"/><rect x="1006" y="726.3" width="1" height="16.2" fill="#d50d00"/><rect x="1007" y="721.5" width="1" height="18.8" fill="#bd0d00"/><rect x="1008" y="722.7" width="1" height="19.0" fill="#a50d00"/><rect x="1009" y="728.0" width="1" height="12.1" fill="#d50d00"/><rect x="1010" y="725.9" width="1" height="16.6" fill="#d50d00"/><rect x="1011" y="724.3" width="1" height="18.1" fill="#d50d00"/><rect x="1012" y="727.9" width="1" height="15.8" fill="#d50d00"/><rect x="1013" y="730.2" width="1" height="16.1" fill="#d50d00"/><rect x="1014" y="729.5" width="1" height="17.9" fill="#d50d00"/><rect x="1015" y="733.0" width="1" height="14.9" fill="#d50d00"/><rect x="1016" y="731.4" width="1" height="16.2" fill="#d50d00"/><rect x="1017" y="731.2" width="1" height="19.5" fill="#d50d00"/><rect x="1018" y="730.5" width="1" height="17.5" fill="#d50d00"/><rect x="1019" y="731.6" width="1" height="17.8" fill="#bd0d00"/><rect x="1020" y="736.6" width="1" height="15.7" fill="#bd0d00"/><rect x="1021" y="739.1" width="1" height="13.2" fill="#d50d00"/><rect x="1022" y="737.1" width="1" height="14.9" fill="#d50d00"/><rect x="1023" y="737.7" width="1" height="14.7" fill="#bd0d00"/><rect x="1024" y="738.5" width="1" height="15.6" fill="#bd0d00"/><rect x="1025" y="739.0" width="1" height="19.0" fill="#d50d00"/><rect x="1026" y="744.2" width="1" height="15.3" fill="#d50d00"/><rect x="1027" y="745.0" width="1" height="13.4" fill="#d50d00"/><rect x="1028" y="742.0" width="1" height="18.8" fill="#a50d00"/><rect x="1029" y="745.4" width="1" height="15.3" fill="#d50d00"/><rect x="1030" y="744.8" width="1" height="17.4" fill="#d50d00"/><rect x="1031" y="742.7" width="1" height="21.4" fill="#d50d00"/><rect x="1032" y="747.3" width="1" height="16.2" fill="#d50d00"/><rect x="1033" y="749.6" width="1" height="13.7" fill="#d50d00"/><rect x="1034" y="749.8" width="1" height="16.8" fill="#d50d00"/><rect x="1035" y="751.9" width="1" height="13.5" fill="#d50d00"/><rect x="1036" y="753.6" width="1" height="13.4" fill="#a50d00"/><rect x="1037" y="752.0" width="1" height="18.0" fill="#d50d00"/><rect x="1038" y="753.5" width="1" height="12.9" fill="#d50d00"/><rect x="1039" y="753.4" width="1" height="16.0" fill="#bd0d00"/><rect x="1040" y="758.9" width="1" height="10.4" fill="#d50d00"/><rect x="1041" y="758.7" width="1" height="12.7" fill="#d50d00"/><rect x="1042" y="758.9" width="1" height="12.8" fill="#d50d00"/><rect x="1043" y="760.1" width="1" height="15.5" fill="#d50d00"/><rect x="1044" y="759.4" width="1" height="15.4" fill="#d50d00"/><rect x="1045" y="762.7" width="1" height="12.8" fill="#d50d00"/><rect x="1046" y="761.1" width="1" height="16.9" fill="#d50d00"/><rect x="1047" y="768.0" width="1" height="9.0" fill="#a50d00"/><rect x="1048" y="761.5" width="1" height="15.3" fill="#d50d00"/><rect x="1049" y="764.9" width="1" height="17.1" fill="#d50d00"/><rect x="1050" y="764.7" width="1" height="15.8" fill="#d50d00"/><rect x="1051" y="766.5" width="1" height="11.9" fill="#d50d00"/><rect x="1052" y="765.4" width="1" height="20.4" fill="#a50d00"/><rect x="1053" y="766.5" width="1" height="17.3" fill="#a50d00"/><rect x="1054" y="768.7" width="1" height="18.9" fill="#d50d00"/><rect x="1055" y="769.5" width="1" height="18.9" fill="#d50d00"/><rect x="1064" y="711.2" width="1" height="16.3" fill="#d50d00"/><rect x="1065" y="710.1" width="1" height="24.4" fill="#d50d00"/><rect x="1066" y="713.3" width="1" height="16.7" fill="#d50d00"/><rect x="1067" y="714.1" width="1" height="24.1" fill="#bd0d00"/><rect x="1068" y="718.6" width="1" height="17.7" fill="#d50d00"/><rect x="1069" y="727.8" width="1" height="11.7" fill="#d50d00"/><rect x="1070" y="719.6" width="1" height="22.6" fill="#a50d00"/><rect x="1071" y="722.4" width="1" height="18.3" fill="#a50d00"/><rect x="1072" y="725.9" width="1" height="20.7" fill="#bd0d00"/><rect x="1073" y="725.2" width="1" height="23.5" fill="#d50d00"/><rect x="1074" y="725.0" width="1" height="22.6" fill="#d50d00"/><rect x="1075" y="728.6" width="1" height="19.7" fill="#d50d00"/><rect x="1076" y="731.0" width="1" height="19.5" fill="#d50d00"/><rect x="1077" y="732.8" width="1" height="19.1" fill="#d50d00"/><rect x="1078" y="732.6" width="1" height="18.7" fill="#d50d00"/><rect x="1079" y="736.5" width="1" height="17.4" fill="#d50d00"/><rect x="1080" y="737.3" width="1" height="15.5" fill="#d50d00"/><rect x="1081" y="738.5" width="1" height="22.9" fill="#d50d00"/><rect x="1082" y="744.4" width="1" height="17.1" fill="#a50d00"/><rect x="1083" y="743.2" width="1" height="21.6" fill="#bd0d00"/><rect x="1084" y="743.6" width="1" height="17.2" fill="#d50d00"/><rect x="1085" y="745.9" width="1" height="18.9" fill="#d50d00"/><rect x="1086" y="748.2" width="1" height="17.7" fill="#d50d00"/><rect x="1087" y="748.7" width="1" height="18.1" fill="#d50d00"/><rect x="1088" y="751.5" width="1" height="16.1" fill="#a50d00"/><rect x="1089" y="762.3" width="1" height="12.4" fill="#d50d00"/><rect x="1090" y="755.8" width="1" height="16.3" fill="#a50d00"/><rect x="1091" y="757.4" width="1" height="15.5" fill="#d50d00"/><rect x="1092" y="757.2" width="1" height="17.1" fill="#d50d00"/><rect x="1093" y="760.6" width="1" height="16.7" fill="#d50d00"/><rect x="1094" y="761.5" width="1" height="14.1" fill="#d50d00"/><rect x="1095" y="769.3" width="1" height="8.3" fill="#bd0d00"/><rect x="1096" y="769.3" width="1" height="11.4" fill="#d50d00"/><rect x="1097" y="766.2" width="1" height="12.7" fill="#d50d00"/><rect x="1098" y="768.8" width="1" height="18.2" fill="#d50d00"/><rect x="1099" y="771.3" width="1" height="17.2" fill="#d50d00"/><rect x="1100" y="770.1" width="1" height="18.8" fill="#d50d00"/><rect x="1101" y="771.9" width="1" height="19.9" fill="#d50d00"/><rect x="1102" y="775.4" width="1" height="16.3" fill="#d50d00"/><rect x="1103" y="781.8" width="1" height="12.7" fill="#d50d00"/><rect x="1104" y="779.3" width="1" height="14.5" fill="#bd0d00"/><rect x="1105" y="785.1" width="1" height="8.5" fill="#d50d00"/><rect x="1106" y="782.5" width="1" height="15.9" fill="#a50d00"/><rect x="1107" y="780.2" width="1" height="23.2" fill="#d50d00"/><rect x="1108" y="785.0" width="1" height="19.1" fill="#d50d00"/><rect x="1109" y="785.8" width="1" height="20.2" fill="#d50d00"/><rect x="1110" y="787.3" width="1" height="18.1" fill="#d50d00"/><rect x="1111" y="790.2" width="1" height="15.4" fill="#d50d00"/></g></g>
<rect x="55.4" y="37.4" width="1395.1" height="411.0" fill="none" stroke="#000" stroke-width="1.25"/>
<line x1="55.4" y1="448.4" x2="61.4" y2="448.4" stroke="#000" stroke-width="1.25"/>
<line x1="1444.5" y1="448.4" x2="1450.5" y2="448.4" stroke="#000" stroke-width="1.25"/>
<text x="49.6" y="454.79999999999995" font-size="18" text-anchor="end">0</text>
<line x1="55.4" y1="311.4" x2="61.4" y2="311.4" stroke="#000" stroke-width="1.25"/>
<line x1="1444.5" y1="311.4" x2="1450.5" y2="311.4" stroke="#000" stroke-width="1.25"/>
<text x="49.6" y="317.79999999999995" font-size="18" text-anchor="end">1</text>
<line x1="55.4" y1="174.39999999999998" x2="61.4" y2="174.39999999999998" stroke="#000" stroke-width="1.25"/>
<line x1="1444.5" y1="174.39999999999998" x2="1450.5" y2="174.39999999999998" stroke="#000" stroke-width="1.25"/>
<text x="49.6" y="180.79999999999998" font-size="18" text-anchor="end">2</text>
<line x1="55.4" y1="37.39999999999998" x2="61.4" y2="37.39999999999998" stroke="#000" stroke-width="1.25"/>
<line x1="1444.5" y1="37.39999999999998" x2="1450.5" y2="37.39999999999998" stroke="#000" stroke-width="1.25"/>
<text x="49.6" y="43.799999999999976" font-size="18" text-anchor="end">3</text>
<line x1="55.4" y1="448.4" x2="55.4" y2="454.4" stroke="#000" stroke-width="1.25"/>
<text x="55.4" y="473.9" font-size="18" text-anchor="middle">0</text>
<line x1="113.52916666666667" y1="448.4" x2="113.52916666666667" y2="454.4" stroke="#000" stroke-width="1.25"/>
<text x="113.52916666666667" y="473.9" font-size="18" text-anchor="middle">1</text>
<line x1="171.65833333333333" y1="448.4" x2="171.65833333333333" y2="454.4" stroke="#000" stroke-width="1.25"/>
<text x="171.65833333333333" y="473.9" font-size="18" text-anchor="middle">2</text>
<line x1="229.7875" y1="448.4" x2="229.7875" y2="454.4" stroke="#000" stroke-width="1.25"/>
<text x="229.7875" y="473.9" font-size="18" text-anchor="middle">3</text>
<line x1="287.91666666666663" y1="448.4" x2="287.91666666666663" y2="454.4" stroke="#000" stroke-width="1.25"/>
<text x="287.91666666666663" y="473.9" font-size="18" text-anchor="middle">4</text>
<line x1="346.0458333333333" y1="448.4" x2="346.0458333333333" y2="454.4" stroke="#000" stroke-width="1.25"/>
<text x="346.0458333333333" y="473.9" font-size="18" text-anchor="middle">5</text>
<line x1="404.17499999999995" y1="448.4" x2="404.17499999999995" y2="454.4" stroke="#000" stroke-width="1.25"/>
<text x="404.17499999999995" y="473.9" font-size="18" text-anchor="middle">6</text>
<line x1="462.3041666666666" y1="448.4" x2="462.3041666666666" y2="454.4" stroke="#000" stroke-width="1.25"/>
<text x="462.3041666666666" y="473.9" font-size="18" text-anchor="middle">7</text>
<line x1="520.4333333333333" y1="448.4" x2="520.4333333333333" y2="454.4" stroke="#000" stroke-width="1.25"/>
<text x="520.4333333333333" y="473.9" font-size="18" text-anchor="middle">8</text>
<line x1="578.5624999999999" y1="448.4" x2="578.5624999999999" y2="454.4" stroke="#000" stroke-width="1.25"/>
<text x="578.5624999999999" y="473.9" font-size="18" text-anchor="middle">9</text>
<line x1="636.6916666666666" y1="448.4" x2="636.6916666666666" y2="454.4" stroke="#000" stroke-width="1.25"/>
<text x="636.6916666666666" y="473.9" font-size="18" text-anchor="middle">10</text>
<line x1="694.8208333333333" y1="448.4" x2="694.8208333333333" y2="454.4" stroke="#000" stroke-width="1.25"/>
<text x="694.8208333333333" y="473.9" font-size="18" text-anchor="middle">11</text>
<line x1="752.9499999999999" y1="448.4" x2="752.9499999999999" y2="454.4" stroke="#000" stroke-width="1.25"/>
<text x="752.9499999999999" y="473.9" font-size="18" text-anchor="middle">12</text>
<line x1="811.0791666666665" y1="448.4" x2="811.0791666666665" y2="454.4" stroke="#000" stroke-width="1.25"/>
<text x="811.0791666666665" y="473.9" font-size="18" text-anchor="middle">13</text>
<line x1="869.2083333333333" y1="448.4" x2="869.2083333333333" y2="454.4" stroke="#000" stroke-width="1.25"/>
<text x="869.2083333333333" y="473.9" font-size="18" text-anchor="middle">14</text>
<line x1="927.3375" y1="448.4" x2="927.3375" y2="454.4" stroke="#000" stroke-width="1.25"/>
<text x="927.3375" y="473.9" font-size="18" text-anchor="middle">15</text>
<line x1="985.4666666666666" y1="448.4" x2="985.4666666666666" y2="454.4" stroke="#000" stroke-width="1.25"/>
<text x="985.4666666666666" y="473.9" font-size="18" text-anchor="middle">16</text>
<line x1="1043.5958333333333" y1="448.4" x2="1043.5958333333333" y2="454.4" stroke="#000" stroke-width="1.25"/>
<text x="1043.5958333333333" y="473.9" font-size="18" text-anchor="middle">17</text>
<line x1="1101.725" y1="448.4" x2="1101.725" y2="454.4" stroke="#000" stroke-width="1.25"/>
<text x="1101.725" y="473.9" font-size="18" text-anchor="middle">18</text>
<line x1="1159.8541666666667" y1="448.4" x2="1159.8541666666667" y2="454.4" stroke="#000" stroke-width="1.25"/>
<text x="1159.8541666666667" y="473.9" font-size="18" text-anchor="middle">19</text>
<line x1="1217.9833333333333" y1="448.4" x2="1217.9833333333333" y2="454.4" stroke="#000" stroke-width="1.25"/>
<text x="1217.9833333333333" y="473.9" font-size="18" text-anchor="middle">20</text>
<text x="492.3" y="27.9" font-size="22" font-weight="bold" fill="#404040" textLength="521.9000000000001" lengthAdjust="spacingAndGlyphs">Raw attenuated backscattering coefficient</text>
<text transform="translate(26.7,243.49999999999997) rotate(-90)" font-size="22" text-anchor="middle" textLength="141.5" lengthAdjust="spacingAndGlyphs">Altitude (km)</text>
<rect x="55.4" y="541.4" width="1395.1" height="411.0" fill="none" stroke="#000" stroke-width="1.25"/>
<line x1="55.4" y1="952.4" x2="61.4" y2="952.4" stroke="#000" stroke-width="1.25"/>
<line x1="1444.5" y1="952.4" x2="1450.5" y2="952.4" stroke="#000" stroke-width="1.25"/>
<text x="49.6" y="958.8" font-size="18" text-anchor="end">0</text>
<line x1="55.4" y1="815.4" x2="61.4" y2="815.4" stroke="#000" stroke-width="1.25"/>
<line x1="1444.5" y1="815.4" x2="1450.5" y2="815.4" stroke="#000" stroke-width="1.25"/>
<text x="49.6" y="821.8" font-size="18" text-anchor="end">1</text>
<line x1="55.4" y1="678.4" x2="61.4" y2="678.4" stroke="#000" stroke-width="1.25"/>
<line x1="1444.5" y1="678.4" x2="1450.5" y2="678.4" stroke="#000" stroke-width="1.25"/>
<text x="49.6" y="684.8" font-size="18" text-anchor="end">2</text>
<line x1="55.4" y1="541.4" x2="61.4" y2="541.4" stroke="#000" stroke-width="1.25"/>
<line x1="1444.5" y1="541.4" x2="1450.5" y2="541.4" stroke="#000" stroke-width="1.25"/>
<text x="49.6" y="547.8" font-size="18" text-anchor="end">3</text>
<line x1="55.4" y1="952.4" x2="55.4" y2="958.4" stroke="#000" stroke-width="1.25"/>
<text x="55.4" y="977.9" font-size="18" text-anchor="middle">0</text>
<line x1="113.52916666666667" y1="952.4" x2="113.52916666666667" y2="958.4" stroke="#000" stroke-width="1.25"/>
<text x="113.52916666666667" y="977.9" font-size="18" text-anchor="middle">1</text>
<line x1="171.65833333333333" y1="952.4" x2="171.65833333333333" y2="958.4" stroke="#000" stroke-width="1.25"/>
<text x="171.65833333333333" y="977.9" font-size="18" text-anchor="middle">2</text>
<line x1="229.7875" y1="952.4" x2="229.7875" y2="958.4" stroke="#000" stroke-width="1.25"/>
<text x="229.7875" y="977.9" font-size="18" text-anchor="middle">3</text>
<line x1="287.91666666666663" y1="952.4" x2="287.91666666666663" y2="958.4" stroke="#000" stroke-width="1.25"/>
<text x="287.91666666666663" y="977.9" font-size="18" text-anchor="middle">4</text>
<line x1="346.0458333333333" y1="952.4" x2="346.0458333333333" y2="958.4" stroke="#000" stroke-width="1.25"/>
<text x="346.0458333333333" y="977.9" font-size="18" text-anchor="middle">5</text>
<line x1="404.17499999999995" y1="952.4" x2="404.17499999999995" y2="958.4" stroke="#000" stroke-width="1.25"/>
<text x="404.17499999999995" y="977.9" font-size="18" text-anchor="middle">6</text>
<line x1="462.3041666666666" y1="952.4" x2="462.3041666666666" y2="958.4" stroke="#000" stroke-width="1.25"/>
<text x="462.3041666666666" y="977.9" font-size="18" text-anchor="middle">7</text>
<line x1="520.4333333333333" y1="952.4" x2="520.4333333333333" y2="958.4" stroke="#000" stroke-width="1.25"/>
<text x="520.4333333333333" y="977.9" font-size="18" text-anchor="middle">8</text>
<line x1="578.5624999999999" y1="952.4" x2="578.5624999999999" y2="958.4" stroke="#000" stroke-width="1.25"/>
<text x="578.5624999999999" y="977.9" font-size="18" text-anchor="middle">9</text>
<line x1="636.6916666666666" y1="952.4" x2="636.6916666666666" y2="958.4" stroke="#000" stroke-width="1.25"/>
<text x="636.6916666666666" y="977.9" font-size="18" text-anchor="middle">10</text>
<line x1="694.8208333333333" y1="952.4" x2="694.8208333333333" y2="958.4" stroke="#000" stroke-width="1.25"/>
<text x="694.8208333333333" y="977.9" font-size="18" text-anchor="middle">11</text>
<line x1="752.9499999999999" y1="952.4" x2="752.9499999999999" y2="958.4" stroke="#000" stroke-width="1.25"/>
<text x="752.9499999999999" y="977.9" font-size="18" text-anchor="middle">12</text>
<line x1="811.0791666666665" y1="952.4" x2="811.0791666666665" y2="958.4" stroke="#000" stroke-width="1.25"/>
<text x="811.0791666666665" y="977.9" font-size="18" text-anchor="middle">13</text>
<line x1="869.2083333333333" y1="952.4" x2="869.2083333333333" y2="958.4" stroke="#000" stroke-width="1.25"/>
<text x="869.2083333333333" y="977.9" font-size="18" text-anchor="middle">14</text>
<line x1="927.3375" y1="952.4" x2="927.3375" y2="958.4" stroke="#000" stroke-width="1.25"/>
<text x="927.3375" y="977.9" font-size="18" text-anchor="middle">15</text>
<line x1="985.4666666666666" y1="952.4" x2="985.4666666666666" y2="958.4" stroke="#000" stroke-width="1.25"/>
<text x="985.4666666666666" y="977.9" font-size="18" text-anchor="middle">16</text>
<line x1="1043.5958333333333" y1="952.4" x2="1043.5958333333333" y2="958.4" stroke="#000" stroke-width="1.25"/>
<text x="1043.5958333333333" y="977.9" font-size="18" text-anchor="middle">17</text>
<line x1="1101.725" y1="952.4" x2="1101.725" y2="958.4" stroke="#000" stroke-width="1.25"/>
<text x="1101.725" y="977.9" font-size="18" text-anchor="middle">18</text>
<line x1="1159.8541666666667" y1="952.4" x2="1159.8541666666667" y2="958.4" stroke="#000" stroke-width="1.25"/>
<text x="1159.8541666666667" y="977.9" font-size="18" text-anchor="middle">19</text>
<line x1="1217.9833333333333" y1="952.4" x2="1217.9833333333333" y2="958.4" stroke="#000" stroke-width="1.25"/>
<text x="1217.9833333333333" y="977.9" font-size="18" text-anchor="middle">20</text>
<text x="421.2" y="531.8" font-size="22" font-weight="bold" fill="#404040" textLength="663.5" lengthAdjust="spacingAndGlyphs">Attenuated backscattering coefficient (SNR-screened)</text>
<text transform="translate(26.7,747.5) rotate(-90)" font-size="22" text-anchor="middle" textLength="141.5" lengthAdjust="spacingAndGlyphs">Altitude (km)</text>
<text x="692" y="1004.8" font-size="22" textLength="122.6" lengthAdjust="spacingAndGlyphs">Time (UTC)</text>
<rect x="1504.4" y="709.00" width="21.899999999999864" height="8.70" fill="#e6e6ff"/>
<rect x="1504.4" y="700.60" width="21.899999999999864" height="8.70" fill="#b3b3ff"/>
<rect x="1504.4" y="692.20" width="21.899999999999864" height="8.70" fill="#8080ff"/>
<rect x="1504.4" y="683.80" width="21.899999999999864" height="8.70" fill="#4d4dff"/>
<rect x="1504.4" y="675.40" width="21.899999999999864" height="8.70" fill="#1a1aff"/>
<rect x="1504.4" y="667.00" width="21.899999999999864" height="8.70" fill="#0000f6"/>
<rect x="1504.4" y="658.60" width="21.899999999999864" height="8.70" fill="#0000ff"/>
<rect x="1504.4" y="650.20" width="21.899999999999864" height="8.70" fill="#0012ff"/>
<rect x="1504.4" y="641.80" width="21.899999999999864" height="8.70" fill="#0027ff"/>
<rect x="1504.4" y="633.40" width="21.899999999999864" height="8.70" fill="#003cff"/>
<rect x="1504.4" y="625.00" width="21.899999999999864" height="8.70" fill="#0051ff"/>
<rect x="1504.4" y="616.60" width="21.899999999999864" height="8.70" fill="#0065ff"/>
<rect x="1504.4" y="608.20" width="21.899999999999864" height="8.70" fill="#007aff"/>
<rect x="1504.4" y="599.80" width="21.899999999999864" height="8.70" fill="#008fff"/>
<rect x="1504.4" y="591.40" width="21.899999999999864" height="8.70" fill="#00a4ff"/>
<rect x="1504.4" y="583.00" width="21.899999999999864" height="8.70" fill="#00b9ff"/>
<rect x="1504.4" y="574.60" width="21.899999999999864" height="8.70" fill="#00ceff"/>
<rect x="1504.4" y="566.20" width="21.899999999999864" height="8.70" fill="#00e2f9"/>
<rect x="1504.4" y="557.80" width="21.899999999999864" height="8.70" fill="#0ef7e9"/>
<rect x="1504.4" y="549.40" width="21.899999999999864" height="8.70" fill="#1fffd8"/>
<rect x="1504.4" y="541.00" width="21.899999999999864" height="8.70" fill="#30ffc7"/>
<rect x="1504.4" y="532.60" width="21.899999999999864" height="8.70" fill="#41ffb6"/>
<rect x="1504.4" y="524.20" width="21.899999999999864" height="8.70" fill="#51ffa5"/>
<rect x="1504.4" y="515.80" width="21.899999999999864" height="8.70" fill="#62ff95"/>
<rect x="1504.4" y="507.40" width="21.899999999999864" height="8.70" fill="#73ff84"/>
<rect x="1504.4" y="499.00" width="21.899999999999864" height="8.70" fill="#84ff73"/>
<rect x="1504.4" y="490.60" width="21.899999999999864" height="8.70" fill="#95ff62"/>
<rect x="1504.4" y="482.20" width="21.899999999999864" height="8.70" fill="#a5ff51"/>
<rect x="1504.4" y="473.80" width="21.899999999999864" height="8.70" fill="#b6ff41"/>
<rect x="1504.4" y="465.40" width="21.899999999999864" height="8.70" fill="#c7ff30"/>
<rect x="1504.4" y="457.00" width="21.899999999999864" height="8.70" fill="#d8ff1f"/>
<rect x="1504.4" y="448.60" width="21.899999999999864" height="8.70" fill="#e9ff0e"/>
<rect x="1504.4" y="440.20" width="21.899999999999864" height="8.70" fill="#f9f300"/>
<rect x="1504.4" y="431.80" width="21.899999999999864" height="8.70" fill="#ffdf00"/>
<rect x="1504.4" y="423.40" width="21.899999999999864" height="8.70" fill="#ffcc00"/>
<rect x="1504.4" y="415.00" width="21.899999999999864" height="8.70" fill="#ffb900"/>
<rect x="1504.4" y="406.60" width="21.899999999999864" height="8.70" fill="#ffa600"/>
<rect x="1504.4" y="398.20" width="21.899999999999864" height="8.70" fill="#ff9200"/>
<rect x="1504.4" y="389.80" width="21.899999999999864" height="8.70" fill="#ff7f00"/>
<rect x="1504.4" y="381.40" width="21.899999999999864" height="8.70" fill="#ff6c00"/>
<rect x="1504.4" y="373.00" width="21.899999999999864" height="8.70" fill="#ff5800"/>
<rect x="1504.4" y="364.60" width="21.899999999999864" height="8.70" fill="#ff4500"/>
<rect x="1504.4" y="356.20" width="21.899999999999864" height="8.70" fill="#ff3200"/>
<rect x="1504.4" y="347.80" width="21.899999999999864" height="8.70" fill="#ff1f00"/>
<rect x="1504.4" y="339.40" width="21.899999999999864" height="8.70" fill="#f60b00"/>
<rect x="1504.4" y="331.00" width="21.899999999999864" height="8.70" fill="#de0000"/>
<rect x="1504.4" y="322.60" width="21.899999999999864" height="8.70" fill="#c60000"/>
<rect x="1504.4" y="314.20" width="21.899999999999864" height="8.70" fill="#af0000"/>
<rect x="1504.4" y="305.80" width="21.899999999999864" height="8.70" fill="#970000"/>
<rect x="1504.4" y="297.40" width="21.899999999999864" height="8.70" fill="#800000"/>
<rect x="1504.4" y="297.4" width="21.899999999999864" height="420.0" fill="none" stroke="#000" stroke-width="1.25"/>
<text x="1532" y="304.9" font-size="22" textLength="47.2" lengthAdjust="spacingAndGlyphs">1e-4</text>
<text x="1532" y="724.9" font-size="22" textLength="47" lengthAdjust="spacingAndGlyphs">1e-7</text>
<text transform="translate(1581.2,510.3) rotate(-90)" font-size="22" text-anchor="middle" textLength="69.5" lengthAdjust="spacingAndGlyphs">1/m/sr</text>
</svg></body></html>
